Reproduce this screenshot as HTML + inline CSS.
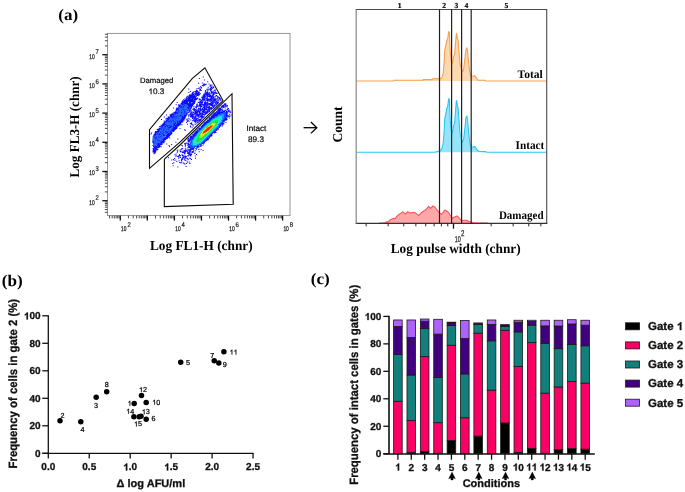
<!DOCTYPE html>
<html><head><meta charset="utf-8"><style>
html,body{margin:0;padding:0;background:#fff;}
svg{display:block;will-change:transform;}
</style></head><body>
<svg width="685" height="492" viewBox="0 0 685 492" text-rendering="geometricPrecision">
<rect width="685" height="492" fill="#fff"/>
<text x="58.30" y="19.50" font-family="'Liberation Serif', serif" font-size="16" font-weight="bold" text-anchor="start" fill="#000"  textLength="19.8" lengthAdjust="spacingAndGlyphs">(a)</text>
<path d="M156.6 141.0h1.0v1.0h-1.0zM170.7 125.2h1.0v1.0h-1.0zM188.2 105.3h1.0v1.0h-1.0zM160.8 135.8h1.0v1.0h-1.0zM155.7 140.1h1.0v1.0h-1.0zM159.4 141.3h1.0v1.0h-1.0zM179.9 121.7h1.0v1.0h-1.0zM153.4 149.3h1.0v1.0h-1.0zM172.5 115.2h1.0v1.0h-1.0zM153.6 150.4h1.0v1.0h-1.0zM168.9 132.6h1.0v1.0h-1.0zM164.2 125.7h1.0v1.0h-1.0zM169.4 130.5h1.0v1.0h-1.0zM183.1 115.5h1.0v1.0h-1.0zM177.7 122.8h1.0v1.0h-1.0zM166.9 122.9h1.0v1.0h-1.0zM182.1 103.7h1.0v1.0h-1.0zM157.8 129.8h1.0v1.0h-1.0zM169.6 129.5h1.0v1.0h-1.0zM153.9 143.6h1.0v1.0h-1.0zM156.3 138.9h1.0v1.0h-1.0zM191.0 97.1h1.0v1.0h-1.0zM171.8 123.7h1.0v1.0h-1.0zM190.0 99.3h1.0v1.0h-1.0zM188.6 105.3h1.0v1.0h-1.0zM176.0 108.6h1.0v1.0h-1.0zM171.1 129.0h1.0v1.0h-1.0zM192.8 100.6h1.0v1.0h-1.0zM152.5 145.1h1.0v1.0h-1.0zM181.2 119.6h1.0v1.0h-1.0zM155.3 144.2h1.0v1.0h-1.0zM179.8 114.5h1.0v1.0h-1.0zM170.6 119.2h1.0v1.0h-1.0zM172.7 119.0h1.0v1.0h-1.0zM193.5 101.9h1.0v1.0h-1.0zM175.8 125.4h1.0v1.0h-1.0zM155.7 145.2h1.0v1.0h-1.0zM187.2 104.0h1.0v1.0h-1.0zM169.6 129.5h1.0v1.0h-1.0zM168.5 119.7h1.0v1.0h-1.0zM178.6 114.0h1.0v1.0h-1.0zM189.6 100.9h1.0v1.0h-1.0zM175.8 124.3h1.0v1.0h-1.0zM157.5 130.2h1.0v1.0h-1.0zM199.3 89.5h1.0v1.0h-1.0zM165.8 126.9h1.0v1.0h-1.0zM170.7 126.9h1.0v1.0h-1.0zM175.3 124.3h1.0v1.0h-1.0zM165.9 135.1h1.0v1.0h-1.0zM195.4 93.0h1.0v1.0h-1.0zM165.9 128.1h1.0v1.0h-1.0zM166.3 132.8h1.0v1.0h-1.0zM196.3 98.1h1.0v1.0h-1.0zM190.2 104.0h1.0v1.0h-1.0zM182.1 111.0h1.0v1.0h-1.0zM174.5 125.6h1.0v1.0h-1.0zM169.5 129.5h1.0v1.0h-1.0zM173.9 127.7h1.0v1.0h-1.0zM167.9 135.1h1.0v1.0h-1.0zM154.4 135.3h1.0v1.0h-1.0zM170.6 126.1h1.0v1.0h-1.0zM162.3 127.5h1.0v1.0h-1.0zM187.7 109.2h1.0v1.0h-1.0zM193.6 95.1h1.0v1.0h-1.0zM191.4 105.5h1.0v1.0h-1.0zM177.1 117.8h1.0v1.0h-1.0zM178.2 110.2h1.0v1.0h-1.0zM192.3 101.4h1.0v1.0h-1.0zM164.1 139.0h1.0v1.0h-1.0zM170.3 116.0h1.0v1.0h-1.0zM187.2 100.0h1.0v1.0h-1.0zM154.1 134.6h1.0v1.0h-1.0zM185.2 105.2h1.0v1.0h-1.0zM188.1 99.6h1.0v1.0h-1.0zM172.6 127.6h1.0v1.0h-1.0zM182.4 112.2h1.0v1.0h-1.0zM185.5 99.6h1.0v1.0h-1.0zM153.3 134.7h1.0v1.0h-1.0zM164.9 129.6h1.0v1.0h-1.0zM155.5 142.2h1.0v1.0h-1.0zM177.1 117.7h1.0v1.0h-1.0zM173.3 127.0h1.0v1.0h-1.0zM187.1 101.2h1.0v1.0h-1.0zM187.8 100.5h1.0v1.0h-1.0zM195.1 91.2h1.0v1.0h-1.0zM173.3 118.2h1.0v1.0h-1.0zM174.7 126.3h1.0v1.0h-1.0zM184.1 108.5h1.0v1.0h-1.0zM161.0 133.9h1.0v1.0h-1.0zM159.7 133.1h1.0v1.0h-1.0zM160.4 135.9h1.0v1.0h-1.0zM194.0 101.4h1.0v1.0h-1.0zM164.9 134.6h1.0v1.0h-1.0zM169.5 118.2h1.0v1.0h-1.0zM191.2 97.0h1.0v1.0h-1.0zM171.8 114.0h1.0v1.0h-1.0zM154.4 147.6h1.0v1.0h-1.0zM179.9 116.4h1.0v1.0h-1.0zM162.0 135.8h1.0v1.0h-1.0zM160.9 132.9h1.0v1.0h-1.0zM182.8 109.2h1.0v1.0h-1.0zM186.6 101.6h1.0v1.0h-1.0zM183.0 108.0h1.0v1.0h-1.0zM181.3 104.6h1.0v1.0h-1.0zM188.3 104.4h1.0v1.0h-1.0zM177.3 108.2h1.0v1.0h-1.0zM157.1 142.9h1.0v1.0h-1.0zM162.5 132.2h1.0v1.0h-1.0zM187.9 103.8h1.0v1.0h-1.0zM184.5 101.8h1.0v1.0h-1.0zM176.6 123.5h1.0v1.0h-1.0zM163.5 123.4h1.0v1.0h-1.0zM176.8 109.7h1.0v1.0h-1.0zM164.8 131.7h1.0v1.0h-1.0zM178.6 111.7h1.0v1.0h-1.0zM190.5 99.8h1.0v1.0h-1.0zM172.2 121.7h1.0v1.0h-1.0zM155.9 145.7h1.0v1.0h-1.0zM180.7 120.3h1.0v1.0h-1.0zM191.1 100.2h1.0v1.0h-1.0zM170.3 126.5h1.0v1.0h-1.0zM193.4 103.3h1.0v1.0h-1.0zM184.1 114.3h1.0v1.0h-1.0zM187.0 98.2h1.0v1.0h-1.0zM153.8 139.3h1.0v1.0h-1.0zM175.0 128.5h1.0v1.0h-1.0zM171.0 127.2h1.0v1.0h-1.0zM182.6 110.7h1.0v1.0h-1.0zM164.5 127.5h1.0v1.0h-1.0zM171.9 120.9h1.0v1.0h-1.0zM173.4 129.3h1.0v1.0h-1.0zM181.8 118.5h1.0v1.0h-1.0zM160.8 132.0h1.0v1.0h-1.0zM154.4 140.7h1.0v1.0h-1.0zM165.6 136.2h1.0v1.0h-1.0zM172.2 118.5h1.0v1.0h-1.0zM167.3 131.9h1.0v1.0h-1.0zM170.2 118.8h1.0v1.0h-1.0zM182.8 114.0h1.0v1.0h-1.0zM163.3 132.5h1.0v1.0h-1.0zM160.1 142.2h1.0v1.0h-1.0zM169.6 129.6h1.0v1.0h-1.0zM169.2 118.0h1.0v1.0h-1.0zM197.1 97.6h1.0v1.0h-1.0zM175.3 126.3h1.0v1.0h-1.0zM160.5 131.6h1.0v1.0h-1.0zM168.5 131.6h1.0v1.0h-1.0zM181.4 104.6h1.0v1.0h-1.0zM165.8 131.5h1.0v1.0h-1.0zM158.0 140.6h1.0v1.0h-1.0zM186.8 106.7h1.0v1.0h-1.0zM175.6 117.1h1.0v1.0h-1.0zM199.0 91.7h1.0v1.0h-1.0zM171.8 115.0h1.0v1.0h-1.0zM162.1 125.4h1.0v1.0h-1.0zM160.6 133.6h1.0v1.0h-1.0zM176.2 110.1h1.0v1.0h-1.0zM174.6 115.2h1.0v1.0h-1.0zM186.4 101.6h1.0v1.0h-1.0zM185.4 107.4h1.0v1.0h-1.0zM158.8 138.6h1.0v1.0h-1.0zM184.1 115.2h1.0v1.0h-1.0zM153.1 137.8h1.0v1.0h-1.0zM155.1 151.5h1.0v1.0h-1.0zM177.3 121.0h1.0v1.0h-1.0zM176.9 122.1h1.0v1.0h-1.0zM172.5 117.6h1.0v1.0h-1.0zM154.2 150.8h1.0v1.0h-1.0zM170.8 116.8h1.0v1.0h-1.0zM160.7 142.0h1.0v1.0h-1.0zM161.1 139.2h1.0v1.0h-1.0zM185.4 105.6h1.0v1.0h-1.0zM156.2 141.9h1.0v1.0h-1.0zM164.3 125.4h1.0v1.0h-1.0zM162.9 142.2h1.0v1.0h-1.0zM194.6 92.9h1.0v1.0h-1.0zM165.4 126.4h1.0v1.0h-1.0zM156.7 142.6h1.0v1.0h-1.0zM179.1 121.8h1.0v1.0h-1.0zM172.9 117.5h1.0v1.0h-1.0zM154.7 142.6h1.0v1.0h-1.0zM193.8 93.6h1.0v1.0h-1.0zM154.2 150.2h1.0v1.0h-1.0zM188.6 101.2h1.0v1.0h-1.0zM186.6 110.3h1.0v1.0h-1.0zM181.9 109.1h1.0v1.0h-1.0zM167.5 124.3h1.0v1.0h-1.0zM177.7 125.0h1.0v1.0h-1.0zM186.5 107.9h1.0v1.0h-1.0zM185.7 102.5h1.0v1.0h-1.0zM163.5 139.3h1.0v1.0h-1.0zM166.4 127.0h1.0v1.0h-1.0zM180.7 103.4h1.0v1.0h-1.0zM177.5 111.6h1.0v1.0h-1.0zM186.4 99.4h1.0v1.0h-1.0zM157.4 128.7h1.0v1.0h-1.0zM153.1 143.2h1.0v1.0h-1.0zM186.1 102.2h1.0v1.0h-1.0zM154.7 151.7h1.0v1.0h-1.0zM190.2 102.6h1.0v1.0h-1.0zM195.2 96.7h1.0v1.0h-1.0zM170.6 131.0h1.0v1.0h-1.0zM153.2 147.6h1.0v1.0h-1.0zM155.8 147.7h1.0v1.0h-1.0zM168.6 125.7h1.0v1.0h-1.0zM157.0 130.9h1.0v1.0h-1.0zM170.6 118.8h1.0v1.0h-1.0zM188.5 99.3h1.0v1.0h-1.0zM157.0 138.1h1.0v1.0h-1.0zM153.6 151.5h1.0v1.0h-1.0zM191.2 100.6h1.0v1.0h-1.0zM176.6 120.5h1.0v1.0h-1.0zM197.9 94.2h1.0v1.0h-1.0zM168.5 131.8h1.0v1.0h-1.0zM157.4 140.6h1.0v1.0h-1.0zM184.7 108.8h1.0v1.0h-1.0zM194.3 95.2h1.0v1.0h-1.0zM194.3 96.8h1.0v1.0h-1.0zM179.2 121.1h1.0v1.0h-1.0zM160.4 130.2h1.0v1.0h-1.0zM157.6 140.2h1.0v1.0h-1.0zM168.3 125.8h1.0v1.0h-1.0zM172.8 128.1h1.0v1.0h-1.0zM181.2 106.7h1.0v1.0h-1.0zM155.7 131.0h1.0v1.0h-1.0zM190.5 108.1h1.0v1.0h-1.0zM163.1 127.0h1.0v1.0h-1.0zM158.8 127.7h1.0v1.0h-1.0zM173.6 116.8h1.0v1.0h-1.0zM175.2 127.6h1.0v1.0h-1.0zM158.7 146.0h1.0v1.0h-1.0zM173.5 114.9h1.0v1.0h-1.0zM152.1 140.5h1.0v1.0h-1.0zM192.9 100.3h1.0v1.0h-1.0zM191.1 100.9h1.0v1.0h-1.0zM186.0 112.1h1.0v1.0h-1.0zM157.1 135.5h1.0v1.0h-1.0zM190.9 99.3h1.0v1.0h-1.0zM191.1 96.0h1.0v1.0h-1.0zM167.5 133.8h1.0v1.0h-1.0zM191.0 97.2h1.0v1.0h-1.0zM183.1 99.2h1.0v1.0h-1.0zM188.0 99.5h1.0v1.0h-1.0zM173.3 122.9h1.0v1.0h-1.0zM154.7 132.3h1.0v1.0h-1.0zM163.1 125.4h1.0v1.0h-1.0zM162.8 126.0h1.0v1.0h-1.0zM158.1 142.7h1.0v1.0h-1.0zM188.8 99.6h1.0v1.0h-1.0zM169.6 116.0h1.0v1.0h-1.0zM154.7 143.5h1.0v1.0h-1.0zM186.4 100.6h1.0v1.0h-1.0zM166.8 137.7h1.0v1.0h-1.0zM190.2 101.5h1.0v1.0h-1.0zM156.7 148.5h1.0v1.0h-1.0zM157.3 131.0h1.0v1.0h-1.0zM166.5 124.7h1.0v1.0h-1.0zM184.7 116.4h1.0v1.0h-1.0zM164.1 126.5h1.0v1.0h-1.0zM162.4 126.7h1.0v1.0h-1.0zM181.6 107.6h1.0v1.0h-1.0zM174.6 123.3h1.0v1.0h-1.0zM188.3 109.8h1.0v1.0h-1.0zM170.9 124.0h1.0v1.0h-1.0zM178.7 110.7h1.0v1.0h-1.0zM162.8 129.4h1.0v1.0h-1.0zM174.3 120.3h1.0v1.0h-1.0zM158.1 141.6h1.0v1.0h-1.0zM162.8 131.0h1.0v1.0h-1.0zM203.9 84.7h1.0v1.0h-1.0zM180.0 115.8h1.0v1.0h-1.0zM155.1 131.1h1.0v1.0h-1.0zM179.0 123.6h1.0v1.0h-1.0zM171.7 119.4h1.0v1.0h-1.0zM157.3 144.7h1.0v1.0h-1.0zM172.3 117.9h1.0v1.0h-1.0zM182.2 116.3h1.0v1.0h-1.0zM182.3 115.3h1.0v1.0h-1.0zM155.2 145.9h1.0v1.0h-1.0zM164.1 123.1h1.0v1.0h-1.0zM163.2 125.4h1.0v1.0h-1.0zM190.9 100.7h1.0v1.0h-1.0zM176.0 122.4h1.0v1.0h-1.0zM187.2 112.4h1.0v1.0h-1.0zM154.5 135.2h1.0v1.0h-1.0zM153.3 141.5h1.0v1.0h-1.0zM184.6 102.8h1.0v1.0h-1.0zM154.5 147.5h1.0v1.0h-1.0zM185.7 99.1h1.0v1.0h-1.0zM160.6 146.2h1.0v1.0h-1.0zM180.7 119.6h1.0v1.0h-1.0zM167.2 123.1h1.0v1.0h-1.0zM185.0 100.9h1.0v1.0h-1.0zM158.5 128.5h1.0v1.0h-1.0zM196.5 91.7h1.0v1.0h-1.0zM188.6 110.5h1.0v1.0h-1.0zM168.4 127.8h1.0v1.0h-1.0zM170.9 117.8h1.0v1.0h-1.0zM152.7 150.4h1.0v1.0h-1.0zM192.0 94.9h1.0v1.0h-1.0zM156.9 149.3h1.0v1.0h-1.0zM161.6 130.0h1.0v1.0h-1.0zM154.4 147.8h1.0v1.0h-1.0zM183.5 106.6h1.0v1.0h-1.0zM163.9 122.3h1.0v1.0h-1.0zM155.3 136.7h1.0v1.0h-1.0zM195.9 92.2h1.0v1.0h-1.0zM175.4 113.1h1.0v1.0h-1.0zM164.2 134.3h1.0v1.0h-1.0zM158.7 135.8h1.0v1.0h-1.0zM175.7 127.9h1.0v1.0h-1.0zM170.3 116.4h1.0v1.0h-1.0zM166.7 121.2h1.0v1.0h-1.0zM182.3 107.6h1.0v1.0h-1.0zM165.9 136.8h1.0v1.0h-1.0zM185.3 104.1h1.0v1.0h-1.0zM160.5 125.9h1.0v1.0h-1.0zM191.5 93.4h1.0v1.0h-1.0zM184.2 102.8h1.0v1.0h-1.0zM161.5 132.4h1.0v1.0h-1.0zM177.6 114.9h1.0v1.0h-1.0zM191.8 104.0h1.0v1.0h-1.0zM155.0 147.0h1.0v1.0h-1.0zM159.1 128.5h1.0v1.0h-1.0zM165.8 120.1h1.0v1.0h-1.0zM154.7 133.6h1.0v1.0h-1.0zM173.3 113.5h1.0v1.0h-1.0zM170.4 121.2h1.0v1.0h-1.0zM164.2 126.1h1.0v1.0h-1.0zM174.8 128.4h1.0v1.0h-1.0zM177.3 118.5h1.0v1.0h-1.0zM179.5 107.4h1.0v1.0h-1.0zM174.5 118.4h1.0v1.0h-1.0zM172.4 129.5h1.0v1.0h-1.0zM170.2 127.1h1.0v1.0h-1.0zM155.4 149.8h1.0v1.0h-1.0zM181.5 115.5h1.0v1.0h-1.0zM170.4 121.0h1.0v1.0h-1.0zM186.4 110.9h1.0v1.0h-1.0zM172.6 121.3h1.0v1.0h-1.0zM191.6 92.7h1.0v1.0h-1.0zM176.7 123.9h1.0v1.0h-1.0zM189.5 102.2h1.0v1.0h-1.0zM171.2 132.7h1.0v1.0h-1.0zM184.2 116.3h1.0v1.0h-1.0zM180.2 108.9h1.0v1.0h-1.0zM170.3 126.3h1.0v1.0h-1.0zM153.2 151.1h1.0v1.0h-1.0zM186.0 109.1h1.0v1.0h-1.0zM156.2 134.5h1.0v1.0h-1.0zM183.1 105.9h1.0v1.0h-1.0zM156.7 140.2h1.0v1.0h-1.0zM182.0 110.4h1.0v1.0h-1.0zM184.4 109.8h1.0v1.0h-1.0zM163.2 125.3h1.0v1.0h-1.0zM159.6 132.2h1.0v1.0h-1.0zM155.0 151.2h1.0v1.0h-1.0zM159.2 139.3h1.0v1.0h-1.0zM158.1 136.2h1.0v1.0h-1.0zM157.1 142.7h1.0v1.0h-1.0zM194.6 99.2h1.0v1.0h-1.0zM174.0 123.8h1.0v1.0h-1.0zM158.8 129.0h1.0v1.0h-1.0zM175.9 123.3h1.0v1.0h-1.0zM181.8 111.4h1.0v1.0h-1.0zM185.6 114.3h1.0v1.0h-1.0zM193.8 96.5h1.0v1.0h-1.0zM156.4 136.8h1.0v1.0h-1.0zM169.7 134.6h1.0v1.0h-1.0zM176.2 113.7h1.0v1.0h-1.0zM177.3 111.4h1.0v1.0h-1.0zM167.4 131.3h1.0v1.0h-1.0zM159.8 139.0h1.0v1.0h-1.0zM180.8 110.7h1.0v1.0h-1.0zM180.2 116.9h1.0v1.0h-1.0zM163.5 123.2h1.0v1.0h-1.0zM179.7 108.1h1.0v1.0h-1.0zM160.7 133.1h1.0v1.0h-1.0zM167.8 136.8h1.0v1.0h-1.0zM182.1 115.2h1.0v1.0h-1.0zM193.4 97.3h1.0v1.0h-1.0zM176.7 125.2h1.0v1.0h-1.0zM160.3 139.7h1.0v1.0h-1.0zM166.0 137.5h1.0v1.0h-1.0zM158.2 137.2h1.0v1.0h-1.0zM167.4 121.5h1.0v1.0h-1.0zM167.8 122.8h1.0v1.0h-1.0zM162.1 141.0h1.0v1.0h-1.0zM185.8 102.9h1.0v1.0h-1.0zM172.7 123.5h1.0v1.0h-1.0zM193.2 98.5h1.0v1.0h-1.0zM178.8 122.7h1.0v1.0h-1.0zM176.1 118.6h1.0v1.0h-1.0zM195.3 97.3h1.0v1.0h-1.0zM158.7 136.8h1.0v1.0h-1.0zM178.8 114.7h1.0v1.0h-1.0zM162.4 132.4h1.0v1.0h-1.0zM165.4 121.0h1.0v1.0h-1.0zM161.6 131.5h1.0v1.0h-1.0zM184.1 104.4h1.0v1.0h-1.0zM159.0 141.5h1.0v1.0h-1.0zM182.8 101.8h1.0v1.0h-1.0zM165.4 125.5h1.0v1.0h-1.0zM181.3 110.0h1.0v1.0h-1.0zM181.4 109.8h1.0v1.0h-1.0zM183.2 105.8h1.0v1.0h-1.0zM197.0 94.1h1.0v1.0h-1.0zM161.3 143.9h1.0v1.0h-1.0zM168.8 133.9h1.0v1.0h-1.0zM160.2 139.3h1.0v1.0h-1.0zM189.9 104.6h1.0v1.0h-1.0zM156.2 132.0h1.0v1.0h-1.0zM165.4 126.0h1.0v1.0h-1.0zM170.5 119.2h1.0v1.0h-1.0zM169.7 114.0h1.0v1.0h-1.0zM173.2 119.6h1.0v1.0h-1.0zM179.5 123.2h1.0v1.0h-1.0zM182.2 109.4h1.0v1.0h-1.0zM176.6 125.4h1.0v1.0h-1.0zM165.9 125.4h1.0v1.0h-1.0zM184.6 105.4h1.0v1.0h-1.0zM178.9 110.1h1.0v1.0h-1.0zM153.5 138.0h1.0v1.0h-1.0zM175.2 120.0h1.0v1.0h-1.0zM156.3 145.1h1.0v1.0h-1.0zM185.2 106.7h1.0v1.0h-1.0zM163.8 132.4h1.0v1.0h-1.0zM161.5 142.6h1.0v1.0h-1.0zM167.8 134.0h1.0v1.0h-1.0zM177.7 107.5h1.0v1.0h-1.0zM179.6 109.9h1.0v1.0h-1.0zM182.5 114.3h1.0v1.0h-1.0zM170.1 119.0h1.0v1.0h-1.0zM155.9 144.0h1.0v1.0h-1.0zM160.5 142.8h1.0v1.0h-1.0zM173.5 119.5h1.0v1.0h-1.0zM153.7 138.0h1.0v1.0h-1.0zM170.4 122.9h1.0v1.0h-1.0zM152.3 141.7h1.0v1.0h-1.0zM185.8 108.3h1.0v1.0h-1.0zM177.3 124.6h1.0v1.0h-1.0zM166.2 122.3h1.0v1.0h-1.0zM196.4 93.0h1.0v1.0h-1.0zM156.7 143.9h1.0v1.0h-1.0zM183.8 111.6h1.0v1.0h-1.0zM174.7 126.6h1.0v1.0h-1.0zM179.1 114.3h1.0v1.0h-1.0zM184.7 103.8h1.0v1.0h-1.0zM157.1 142.5h1.0v1.0h-1.0zM170.4 119.4h1.0v1.0h-1.0zM177.8 123.4h1.0v1.0h-1.0zM157.6 135.5h1.0v1.0h-1.0zM188.0 99.8h1.0v1.0h-1.0zM199.4 87.9h1.0v1.0h-1.0zM153.7 135.7h1.0v1.0h-1.0zM178.9 113.9h1.0v1.0h-1.0zM172.0 129.2h1.0v1.0h-1.0zM161.6 131.8h1.0v1.0h-1.0zM176.9 125.1h1.0v1.0h-1.0zM178.3 112.7h1.0v1.0h-1.0zM179.1 111.5h1.0v1.0h-1.0zM182.0 100.8h1.0v1.0h-1.0zM192.2 102.9h1.0v1.0h-1.0zM153.6 153.2h1.0v1.0h-1.0zM158.7 136.5h1.0v1.0h-1.0zM183.9 115.4h1.0v1.0h-1.0zM182.8 107.8h1.0v1.0h-1.0zM168.8 121.6h1.0v1.0h-1.0zM166.6 128.4h1.0v1.0h-1.0zM170.1 118.6h1.0v1.0h-1.0zM173.4 129.6h1.0v1.0h-1.0zM173.1 121.9h1.0v1.0h-1.0zM157.8 145.7h1.0v1.0h-1.0zM189.5 100.6h1.0v1.0h-1.0zM179.7 110.9h1.0v1.0h-1.0zM170.2 121.7h1.0v1.0h-1.0zM184.3 105.0h1.0v1.0h-1.0zM168.4 123.9h1.0v1.0h-1.0zM166.9 134.2h1.0v1.0h-1.0zM161.2 133.6h1.0v1.0h-1.0zM169.0 134.6h1.0v1.0h-1.0zM191.9 103.1h1.0v1.0h-1.0zM178.5 115.9h1.0v1.0h-1.0zM183.7 111.3h1.0v1.0h-1.0zM158.0 141.7h1.0v1.0h-1.0zM184.7 115.2h1.0v1.0h-1.0zM159.2 132.3h1.0v1.0h-1.0zM171.2 116.1h1.0v1.0h-1.0zM195.5 91.8h1.0v1.0h-1.0zM186.7 105.3h1.0v1.0h-1.0zM203.1 84.2h1.0v1.0h-1.0zM182.8 114.4h1.0v1.0h-1.0zM176.8 117.2h1.0v1.0h-1.0zM157.4 148.7h1.0v1.0h-1.0zM181.5 108.8h1.0v1.0h-1.0zM192.6 102.0h1.0v1.0h-1.0zM194.2 95.5h1.0v1.0h-1.0zM178.0 125.2h1.0v1.0h-1.0zM177.2 108.6h1.0v1.0h-1.0zM188.4 108.1h1.0v1.0h-1.0zM173.6 126.3h1.0v1.0h-1.0zM160.7 129.3h1.0v1.0h-1.0zM173.5 125.5h1.0v1.0h-1.0zM179.5 117.4h1.0v1.0h-1.0zM156.1 141.8h1.0v1.0h-1.0zM153.3 138.9h1.0v1.0h-1.0zM176.3 127.4h1.0v1.0h-1.0zM173.3 119.2h1.0v1.0h-1.0zM156.1 138.9h1.0v1.0h-1.0zM179.3 115.3h1.0v1.0h-1.0zM162.5 135.7h1.0v1.0h-1.0zM161.0 139.0h1.0v1.0h-1.0zM158.4 144.5h1.0v1.0h-1.0zM185.1 110.3h1.0v1.0h-1.0zM181.5 115.8h1.0v1.0h-1.0zM186.5 102.8h1.0v1.0h-1.0zM166.3 126.5h1.0v1.0h-1.0zM194.7 94.0h1.0v1.0h-1.0zM168.5 131.5h1.0v1.0h-1.0zM164.7 134.5h1.0v1.0h-1.0zM180.6 102.9h1.0v1.0h-1.0zM160.6 137.3h1.0v1.0h-1.0zM173.2 115.9h1.0v1.0h-1.0zM166.3 133.0h1.0v1.0h-1.0zM173.2 124.1h1.0v1.0h-1.0zM173.6 120.6h1.0v1.0h-1.0zM166.6 129.3h1.0v1.0h-1.0zM184.8 100.8h1.0v1.0h-1.0zM192.0 94.2h1.0v1.0h-1.0zM153.5 135.4h1.0v1.0h-1.0zM153.6 138.5h1.0v1.0h-1.0zM176.1 110.7h1.0v1.0h-1.0zM180.4 121.9h1.0v1.0h-1.0zM177.2 113.2h1.0v1.0h-1.0zM178.6 118.6h1.0v1.0h-1.0zM185.9 111.6h1.0v1.0h-1.0zM155.0 131.2h1.0v1.0h-1.0zM166.1 131.0h1.0v1.0h-1.0zM180.0 120.3h1.0v1.0h-1.0zM192.8 97.0h1.0v1.0h-1.0zM166.2 133.3h1.0v1.0h-1.0zM157.5 135.0h1.0v1.0h-1.0zM181.6 119.6h1.0v1.0h-1.0zM170.8 123.6h1.0v1.0h-1.0zM165.3 137.0h1.0v1.0h-1.0zM171.3 130.3h1.0v1.0h-1.0zM178.5 111.2h1.0v1.0h-1.0zM163.0 138.7h1.0v1.0h-1.0zM189.3 108.9h1.0v1.0h-1.0zM187.1 104.6h1.0v1.0h-1.0zM179.2 111.4h1.0v1.0h-1.0zM170.9 115.1h1.0v1.0h-1.0zM183.8 113.6h1.0v1.0h-1.0zM190.2 105.7h1.0v1.0h-1.0zM176.3 123.9h1.0v1.0h-1.0zM170.2 134.0h1.0v1.0h-1.0zM155.7 132.8h1.0v1.0h-1.0zM189.8 98.0h1.0v1.0h-1.0zM183.2 110.8h1.0v1.0h-1.0zM187.2 100.0h1.0v1.0h-1.0zM176.0 126.4h1.0v1.0h-1.0zM163.5 136.7h1.0v1.0h-1.0zM159.9 135.2h1.0v1.0h-1.0zM179.9 121.5h1.0v1.0h-1.0zM175.8 113.8h1.0v1.0h-1.0zM161.6 134.4h1.0v1.0h-1.0zM156.2 134.4h1.0v1.0h-1.0zM184.2 106.7h1.0v1.0h-1.0zM190.3 99.4h1.0v1.0h-1.0zM164.2 126.4h1.0v1.0h-1.0zM180.7 118.7h1.0v1.0h-1.0zM176.9 116.0h1.0v1.0h-1.0zM186.1 111.6h1.0v1.0h-1.0zM160.5 135.9h1.0v1.0h-1.0zM160.9 142.7h1.0v1.0h-1.0zM179.5 123.5h1.0v1.0h-1.0zM186.4 106.0h1.0v1.0h-1.0zM165.1 130.0h1.0v1.0h-1.0zM153.8 137.8h1.0v1.0h-1.0zM156.7 138.0h1.0v1.0h-1.0zM172.6 117.6h1.0v1.0h-1.0zM154.7 142.5h1.0v1.0h-1.0zM162.0 129.7h1.0v1.0h-1.0zM180.2 110.0h1.0v1.0h-1.0zM170.5 118.1h1.0v1.0h-1.0zM179.8 121.3h1.0v1.0h-1.0zM173.4 117.1h1.0v1.0h-1.0zM168.2 121.5h1.0v1.0h-1.0zM175.3 119.2h1.0v1.0h-1.0zM156.0 136.6h1.0v1.0h-1.0zM182.3 120.4h1.0v1.0h-1.0zM186.3 100.2h1.0v1.0h-1.0zM157.7 144.6h1.0v1.0h-1.0zM176.3 119.3h1.0v1.0h-1.0zM167.2 134.5h1.0v1.0h-1.0zM168.9 122.1h1.0v1.0h-1.0zM170.8 116.1h1.0v1.0h-1.0zM180.0 109.7h1.0v1.0h-1.0zM181.8 107.5h1.0v1.0h-1.0zM163.8 127.5h1.0v1.0h-1.0zM167.1 131.1h1.0v1.0h-1.0zM173.1 125.0h1.0v1.0h-1.0zM162.4 131.3h1.0v1.0h-1.0zM184.0 99.9h1.0v1.0h-1.0zM167.1 119.5h1.0v1.0h-1.0zM174.9 121.8h1.0v1.0h-1.0zM174.2 128.7h1.0v1.0h-1.0zM176.0 125.0h1.0v1.0h-1.0zM161.8 126.1h1.0v1.0h-1.0zM159.8 127.3h1.0v1.0h-1.0zM152.9 148.9h1.0v1.0h-1.0zM180.7 120.1h1.0v1.0h-1.0zM169.9 131.4h1.0v1.0h-1.0zM160.1 141.2h1.0v1.0h-1.0zM162.8 139.2h1.0v1.0h-1.0zM170.6 129.2h1.0v1.0h-1.0zM154.6 136.8h1.0v1.0h-1.0zM153.5 145.0h1.0v1.0h-1.0zM157.2 138.3h1.0v1.0h-1.0zM168.1 118.8h1.0v1.0h-1.0zM166.1 129.8h1.0v1.0h-1.0zM178.5 115.6h1.0v1.0h-1.0zM161.0 135.3h1.0v1.0h-1.0zM189.9 95.9h1.0v1.0h-1.0zM153.7 137.7h1.0v1.0h-1.0zM195.2 98.5h1.0v1.0h-1.0zM183.6 102.2h1.0v1.0h-1.0zM198.4 93.2h1.0v1.0h-1.0zM180.9 121.7h1.0v1.0h-1.0zM175.3 110.5h1.0v1.0h-1.0zM163.7 141.3h1.0v1.0h-1.0zM173.1 119.6h1.0v1.0h-1.0zM184.0 103.8h1.0v1.0h-1.0zM172.7 124.5h1.0v1.0h-1.0zM188.6 104.9h1.0v1.0h-1.0zM166.4 130.4h1.0v1.0h-1.0zM156.1 142.1h1.0v1.0h-1.0zM192.6 97.8h1.0v1.0h-1.0zM177.6 123.4h1.0v1.0h-1.0zM159.8 140.4h1.0v1.0h-1.0zM160.6 142.4h1.0v1.0h-1.0zM176.0 116.4h1.0v1.0h-1.0zM184.2 105.1h1.0v1.0h-1.0zM185.2 112.7h1.0v1.0h-1.0zM159.3 140.3h1.0v1.0h-1.0zM164.1 122.8h1.0v1.0h-1.0zM199.1 94.0h1.0v1.0h-1.0zM190.5 96.3h1.0v1.0h-1.0zM181.4 120.7h1.0v1.0h-1.0zM169.7 127.0h1.0v1.0h-1.0zM170.2 132.3h1.0v1.0h-1.0zM188.2 98.8h1.0v1.0h-1.0zM177.2 116.1h1.0v1.0h-1.0zM161.3 131.5h1.0v1.0h-1.0zM185.7 99.0h1.0v1.0h-1.0zM199.7 93.0h1.0v1.0h-1.0zM170.6 132.9h1.0v1.0h-1.0zM158.6 135.9h1.0v1.0h-1.0zM164.7 125.0h1.0v1.0h-1.0zM181.0 112.6h1.0v1.0h-1.0zM183.4 107.0h1.0v1.0h-1.0zM168.9 123.4h1.0v1.0h-1.0zM179.4 106.5h1.0v1.0h-1.0zM157.2 136.4h1.0v1.0h-1.0zM189.0 98.6h1.0v1.0h-1.0zM165.5 131.5h1.0v1.0h-1.0zM191.8 93.6h1.0v1.0h-1.0zM157.1 132.3h1.0v1.0h-1.0zM170.1 132.1h1.0v1.0h-1.0zM168.0 136.0h1.0v1.0h-1.0zM187.8 104.8h1.0v1.0h-1.0zM155.7 144.4h1.0v1.0h-1.0zM172.7 128.0h1.0v1.0h-1.0zM172.4 123.7h1.0v1.0h-1.0zM180.0 107.8h1.0v1.0h-1.0zM164.2 122.7h1.0v1.0h-1.0zM190.2 95.0h1.0v1.0h-1.0zM154.6 141.0h1.0v1.0h-1.0zM181.1 110.4h1.0v1.0h-1.0zM163.7 124.0h1.0v1.0h-1.0zM170.2 118.2h1.0v1.0h-1.0zM171.7 128.1h1.0v1.0h-1.0zM165.7 135.9h1.0v1.0h-1.0zM162.5 132.0h1.0v1.0h-1.0zM181.3 121.1h1.0v1.0h-1.0zM154.3 143.9h1.0v1.0h-1.0zM164.9 139.0h1.0v1.0h-1.0zM167.7 132.8h1.0v1.0h-1.0zM170.8 130.7h1.0v1.0h-1.0zM167.8 136.8h1.0v1.0h-1.0zM190.3 101.8h1.0v1.0h-1.0zM154.7 150.5h1.0v1.0h-1.0zM182.1 119.9h1.0v1.0h-1.0zM176.9 118.4h1.0v1.0h-1.0zM165.8 123.2h1.0v1.0h-1.0zM178.3 114.0h1.0v1.0h-1.0zM201.9 85.0h1.0v1.0h-1.0zM179.1 113.2h1.0v1.0h-1.0zM184.2 109.8h1.0v1.0h-1.0zM170.9 124.7h1.0v1.0h-1.0zM177.1 124.8h1.0v1.0h-1.0zM155.6 143.6h1.0v1.0h-1.0zM174.3 115.4h1.0v1.0h-1.0zM185.2 110.9h1.0v1.0h-1.0zM186.7 100.1h1.0v1.0h-1.0zM187.3 107.5h1.0v1.0h-1.0zM160.3 132.6h1.0v1.0h-1.0zM163.0 126.6h1.0v1.0h-1.0zM168.9 134.5h1.0v1.0h-1.0zM173.2 123.4h1.0v1.0h-1.0zM169.1 130.1h1.0v1.0h-1.0zM183.0 104.6h1.0v1.0h-1.0zM158.0 135.0h1.0v1.0h-1.0zM165.6 136.2h1.0v1.0h-1.0zM174.1 115.4h1.0v1.0h-1.0zM170.2 120.2h1.0v1.0h-1.0zM166.3 129.6h1.0v1.0h-1.0zM168.9 132.7h1.0v1.0h-1.0zM178.1 125.0h1.0v1.0h-1.0zM183.8 117.2h1.0v1.0h-1.0zM170.2 130.8h1.0v1.0h-1.0zM164.5 133.1h1.0v1.0h-1.0zM172.0 114.0h1.0v1.0h-1.0zM187.2 101.1h1.0v1.0h-1.0zM171.5 118.1h1.0v1.0h-1.0zM154.6 133.3h1.0v1.0h-1.0zM159.0 144.7h1.0v1.0h-1.0zM181.0 103.2h1.0v1.0h-1.0zM170.0 125.9h1.0v1.0h-1.0zM169.5 128.1h1.0v1.0h-1.0zM159.8 127.7h1.0v1.0h-1.0zM188.1 108.6h1.0v1.0h-1.0zM158.0 141.9h1.0v1.0h-1.0zM181.3 106.1h1.0v1.0h-1.0zM167.7 118.9h1.0v1.0h-1.0zM163.4 142.2h1.0v1.0h-1.0zM178.2 117.1h1.0v1.0h-1.0zM160.4 138.0h1.0v1.0h-1.0zM172.8 113.2h1.0v1.0h-1.0zM153.6 149.7h1.0v1.0h-1.0zM180.6 104.3h1.0v1.0h-1.0zM173.4 126.2h1.0v1.0h-1.0zM164.0 132.0h1.0v1.0h-1.0zM188.5 98.9h1.0v1.0h-1.0zM163.1 139.3h1.0v1.0h-1.0zM169.3 119.8h1.0v1.0h-1.0zM174.5 128.7h1.0v1.0h-1.0zM161.0 129.5h1.0v1.0h-1.0zM170.6 116.2h1.0v1.0h-1.0zM172.8 121.7h1.0v1.0h-1.0zM175.8 125.3h1.0v1.0h-1.0zM156.3 140.7h1.0v1.0h-1.0zM175.4 120.0h1.0v1.0h-1.0zM155.6 137.7h1.0v1.0h-1.0zM183.9 107.4h1.0v1.0h-1.0zM189.9 94.8h1.0v1.0h-1.0zM163.1 131.9h1.0v1.0h-1.0zM175.6 125.2h1.0v1.0h-1.0zM180.4 108.5h1.0v1.0h-1.0zM161.9 141.4h1.0v1.0h-1.0zM162.1 129.5h1.0v1.0h-1.0zM169.0 130.7h1.0v1.0h-1.0zM157.9 129.6h1.0v1.0h-1.0zM174.3 114.4h1.0v1.0h-1.0zM181.7 121.7h1.0v1.0h-1.0zM176.1 127.9h1.0v1.0h-1.0zM186.7 107.7h1.0v1.0h-1.0zM173.2 124.0h1.0v1.0h-1.0zM189.3 98.3h1.0v1.0h-1.0zM174.5 122.9h1.0v1.0h-1.0zM170.5 120.9h1.0v1.0h-1.0zM181.8 114.0h1.0v1.0h-1.0zM173.8 120.4h1.0v1.0h-1.0zM174.3 125.3h1.0v1.0h-1.0zM152.9 143.6h1.0v1.0h-1.0zM165.6 128.0h1.0v1.0h-1.0zM188.2 103.8h1.0v1.0h-1.0zM172.6 128.5h1.0v1.0h-1.0zM184.4 104.0h1.0v1.0h-1.0zM155.1 136.0h1.0v1.0h-1.0zM161.5 131.3h1.0v1.0h-1.0zM161.7 131.7h1.0v1.0h-1.0zM166.0 123.7h1.0v1.0h-1.0zM161.2 136.7h1.0v1.0h-1.0zM175.1 118.3h1.0v1.0h-1.0zM177.9 115.1h1.0v1.0h-1.0zM165.8 127.3h1.0v1.0h-1.0zM174.7 121.3h1.0v1.0h-1.0zM177.9 109.9h1.0v1.0h-1.0zM167.5 128.4h1.0v1.0h-1.0zM186.4 97.7h1.0v1.0h-1.0zM155.0 147.7h1.0v1.0h-1.0zM187.0 98.4h1.0v1.0h-1.0zM168.4 130.8h1.0v1.0h-1.0zM174.8 116.9h1.0v1.0h-1.0zM158.1 137.2h1.0v1.0h-1.0zM167.5 120.4h1.0v1.0h-1.0zM160.7 133.8h1.0v1.0h-1.0zM156.1 140.1h1.0v1.0h-1.0zM167.0 124.4h1.0v1.0h-1.0zM187.6 103.9h1.0v1.0h-1.0zM189.7 104.6h1.0v1.0h-1.0zM183.5 116.2h1.0v1.0h-1.0zM154.5 144.3h1.0v1.0h-1.0zM183.0 101.3h1.0v1.0h-1.0zM169.5 122.3h1.0v1.0h-1.0zM192.3 96.0h1.0v1.0h-1.0zM159.0 130.6h1.0v1.0h-1.0zM175.5 115.3h1.0v1.0h-1.0zM171.6 117.9h1.0v1.0h-1.0zM187.1 106.8h1.0v1.0h-1.0zM170.2 116.3h1.0v1.0h-1.0zM158.3 135.9h1.0v1.0h-1.0zM173.4 128.2h1.0v1.0h-1.0zM181.9 117.2h1.0v1.0h-1.0zM177.1 120.3h1.0v1.0h-1.0zM162.2 139.4h1.0v1.0h-1.0zM183.4 102.4h1.0v1.0h-1.0zM154.8 133.6h1.0v1.0h-1.0zM181.2 112.7h1.0v1.0h-1.0zM175.1 126.9h1.0v1.0h-1.0zM193.7 95.5h1.0v1.0h-1.0zM185.4 98.6h1.0v1.0h-1.0zM159.7 132.7h1.0v1.0h-1.0zM171.3 129.3h1.0v1.0h-1.0zM159.1 131.3h1.0v1.0h-1.0zM176.8 109.7h1.0v1.0h-1.0zM162.8 138.0h1.0v1.0h-1.0zM175.7 118.1h1.0v1.0h-1.0zM182.6 110.6h1.0v1.0h-1.0zM173.2 129.6h1.0v1.0h-1.0zM192.1 95.1h1.0v1.0h-1.0zM157.2 147.1h1.0v1.0h-1.0zM192.2 99.5h1.0v1.0h-1.0zM165.1 124.8h1.0v1.0h-1.0zM183.0 114.9h1.0v1.0h-1.0zM176.4 127.3h1.0v1.0h-1.0zM172.3 129.7h1.0v1.0h-1.0zM191.2 96.4h1.0v1.0h-1.0zM158.5 141.1h1.0v1.0h-1.0zM178.6 118.6h1.0v1.0h-1.0zM173.9 128.3h1.0v1.0h-1.0zM190.4 98.9h1.0v1.0h-1.0zM159.0 134.1h1.0v1.0h-1.0zM181.8 103.0h1.0v1.0h-1.0zM161.9 125.0h1.0v1.0h-1.0zM185.0 110.5h1.0v1.0h-1.0zM157.2 143.9h1.0v1.0h-1.0zM193.9 99.3h1.0v1.0h-1.0zM165.0 137.8h1.0v1.0h-1.0zM171.8 119.4h1.0v1.0h-1.0zM176.4 123.6h1.0v1.0h-1.0zM188.1 105.7h1.0v1.0h-1.0zM188.2 109.2h1.0v1.0h-1.0zM169.9 129.6h1.0v1.0h-1.0zM175.5 118.3h1.0v1.0h-1.0zM165.4 138.4h1.0v1.0h-1.0zM185.3 110.1h1.0v1.0h-1.0zM192.2 101.8h1.0v1.0h-1.0zM161.8 136.9h1.0v1.0h-1.0zM160.7 132.1h1.0v1.0h-1.0zM157.2 137.5h1.0v1.0h-1.0zM190.3 97.2h1.0v1.0h-1.0zM166.3 130.7h1.0v1.0h-1.0zM166.5 125.3h1.0v1.0h-1.0zM180.0 109.1h1.0v1.0h-1.0zM161.4 129.2h1.0v1.0h-1.0zM175.9 116.9h1.0v1.0h-1.0zM159.4 134.6h1.0v1.0h-1.0zM182.4 120.4h1.0v1.0h-1.0zM182.4 106.0h1.0v1.0h-1.0zM162.6 137.3h1.0v1.0h-1.0zM168.2 133.2h1.0v1.0h-1.0zM181.6 108.8h1.0v1.0h-1.0zM178.6 121.1h1.0v1.0h-1.0zM191.7 100.8h1.0v1.0h-1.0zM171.3 128.3h1.0v1.0h-1.0zM158.1 131.0h1.0v1.0h-1.0zM164.3 126.3h1.0v1.0h-1.0zM188.7 107.1h1.0v1.0h-1.0zM174.4 117.5h1.0v1.0h-1.0zM169.1 126.1h1.0v1.0h-1.0zM171.5 119.8h1.0v1.0h-1.0zM155.0 137.4h1.0v1.0h-1.0zM156.6 139.4h1.0v1.0h-1.0zM204.4 84.4h1.0v1.0h-1.0zM194.3 99.6h1.0v1.0h-1.0zM193.3 95.8h1.0v1.0h-1.0zM195.9 90.6h1.0v1.0h-1.0zM166.0 120.2h1.0v1.0h-1.0zM179.6 124.3h1.0v1.0h-1.0zM167.1 131.0h1.0v1.0h-1.0zM178.6 114.8h1.0v1.0h-1.0zM155.0 132.5h1.0v1.0h-1.0zM187.6 104.8h1.0v1.0h-1.0zM157.1 139.5h1.0v1.0h-1.0zM190.3 99.5h1.0v1.0h-1.0zM157.6 143.6h1.0v1.0h-1.0zM165.1 121.4h1.0v1.0h-1.0zM168.5 128.2h1.0v1.0h-1.0zM152.8 140.8h1.0v1.0h-1.0zM179.7 111.4h1.0v1.0h-1.0zM165.9 130.1h1.0v1.0h-1.0zM172.8 119.7h1.0v1.0h-1.0zM181.9 104.8h1.0v1.0h-1.0zM154.6 138.6h1.0v1.0h-1.0zM183.2 101.3h1.0v1.0h-1.0zM180.2 106.9h1.0v1.0h-1.0zM176.9 116.8h1.0v1.0h-1.0zM189.0 99.4h1.0v1.0h-1.0zM153.4 136.4h1.0v1.0h-1.0zM171.8 129.9h1.0v1.0h-1.0zM191.2 95.5h1.0v1.0h-1.0zM158.9 136.8h1.0v1.0h-1.0zM161.5 134.6h1.0v1.0h-1.0zM178.4 115.5h1.0v1.0h-1.0zM176.4 123.0h1.0v1.0h-1.0zM168.4 128.4h1.0v1.0h-1.0zM168.1 123.0h1.0v1.0h-1.0zM181.1 119.0h1.0v1.0h-1.0zM181.3 108.4h1.0v1.0h-1.0zM173.3 113.1h1.0v1.0h-1.0zM175.2 117.5h1.0v1.0h-1.0zM157.9 138.8h1.0v1.0h-1.0zM152.6 149.7h1.0v1.0h-1.0zM186.3 107.8h1.0v1.0h-1.0zM193.5 101.2h1.0v1.0h-1.0zM180.0 120.8h1.0v1.0h-1.0zM163.5 137.1h1.0v1.0h-1.0zM167.5 132.7h1.0v1.0h-1.0zM178.9 109.4h1.0v1.0h-1.0zM164.5 124.3h1.0v1.0h-1.0zM168.4 136.5h1.0v1.0h-1.0zM159.4 145.9h1.0v1.0h-1.0zM185.5 110.6h1.0v1.0h-1.0zM163.0 124.9h1.0v1.0h-1.0zM156.9 137.1h1.0v1.0h-1.0zM157.8 135.5h1.0v1.0h-1.0zM156.2 142.9h1.0v1.0h-1.0zM192.8 104.0h1.0v1.0h-1.0zM170.5 128.5h1.0v1.0h-1.0zM187.9 98.4h1.0v1.0h-1.0zM183.3 113.0h1.0v1.0h-1.0zM181.0 106.2h1.0v1.0h-1.0zM192.9 98.2h1.0v1.0h-1.0zM166.9 121.5h1.0v1.0h-1.0zM165.3 128.5h1.0v1.0h-1.0zM171.3 132.9h1.0v1.0h-1.0zM156.8 144.7h1.0v1.0h-1.0zM155.1 139.9h1.0v1.0h-1.0zM184.2 115.1h1.0v1.0h-1.0zM170.2 131.6h1.0v1.0h-1.0zM191.9 95.9h1.0v1.0h-1.0zM170.1 130.0h1.0v1.0h-1.0zM174.6 127.8h1.0v1.0h-1.0zM158.2 143.3h1.0v1.0h-1.0zM167.0 118.1h1.0v1.0h-1.0zM172.9 124.5h1.0v1.0h-1.0zM154.1 144.7h1.0v1.0h-1.0zM178.2 108.7h1.0v1.0h-1.0zM156.5 140.8h1.0v1.0h-1.0zM190.1 108.7h1.0v1.0h-1.0zM164.6 137.4h1.0v1.0h-1.0zM161.6 143.4h1.0v1.0h-1.0zM181.7 118.0h1.0v1.0h-1.0zM179.0 107.3h1.0v1.0h-1.0zM178.0 112.3h1.0v1.0h-1.0zM169.1 119.3h1.0v1.0h-1.0zM176.6 110.8h1.0v1.0h-1.0zM185.9 99.4h1.0v1.0h-1.0zM176.6 110.2h1.0v1.0h-1.0zM189.2 107.5h1.0v1.0h-1.0zM154.9 148.3h1.0v1.0h-1.0zM184.9 103.3h1.0v1.0h-1.0zM184.2 108.6h1.0v1.0h-1.0zM163.4 139.7h1.0v1.0h-1.0zM185.0 100.2h1.0v1.0h-1.0zM167.9 120.8h1.0v1.0h-1.0zM158.9 129.6h1.0v1.0h-1.0zM159.2 126.0h1.0v1.0h-1.0zM190.1 101.4h1.0v1.0h-1.0zM161.7 128.5h1.0v1.0h-1.0zM154.9 145.0h1.0v1.0h-1.0zM196.0 92.4h1.0v1.0h-1.0zM178.8 124.6h1.0v1.0h-1.0zM188.8 99.1h1.0v1.0h-1.0zM163.4 137.4h1.0v1.0h-1.0zM188.5 98.5h1.0v1.0h-1.0zM193.2 93.4h1.0v1.0h-1.0zM153.7 134.5h1.0v1.0h-1.0zM186.5 99.1h1.0v1.0h-1.0zM165.0 126.1h1.0v1.0h-1.0zM190.9 105.2h1.0v1.0h-1.0zM169.4 129.5h1.0v1.0h-1.0zM187.8 105.4h1.0v1.0h-1.0zM155.6 148.6h1.0v1.0h-1.0zM184.8 111.2h1.0v1.0h-1.0zM156.5 140.3h1.0v1.0h-1.0zM164.4 132.3h1.0v1.0h-1.0zM172.6 117.6h1.0v1.0h-1.0zM160.8 142.8h1.0v1.0h-1.0zM193.0 96.6h1.0v1.0h-1.0zM177.8 123.7h1.0v1.0h-1.0zM190.3 105.9h1.0v1.0h-1.0zM172.2 126.6h1.0v1.0h-1.0zM197.8 93.2h1.0v1.0h-1.0zM184.4 102.5h1.0v1.0h-1.0zM175.5 119.1h1.0v1.0h-1.0zM181.2 119.0h1.0v1.0h-1.0zM177.0 120.8h1.0v1.0h-1.0zM169.6 123.3h1.0v1.0h-1.0zM155.0 144.7h1.0v1.0h-1.0zM191.8 97.4h1.0v1.0h-1.0zM177.3 123.8h1.0v1.0h-1.0zM164.6 137.6h1.0v1.0h-1.0zM165.5 125.1h1.0v1.0h-1.0zM174.1 129.4h1.0v1.0h-1.0zM162.9 129.3h1.0v1.0h-1.0zM163.8 138.7h1.0v1.0h-1.0zM199.6 90.0h1.0v1.0h-1.0zM162.4 124.2h1.0v1.0h-1.0zM176.2 122.6h1.0v1.0h-1.0zM172.7 128.6h1.0v1.0h-1.0zM155.6 146.9h1.0v1.0h-1.0zM153.8 134.2h1.0v1.0h-1.0zM177.6 112.2h1.0v1.0h-1.0zM180.9 121.8h1.0v1.0h-1.0zM190.7 105.3h1.0v1.0h-1.0zM179.5 115.0h1.0v1.0h-1.0zM163.2 128.0h1.0v1.0h-1.0zM172.3 120.7h1.0v1.0h-1.0zM184.8 107.6h1.0v1.0h-1.0zM184.4 116.0h1.0v1.0h-1.0zM180.4 117.8h1.0v1.0h-1.0zM167.1 135.3h1.0v1.0h-1.0zM202.8 84.7h1.0v1.0h-1.0zM174.7 126.7h1.0v1.0h-1.0zM183.3 111.7h1.0v1.0h-1.0zM160.2 138.1h1.0v1.0h-1.0zM172.9 120.0h1.0v1.0h-1.0zM192.1 105.2h1.0v1.0h-1.0zM165.8 118.3h1.0v1.0h-1.0zM158.0 145.0h1.0v1.0h-1.0zM161.3 134.4h1.0v1.0h-1.0zM165.7 138.5h1.0v1.0h-1.0zM156.9 128.9h1.0v1.0h-1.0zM153.8 137.0h1.0v1.0h-1.0zM188.3 95.6h1.0v1.0h-1.0zM172.4 113.1h1.0v1.0h-1.0zM189.9 95.4h1.0v1.0h-1.0zM182.2 111.7h1.0v1.0h-1.0zM162.1 137.6h1.0v1.0h-1.0zM185.5 98.7h1.0v1.0h-1.0zM178.0 112.9h1.0v1.0h-1.0zM161.1 127.9h1.0v1.0h-1.0zM155.0 143.8h1.0v1.0h-1.0zM166.9 126.1h1.0v1.0h-1.0zM178.0 114.2h1.0v1.0h-1.0zM159.7 127.4h1.0v1.0h-1.0zM167.6 127.5h1.0v1.0h-1.0zM165.1 123.4h1.0v1.0h-1.0zM172.1 126.6h1.0v1.0h-1.0zM159.1 136.3h1.0v1.0h-1.0zM171.3 121.1h1.0v1.0h-1.0zM185.5 104.6h1.0v1.0h-1.0zM179.8 111.9h1.0v1.0h-1.0zM156.6 136.4h1.0v1.0h-1.0zM176.3 112.5h1.0v1.0h-1.0zM184.0 108.0h1.0v1.0h-1.0zM189.5 94.2h1.0v1.0h-1.0zM190.0 107.6h1.0v1.0h-1.0zM161.1 135.6h1.0v1.0h-1.0zM166.3 128.7h1.0v1.0h-1.0zM189.8 96.7h1.0v1.0h-1.0zM185.7 113.8h1.0v1.0h-1.0zM188.5 103.4h1.0v1.0h-1.0zM158.6 137.7h1.0v1.0h-1.0zM173.0 129.0h1.0v1.0h-1.0zM170.4 117.1h1.0v1.0h-1.0zM169.1 132.4h1.0v1.0h-1.0zM176.1 117.7h1.0v1.0h-1.0zM173.4 127.9h1.0v1.0h-1.0zM153.9 143.1h1.0v1.0h-1.0zM173.6 114.7h1.0v1.0h-1.0zM172.6 120.3h1.0v1.0h-1.0zM182.6 119.9h1.0v1.0h-1.0zM164.3 133.0h1.0v1.0h-1.0zM158.7 131.5h1.0v1.0h-1.0zM168.9 130.8h1.0v1.0h-1.0zM154.3 140.5h1.0v1.0h-1.0zM172.7 121.7h1.0v1.0h-1.0zM168.6 133.9h1.0v1.0h-1.0zM171.1 126.1h1.0v1.0h-1.0zM158.2 131.8h1.0v1.0h-1.0zM184.5 106.6h1.0v1.0h-1.0zM203.1 84.0h1.0v1.0h-1.0zM161.3 141.3h1.0v1.0h-1.0zM159.4 143.8h1.0v1.0h-1.0zM164.6 127.0h1.0v1.0h-1.0zM153.6 143.5h1.0v1.0h-1.0zM163.0 126.2h1.0v1.0h-1.0zM189.7 102.0h1.0v1.0h-1.0zM192.1 104.7h1.0v1.0h-1.0zM167.4 136.6h1.0v1.0h-1.0zM192.4 99.4h1.0v1.0h-1.0zM173.6 121.3h1.0v1.0h-1.0zM175.7 126.7h1.0v1.0h-1.0zM172.6 130.3h1.0v1.0h-1.0zM178.5 121.2h1.0v1.0h-1.0zM165.0 138.1h1.0v1.0h-1.0zM190.5 104.0h1.0v1.0h-1.0zM157.1 132.9h1.0v1.0h-1.0zM159.6 131.4h1.0v1.0h-1.0zM159.4 142.7h1.0v1.0h-1.0zM171.9 121.9h1.0v1.0h-1.0zM159.1 146.2h1.0v1.0h-1.0zM165.4 127.4h1.0v1.0h-1.0zM155.4 140.3h1.0v1.0h-1.0zM185.4 106.3h1.0v1.0h-1.0zM161.7 128.7h1.0v1.0h-1.0zM159.0 141.1h1.0v1.0h-1.0zM176.0 122.3h1.0v1.0h-1.0zM194.8 97.3h1.0v1.0h-1.0zM155.0 148.1h1.0v1.0h-1.0zM183.7 101.0h1.0v1.0h-1.0zM156.7 142.6h1.0v1.0h-1.0zM160.6 134.1h1.0v1.0h-1.0zM182.5 112.7h1.0v1.0h-1.0zM168.1 126.5h1.0v1.0h-1.0zM171.2 113.4h1.0v1.0h-1.0zM174.6 119.5h1.0v1.0h-1.0zM176.1 109.4h1.0v1.0h-1.0zM184.8 100.3h1.0v1.0h-1.0zM168.0 119.8h1.0v1.0h-1.0zM159.0 131.6h1.0v1.0h-1.0zM154.6 152.4h1.0v1.0h-1.0zM186.2 103.3h1.0v1.0h-1.0zM153.5 143.2h1.0v1.0h-1.0zM161.4 126.8h1.0v1.0h-1.0zM175.5 127.4h1.0v1.0h-1.0zM178.0 122.0h1.0v1.0h-1.0zM190.0 101.8h1.0v1.0h-1.0zM173.1 123.5h1.0v1.0h-1.0zM169.8 114.4h1.0v1.0h-1.0zM160.2 141.6h1.0v1.0h-1.0zM171.5 115.2h1.0v1.0h-1.0zM175.2 126.4h1.0v1.0h-1.0zM186.2 99.6h1.0v1.0h-1.0zM158.3 132.6h1.0v1.0h-1.0zM159.2 128.1h1.0v1.0h-1.0zM160.1 136.0h1.0v1.0h-1.0zM160.7 139.0h1.0v1.0h-1.0zM180.5 107.8h1.0v1.0h-1.0zM180.6 104.8h1.0v1.0h-1.0zM185.6 106.1h1.0v1.0h-1.0zM158.4 141.1h1.0v1.0h-1.0zM153.4 149.8h1.0v1.0h-1.0zM183.8 100.9h1.0v1.0h-1.0zM176.4 108.7h1.0v1.0h-1.0zM172.7 114.6h1.0v1.0h-1.0zM169.0 132.0h1.0v1.0h-1.0zM155.2 141.7h1.0v1.0h-1.0zM159.7 128.7h1.0v1.0h-1.0zM154.0 150.5h1.0v1.0h-1.0zM158.3 146.3h1.0v1.0h-1.0zM183.7 112.5h1.0v1.0h-1.0zM177.2 119.0h1.0v1.0h-1.0zM182.4 102.9h1.0v1.0h-1.0zM161.6 141.7h1.0v1.0h-1.0zM186.7 102.9h1.0v1.0h-1.0zM188.7 99.4h1.0v1.0h-1.0zM155.8 133.9h1.0v1.0h-1.0zM158.5 146.0h1.0v1.0h-1.0zM186.3 110.5h1.0v1.0h-1.0zM153.6 136.2h1.0v1.0h-1.0zM157.0 146.9h1.0v1.0h-1.0zM163.0 123.5h1.0v1.0h-1.0zM189.1 104.2h1.0v1.0h-1.0zM178.4 105.9h1.0v1.0h-1.0zM162.7 139.1h1.0v1.0h-1.0zM182.8 102.0h1.0v1.0h-1.0zM193.8 95.3h1.0v1.0h-1.0zM162.2 141.5h1.0v1.0h-1.0zM187.3 105.7h1.0v1.0h-1.0zM160.7 140.2h1.0v1.0h-1.0zM181.1 108.8h1.0v1.0h-1.0zM186.5 114.0h1.0v1.0h-1.0zM191.6 97.1h1.0v1.0h-1.0zM179.6 109.1h1.0v1.0h-1.0zM173.9 122.5h1.0v1.0h-1.0zM176.4 123.9h1.0v1.0h-1.0zM168.0 135.9h1.0v1.0h-1.0zM168.2 123.7h1.0v1.0h-1.0zM158.4 147.0h1.0v1.0h-1.0zM184.9 114.5h1.0v1.0h-1.0zM175.0 122.7h1.0v1.0h-1.0zM156.7 141.4h1.0v1.0h-1.0zM168.3 122.6h1.0v1.0h-1.0zM177.9 124.8h1.0v1.0h-1.0zM164.1 125.6h1.0v1.0h-1.0zM168.6 123.2h1.0v1.0h-1.0zM180.4 120.8h1.0v1.0h-1.0zM167.2 124.7h1.0v1.0h-1.0zM179.5 115.8h1.0v1.0h-1.0zM168.4 133.5h1.0v1.0h-1.0zM158.7 129.2h1.0v1.0h-1.0zM185.6 115.0h1.0v1.0h-1.0zM159.9 141.5h1.0v1.0h-1.0zM175.9 124.2h1.0v1.0h-1.0zM177.5 111.0h1.0v1.0h-1.0zM180.6 105.8h1.0v1.0h-1.0zM191.5 98.6h1.0v1.0h-1.0zM179.7 117.6h1.0v1.0h-1.0zM170.1 124.8h1.0v1.0h-1.0zM184.7 117.2h1.0v1.0h-1.0zM160.3 142.2h1.0v1.0h-1.0zM176.7 118.4h1.0v1.0h-1.0zM153.8 138.8h1.0v1.0h-1.0zM186.8 98.8h1.0v1.0h-1.0zM182.7 102.6h1.0v1.0h-1.0zM173.6 130.0h1.0v1.0h-1.0zM182.5 115.1h1.0v1.0h-1.0zM166.4 123.1h1.0v1.0h-1.0zM191.2 99.4h1.0v1.0h-1.0zM172.7 125.4h1.0v1.0h-1.0zM158.7 134.4h1.0v1.0h-1.0zM173.0 122.3h1.0v1.0h-1.0zM199.7 89.5h1.0v1.0h-1.0zM169.2 130.2h1.0v1.0h-1.0zM162.7 138.5h1.0v1.0h-1.0zM161.2 138.1h1.0v1.0h-1.0zM179.5 117.9h1.0v1.0h-1.0zM184.9 110.6h1.0v1.0h-1.0zM157.7 145.9h1.0v1.0h-1.0zM163.1 131.5h1.0v1.0h-1.0zM155.3 131.5h1.0v1.0h-1.0zM172.5 124.5h1.0v1.0h-1.0zM181.8 120.5h1.0v1.0h-1.0zM162.8 125.1h1.0v1.0h-1.0zM189.6 105.2h1.0v1.0h-1.0zM154.2 142.4h1.0v1.0h-1.0zM179.6 111.4h1.0v1.0h-1.0zM157.3 134.8h1.0v1.0h-1.0zM157.4 147.0h1.0v1.0h-1.0zM160.8 138.2h1.0v1.0h-1.0zM165.5 125.6h1.0v1.0h-1.0zM165.9 135.0h1.0v1.0h-1.0zM185.4 103.9h1.0v1.0h-1.0zM163.9 129.9h1.0v1.0h-1.0zM162.4 130.6h1.0v1.0h-1.0zM163.4 141.5h1.0v1.0h-1.0zM179.1 107.9h1.0v1.0h-1.0zM170.7 123.4h1.0v1.0h-1.0zM203.5 84.2h1.0v1.0h-1.0zM168.8 134.4h1.0v1.0h-1.0zM164.0 135.0h1.0v1.0h-1.0zM187.5 107.3h1.0v1.0h-1.0zM193.6 95.3h1.0v1.0h-1.0zM167.7 118.8h1.0v1.0h-1.0zM175.9 109.7h1.0v1.0h-1.0zM183.4 107.3h1.0v1.0h-1.0zM157.4 129.7h1.0v1.0h-1.0zM195.4 98.5h1.0v1.0h-1.0zM191.9 104.3h1.0v1.0h-1.0zM157.4 138.9h1.0v1.0h-1.0zM178.7 118.9h1.0v1.0h-1.0zM172.0 130.8h1.0v1.0h-1.0zM156.3 149.2h1.0v1.0h-1.0zM173.0 118.5h1.0v1.0h-1.0zM189.4 94.3h1.0v1.0h-1.0zM153.8 134.3h1.0v1.0h-1.0zM169.1 135.2h1.0v1.0h-1.0zM194.1 98.8h1.0v1.0h-1.0zM167.0 119.4h1.0v1.0h-1.0zM163.6 121.9h1.0v1.0h-1.0zM164.8 131.8h1.0v1.0h-1.0zM195.6 95.9h1.0v1.0h-1.0zM179.0 116.5h1.0v1.0h-1.0zM176.8 117.9h1.0v1.0h-1.0zM153.0 140.3h1.0v1.0h-1.0zM176.9 110.5h1.0v1.0h-1.0zM184.8 110.5h1.0v1.0h-1.0zM166.0 127.1h1.0v1.0h-1.0zM192.2 96.7h1.0v1.0h-1.0zM171.6 114.7h1.0v1.0h-1.0zM166.6 124.9h1.0v1.0h-1.0zM168.8 121.7h1.0v1.0h-1.0zM160.1 132.2h1.0v1.0h-1.0zM176.1 121.9h1.0v1.0h-1.0zM168.8 119.3h1.0v1.0h-1.0zM173.3 115.9h1.0v1.0h-1.0zM184.0 105.0h1.0v1.0h-1.0zM164.3 131.6h1.0v1.0h-1.0zM165.3 126.6h1.0v1.0h-1.0zM166.6 121.8h1.0v1.0h-1.0zM180.3 113.1h1.0v1.0h-1.0zM159.3 135.2h1.0v1.0h-1.0zM182.5 111.0h1.0v1.0h-1.0zM163.9 129.2h1.0v1.0h-1.0zM169.3 123.4h1.0v1.0h-1.0zM175.0 120.3h1.0v1.0h-1.0zM178.2 117.3h1.0v1.0h-1.0zM190.4 105.0h1.0v1.0h-1.0zM179.5 104.5h1.0v1.0h-1.0zM153.7 138.0h1.0v1.0h-1.0zM164.3 139.2h1.0v1.0h-1.0zM155.5 133.5h1.0v1.0h-1.0zM185.4 106.9h1.0v1.0h-1.0zM187.4 104.7h1.0v1.0h-1.0zM160.4 133.7h1.0v1.0h-1.0zM191.8 103.7h1.0v1.0h-1.0zM186.9 105.9h1.0v1.0h-1.0zM198.3 91.5h1.0v1.0h-1.0zM165.9 122.0h1.0v1.0h-1.0zM191.4 97.2h1.0v1.0h-1.0zM163.7 123.1h1.0v1.0h-1.0zM159.5 133.0h1.0v1.0h-1.0zM167.8 122.6h1.0v1.0h-1.0zM159.1 134.9h1.0v1.0h-1.0zM162.5 134.1h1.0v1.0h-1.0zM158.6 143.7h1.0v1.0h-1.0zM168.3 135.4h1.0v1.0h-1.0zM168.3 122.8h1.0v1.0h-1.0zM157.4 142.3h1.0v1.0h-1.0zM184.1 110.5h1.0v1.0h-1.0zM153.6 136.2h1.0v1.0h-1.0zM185.6 103.4h1.0v1.0h-1.0zM169.0 120.0h1.0v1.0h-1.0zM163.8 138.1h1.0v1.0h-1.0zM173.9 113.5h1.0v1.0h-1.0zM158.0 140.7h1.0v1.0h-1.0zM185.7 106.9h1.0v1.0h-1.0zM166.1 131.4h1.0v1.0h-1.0zM155.0 136.5h1.0v1.0h-1.0zM155.6 144.8h1.0v1.0h-1.0zM179.4 115.7h1.0v1.0h-1.0zM156.4 131.1h1.0v1.0h-1.0zM170.3 127.4h1.0v1.0h-1.0zM178.5 122.9h1.0v1.0h-1.0zM171.3 121.5h1.0v1.0h-1.0zM192.2 93.6h1.0v1.0h-1.0zM174.1 120.3h1.0v1.0h-1.0zM153.1 142.8h1.0v1.0h-1.0zM191.4 100.4h1.0v1.0h-1.0zM170.7 133.5h1.0v1.0h-1.0zM173.3 130.9h1.0v1.0h-1.0zM160.3 132.6h1.0v1.0h-1.0zM182.1 117.0h1.0v1.0h-1.0zM178.2 110.0h1.0v1.0h-1.0zM170.7 127.9h1.0v1.0h-1.0zM157.3 132.4h1.0v1.0h-1.0zM166.2 135.7h1.0v1.0h-1.0zM177.2 108.5h1.0v1.0h-1.0zM180.5 119.6h1.0v1.0h-1.0zM171.3 132.0h1.0v1.0h-1.0zM182.4 111.7h1.0v1.0h-1.0zM185.7 103.2h1.0v1.0h-1.0zM181.6 114.0h1.0v1.0h-1.0zM153.5 142.3h1.0v1.0h-1.0zM166.5 136.1h1.0v1.0h-1.0zM188.1 111.7h1.0v1.0h-1.0zM188.8 96.2h1.0v1.0h-1.0zM157.3 133.0h1.0v1.0h-1.0zM172.2 130.5h1.0v1.0h-1.0zM157.6 129.8h1.0v1.0h-1.0zM160.7 128.1h1.0v1.0h-1.0zM161.0 127.1h1.0v1.0h-1.0zM191.2 100.4h1.0v1.0h-1.0zM181.5 116.9h1.0v1.0h-1.0zM181.6 109.2h1.0v1.0h-1.0zM169.2 123.4h1.0v1.0h-1.0zM181.7 105.4h1.0v1.0h-1.0zM187.5 96.5h1.0v1.0h-1.0zM171.3 127.1h1.0v1.0h-1.0zM156.6 135.0h1.0v1.0h-1.0zM165.6 121.2h1.0v1.0h-1.0zM165.7 130.4h1.0v1.0h-1.0zM185.5 108.7h1.0v1.0h-1.0zM182.1 100.9h1.0v1.0h-1.0zM164.3 129.1h1.0v1.0h-1.0zM172.4 125.6h1.0v1.0h-1.0zM172.5 127.2h1.0v1.0h-1.0zM189.8 94.8h1.0v1.0h-1.0zM194.5 98.2h1.0v1.0h-1.0zM161.2 138.8h1.0v1.0h-1.0zM180.1 109.9h1.0v1.0h-1.0zM188.3 106.4h1.0v1.0h-1.0zM155.1 140.8h1.0v1.0h-1.0zM161.7 138.1h1.0v1.0h-1.0zM173.4 116.9h1.0v1.0h-1.0zM167.1 133.5h1.0v1.0h-1.0zM161.2 129.1h1.0v1.0h-1.0zM168.6 132.8h1.0v1.0h-1.0zM166.4 136.6h1.0v1.0h-1.0zM184.7 106.7h1.0v1.0h-1.0zM154.6 132.7h1.0v1.0h-1.0zM173.1 121.2h1.0v1.0h-1.0zM179.7 114.6h1.0v1.0h-1.0zM188.8 109.1h1.0v1.0h-1.0zM186.2 97.8h1.0v1.0h-1.0zM176.8 107.8h1.0v1.0h-1.0zM185.5 109.3h1.0v1.0h-1.0zM179.7 109.9h1.0v1.0h-1.0zM182.0 112.3h1.0v1.0h-1.0zM162.6 124.5h1.0v1.0h-1.0zM156.8 143.2h1.0v1.0h-1.0zM189.7 102.9h1.0v1.0h-1.0zM190.3 100.1h1.0v1.0h-1.0zM171.7 124.1h1.0v1.0h-1.0zM187.7 102.9h1.0v1.0h-1.0zM187.3 107.8h1.0v1.0h-1.0zM191.2 96.4h1.0v1.0h-1.0zM166.3 133.6h1.0v1.0h-1.0zM171.3 126.0h1.0v1.0h-1.0zM171.0 118.1h1.0v1.0h-1.0zM168.4 128.4h1.0v1.0h-1.0zM155.4 139.7h1.0v1.0h-1.0zM180.4 115.5h1.0v1.0h-1.0zM170.2 130.3h1.0v1.0h-1.0zM173.1 115.3h1.0v1.0h-1.0zM166.1 120.6h1.0v1.0h-1.0zM175.5 112.6h1.0v1.0h-1.0zM156.0 139.1h1.0v1.0h-1.0zM181.2 107.1h1.0v1.0h-1.0zM155.0 141.1h1.0v1.0h-1.0zM162.4 133.2h1.0v1.0h-1.0zM188.7 101.3h1.0v1.0h-1.0zM164.0 124.1h1.0v1.0h-1.0zM179.1 116.6h1.0v1.0h-1.0zM186.2 113.1h1.0v1.0h-1.0zM154.7 140.0h1.0v1.0h-1.0zM170.9 130.3h1.0v1.0h-1.0zM180.6 107.0h1.0v1.0h-1.0zM171.5 117.0h1.0v1.0h-1.0zM155.5 144.1h1.0v1.0h-1.0zM184.3 101.2h1.0v1.0h-1.0zM156.7 139.2h1.0v1.0h-1.0zM169.6 129.0h1.0v1.0h-1.0zM178.5 107.0h1.0v1.0h-1.0zM176.8 115.8h1.0v1.0h-1.0zM171.6 128.3h1.0v1.0h-1.0zM169.7 127.9h1.0v1.0h-1.0zM175.4 113.6h1.0v1.0h-1.0zM185.8 110.8h1.0v1.0h-1.0zM158.0 144.5h1.0v1.0h-1.0zM180.2 114.6h1.0v1.0h-1.0zM157.2 131.6h1.0v1.0h-1.0zM164.2 129.9h1.0v1.0h-1.0zM157.0 133.1h1.0v1.0h-1.0zM158.5 135.1h1.0v1.0h-1.0zM202.8 85.5h1.0v1.0h-1.0zM155.4 133.1h1.0v1.0h-1.0zM172.6 113.9h1.0v1.0h-1.0zM173.6 114.7h1.0v1.0h-1.0zM154.4 143.3h1.0v1.0h-1.0zM158.1 145.2h1.0v1.0h-1.0zM180.2 112.0h1.0v1.0h-1.0zM191.3 103.6h1.0v1.0h-1.0zM178.4 107.8h1.0v1.0h-1.0zM175.2 115.5h1.0v1.0h-1.0zM159.1 141.7h1.0v1.0h-1.0zM167.3 128.1h1.0v1.0h-1.0zM180.1 119.4h1.0v1.0h-1.0zM157.3 140.9h1.0v1.0h-1.0zM173.7 127.1h1.0v1.0h-1.0zM185.5 102.1h1.0v1.0h-1.0zM168.8 122.1h1.0v1.0h-1.0zM190.1 99.4h1.0v1.0h-1.0zM189.6 106.3h1.0v1.0h-1.0zM162.8 140.8h1.0v1.0h-1.0zM184.7 102.8h1.0v1.0h-1.0zM168.7 132.9h1.0v1.0h-1.0zM180.1 108.3h1.0v1.0h-1.0zM169.4 134.2h1.0v1.0h-1.0zM179.9 119.1h1.0v1.0h-1.0zM191.9 104.6h1.0v1.0h-1.0zM177.0 119.4h1.0v1.0h-1.0zM180.5 119.9h1.0v1.0h-1.0zM169.7 134.3h1.0v1.0h-1.0zM176.5 113.7h1.0v1.0h-1.0zM186.3 100.3h1.0v1.0h-1.0zM153.5 150.0h1.0v1.0h-1.0zM188.3 95.6h1.0v1.0h-1.0zM185.8 105.3h1.0v1.0h-1.0zM172.7 112.5h1.0v1.0h-1.0zM186.1 96.7h1.0v1.0h-1.0zM186.4 107.4h1.0v1.0h-1.0zM180.1 122.9h1.0v1.0h-1.0zM195.2 98.9h1.0v1.0h-1.0zM190.1 103.8h1.0v1.0h-1.0zM193.3 91.6h1.0v1.0h-1.0zM189.2 102.7h1.0v1.0h-1.0zM175.7 121.7h1.0v1.0h-1.0zM161.9 134.7h1.0v1.0h-1.0zM197.2 98.1h1.0v1.0h-1.0zM161.3 142.9h1.0v1.0h-1.0zM170.8 120.5h1.0v1.0h-1.0zM193.1 97.7h1.0v1.0h-1.0zM180.1 119.3h1.0v1.0h-1.0zM177.6 108.4h1.0v1.0h-1.0zM164.4 126.7h1.0v1.0h-1.0zM167.8 133.9h1.0v1.0h-1.0zM160.0 130.2h1.0v1.0h-1.0zM188.9 109.7h1.0v1.0h-1.0zM172.0 118.1h1.0v1.0h-1.0zM172.7 128.9h1.0v1.0h-1.0zM157.4 142.6h1.0v1.0h-1.0zM170.2 123.8h1.0v1.0h-1.0zM185.1 115.7h1.0v1.0h-1.0zM181.3 118.3h1.0v1.0h-1.0zM170.6 133.1h1.0v1.0h-1.0zM163.2 136.4h1.0v1.0h-1.0zM176.9 120.2h1.0v1.0h-1.0zM194.4 101.3h1.0v1.0h-1.0zM170.5 128.1h1.0v1.0h-1.0zM167.9 135.4h1.0v1.0h-1.0zM180.8 121.9h1.0v1.0h-1.0zM193.7 96.5h1.0v1.0h-1.0zM175.5 128.2h1.0v1.0h-1.0zM172.2 124.4h1.0v1.0h-1.0zM192.4 92.0h1.0v1.0h-1.0zM185.3 112.3h1.0v1.0h-1.0zM184.9 107.0h1.0v1.0h-1.0zM188.7 106.6h1.0v1.0h-1.0zM162.6 135.8h1.0v1.0h-1.0zM157.9 146.9h1.0v1.0h-1.0zM195.1 98.1h1.0v1.0h-1.0zM163.4 124.2h1.0v1.0h-1.0zM154.9 135.0h1.0v1.0h-1.0zM159.8 128.0h1.0v1.0h-1.0zM181.0 120.4h1.0v1.0h-1.0zM190.1 104.1h1.0v1.0h-1.0zM153.7 143.5h1.0v1.0h-1.0zM159.3 140.5h1.0v1.0h-1.0zM162.7 126.5h1.0v1.0h-1.0zM187.7 112.0h1.0v1.0h-1.0zM192.4 102.7h1.0v1.0h-1.0zM159.6 127.5h1.0v1.0h-1.0zM183.1 108.7h1.0v1.0h-1.0zM159.0 145.7h1.0v1.0h-1.0zM190.7 99.3h1.0v1.0h-1.0zM193.7 102.9h1.0v1.0h-1.0zM160.7 139.2h1.0v1.0h-1.0zM170.2 124.1h1.0v1.0h-1.0zM190.7 100.5h1.0v1.0h-1.0zM189.2 107.7h1.0v1.0h-1.0zM197.8 91.6h1.0v1.0h-1.0zM189.6 100.7h1.0v1.0h-1.0zM175.6 122.1h1.0v1.0h-1.0zM192.0 100.9h1.0v1.0h-1.0zM179.9 123.4h1.0v1.0h-1.0zM167.3 125.9h1.0v1.0h-1.0zM170.6 124.9h1.0v1.0h-1.0zM186.6 98.4h1.0v1.0h-1.0zM153.1 146.0h1.0v1.0h-1.0zM182.0 102.8h1.0v1.0h-1.0zM162.4 135.5h1.0v1.0h-1.0zM157.9 134.2h1.0v1.0h-1.0zM168.7 128.5h1.0v1.0h-1.0zM154.8 143.2h1.0v1.0h-1.0zM179.1 116.8h1.0v1.0h-1.0zM157.6 131.1h1.0v1.0h-1.0zM156.3 139.5h1.0v1.0h-1.0zM180.0 123.6h1.0v1.0h-1.0zM183.9 101.5h1.0v1.0h-1.0zM186.6 100.8h1.0v1.0h-1.0zM166.3 132.0h1.0v1.0h-1.0zM158.5 145.2h1.0v1.0h-1.0zM187.3 103.8h1.0v1.0h-1.0zM157.3 149.2h1.0v1.0h-1.0zM156.3 140.5h1.0v1.0h-1.0zM176.5 111.1h1.0v1.0h-1.0zM153.9 145.9h1.0v1.0h-1.0zM184.9 105.1h1.0v1.0h-1.0zM154.7 142.1h1.0v1.0h-1.0zM166.6 117.6h1.0v1.0h-1.0zM170.8 128.3h1.0v1.0h-1.0zM155.9 140.2h1.0v1.0h-1.0zM176.7 119.9h1.0v1.0h-1.0zM187.0 109.7h1.0v1.0h-1.0zM164.0 123.2h1.0v1.0h-1.0zM183.2 107.6h1.0v1.0h-1.0zM157.8 130.4h1.0v1.0h-1.0zM155.4 144.7h1.0v1.0h-1.0zM175.2 119.1h1.0v1.0h-1.0zM161.8 126.7h1.0v1.0h-1.0zM154.2 146.5h1.0v1.0h-1.0zM161.6 142.7h1.0v1.0h-1.0zM168.8 121.6h1.0v1.0h-1.0zM155.5 142.1h1.0v1.0h-1.0zM165.6 127.4h1.0v1.0h-1.0zM183.2 114.9h1.0v1.0h-1.0zM172.3 128.3h1.0v1.0h-1.0zM186.9 112.8h1.0v1.0h-1.0zM176.8 114.8h1.0v1.0h-1.0zM169.1 121.1h1.0v1.0h-1.0zM165.4 118.6h1.0v1.0h-1.0zM182.4 104.3h1.0v1.0h-1.0zM177.8 109.6h1.0v1.0h-1.0zM179.5 107.2h1.0v1.0h-1.0zM160.2 128.9h1.0v1.0h-1.0zM177.3 112.7h1.0v1.0h-1.0zM173.9 113.6h1.0v1.0h-1.0zM193.9 99.7h1.0v1.0h-1.0zM159.3 144.5h1.0v1.0h-1.0zM184.7 105.1h1.0v1.0h-1.0zM163.9 124.3h1.0v1.0h-1.0zM170.5 131.9h1.0v1.0h-1.0zM173.7 118.3h1.0v1.0h-1.0zM159.3 145.5h1.0v1.0h-1.0zM156.7 145.3h1.0v1.0h-1.0zM176.2 126.9h1.0v1.0h-1.0zM157.9 144.7h1.0v1.0h-1.0zM175.4 112.6h1.0v1.0h-1.0zM183.7 119.5h1.0v1.0h-1.0zM159.5 138.1h1.0v1.0h-1.0zM163.9 138.9h1.0v1.0h-1.0zM164.1 130.0h1.0v1.0h-1.0zM169.8 114.9h1.0v1.0h-1.0zM154.4 133.5h1.0v1.0h-1.0zM180.8 112.9h1.0v1.0h-1.0zM186.7 102.7h1.0v1.0h-1.0zM153.9 142.1h1.0v1.0h-1.0zM171.0 119.4h1.0v1.0h-1.0zM178.8 117.8h1.0v1.0h-1.0zM180.3 123.5h1.0v1.0h-1.0zM196.8 91.3h1.0v1.0h-1.0zM176.5 115.0h1.0v1.0h-1.0zM154.9 139.9h1.0v1.0h-1.0zM193.0 94.0h1.0v1.0h-1.0zM182.4 120.3h1.0v1.0h-1.0zM184.1 117.0h1.0v1.0h-1.0zM174.6 123.5h1.0v1.0h-1.0zM163.0 141.2h1.0v1.0h-1.0zM161.6 128.0h1.0v1.0h-1.0zM171.9 126.3h1.0v1.0h-1.0zM164.3 124.4h1.0v1.0h-1.0zM164.1 125.6h1.0v1.0h-1.0zM161.1 130.8h1.0v1.0h-1.0zM162.6 139.8h1.0v1.0h-1.0zM182.3 102.3h1.0v1.0h-1.0zM181.1 112.2h1.0v1.0h-1.0zM174.4 127.4h1.0v1.0h-1.0zM187.4 109.7h1.0v1.0h-1.0zM158.7 143.6h1.0v1.0h-1.0zM184.1 107.3h1.0v1.0h-1.0zM167.8 134.6h1.0v1.0h-1.0zM179.1 105.5h1.0v1.0h-1.0zM160.6 124.7h1.0v1.0h-1.0zM173.4 122.8h1.0v1.0h-1.0zM160.5 137.4h1.0v1.0h-1.0zM162.9 135.6h1.0v1.0h-1.0zM173.6 122.6h1.0v1.0h-1.0zM182.9 106.6h1.0v1.0h-1.0zM175.1 128.6h1.0v1.0h-1.0zM180.7 111.3h1.0v1.0h-1.0zM203.6 83.3h1.0v1.0h-1.0zM164.4 129.5h1.0v1.0h-1.0zM176.4 121.7h1.0v1.0h-1.0zM158.7 132.1h1.0v1.0h-1.0zM171.8 127.3h1.0v1.0h-1.0zM175.1 126.9h1.0v1.0h-1.0zM167.9 117.9h1.0v1.0h-1.0zM156.1 139.4h1.0v1.0h-1.0zM176.6 109.1h1.0v1.0h-1.0zM169.3 129.1h1.0v1.0h-1.0zM172.7 128.2h1.0v1.0h-1.0zM178.8 120.8h1.0v1.0h-1.0zM175.0 115.3h1.0v1.0h-1.0zM164.8 131.1h1.0v1.0h-1.0zM172.7 130.2h1.0v1.0h-1.0zM165.8 129.3h1.0v1.0h-1.0zM170.0 124.7h1.0v1.0h-1.0zM182.6 105.9h1.0v1.0h-1.0zM164.0 138.2h1.0v1.0h-1.0zM159.8 136.8h1.0v1.0h-1.0zM182.6 118.5h1.0v1.0h-1.0zM157.7 137.7h1.0v1.0h-1.0zM184.0 113.4h1.0v1.0h-1.0zM159.9 140.2h1.0v1.0h-1.0zM192.9 101.5h1.0v1.0h-1.0zM191.6 104.8h1.0v1.0h-1.0zM156.7 147.1h1.0v1.0h-1.0zM154.5 134.4h1.0v1.0h-1.0zM166.2 129.2h1.0v1.0h-1.0zM168.5 135.3h1.0v1.0h-1.0zM163.0 131.2h1.0v1.0h-1.0zM188.6 100.3h1.0v1.0h-1.0zM159.5 128.3h1.0v1.0h-1.0zM182.0 117.3h1.0v1.0h-1.0zM164.3 125.8h1.0v1.0h-1.0zM167.4 124.9h1.0v1.0h-1.0zM167.5 121.2h1.0v1.0h-1.0zM174.9 111.6h1.0v1.0h-1.0zM196.8 95.1h1.0v1.0h-1.0zM157.2 138.5h1.0v1.0h-1.0zM164.8 121.7h1.0v1.0h-1.0zM177.9 124.7h1.0v1.0h-1.0zM159.5 135.9h1.0v1.0h-1.0zM192.8 91.5h1.0v1.0h-1.0zM189.4 103.7h1.0v1.0h-1.0zM159.7 140.8h1.0v1.0h-1.0zM164.0 121.4h1.0v1.0h-1.0zM190.9 107.1h1.0v1.0h-1.0zM170.4 129.0h1.0v1.0h-1.0zM159.3 143.7h1.0v1.0h-1.0zM171.2 118.1h1.0v1.0h-1.0zM160.3 142.6h1.0v1.0h-1.0zM166.7 120.5h1.0v1.0h-1.0zM178.2 114.9h1.0v1.0h-1.0zM162.3 125.9h1.0v1.0h-1.0zM156.0 149.0h1.0v1.0h-1.0zM163.2 133.4h1.0v1.0h-1.0zM180.0 117.6h1.0v1.0h-1.0zM187.1 108.6h1.0v1.0h-1.0zM158.2 144.0h1.0v1.0h-1.0zM200.8 90.0h1.0v1.0h-1.0zM183.5 106.3h1.0v1.0h-1.0zM178.6 112.3h1.0v1.0h-1.0zM172.3 114.4h1.0v1.0h-1.0zM188.0 104.2h1.0v1.0h-1.0zM166.2 127.8h1.0v1.0h-1.0zM165.6 128.0h1.0v1.0h-1.0zM165.2 129.4h1.0v1.0h-1.0zM182.2 118.3h1.0v1.0h-1.0zM162.2 123.7h1.0v1.0h-1.0zM180.9 118.0h1.0v1.0h-1.0zM189.4 106.4h1.0v1.0h-1.0zM154.7 134.1h1.0v1.0h-1.0zM192.5 99.8h1.0v1.0h-1.0zM167.2 122.0h1.0v1.0h-1.0zM168.8 128.1h1.0v1.0h-1.0zM163.2 138.3h1.0v1.0h-1.0zM184.2 108.6h1.0v1.0h-1.0zM173.2 114.0h1.0v1.0h-1.0zM156.8 134.8h1.0v1.0h-1.0zM185.0 115.2h1.0v1.0h-1.0zM187.0 101.9h1.0v1.0h-1.0zM177.6 120.8h1.0v1.0h-1.0zM155.4 144.8h1.0v1.0h-1.0zM175.3 125.1h1.0v1.0h-1.0zM190.2 105.3h1.0v1.0h-1.0zM169.2 131.0h1.0v1.0h-1.0zM169.9 131.8h1.0v1.0h-1.0zM154.7 150.2h1.0v1.0h-1.0zM157.7 141.1h1.0v1.0h-1.0zM180.1 121.1h1.0v1.0h-1.0zM164.5 130.2h1.0v1.0h-1.0zM178.9 109.0h1.0v1.0h-1.0zM171.1 122.9h1.0v1.0h-1.0zM158.8 141.3h1.0v1.0h-1.0zM193.3 100.5h1.0v1.0h-1.0zM181.4 101.7h1.0v1.0h-1.0zM155.3 132.8h1.0v1.0h-1.0zM175.5 116.0h1.0v1.0h-1.0zM183.3 101.8h1.0v1.0h-1.0zM183.0 119.0h1.0v1.0h-1.0zM177.3 120.0h1.0v1.0h-1.0zM185.8 110.7h1.0v1.0h-1.0zM186.2 99.2h1.0v1.0h-1.0zM169.6 127.2h1.0v1.0h-1.0zM179.1 107.7h1.0v1.0h-1.0zM167.8 131.2h1.0v1.0h-1.0zM158.0 129.9h1.0v1.0h-1.0zM167.2 120.2h1.0v1.0h-1.0zM185.0 107.0h1.0v1.0h-1.0zM169.9 133.9h1.0v1.0h-1.0zM154.6 141.7h1.0v1.0h-1.0zM165.6 137.7h1.0v1.0h-1.0zM170.8 120.6h1.0v1.0h-1.0zM162.1 141.7h1.0v1.0h-1.0zM174.7 113.7h1.0v1.0h-1.0zM165.2 128.7h1.0v1.0h-1.0zM160.4 144.0h1.0v1.0h-1.0zM191.8 95.2h1.0v1.0h-1.0zM173.1 117.0h1.0v1.0h-1.0zM189.7 110.4h1.0v1.0h-1.0zM174.4 116.5h1.0v1.0h-1.0zM169.1 121.4h1.0v1.0h-1.0zM184.7 108.4h1.0v1.0h-1.0zM168.6 134.5h1.0v1.0h-1.0zM185.0 100.1h1.0v1.0h-1.0zM180.4 107.6h1.0v1.0h-1.0zM157.4 138.6h1.0v1.0h-1.0zM182.7 114.3h1.0v1.0h-1.0zM153.9 137.0h1.0v1.0h-1.0zM170.7 126.5h1.0v1.0h-1.0zM187.3 109.8h1.0v1.0h-1.0zM172.3 130.3h1.0v1.0h-1.0zM170.2 125.6h1.0v1.0h-1.0zM176.4 120.2h1.0v1.0h-1.0zM170.1 123.9h1.0v1.0h-1.0zM154.2 151.0h1.0v1.0h-1.0zM181.9 114.0h1.0v1.0h-1.0zM157.8 144.8h1.0v1.0h-1.0zM183.5 105.8h1.0v1.0h-1.0zM157.8 132.8h1.0v1.0h-1.0zM176.4 115.4h1.0v1.0h-1.0zM179.7 107.0h1.0v1.0h-1.0zM192.8 98.5h1.0v1.0h-1.0zM175.5 121.4h1.0v1.0h-1.0zM174.2 116.1h1.0v1.0h-1.0zM195.4 91.0h1.0v1.0h-1.0zM176.1 120.9h1.0v1.0h-1.0zM161.2 131.1h1.0v1.0h-1.0zM166.6 120.1h1.0v1.0h-1.0zM188.9 94.7h1.0v1.0h-1.0zM172.1 124.5h1.0v1.0h-1.0zM159.8 141.4h1.0v1.0h-1.0zM194.5 97.6h1.0v1.0h-1.0zM167.6 133.1h1.0v1.0h-1.0zM159.9 131.3h1.0v1.0h-1.0zM186.3 103.3h1.0v1.0h-1.0zM173.0 124.1h1.0v1.0h-1.0zM163.2 139.7h1.0v1.0h-1.0zM160.5 133.7h1.0v1.0h-1.0zM204.7 84.0h1.0v1.0h-1.0zM165.7 124.4h1.0v1.0h-1.0zM166.7 131.1h1.0v1.0h-1.0zM170.4 131.5h1.0v1.0h-1.0zM175.2 120.8h1.0v1.0h-1.0zM189.7 104.9h1.0v1.0h-1.0zM180.0 114.3h1.0v1.0h-1.0zM195.8 89.6h1.0v1.0h-1.0zM158.6 141.0h1.0v1.0h-1.0zM177.5 124.8h1.0v1.0h-1.0zM178.8 109.9h1.0v1.0h-1.0zM183.2 102.7h1.0v1.0h-1.0zM157.9 138.7h1.0v1.0h-1.0zM170.4 128.0h1.0v1.0h-1.0zM172.2 116.2h1.0v1.0h-1.0zM154.3 141.0h1.0v1.0h-1.0zM193.8 101.7h1.0v1.0h-1.0zM168.4 119.8h1.0v1.0h-1.0zM166.4 124.2h1.0v1.0h-1.0zM161.0 141.6h1.0v1.0h-1.0zM163.8 122.7h1.0v1.0h-1.0zM172.3 115.1h1.0v1.0h-1.0zM158.6 143.0h1.0v1.0h-1.0zM156.0 138.3h1.0v1.0h-1.0zM194.6 93.1h1.0v1.0h-1.0zM191.0 97.3h1.0v1.0h-1.0zM169.1 116.8h1.0v1.0h-1.0zM156.2 135.9h1.0v1.0h-1.0zM166.4 133.2h1.0v1.0h-1.0zM185.5 110.5h1.0v1.0h-1.0zM161.4 136.1h1.0v1.0h-1.0zM168.1 132.9h1.0v1.0h-1.0zM164.1 138.9h1.0v1.0h-1.0zM171.6 122.6h1.0v1.0h-1.0zM169.4 126.8h1.0v1.0h-1.0zM152.5 151.4h1.0v1.0h-1.0zM167.3 123.7h1.0v1.0h-1.0zM160.5 128.9h1.0v1.0h-1.0zM178.6 111.8h1.0v1.0h-1.0zM160.8 140.4h1.0v1.0h-1.0zM177.8 118.3h1.0v1.0h-1.0zM173.5 122.5h1.0v1.0h-1.0zM178.3 114.4h1.0v1.0h-1.0zM180.3 121.4h1.0v1.0h-1.0zM179.0 121.9h1.0v1.0h-1.0zM188.3 97.5h1.0v1.0h-1.0zM158.9 131.2h1.0v1.0h-1.0zM169.1 121.8h1.0v1.0h-1.0zM163.1 134.2h1.0v1.0h-1.0zM159.3 132.9h1.0v1.0h-1.0zM161.2 139.2h1.0v1.0h-1.0zM167.8 124.8h1.0v1.0h-1.0zM178.3 108.3h1.0v1.0h-1.0zM177.0 116.0h1.0v1.0h-1.0zM179.0 109.6h1.0v1.0h-1.0zM159.7 145.5h1.0v1.0h-1.0zM182.6 109.3h1.0v1.0h-1.0zM177.5 123.4h1.0v1.0h-1.0zM176.5 126.9h1.0v1.0h-1.0zM153.8 134.8h1.0v1.0h-1.0zM175.6 121.2h1.0v1.0h-1.0zM180.4 107.1h1.0v1.0h-1.0zM192.1 104.3h1.0v1.0h-1.0zM184.6 112.7h1.0v1.0h-1.0zM159.7 132.2h1.0v1.0h-1.0zM180.6 108.9h1.0v1.0h-1.0zM155.4 142.6h1.0v1.0h-1.0zM185.6 109.1h1.0v1.0h-1.0zM168.0 136.2h1.0v1.0h-1.0zM178.1 113.3h1.0v1.0h-1.0zM191.7 104.6h1.0v1.0h-1.0zM179.3 114.6h1.0v1.0h-1.0zM158.2 132.3h1.0v1.0h-1.0zM180.2 118.5h1.0v1.0h-1.0zM190.3 104.4h1.0v1.0h-1.0zM194.8 96.7h1.0v1.0h-1.0zM196.1 98.9h1.0v1.0h-1.0zM156.5 141.9h1.0v1.0h-1.0zM158.7 132.8h1.0v1.0h-1.0zM188.9 99.9h1.0v1.0h-1.0zM168.3 133.9h1.0v1.0h-1.0zM179.0 117.6h1.0v1.0h-1.0zM188.2 108.7h1.0v1.0h-1.0zM178.2 124.6h1.0v1.0h-1.0zM157.9 130.7h1.0v1.0h-1.0zM188.3 105.0h1.0v1.0h-1.0zM157.1 144.0h1.0v1.0h-1.0zM186.1 99.2h1.0v1.0h-1.0zM169.6 131.6h1.0v1.0h-1.0zM182.6 112.4h1.0v1.0h-1.0zM187.5 100.8h1.0v1.0h-1.0zM176.9 123.3h1.0v1.0h-1.0zM177.2 121.6h1.0v1.0h-1.0zM183.9 118.2h1.0v1.0h-1.0zM179.1 119.5h1.0v1.0h-1.0zM189.2 101.4h1.0v1.0h-1.0zM169.1 132.6h1.0v1.0h-1.0zM181.4 115.6h1.0v1.0h-1.0zM164.4 123.9h1.0v1.0h-1.0zM168.6 124.1h1.0v1.0h-1.0zM157.3 138.2h1.0v1.0h-1.0zM200.0 89.1h1.0v1.0h-1.0zM183.9 102.6h1.0v1.0h-1.0zM167.4 122.7h1.0v1.0h-1.0zM182.5 109.9h1.0v1.0h-1.0zM201.0 87.5h1.0v1.0h-1.0zM178.7 105.0h1.0v1.0h-1.0zM176.4 111.6h1.0v1.0h-1.0zM175.7 123.3h1.0v1.0h-1.0zM168.3 130.6h1.0v1.0h-1.0zM181.1 114.3h1.0v1.0h-1.0zM156.5 134.4h1.0v1.0h-1.0zM168.9 130.7h1.0v1.0h-1.0zM170.7 129.3h1.0v1.0h-1.0zM175.4 117.1h1.0v1.0h-1.0zM169.0 119.2h1.0v1.0h-1.0zM182.6 107.5h1.0v1.0h-1.0zM154.6 136.8h1.0v1.0h-1.0zM172.9 116.8h1.0v1.0h-1.0zM167.8 130.2h1.0v1.0h-1.0zM172.2 124.0h1.0v1.0h-1.0zM166.9 137.3h1.0v1.0h-1.0zM189.0 97.9h1.0v1.0h-1.0zM194.1 99.4h1.0v1.0h-1.0zM167.4 126.2h1.0v1.0h-1.0zM169.2 120.2h1.0v1.0h-1.0zM177.2 124.7h1.0v1.0h-1.0zM153.2 148.6h1.0v1.0h-1.0zM168.4 120.2h1.0v1.0h-1.0zM160.4 140.9h1.0v1.0h-1.0zM172.9 114.8h1.0v1.0h-1.0zM168.3 120.6h1.0v1.0h-1.0zM154.3 141.7h1.0v1.0h-1.0zM166.3 130.3h1.0v1.0h-1.0zM183.2 110.0h1.0v1.0h-1.0zM158.6 131.9h1.0v1.0h-1.0zM180.4 113.4h1.0v1.0h-1.0zM182.1 108.1h1.0v1.0h-1.0zM164.7 124.5h1.0v1.0h-1.0zM168.0 117.1h1.0v1.0h-1.0zM179.3 106.7h1.0v1.0h-1.0zM152.6 139.1h1.0v1.0h-1.0zM191.2 95.1h1.0v1.0h-1.0zM166.9 136.5h1.0v1.0h-1.0zM186.2 109.5h1.0v1.0h-1.0zM193.4 100.2h1.0v1.0h-1.0zM172.5 119.9h1.0v1.0h-1.0zM184.3 118.2h1.0v1.0h-1.0zM182.7 112.5h1.0v1.0h-1.0zM186.7 104.5h1.0v1.0h-1.0zM157.1 144.9h1.0v1.0h-1.0zM164.7 134.5h1.0v1.0h-1.0zM178.7 112.7h1.0v1.0h-1.0zM156.3 141.9h1.0v1.0h-1.0zM176.7 117.6h1.0v1.0h-1.0zM179.9 117.7h1.0v1.0h-1.0zM160.7 131.8h1.0v1.0h-1.0zM157.0 143.6h1.0v1.0h-1.0zM158.9 143.3h1.0v1.0h-1.0zM173.2 122.6h1.0v1.0h-1.0zM163.0 128.0h1.0v1.0h-1.0zM171.6 119.3h1.0v1.0h-1.0zM163.4 133.3h1.0v1.0h-1.0zM164.4 128.6h1.0v1.0h-1.0zM181.1 109.1h1.0v1.0h-1.0zM162.4 135.1h1.0v1.0h-1.0zM199.3 87.2h1.0v1.0h-1.0zM182.4 102.0h1.0v1.0h-1.0zM183.4 109.5h1.0v1.0h-1.0zM161.9 138.3h1.0v1.0h-1.0zM171.1 113.6h1.0v1.0h-1.0zM175.0 114.5h1.0v1.0h-1.0zM171.4 125.8h1.0v1.0h-1.0zM161.4 125.3h1.0v1.0h-1.0zM181.1 121.2h1.0v1.0h-1.0zM161.8 124.4h1.0v1.0h-1.0zM182.9 111.0h1.0v1.0h-1.0zM163.5 131.8h1.0v1.0h-1.0zM156.9 131.1h1.0v1.0h-1.0zM156.9 134.5h1.0v1.0h-1.0zM163.3 124.1h1.0v1.0h-1.0zM160.4 137.8h1.0v1.0h-1.0zM195.8 94.1h1.0v1.0h-1.0zM162.6 129.8h1.0v1.0h-1.0zM174.6 122.4h1.0v1.0h-1.0zM160.4 128.5h1.0v1.0h-1.0zM193.6 101.4h1.0v1.0h-1.0zM177.4 125.8h1.0v1.0h-1.0zM167.2 124.0h1.0v1.0h-1.0zM167.2 118.4h1.0v1.0h-1.0zM174.7 112.2h1.0v1.0h-1.0zM192.8 96.6h1.0v1.0h-1.0zM181.8 107.2h1.0v1.0h-1.0zM174.2 117.9h1.0v1.0h-1.0zM170.2 128.7h1.0v1.0h-1.0zM170.5 116.8h1.0v1.0h-1.0zM165.0 127.6h1.0v1.0h-1.0zM159.3 143.7h1.0v1.0h-1.0zM168.0 129.1h1.0v1.0h-1.0zM154.2 134.0h1.0v1.0h-1.0zM183.4 104.1h1.0v1.0h-1.0zM157.8 131.3h1.0v1.0h-1.0zM179.2 112.9h1.0v1.0h-1.0zM162.1 128.0h1.0v1.0h-1.0zM161.2 138.8h1.0v1.0h-1.0zM169.3 124.1h1.0v1.0h-1.0zM176.8 119.2h1.0v1.0h-1.0zM163.0 136.7h1.0v1.0h-1.0zM170.1 118.5h1.0v1.0h-1.0zM184.8 104.0h1.0v1.0h-1.0zM184.4 114.4h1.0v1.0h-1.0zM191.9 98.6h1.0v1.0h-1.0zM188.1 98.1h1.0v1.0h-1.0zM170.5 127.7h1.0v1.0h-1.0zM169.5 118.4h1.0v1.0h-1.0zM194.5 101.6h1.0v1.0h-1.0zM164.5 134.7h1.0v1.0h-1.0zM155.7 144.7h1.0v1.0h-1.0zM192.3 103.6h1.0v1.0h-1.0zM174.3 112.4h1.0v1.0h-1.0zM185.7 103.5h1.0v1.0h-1.0zM194.6 98.4h1.0v1.0h-1.0zM156.6 134.8h1.0v1.0h-1.0zM154.8 143.0h1.0v1.0h-1.0zM181.4 110.0h1.0v1.0h-1.0zM162.3 132.9h1.0v1.0h-1.0zM180.0 115.8h1.0v1.0h-1.0zM198.2 91.9h1.0v1.0h-1.0zM182.7 108.6h1.0v1.0h-1.0zM188.1 106.3h1.0v1.0h-1.0zM172.1 129.5h1.0v1.0h-1.0zM165.2 126.4h1.0v1.0h-1.0zM177.8 113.0h1.0v1.0h-1.0zM161.7 130.8h1.0v1.0h-1.0zM155.8 131.6h1.0v1.0h-1.0zM155.3 141.9h1.0v1.0h-1.0zM179.6 122.7h1.0v1.0h-1.0zM192.0 92.5h1.0v1.0h-1.0zM185.8 110.4h1.0v1.0h-1.0zM189.1 102.1h1.0v1.0h-1.0zM191.1 101.0h1.0v1.0h-1.0zM174.6 128.9h1.0v1.0h-1.0zM173.4 114.0h1.0v1.0h-1.0zM179.4 115.6h1.0v1.0h-1.0zM175.9 109.0h1.0v1.0h-1.0zM173.8 120.4h1.0v1.0h-1.0zM169.4 128.1h1.0v1.0h-1.0zM174.9 112.3h1.0v1.0h-1.0zM193.7 96.1h1.0v1.0h-1.0zM175.7 108.8h1.0v1.0h-1.0zM159.0 142.8h1.0v1.0h-1.0zM154.6 144.4h1.0v1.0h-1.0zM168.1 131.6h1.0v1.0h-1.0zM193.6 96.7h1.0v1.0h-1.0zM176.9 112.5h1.0v1.0h-1.0zM172.6 115.7h1.0v1.0h-1.0zM166.1 123.4h1.0v1.0h-1.0zM186.5 108.1h1.0v1.0h-1.0zM161.6 129.7h1.0v1.0h-1.0zM183.5 112.3h1.0v1.0h-1.0zM176.2 119.9h1.0v1.0h-1.0zM189.8 96.5h1.0v1.0h-1.0zM169.6 126.9h1.0v1.0h-1.0zM161.3 142.6h1.0v1.0h-1.0zM161.0 131.3h1.0v1.0h-1.0zM160.6 139.7h1.0v1.0h-1.0zM185.1 106.7h1.0v1.0h-1.0zM159.4 133.4h1.0v1.0h-1.0zM156.2 136.1h1.0v1.0h-1.0zM172.1 128.5h1.0v1.0h-1.0zM176.4 124.0h1.0v1.0h-1.0zM189.3 96.0h1.0v1.0h-1.0zM199.4 88.2h1.0v1.0h-1.0zM188.4 103.3h1.0v1.0h-1.0zM159.0 138.2h1.0v1.0h-1.0zM163.7 131.4h1.0v1.0h-1.0zM156.7 131.3h1.0v1.0h-1.0zM153.7 148.0h1.0v1.0h-1.0zM159.7 128.5h1.0v1.0h-1.0zM161.4 138.1h1.0v1.0h-1.0zM155.3 150.7h1.0v1.0h-1.0zM185.1 112.6h1.0v1.0h-1.0zM181.2 117.2h1.0v1.0h-1.0zM198.0 87.7h1.0v1.0h-1.0zM197.2 95.1h1.0v1.0h-1.0zM153.7 149.9h1.0v1.0h-1.0zM189.0 103.1h1.0v1.0h-1.0zM192.5 94.6h1.0v1.0h-1.0zM169.5 128.5h1.0v1.0h-1.0zM189.7 104.1h1.0v1.0h-1.0zM173.9 112.3h1.0v1.0h-1.0zM185.3 110.7h1.0v1.0h-1.0zM157.3 141.3h1.0v1.0h-1.0zM167.8 135.1h1.0v1.0h-1.0zM177.3 109.6h1.0v1.0h-1.0zM153.7 147.8h1.0v1.0h-1.0zM171.7 124.9h1.0v1.0h-1.0zM166.7 123.3h1.0v1.0h-1.0zM154.5 150.3h1.0v1.0h-1.0zM198.2 91.4h1.0v1.0h-1.0zM167.9 127.8h1.0v1.0h-1.0zM153.5 138.5h1.0v1.0h-1.0zM166.9 135.0h1.0v1.0h-1.0zM176.7 121.3h1.0v1.0h-1.0zM186.7 101.6h1.0v1.0h-1.0zM172.2 128.9h1.0v1.0h-1.0zM166.3 119.6h1.0v1.0h-1.0zM185.0 107.8h1.0v1.0h-1.0zM188.8 107.1h1.0v1.0h-1.0zM176.8 111.6h1.0v1.0h-1.0zM177.2 116.5h1.0v1.0h-1.0zM170.8 130.2h1.0v1.0h-1.0zM162.8 139.5h1.0v1.0h-1.0zM170.7 126.4h1.0v1.0h-1.0zM157.7 129.1h1.0v1.0h-1.0zM172.1 113.9h1.0v1.0h-1.0zM155.6 141.4h1.0v1.0h-1.0zM155.4 135.9h1.0v1.0h-1.0zM156.9 134.2h1.0v1.0h-1.0zM195.7 94.4h1.0v1.0h-1.0zM175.5 126.5h1.0v1.0h-1.0zM173.0 114.0h1.0v1.0h-1.0zM169.5 124.9h1.0v1.0h-1.0zM195.8 95.7h1.0v1.0h-1.0zM168.7 135.1h1.0v1.0h-1.0zM184.7 105.9h1.0v1.0h-1.0zM174.4 111.8h1.0v1.0h-1.0zM184.4 108.5h1.0v1.0h-1.0zM172.3 123.7h1.0v1.0h-1.0zM173.9 128.9h1.0v1.0h-1.0zM156.2 141.7h1.0v1.0h-1.0zM168.0 131.3h1.0v1.0h-1.0zM175.2 118.7h1.0v1.0h-1.0zM162.2 138.4h1.0v1.0h-1.0zM166.7 134.5h1.0v1.0h-1.0zM155.9 139.0h1.0v1.0h-1.0zM160.1 141.5h1.0v1.0h-1.0zM170.3 121.5h1.0v1.0h-1.0zM167.0 128.1h1.0v1.0h-1.0zM172.7 113.4h1.0v1.0h-1.0zM170.7 123.7h1.0v1.0h-1.0zM157.9 142.1h1.0v1.0h-1.0zM167.0 124.5h1.0v1.0h-1.0zM194.5 98.5h1.0v1.0h-1.0zM173.5 114.0h1.0v1.0h-1.0zM184.9 106.7h1.0v1.0h-1.0zM181.9 113.4h1.0v1.0h-1.0zM177.4 109.9h1.0v1.0h-1.0zM189.4 96.0h1.0v1.0h-1.0zM166.0 122.4h1.0v1.0h-1.0zM170.4 125.7h1.0v1.0h-1.0zM181.6 106.1h1.0v1.0h-1.0zM167.2 132.3h1.0v1.0h-1.0zM172.6 115.2h1.0v1.0h-1.0zM184.0 109.1h1.0v1.0h-1.0zM156.1 143.9h1.0v1.0h-1.0zM194.4 97.2h1.0v1.0h-1.0zM168.4 117.1h1.0v1.0h-1.0zM190.9 103.2h1.0v1.0h-1.0zM185.7 115.1h1.0v1.0h-1.0zM160.4 140.0h1.0v1.0h-1.0zM188.6 109.3h1.0v1.0h-1.0zM165.0 121.6h1.0v1.0h-1.0zM176.3 111.8h1.0v1.0h-1.0zM163.8 130.2h1.0v1.0h-1.0zM182.7 109.9h1.0v1.0h-1.0zM154.9 148.5h1.0v1.0h-1.0zM177.7 108.7h1.0v1.0h-1.0zM172.0 130.3h1.0v1.0h-1.0zM158.9 130.3h1.0v1.0h-1.0zM173.7 125.9h1.0v1.0h-1.0zM173.1 124.4h1.0v1.0h-1.0zM166.3 123.2h1.0v1.0h-1.0zM163.8 130.6h1.0v1.0h-1.0zM182.3 106.3h1.0v1.0h-1.0zM154.0 147.0h1.0v1.0h-1.0zM164.5 138.1h1.0v1.0h-1.0zM156.4 131.8h1.0v1.0h-1.0zM186.3 105.5h1.0v1.0h-1.0zM178.1 123.6h1.0v1.0h-1.0zM185.9 106.0h1.0v1.0h-1.0zM196.4 90.1h1.0v1.0h-1.0zM183.2 101.8h1.0v1.0h-1.0zM178.2 105.5h1.0v1.0h-1.0zM164.5 131.0h1.0v1.0h-1.0zM171.0 127.1h1.0v1.0h-1.0zM158.6 135.1h1.0v1.0h-1.0zM170.6 123.5h1.0v1.0h-1.0zM190.9 94.3h1.0v1.0h-1.0zM194.8 92.8h1.0v1.0h-1.0zM158.6 131.4h1.0v1.0h-1.0zM172.0 130.2h1.0v1.0h-1.0zM161.1 137.3h1.0v1.0h-1.0zM195.5 98.6h1.0v1.0h-1.0zM178.5 109.7h1.0v1.0h-1.0zM167.9 126.5h1.0v1.0h-1.0zM187.0 107.7h1.0v1.0h-1.0zM178.9 120.6h1.0v1.0h-1.0zM182.0 105.4h1.0v1.0h-1.0zM177.5 115.3h1.0v1.0h-1.0zM182.9 109.6h1.0v1.0h-1.0zM168.3 128.5h1.0v1.0h-1.0zM192.7 92.2h1.0v1.0h-1.0zM156.9 141.3h1.0v1.0h-1.0zM157.3 138.5h1.0v1.0h-1.0zM169.8 118.1h1.0v1.0h-1.0zM159.5 127.5h1.0v1.0h-1.0zM156.9 136.8h1.0v1.0h-1.0zM179.8 105.4h1.0v1.0h-1.0zM173.9 111.7h1.0v1.0h-1.0zM181.1 115.0h1.0v1.0h-1.0zM181.2 111.8h1.0v1.0h-1.0zM177.6 114.7h1.0v1.0h-1.0zM161.6 130.3h1.0v1.0h-1.0zM189.2 100.9h1.0v1.0h-1.0zM153.6 152.3h1.0v1.0h-1.0zM159.4 137.8h1.0v1.0h-1.0zM179.0 118.3h1.0v1.0h-1.0zM170.5 125.8h1.0v1.0h-1.0zM159.9 142.5h1.0v1.0h-1.0zM179.4 119.2h1.0v1.0h-1.0zM179.4 123.1h1.0v1.0h-1.0zM160.3 126.0h1.0v1.0h-1.0zM153.7 144.7h1.0v1.0h-1.0zM162.2 128.0h1.0v1.0h-1.0zM169.3 121.5h1.0v1.0h-1.0zM176.7 113.5h1.0v1.0h-1.0zM168.7 133.6h1.0v1.0h-1.0zM167.4 123.0h1.0v1.0h-1.0zM177.4 117.9h1.0v1.0h-1.0zM158.6 138.3h1.0v1.0h-1.0zM161.4 140.5h1.0v1.0h-1.0zM177.2 110.4h1.0v1.0h-1.0zM155.1 138.5h1.0v1.0h-1.0zM169.5 125.2h1.0v1.0h-1.0zM176.3 119.6h1.0v1.0h-1.0zM177.0 121.3h1.0v1.0h-1.0zM156.3 142.5h1.0v1.0h-1.0zM185.5 99.9h1.0v1.0h-1.0zM188.4 107.4h1.0v1.0h-1.0zM170.3 114.6h1.0v1.0h-1.0zM180.9 107.0h1.0v1.0h-1.0zM185.2 104.3h1.0v1.0h-1.0zM174.0 123.0h1.0v1.0h-1.0zM181.2 111.1h1.0v1.0h-1.0zM172.2 127.5h1.0v1.0h-1.0zM179.0 116.0h1.0v1.0h-1.0zM154.7 146.3h1.0v1.0h-1.0zM172.6 125.4h1.0v1.0h-1.0zM194.5 100.2h1.0v1.0h-1.0zM189.4 100.9h1.0v1.0h-1.0zM190.4 99.8h1.0v1.0h-1.0zM166.1 138.0h1.0v1.0h-1.0zM186.0 114.3h1.0v1.0h-1.0zM171.2 129.6h1.0v1.0h-1.0zM189.1 101.7h1.0v1.0h-1.0zM158.1 131.8h1.0v1.0h-1.0zM159.3 138.8h1.0v1.0h-1.0zM154.8 150.0h1.0v1.0h-1.0zM178.0 120.3h1.0v1.0h-1.0zM179.9 116.9h1.0v1.0h-1.0zM158.8 146.5h1.0v1.0h-1.0zM179.6 108.2h1.0v1.0h-1.0zM169.2 123.7h1.0v1.0h-1.0zM185.8 109.4h1.0v1.0h-1.0zM198.4 95.3h1.0v1.0h-1.0zM173.2 117.1h1.0v1.0h-1.0zM170.9 117.0h1.0v1.0h-1.0zM181.0 120.1h1.0v1.0h-1.0zM190.7 101.4h1.0v1.0h-1.0zM165.5 120.5h1.0v1.0h-1.0zM198.2 94.1h1.0v1.0h-1.0zM165.0 125.9h1.0v1.0h-1.0zM173.9 119.6h1.0v1.0h-1.0zM185.0 104.5h1.0v1.0h-1.0zM158.4 145.8h1.0v1.0h-1.0zM161.2 132.6h1.0v1.0h-1.0zM172.4 122.6h1.0v1.0h-1.0zM186.3 110.7h1.0v1.0h-1.0zM182.4 114.4h1.0v1.0h-1.0zM173.6 115.4h1.0v1.0h-1.0zM160.0 139.8h1.0v1.0h-1.0zM159.6 141.3h1.0v1.0h-1.0zM186.0 110.9h1.0v1.0h-1.0zM174.5 119.7h1.0v1.0h-1.0zM164.3 140.6h1.0v1.0h-1.0zM183.5 104.1h1.0v1.0h-1.0zM161.2 139.0h1.0v1.0h-1.0zM194.4 91.0h1.0v1.0h-1.0zM183.0 102.5h1.0v1.0h-1.0zM169.2 131.3h1.0v1.0h-1.0zM156.9 138.5h1.0v1.0h-1.0zM188.7 96.8h1.0v1.0h-1.0zM192.1 97.9h1.0v1.0h-1.0zM179.0 117.1h1.0v1.0h-1.0zM182.6 118.7h1.0v1.0h-1.0zM175.2 118.6h1.0v1.0h-1.0zM176.8 120.9h1.0v1.0h-1.0zM173.9 127.4h1.0v1.0h-1.0zM175.0 125.5h1.0v1.0h-1.0zM183.3 107.7h1.0v1.0h-1.0zM162.6 130.7h1.0v1.0h-1.0zM155.5 148.4h1.0v1.0h-1.0zM188.7 110.3h1.0v1.0h-1.0zM185.9 106.6h1.0v1.0h-1.0zM185.6 103.7h1.0v1.0h-1.0zM172.8 130.7h1.0v1.0h-1.0zM176.8 114.0h1.0v1.0h-1.0zM187.2 103.5h1.0v1.0h-1.0zM168.6 128.8h1.0v1.0h-1.0zM183.0 115.0h1.0v1.0h-1.0zM189.6 109.3h1.0v1.0h-1.0zM168.4 124.6h1.0v1.0h-1.0zM159.7 128.2h1.0v1.0h-1.0zM171.2 132.0h1.0v1.0h-1.0zM191.6 103.4h1.0v1.0h-1.0zM191.0 106.4h1.0v1.0h-1.0zM178.2 117.7h1.0v1.0h-1.0zM171.6 121.4h1.0v1.0h-1.0zM195.4 93.4h1.0v1.0h-1.0zM176.0 121.8h1.0v1.0h-1.0zM172.7 118.6h1.0v1.0h-1.0zM181.0 117.8h1.0v1.0h-1.0zM192.6 100.4h1.0v1.0h-1.0zM179.6 118.0h1.0v1.0h-1.0zM188.8 95.5h1.0v1.0h-1.0zM174.7 113.0h1.0v1.0h-1.0zM189.0 111.5h1.0v1.0h-1.0zM153.8 148.0h1.0v1.0h-1.0zM159.2 146.2h1.0v1.0h-1.0zM198.0 92.4h1.0v1.0h-1.0zM157.8 135.1h1.0v1.0h-1.0zM186.1 111.1h1.0v1.0h-1.0zM153.7 137.4h1.0v1.0h-1.0zM189.7 98.5h1.0v1.0h-1.0zM190.7 99.4h1.0v1.0h-1.0zM177.9 116.7h1.0v1.0h-1.0zM167.1 123.8h1.0v1.0h-1.0zM163.0 137.7h1.0v1.0h-1.0zM158.6 131.5h1.0v1.0h-1.0zM177.0 123.1h1.0v1.0h-1.0zM171.1 132.6h1.0v1.0h-1.0zM173.1 115.9h1.0v1.0h-1.0zM160.0 129.5h1.0v1.0h-1.0zM171.1 121.1h1.0v1.0h-1.0zM189.3 105.6h1.0v1.0h-1.0zM178.6 123.9h1.0v1.0h-1.0zM189.8 99.5h1.0v1.0h-1.0zM181.2 107.1h1.0v1.0h-1.0zM178.2 123.8h1.0v1.0h-1.0zM168.6 126.7h1.0v1.0h-1.0zM160.9 137.5h1.0v1.0h-1.0zM179.1 104.8h1.0v1.0h-1.0zM169.7 133.8h1.0v1.0h-1.0zM176.3 107.5h1.0v1.0h-1.0zM173.7 120.5h1.0v1.0h-1.0zM173.9 126.4h1.0v1.0h-1.0zM173.8 120.3h1.0v1.0h-1.0zM158.5 143.7h1.0v1.0h-1.0zM168.0 132.0h1.0v1.0h-1.0zM184.8 104.3h1.0v1.0h-1.0zM182.5 120.7h1.0v1.0h-1.0zM185.4 108.9h1.0v1.0h-1.0zM180.4 110.0h1.0v1.0h-1.0zM158.9 137.4h1.0v1.0h-1.0zM183.2 101.6h1.0v1.0h-1.0zM169.9 121.8h1.0v1.0h-1.0zM153.1 136.7h1.0v1.0h-1.0zM157.6 130.0h1.0v1.0h-1.0zM178.4 111.9h1.0v1.0h-1.0zM162.0 126.4h1.0v1.0h-1.0zM167.7 132.9h1.0v1.0h-1.0zM187.3 106.1h1.0v1.0h-1.0zM191.0 103.6h1.0v1.0h-1.0zM153.7 144.9h1.0v1.0h-1.0zM181.2 117.6h1.0v1.0h-1.0zM165.5 137.6h1.0v1.0h-1.0zM159.8 133.0h1.0v1.0h-1.0zM172.4 119.1h1.0v1.0h-1.0zM177.0 119.5h1.0v1.0h-1.0zM163.1 128.0h1.0v1.0h-1.0zM197.3 92.7h1.0v1.0h-1.0zM196.8 90.3h1.0v1.0h-1.0zM183.6 105.6h1.0v1.0h-1.0zM178.4 112.7h1.0v1.0h-1.0zM184.0 108.9h1.0v1.0h-1.0zM178.1 120.1h1.0v1.0h-1.0zM158.2 130.2h1.0v1.0h-1.0zM184.7 106.9h1.0v1.0h-1.0zM160.2 129.7h1.0v1.0h-1.0zM187.7 97.0h1.0v1.0h-1.0zM158.1 142.1h1.0v1.0h-1.0zM190.9 97.3h1.0v1.0h-1.0zM166.5 134.4h1.0v1.0h-1.0zM163.1 123.1h1.0v1.0h-1.0zM159.8 142.5h1.0v1.0h-1.0zM168.1 132.3h1.0v1.0h-1.0zM175.9 118.5h1.0v1.0h-1.0zM167.6 120.0h1.0v1.0h-1.0zM171.7 121.0h1.0v1.0h-1.0zM173.3 126.5h1.0v1.0h-1.0zM153.2 139.3h1.0v1.0h-1.0zM160.1 129.7h1.0v1.0h-1.0zM164.1 136.2h1.0v1.0h-1.0zM166.7 135.6h1.0v1.0h-1.0zM183.5 117.5h1.0v1.0h-1.0zM169.3 124.8h1.0v1.0h-1.0zM158.2 144.3h1.0v1.0h-1.0zM163.6 122.4h1.0v1.0h-1.0zM195.4 95.6h1.0v1.0h-1.0zM178.4 106.8h1.0v1.0h-1.0zM181.4 119.8h1.0v1.0h-1.0zM183.7 115.3h1.0v1.0h-1.0zM185.3 112.7h1.0v1.0h-1.0zM189.5 100.9h1.0v1.0h-1.0zM173.1 121.3h1.0v1.0h-1.0zM176.8 125.3h1.0v1.0h-1.0zM177.0 116.9h1.0v1.0h-1.0zM170.8 133.6h1.0v1.0h-1.0zM183.6 105.6h1.0v1.0h-1.0zM188.7 99.5h1.0v1.0h-1.0zM190.0 100.9h1.0v1.0h-1.0zM172.6 117.2h1.0v1.0h-1.0zM184.3 98.6h1.0v1.0h-1.0zM159.2 136.7h1.0v1.0h-1.0zM157.4 130.0h1.0v1.0h-1.0zM163.8 139.3h1.0v1.0h-1.0zM192.5 96.3h1.0v1.0h-1.0zM185.5 111.1h1.0v1.0h-1.0zM167.5 119.2h1.0v1.0h-1.0zM161.8 131.2h1.0v1.0h-1.0zM197.4 93.5h1.0v1.0h-1.0zM178.1 108.5h1.0v1.0h-1.0zM180.2 116.1h1.0v1.0h-1.0zM157.2 138.3h1.0v1.0h-1.0zM158.3 139.6h1.0v1.0h-1.0zM160.1 143.6h1.0v1.0h-1.0zM165.4 128.1h1.0v1.0h-1.0zM196.1 90.5h1.0v1.0h-1.0zM189.8 95.8h1.0v1.0h-1.0zM169.7 134.4h1.0v1.0h-1.0zM178.1 124.6h1.0v1.0h-1.0zM187.4 105.5h1.0v1.0h-1.0zM166.5 138.0h1.0v1.0h-1.0zM157.6 130.0h1.0v1.0h-1.0zM163.3 139.7h1.0v1.0h-1.0zM162.0 139.6h1.0v1.0h-1.0zM185.7 113.9h1.0v1.0h-1.0zM154.6 145.4h1.0v1.0h-1.0zM191.3 95.8h1.0v1.0h-1.0zM167.1 119.6h1.0v1.0h-1.0zM170.2 119.7h1.0v1.0h-1.0zM163.9 135.0h1.0v1.0h-1.0zM174.3 116.3h1.0v1.0h-1.0zM163.0 129.9h1.0v1.0h-1.0zM190.8 104.0h1.0v1.0h-1.0zM168.5 117.5h1.0v1.0h-1.0zM179.7 108.4h1.0v1.0h-1.0zM188.5 103.7h1.0v1.0h-1.0zM159.3 140.6h1.0v1.0h-1.0zM155.4 133.1h1.0v1.0h-1.0zM173.3 123.2h1.0v1.0h-1.0zM171.3 114.6h1.0v1.0h-1.0zM192.8 101.1h1.0v1.0h-1.0zM152.6 138.1h1.0v1.0h-1.0zM175.6 111.8h1.0v1.0h-1.0zM162.7 128.8h1.0v1.0h-1.0zM178.7 120.0h1.0v1.0h-1.0zM200.0 86.3h1.0v1.0h-1.0zM154.1 149.3h1.0v1.0h-1.0zM169.0 124.2h1.0v1.0h-1.0zM182.1 117.1h1.0v1.0h-1.0zM185.3 115.8h1.0v1.0h-1.0zM176.7 120.4h1.0v1.0h-1.0zM183.1 116.5h1.0v1.0h-1.0zM166.6 124.0h1.0v1.0h-1.0zM162.9 133.6h1.0v1.0h-1.0zM177.7 120.0h1.0v1.0h-1.0zM170.9 126.3h1.0v1.0h-1.0zM185.3 98.7h1.0v1.0h-1.0zM191.7 100.4h1.0v1.0h-1.0zM173.7 121.3h1.0v1.0h-1.0zM165.9 125.3h1.0v1.0h-1.0zM157.1 132.7h1.0v1.0h-1.0zM167.4 133.5h1.0v1.0h-1.0zM169.9 128.7h1.0v1.0h-1.0zM173.1 119.8h1.0v1.0h-1.0zM183.6 108.5h1.0v1.0h-1.0zM163.2 134.6h1.0v1.0h-1.0zM165.4 127.1h1.0v1.0h-1.0zM156.4 146.4h1.0v1.0h-1.0zM179.5 114.6h1.0v1.0h-1.0zM188.8 101.1h1.0v1.0h-1.0zM184.5 107.7h1.0v1.0h-1.0zM152.6 147.9h1.0v1.0h-1.0zM155.1 148.9h1.0v1.0h-1.0zM173.4 119.0h1.0v1.0h-1.0zM164.5 129.8h1.0v1.0h-1.0zM164.5 128.2h1.0v1.0h-1.0zM159.2 137.0h1.0v1.0h-1.0zM171.7 117.8h1.0v1.0h-1.0zM185.6 101.2h1.0v1.0h-1.0zM168.4 130.3h1.0v1.0h-1.0zM169.9 129.8h1.0v1.0h-1.0zM155.8 139.0h1.0v1.0h-1.0zM159.6 132.3h1.0v1.0h-1.0zM156.2 139.9h1.0v1.0h-1.0zM186.8 95.8h1.0v1.0h-1.0zM194.0 102.7h1.0v1.0h-1.0zM156.7 138.2h1.0v1.0h-1.0zM161.2 133.2h1.0v1.0h-1.0zM182.2 110.3h1.0v1.0h-1.0zM189.2 106.2h1.0v1.0h-1.0zM171.9 122.5h1.0v1.0h-1.0zM190.2 96.0h1.0v1.0h-1.0zM178.8 119.8h1.0v1.0h-1.0zM156.9 145.2h1.0v1.0h-1.0zM159.8 133.2h1.0v1.0h-1.0zM179.0 110.2h1.0v1.0h-1.0zM154.4 140.8h1.0v1.0h-1.0zM180.7 110.1h1.0v1.0h-1.0zM161.3 136.6h1.0v1.0h-1.0zM189.1 95.0h1.0v1.0h-1.0zM154.9 146.7h1.0v1.0h-1.0zM191.3 104.1h1.0v1.0h-1.0zM177.9 120.3h1.0v1.0h-1.0zM193.7 97.1h1.0v1.0h-1.0zM154.0 147.0h1.0v1.0h-1.0zM155.6 134.6h1.0v1.0h-1.0zM185.7 109.5h1.0v1.0h-1.0zM167.0 127.3h1.0v1.0h-1.0zM167.0 124.2h1.0v1.0h-1.0zM174.4 117.3h1.0v1.0h-1.0zM178.8 124.0h1.0v1.0h-1.0zM175.0 114.6h1.0v1.0h-1.0zM154.8 143.3h1.0v1.0h-1.0zM182.1 111.6h1.0v1.0h-1.0zM165.6 127.8h1.0v1.0h-1.0zM154.8 138.2h1.0v1.0h-1.0zM178.9 116.0h1.0v1.0h-1.0zM157.1 131.0h1.0v1.0h-1.0zM161.4 132.9h1.0v1.0h-1.0zM168.5 133.2h1.0v1.0h-1.0zM177.5 114.9h1.0v1.0h-1.0zM160.2 138.6h1.0v1.0h-1.0zM154.8 138.5h1.0v1.0h-1.0zM185.0 112.2h1.0v1.0h-1.0zM158.6 140.0h1.0v1.0h-1.0zM152.9 135.9h1.0v1.0h-1.0zM166.5 123.8h1.0v1.0h-1.0zM177.2 113.1h1.0v1.0h-1.0zM186.2 113.6h1.0v1.0h-1.0zM165.5 131.9h1.0v1.0h-1.0zM177.5 125.0h1.0v1.0h-1.0zM165.9 137.1h1.0v1.0h-1.0zM163.3 138.5h1.0v1.0h-1.0zM156.3 132.4h1.0v1.0h-1.0zM159.9 130.2h1.0v1.0h-1.0zM171.8 122.9h1.0v1.0h-1.0zM160.5 129.3h1.0v1.0h-1.0zM188.8 101.8h1.0v1.0h-1.0zM174.5 124.3h1.0v1.0h-1.0zM181.0 113.1h1.0v1.0h-1.0zM178.2 124.9h1.0v1.0h-1.0zM161.7 128.5h1.0v1.0h-1.0zM154.8 143.5h1.0v1.0h-1.0zM183.5 108.6h1.0v1.0h-1.0zM181.5 102.5h1.0v1.0h-1.0zM170.7 132.6h1.0v1.0h-1.0zM189.6 97.6h1.0v1.0h-1.0zM176.4 122.1h1.0v1.0h-1.0zM184.9 99.9h1.0v1.0h-1.0zM188.0 99.8h1.0v1.0h-1.0zM175.1 126.4h1.0v1.0h-1.0zM172.1 116.0h1.0v1.0h-1.0zM160.5 136.3h1.0v1.0h-1.0zM167.3 130.4h1.0v1.0h-1.0zM186.3 105.9h1.0v1.0h-1.0zM185.7 100.6h1.0v1.0h-1.0zM175.5 123.4h1.0v1.0h-1.0zM169.1 130.3h1.0v1.0h-1.0zM171.2 131.9h1.0v1.0h-1.0zM156.6 134.4h1.0v1.0h-1.0zM190.0 95.4h1.0v1.0h-1.0zM181.6 121.0h1.0v1.0h-1.0zM161.3 133.5h1.0v1.0h-1.0zM160.0 139.4h1.0v1.0h-1.0zM157.8 129.8h1.0v1.0h-1.0zM168.6 123.8h1.0v1.0h-1.0zM164.7 124.3h1.0v1.0h-1.0zM186.4 104.8h1.0v1.0h-1.0zM176.9 110.4h1.0v1.0h-1.0zM198.5 93.2h1.0v1.0h-1.0zM174.3 122.5h1.0v1.0h-1.0zM156.7 137.6h1.0v1.0h-1.0zM162.4 130.2h1.0v1.0h-1.0zM184.7 112.2h1.0v1.0h-1.0zM173.4 124.8h1.0v1.0h-1.0zM182.8 118.3h1.0v1.0h-1.0zM180.0 112.2h1.0v1.0h-1.0zM188.5 99.4h1.0v1.0h-1.0zM159.9 129.2h1.0v1.0h-1.0zM167.7 133.0h1.0v1.0h-1.0zM180.6 108.1h1.0v1.0h-1.0zM193.3 97.3h1.0v1.0h-1.0zM166.3 132.0h1.0v1.0h-1.0zM195.8 91.0h1.0v1.0h-1.0zM166.8 130.3h1.0v1.0h-1.0zM191.2 106.3h1.0v1.0h-1.0zM190.4 98.4h1.0v1.0h-1.0zM161.0 129.0h1.0v1.0h-1.0zM188.8 106.2h1.0v1.0h-1.0zM167.0 127.7h1.0v1.0h-1.0zM162.6 125.0h1.0v1.0h-1.0zM191.8 96.4h1.0v1.0h-1.0zM156.7 133.6h1.0v1.0h-1.0zM183.0 107.3h1.0v1.0h-1.0zM185.0 116.0h1.0v1.0h-1.0zM157.2 131.5h1.0v1.0h-1.0zM188.8 96.9h1.0v1.0h-1.0zM172.1 126.3h1.0v1.0h-1.0zM175.4 121.9h1.0v1.0h-1.0zM176.2 121.9h1.0v1.0h-1.0zM167.6 135.6h1.0v1.0h-1.0zM182.6 117.8h1.0v1.0h-1.0zM156.7 129.1h1.0v1.0h-1.0zM179.4 112.6h1.0v1.0h-1.0zM157.3 136.2h1.0v1.0h-1.0zM165.2 132.6h1.0v1.0h-1.0zM167.8 135.1h1.0v1.0h-1.0zM153.4 138.9h1.0v1.0h-1.0zM180.8 117.0h1.0v1.0h-1.0zM180.7 119.4h1.0v1.0h-1.0zM171.8 114.3h1.0v1.0h-1.0zM180.9 121.0h1.0v1.0h-1.0zM168.3 118.3h1.0v1.0h-1.0zM156.5 139.3h1.0v1.0h-1.0zM170.3 129.9h1.0v1.0h-1.0zM156.8 148.4h1.0v1.0h-1.0zM154.1 144.4h1.0v1.0h-1.0zM191.2 98.7h1.0v1.0h-1.0zM155.4 148.2h1.0v1.0h-1.0zM176.0 118.9h1.0v1.0h-1.0zM158.9 138.8h1.0v1.0h-1.0zM156.6 131.9h1.0v1.0h-1.0zM188.1 108.7h1.0v1.0h-1.0zM157.5 141.9h1.0v1.0h-1.0zM182.7 116.9h1.0v1.0h-1.0zM162.9 130.3h1.0v1.0h-1.0zM171.2 126.1h1.0v1.0h-1.0zM165.0 137.2h1.0v1.0h-1.0zM162.3 139.2h1.0v1.0h-1.0zM169.7 134.5h1.0v1.0h-1.0zM185.3 99.9h1.0v1.0h-1.0zM163.8 129.5h1.0v1.0h-1.0zM157.5 145.7h1.0v1.0h-1.0zM173.7 129.0h1.0v1.0h-1.0zM158.4 131.8h1.0v1.0h-1.0zM154.3 144.4h1.0v1.0h-1.0zM169.0 125.2h1.0v1.0h-1.0zM180.3 119.2h1.0v1.0h-1.0zM201.0 86.7h1.0v1.0h-1.0zM177.0 117.8h1.0v1.0h-1.0zM159.0 144.1h1.0v1.0h-1.0zM182.6 115.6h1.0v1.0h-1.0zM192.2 101.4h1.0v1.0h-1.0zM191.2 96.8h1.0v1.0h-1.0zM171.0 116.0h1.0v1.0h-1.0zM161.9 137.4h1.0v1.0h-1.0zM170.2 132.7h1.0v1.0h-1.0zM153.8 145.8h1.0v1.0h-1.0zM161.3 137.7h1.0v1.0h-1.0zM179.1 120.1h1.0v1.0h-1.0zM176.2 125.4h1.0v1.0h-1.0zM182.6 118.9h1.0v1.0h-1.0zM158.3 145.4h1.0v1.0h-1.0zM185.2 100.0h1.0v1.0h-1.0zM199.4 89.1h1.0v1.0h-1.0zM193.4 95.0h1.0v1.0h-1.0zM178.0 107.4h1.0v1.0h-1.0zM195.0 99.2h1.0v1.0h-1.0zM172.9 112.5h1.0v1.0h-1.0zM178.8 117.5h1.0v1.0h-1.0zM156.9 138.4h1.0v1.0h-1.0zM192.0 113.7h1.0v1.0h-1.0zM199.1 112.0h1.0v1.0h-1.0zM200.4 102.4h1.0v1.0h-1.0zM208.9 108.2h1.0v1.0h-1.0zM195.0 113.2h1.0v1.0h-1.0zM204.4 100.2h1.0v1.0h-1.0zM206.8 100.1h1.0v1.0h-1.0zM200.0 110.3h1.0v1.0h-1.0zM196.5 119.8h1.0v1.0h-1.0zM219.6 99.3h1.0v1.0h-1.0zM202.4 96.6h1.0v1.0h-1.0zM192.7 125.5h1.0v1.0h-1.0zM211.0 89.1h1.0v1.0h-1.0zM207.4 92.2h1.0v1.0h-1.0zM186.9 121.0h1.0v1.0h-1.0zM212.3 95.4h1.0v1.0h-1.0zM207.0 104.7h1.0v1.0h-1.0zM210.3 94.3h1.0v1.0h-1.0zM196.0 113.2h1.0v1.0h-1.0zM203.0 104.5h1.0v1.0h-1.0zM207.4 107.0h1.0v1.0h-1.0zM192.0 115.5h1.0v1.0h-1.0zM209.2 109.7h1.0v1.0h-1.0zM214.9 102.1h1.0v1.0h-1.0zM192.2 116.6h1.0v1.0h-1.0zM197.2 106.0h1.0v1.0h-1.0zM203.6 106.0h1.0v1.0h-1.0zM216.5 103.0h1.0v1.0h-1.0zM198.2 101.9h1.0v1.0h-1.0zM203.2 107.3h1.0v1.0h-1.0zM202.8 106.8h1.0v1.0h-1.0zM202.2 114.2h1.0v1.0h-1.0zM215.0 90.5h1.0v1.0h-1.0zM207.8 103.0h1.0v1.0h-1.0zM209.7 98.7h1.0v1.0h-1.0zM204.5 101.9h1.0v1.0h-1.0zM201.8 104.2h1.0v1.0h-1.0zM216.4 99.1h1.0v1.0h-1.0zM206.3 103.8h1.0v1.0h-1.0zM212.8 96.9h1.0v1.0h-1.0zM194.0 109.9h1.0v1.0h-1.0zM212.9 102.6h1.0v1.0h-1.0zM196.5 112.4h1.0v1.0h-1.0zM205.2 106.6h1.0v1.0h-1.0zM198.3 114.4h1.0v1.0h-1.0zM201.6 99.7h1.0v1.0h-1.0zM207.0 111.1h1.0v1.0h-1.0zM208.7 94.5h1.0v1.0h-1.0zM193.1 111.9h1.0v1.0h-1.0zM208.6 103.8h1.0v1.0h-1.0zM199.1 103.7h1.0v1.0h-1.0zM212.0 104.7h1.0v1.0h-1.0zM207.9 95.4h1.0v1.0h-1.0zM201.7 103.4h1.0v1.0h-1.0zM201.7 108.0h1.0v1.0h-1.0zM216.0 101.4h1.0v1.0h-1.0zM198.4 113.9h1.0v1.0h-1.0zM202.3 96.9h1.0v1.0h-1.0zM195.0 119.4h1.0v1.0h-1.0zM213.6 93.9h1.0v1.0h-1.0zM213.7 104.7h1.0v1.0h-1.0zM219.7 99.6h1.0v1.0h-1.0zM212.3 99.0h1.0v1.0h-1.0zM212.7 99.3h1.0v1.0h-1.0zM203.8 106.0h1.0v1.0h-1.0zM199.4 119.0h1.0v1.0h-1.0zM206.6 92.2h1.0v1.0h-1.0zM211.2 95.9h1.0v1.0h-1.0zM211.5 84.6h1.0v1.0h-1.0zM196.5 119.4h1.0v1.0h-1.0zM217.4 101.7h1.0v1.0h-1.0zM210.7 91.3h1.0v1.0h-1.0zM201.5 104.0h1.0v1.0h-1.0zM217.4 102.8h1.0v1.0h-1.0zM199.3 106.0h1.0v1.0h-1.0zM189.9 125.8h1.0v1.0h-1.0zM200.3 104.1h1.0v1.0h-1.0zM195.8 109.9h1.0v1.0h-1.0zM198.7 112.8h1.0v1.0h-1.0zM195.9 107.4h1.0v1.0h-1.0zM208.6 93.2h1.0v1.0h-1.0zM212.7 100.5h1.0v1.0h-1.0zM204.0 95.7h1.0v1.0h-1.0zM203.5 93.4h1.0v1.0h-1.0zM213.2 106.4h1.0v1.0h-1.0zM192.5 113.4h1.0v1.0h-1.0zM214.9 101.9h1.0v1.0h-1.0zM208.4 107.0h1.0v1.0h-1.0zM196.5 118.8h1.0v1.0h-1.0zM207.2 93.2h1.0v1.0h-1.0zM196.2 105.0h1.0v1.0h-1.0zM213.0 93.2h1.0v1.0h-1.0zM210.9 108.5h1.0v1.0h-1.0zM206.3 112.7h1.0v1.0h-1.0zM198.9 111.9h1.0v1.0h-1.0zM205.8 113.0h1.0v1.0h-1.0zM205.9 105.1h1.0v1.0h-1.0zM213.1 99.2h1.0v1.0h-1.0zM207.1 93.6h1.0v1.0h-1.0zM198.2 117.2h1.0v1.0h-1.0zM204.8 100.9h1.0v1.0h-1.0zM216.1 100.5h1.0v1.0h-1.0zM217.6 96.2h1.0v1.0h-1.0zM199.0 98.4h1.0v1.0h-1.0zM196.9 115.2h1.0v1.0h-1.0zM212.9 87.1h1.0v1.0h-1.0zM200.1 110.1h1.0v1.0h-1.0zM192.6 119.7h1.0v1.0h-1.0zM211.4 92.4h1.0v1.0h-1.0zM198.7 116.7h1.0v1.0h-1.0zM196.2 121.4h1.0v1.0h-1.0zM207.2 103.9h1.0v1.0h-1.0zM196.3 121.5h1.0v1.0h-1.0zM194.9 119.3h1.0v1.0h-1.0zM197.3 114.0h1.0v1.0h-1.0zM206.2 106.4h1.0v1.0h-1.0zM206.4 94.3h1.0v1.0h-1.0zM197.9 109.7h1.0v1.0h-1.0zM193.1 119.3h1.0v1.0h-1.0zM194.9 121.1h1.0v1.0h-1.0zM209.5 85.5h1.0v1.0h-1.0zM196.2 110.4h1.0v1.0h-1.0zM212.5 101.0h1.0v1.0h-1.0zM204.3 96.2h1.0v1.0h-1.0zM201.4 117.8h1.0v1.0h-1.0zM210.2 84.6h1.0v1.0h-1.0zM202.7 104.2h1.0v1.0h-1.0zM208.5 100.8h1.0v1.0h-1.0zM202.0 113.4h1.0v1.0h-1.0zM190.2 116.2h1.0v1.0h-1.0zM200.3 105.4h1.0v1.0h-1.0zM199.3 103.4h1.0v1.0h-1.0zM204.2 98.7h1.0v1.0h-1.0zM203.2 104.4h1.0v1.0h-1.0zM210.2 102.6h1.0v1.0h-1.0zM213.8 98.3h1.0v1.0h-1.0zM203.4 104.8h1.0v1.0h-1.0zM191.3 123.7h1.0v1.0h-1.0zM200.6 101.7h1.0v1.0h-1.0zM204.3 106.9h1.0v1.0h-1.0zM192.0 113.8h1.0v1.0h-1.0zM193.8 121.0h1.0v1.0h-1.0zM220.6 99.6h1.0v1.0h-1.0zM197.4 111.6h1.0v1.0h-1.0zM210.4 85.5h1.0v1.0h-1.0zM204.4 106.4h1.0v1.0h-1.0zM193.3 116.7h1.0v1.0h-1.0zM205.3 112.2h1.0v1.0h-1.0zM200.5 116.1h1.0v1.0h-1.0zM207.5 93.8h1.0v1.0h-1.0zM201.0 100.2h1.0v1.0h-1.0zM203.7 96.1h1.0v1.0h-1.0zM210.9 101.4h1.0v1.0h-1.0zM206.0 93.4h1.0v1.0h-1.0zM207.2 95.4h1.0v1.0h-1.0zM216.2 92.9h1.0v1.0h-1.0zM213.1 102.8h1.0v1.0h-1.0zM207.2 94.8h1.0v1.0h-1.0zM202.8 104.9h1.0v1.0h-1.0zM201.1 103.0h1.0v1.0h-1.0zM199.2 101.5h1.0v1.0h-1.0zM207.7 107.1h1.0v1.0h-1.0zM214.9 102.3h1.0v1.0h-1.0zM196.2 112.3h1.0v1.0h-1.0zM194.5 109.1h1.0v1.0h-1.0zM195.0 110.6h1.0v1.0h-1.0zM199.5 109.0h1.0v1.0h-1.0zM193.8 113.0h1.0v1.0h-1.0zM200.8 100.3h1.0v1.0h-1.0zM203.1 110.9h1.0v1.0h-1.0zM206.9 97.4h1.0v1.0h-1.0zM194.7 110.6h1.0v1.0h-1.0zM205.3 108.2h1.0v1.0h-1.0zM204.0 93.9h1.0v1.0h-1.0zM205.1 90.1h1.0v1.0h-1.0zM206.5 102.2h1.0v1.0h-1.0zM206.1 98.1h1.0v1.0h-1.0zM193.7 118.6h1.0v1.0h-1.0zM198.7 110.5h1.0v1.0h-1.0zM213.2 87.3h1.0v1.0h-1.0zM203.3 116.3h1.0v1.0h-1.0zM201.5 109.2h1.0v1.0h-1.0zM210.5 107.1h1.0v1.0h-1.0zM196.8 103.6h1.0v1.0h-1.0zM195.4 107.0h1.0v1.0h-1.0zM214.9 99.2h1.0v1.0h-1.0zM201.8 101.8h1.0v1.0h-1.0zM211.8 94.8h1.0v1.0h-1.0zM200.8 117.7h1.0v1.0h-1.0zM203.4 107.1h1.0v1.0h-1.0zM200.0 100.5h1.0v1.0h-1.0zM191.2 114.8h1.0v1.0h-1.0zM192.1 120.3h1.0v1.0h-1.0zM202.1 117.4h1.0v1.0h-1.0zM190.5 114.0h1.0v1.0h-1.0zM191.1 116.6h1.0v1.0h-1.0zM200.7 118.9h1.0v1.0h-1.0zM190.5 114.2h1.0v1.0h-1.0zM195.1 111.4h1.0v1.0h-1.0zM211.6 100.6h1.0v1.0h-1.0zM199.6 112.5h1.0v1.0h-1.0zM208.3 98.2h1.0v1.0h-1.0zM192.3 118.1h1.0v1.0h-1.0zM209.9 103.0h1.0v1.0h-1.0zM212.6 97.6h1.0v1.0h-1.0zM209.1 103.1h1.0v1.0h-1.0zM202.0 102.3h1.0v1.0h-1.0zM191.7 113.3h1.0v1.0h-1.0zM206.4 97.1h1.0v1.0h-1.0zM193.1 109.4h1.0v1.0h-1.0zM192.1 114.0h1.0v1.0h-1.0zM198.0 121.5h1.0v1.0h-1.0zM204.8 108.9h1.0v1.0h-1.0zM210.1 100.7h1.0v1.0h-1.0zM198.0 107.7h1.0v1.0h-1.0zM215.2 98.5h1.0v1.0h-1.0zM206.3 106.9h1.0v1.0h-1.0zM211.1 96.6h1.0v1.0h-1.0zM207.4 100.2h1.0v1.0h-1.0zM211.9 88.0h1.0v1.0h-1.0zM202.9 99.2h1.0v1.0h-1.0zM203.0 111.1h1.0v1.0h-1.0zM198.8 120.2h1.0v1.0h-1.0zM197.1 114.2h1.0v1.0h-1.0zM211.1 100.1h1.0v1.0h-1.0zM190.0 125.5h1.0v1.0h-1.0zM207.3 111.7h1.0v1.0h-1.0zM194.7 123.9h1.0v1.0h-1.0zM190.2 113.4h1.0v1.0h-1.0zM192.6 114.8h1.0v1.0h-1.0zM196.5 113.6h1.0v1.0h-1.0zM199.2 108.5h1.0v1.0h-1.0zM199.2 112.8h1.0v1.0h-1.0zM204.0 99.5h1.0v1.0h-1.0zM208.4 110.0h1.0v1.0h-1.0zM211.1 92.0h1.0v1.0h-1.0zM203.2 94.6h1.0v1.0h-1.0zM197.9 105.6h1.0v1.0h-1.0zM219.4 98.2h1.0v1.0h-1.0zM190.4 116.4h1.0v1.0h-1.0zM209.4 103.4h1.0v1.0h-1.0zM199.7 120.2h1.0v1.0h-1.0zM209.0 110.9h1.0v1.0h-1.0zM209.3 99.1h1.0v1.0h-1.0zM188.5 120.8h1.0v1.0h-1.0zM205.6 99.3h1.0v1.0h-1.0zM188.2 115.3h1.0v1.0h-1.0zM210.5 103.9h1.0v1.0h-1.0zM204.6 93.2h1.0v1.0h-1.0zM207.0 96.3h1.0v1.0h-1.0zM198.2 119.1h1.0v1.0h-1.0zM208.1 109.2h1.0v1.0h-1.0zM194.6 110.7h1.0v1.0h-1.0zM206.9 109.3h1.0v1.0h-1.0zM204.2 103.6h1.0v1.0h-1.0zM203.2 116.8h1.0v1.0h-1.0zM192.9 116.3h1.0v1.0h-1.0zM195.8 109.3h1.0v1.0h-1.0zM199.5 111.1h1.0v1.0h-1.0zM201.7 104.2h1.0v1.0h-1.0zM211.8 100.8h1.0v1.0h-1.0zM200.5 109.2h1.0v1.0h-1.0zM205.1 103.8h1.0v1.0h-1.0zM195.8 110.2h1.0v1.0h-1.0zM206.7 103.1h1.0v1.0h-1.0zM214.7 96.2h1.0v1.0h-1.0zM206.2 106.4h1.0v1.0h-1.0zM203.5 109.8h1.0v1.0h-1.0zM194.8 116.6h1.0v1.0h-1.0zM214.2 99.6h1.0v1.0h-1.0zM211.7 103.5h1.0v1.0h-1.0zM192.1 115.1h1.0v1.0h-1.0zM190.7 123.6h1.0v1.0h-1.0zM200.6 102.5h1.0v1.0h-1.0zM206.6 102.5h1.0v1.0h-1.0zM212.6 99.3h1.0v1.0h-1.0zM189.8 123.1h1.0v1.0h-1.0zM212.7 107.1h1.0v1.0h-1.0zM195.5 111.0h1.0v1.0h-1.0zM205.2 106.2h1.0v1.0h-1.0zM199.1 112.7h1.0v1.0h-1.0zM193.8 108.9h1.0v1.0h-1.0zM193.6 114.6h1.0v1.0h-1.0zM208.3 109.9h1.0v1.0h-1.0zM196.9 110.8h1.0v1.0h-1.0zM196.1 112.3h1.0v1.0h-1.0zM217.4 96.9h1.0v1.0h-1.0zM197.8 101.7h1.0v1.0h-1.0zM209.2 95.7h1.0v1.0h-1.0zM206.0 95.5h1.0v1.0h-1.0zM204.7 92.7h1.0v1.0h-1.0zM203.2 111.6h1.0v1.0h-1.0zM214.3 93.1h1.0v1.0h-1.0zM203.5 104.1h1.0v1.0h-1.0zM194.7 116.0h1.0v1.0h-1.0zM195.7 115.4h1.0v1.0h-1.0zM200.4 117.5h1.0v1.0h-1.0zM201.9 98.0h1.0v1.0h-1.0zM203.2 95.1h1.0v1.0h-1.0zM203.0 99.0h1.0v1.0h-1.0zM197.9 114.4h1.0v1.0h-1.0zM213.2 91.3h1.0v1.0h-1.0zM194.6 122.5h1.0v1.0h-1.0zM209.1 103.6h1.0v1.0h-1.0zM199.6 103.9h1.0v1.0h-1.0zM211.3 102.6h1.0v1.0h-1.0zM197.6 111.0h1.0v1.0h-1.0zM210.2 95.5h1.0v1.0h-1.0zM204.7 91.9h1.0v1.0h-1.0zM200.6 101.1h1.0v1.0h-1.0zM208.9 106.8h1.0v1.0h-1.0zM210.9 107.1h1.0v1.0h-1.0zM198.5 119.2h1.0v1.0h-1.0zM203.2 95.9h1.0v1.0h-1.0zM209.4 107.6h1.0v1.0h-1.0zM212.6 86.0h1.0v1.0h-1.0zM210.5 97.5h1.0v1.0h-1.0zM215.3 95.2h1.0v1.0h-1.0zM215.6 92.9h1.0v1.0h-1.0zM199.7 99.1h1.0v1.0h-1.0zM198.4 110.8h1.0v1.0h-1.0zM200.1 113.4h1.0v1.0h-1.0zM196.5 112.0h1.0v1.0h-1.0zM201.1 102.7h1.0v1.0h-1.0zM199.2 105.1h1.0v1.0h-1.0zM207.6 110.9h1.0v1.0h-1.0zM206.0 108.0h1.0v1.0h-1.0zM210.1 107.8h1.0v1.0h-1.0zM201.0 116.0h1.0v1.0h-1.0zM200.1 107.8h1.0v1.0h-1.0zM207.2 110.2h1.0v1.0h-1.0zM204.0 111.5h1.0v1.0h-1.0zM200.3 105.9h1.0v1.0h-1.0zM214.5 104.5h1.0v1.0h-1.0zM213.5 104.6h1.0v1.0h-1.0zM187.7 117.8h1.0v1.0h-1.0zM206.2 93.6h1.0v1.0h-1.0zM204.6 100.2h1.0v1.0h-1.0zM201.5 113.1h1.0v1.0h-1.0zM209.1 100.5h1.0v1.0h-1.0zM192.5 124.2h1.0v1.0h-1.0zM212.5 98.6h1.0v1.0h-1.0zM201.2 116.3h1.0v1.0h-1.0zM193.8 116.7h1.0v1.0h-1.0zM206.3 111.9h1.0v1.0h-1.0zM212.1 103.3h1.0v1.0h-1.0zM199.2 103.2h1.0v1.0h-1.0zM209.6 99.2h1.0v1.0h-1.0zM210.0 99.4h1.0v1.0h-1.0zM205.1 92.4h1.0v1.0h-1.0zM204.2 102.6h1.0v1.0h-1.0zM206.0 92.5h1.0v1.0h-1.0zM195.4 114.2h1.0v1.0h-1.0zM216.6 92.9h1.0v1.0h-1.0zM206.3 102.3h1.0v1.0h-1.0zM204.7 111.3h1.0v1.0h-1.0zM204.0 108.9h1.0v1.0h-1.0zM194.2 118.6h1.0v1.0h-1.0zM200.0 110.3h1.0v1.0h-1.0zM214.8 99.9h1.0v1.0h-1.0zM198.5 114.9h1.0v1.0h-1.0zM198.6 99.6h1.0v1.0h-1.0zM195.4 116.5h1.0v1.0h-1.0zM202.5 98.4h1.0v1.0h-1.0zM193.3 107.6h1.0v1.0h-1.0zM195.0 113.1h1.0v1.0h-1.0zM211.3 97.3h1.0v1.0h-1.0zM200.1 104.8h1.0v1.0h-1.0zM204.7 96.7h1.0v1.0h-1.0zM208.0 99.6h1.0v1.0h-1.0zM204.9 92.6h1.0v1.0h-1.0zM212.3 102.0h1.0v1.0h-1.0zM206.1 92.3h1.0v1.0h-1.0zM213.7 90.1h1.0v1.0h-1.0zM204.3 96.8h1.0v1.0h-1.0zM202.0 98.0h1.0v1.0h-1.0zM206.6 99.2h1.0v1.0h-1.0zM190.6 111.3h1.0v1.0h-1.0zM199.1 114.6h1.0v1.0h-1.0zM195.5 118.0h1.0v1.0h-1.0zM205.2 94.0h1.0v1.0h-1.0zM214.6 89.2h1.0v1.0h-1.0zM204.5 104.8h1.0v1.0h-1.0zM196.0 106.7h1.0v1.0h-1.0zM188.8 118.4h1.0v1.0h-1.0zM204.3 108.3h1.0v1.0h-1.0zM204.4 98.0h1.0v1.0h-1.0zM202.9 96.9h1.0v1.0h-1.0zM203.9 95.3h1.0v1.0h-1.0zM200.9 105.6h1.0v1.0h-1.0zM197.3 109.2h1.0v1.0h-1.0zM213.9 101.7h1.0v1.0h-1.0zM208.7 96.0h1.0v1.0h-1.0zM199.5 103.6h1.0v1.0h-1.0zM204.2 112.5h1.0v1.0h-1.0zM206.3 94.3h1.0v1.0h-1.0zM197.0 120.2h1.0v1.0h-1.0zM201.8 111.2h1.0v1.0h-1.0zM197.2 121.9h1.0v1.0h-1.0zM204.9 113.0h1.0v1.0h-1.0zM202.4 95.4h1.0v1.0h-1.0zM204.4 112.4h1.0v1.0h-1.0zM217.2 96.0h1.0v1.0h-1.0zM211.2 107.7h1.0v1.0h-1.0zM203.8 102.0h1.0v1.0h-1.0zM202.7 100.2h1.0v1.0h-1.0zM199.9 113.0h1.0v1.0h-1.0zM204.0 108.9h1.0v1.0h-1.0zM193.2 115.9h1.0v1.0h-1.0zM205.4 103.1h1.0v1.0h-1.0zM201.3 114.1h1.0v1.0h-1.0zM212.7 95.5h1.0v1.0h-1.0zM194.0 118.2h1.0v1.0h-1.0zM199.7 115.9h1.0v1.0h-1.0zM201.8 101.6h1.0v1.0h-1.0zM203.1 110.4h1.0v1.0h-1.0zM187.3 119.5h1.0v1.0h-1.0zM211.0 108.6h1.0v1.0h-1.0zM193.3 108.7h1.0v1.0h-1.0zM199.6 102.1h1.0v1.0h-1.0zM199.5 119.5h1.0v1.0h-1.0zM202.6 110.2h1.0v1.0h-1.0zM219.0 97.0h1.0v1.0h-1.0zM205.7 98.1h1.0v1.0h-1.0zM210.2 88.1h1.0v1.0h-1.0zM210.8 91.1h1.0v1.0h-1.0zM210.4 103.5h1.0v1.0h-1.0zM196.9 114.9h1.0v1.0h-1.0zM207.9 93.5h1.0v1.0h-1.0zM201.9 108.1h1.0v1.0h-1.0zM204.8 104.5h1.0v1.0h-1.0zM213.3 96.2h1.0v1.0h-1.0zM202.2 116.4h1.0v1.0h-1.0zM211.3 104.8h1.0v1.0h-1.0zM205.4 110.8h1.0v1.0h-1.0zM205.6 95.4h1.0v1.0h-1.0zM207.1 93.2h1.0v1.0h-1.0zM197.1 105.5h1.0v1.0h-1.0zM211.3 98.1h1.0v1.0h-1.0zM205.3 102.3h1.0v1.0h-1.0zM206.8 98.2h1.0v1.0h-1.0zM191.6 127.3h1.0v1.0h-1.0zM212.1 105.8h1.0v1.0h-1.0zM203.4 94.9h1.0v1.0h-1.0zM196.8 118.0h1.0v1.0h-1.0zM199.1 112.6h1.0v1.0h-1.0zM210.1 98.6h1.0v1.0h-1.0zM210.6 103.8h1.0v1.0h-1.0zM199.4 102.4h1.0v1.0h-1.0zM211.5 87.1h1.0v1.0h-1.0zM197.8 108.6h1.0v1.0h-1.0zM190.0 112.6h1.0v1.0h-1.0zM201.2 96.8h1.0v1.0h-1.0zM193.1 116.8h1.0v1.0h-1.0zM200.2 113.0h1.0v1.0h-1.0zM195.8 118.9h1.0v1.0h-1.0zM209.7 95.6h1.0v1.0h-1.0zM190.7 116.4h1.0v1.0h-1.0zM213.0 93.7h1.0v1.0h-1.0zM207.4 100.1h1.0v1.0h-1.0zM202.4 97.8h1.0v1.0h-1.0zM215.3 91.9h1.0v1.0h-1.0zM217.5 97.3h1.0v1.0h-1.0zM217.1 97.7h1.0v1.0h-1.0zM210.5 95.2h1.0v1.0h-1.0zM207.5 103.8h1.0v1.0h-1.0zM208.6 104.6h1.0v1.0h-1.0zM202.4 98.9h1.0v1.0h-1.0zM189.9 116.0h1.0v1.0h-1.0zM195.2 106.5h1.0v1.0h-1.0zM194.8 109.3h1.0v1.0h-1.0zM192.1 115.1h1.0v1.0h-1.0zM209.2 104.2h1.0v1.0h-1.0zM198.6 104.7h1.0v1.0h-1.0zM201.7 114.7h1.0v1.0h-1.0zM216.3 101.5h1.0v1.0h-1.0zM199.7 110.1h1.0v1.0h-1.0zM203.8 115.6h1.0v1.0h-1.0zM206.1 106.0h1.0v1.0h-1.0zM208.3 94.1h1.0v1.0h-1.0zM211.3 93.1h1.0v1.0h-1.0zM198.8 107.7h1.0v1.0h-1.0zM195.9 119.5h1.0v1.0h-1.0zM200.2 115.8h1.0v1.0h-1.0zM214.9 103.0h1.0v1.0h-1.0zM209.1 106.0h1.0v1.0h-1.0zM210.6 102.6h1.0v1.0h-1.0zM199.2 104.7h1.0v1.0h-1.0zM216.0 95.0h1.0v1.0h-1.0zM199.6 113.9h1.0v1.0h-1.0zM202.5 113.2h1.0v1.0h-1.0zM199.8 98.7h1.0v1.0h-1.0zM196.4 104.3h1.0v1.0h-1.0zM204.9 114.0h1.0v1.0h-1.0zM200.2 112.9h1.0v1.0h-1.0zM202.1 113.0h1.0v1.0h-1.0zM206.2 112.1h1.0v1.0h-1.0zM200.6 110.1h1.0v1.0h-1.0zM201.6 117.0h1.0v1.0h-1.0zM192.4 124.8h1.0v1.0h-1.0zM212.0 107.8h1.0v1.0h-1.0zM209.5 85.3h1.0v1.0h-1.0zM217.8 99.3h1.0v1.0h-1.0zM215.4 97.8h1.0v1.0h-1.0zM194.9 110.4h1.0v1.0h-1.0zM209.2 92.0h1.0v1.0h-1.0zM195.4 111.1h1.0v1.0h-1.0zM213.9 105.7h1.0v1.0h-1.0zM190.8 122.9h1.0v1.0h-1.0zM209.1 109.3h1.0v1.0h-1.0zM191.2 122.2h1.0v1.0h-1.0zM187.0 123.8h1.0v1.0h-1.0zM194.8 111.0h1.0v1.0h-1.0zM204.8 93.9h1.0v1.0h-1.0zM202.5 114.1h1.0v1.0h-1.0zM201.6 103.7h1.0v1.0h-1.0zM218.4 100.6h1.0v1.0h-1.0zM204.9 100.6h1.0v1.0h-1.0zM211.2 92.3h1.0v1.0h-1.0zM196.4 123.2h1.0v1.0h-1.0zM192.7 116.3h1.0v1.0h-1.0zM207.6 105.6h1.0v1.0h-1.0zM193.1 114.3h1.0v1.0h-1.0zM205.9 109.0h1.0v1.0h-1.0zM200.9 114.7h1.0v1.0h-1.0zM193.2 119.7h1.0v1.0h-1.0zM214.6 99.2h1.0v1.0h-1.0zM191.8 114.4h1.0v1.0h-1.0zM210.6 86.1h1.0v1.0h-1.0zM205.2 95.3h1.0v1.0h-1.0zM217.0 103.2h1.0v1.0h-1.0zM188.2 115.8h1.0v1.0h-1.0zM194.6 112.3h1.0v1.0h-1.0zM202.4 104.5h1.0v1.0h-1.0zM210.5 88.9h1.0v1.0h-1.0zM194.9 112.0h1.0v1.0h-1.0zM208.9 94.5h1.0v1.0h-1.0zM196.8 110.9h1.0v1.0h-1.0zM200.7 99.9h1.0v1.0h-1.0zM202.5 107.3h1.0v1.0h-1.0zM203.1 104.6h1.0v1.0h-1.0zM199.8 100.4h1.0v1.0h-1.0zM217.6 102.6h1.0v1.0h-1.0zM189.4 114.6h1.0v1.0h-1.0zM201.8 108.9h1.0v1.0h-1.0zM197.8 115.9h1.0v1.0h-1.0zM195.2 112.7h1.0v1.0h-1.0zM207.3 91.6h1.0v1.0h-1.0zM217.8 97.3h1.0v1.0h-1.0zM212.3 101.1h1.0v1.0h-1.0zM207.8 99.0h1.0v1.0h-1.0zM194.5 120.1h1.0v1.0h-1.0zM196.1 107.1h1.0v1.0h-1.0zM199.6 119.1h1.0v1.0h-1.0zM201.5 99.3h1.0v1.0h-1.0zM186.5 119.8h1.0v1.0h-1.0zM212.6 92.7h1.0v1.0h-1.0zM206.8 110.9h1.0v1.0h-1.0zM190.5 114.6h1.0v1.0h-1.0zM209.9 104.5h1.0v1.0h-1.0zM216.4 102.6h1.0v1.0h-1.0zM206.7 111.0h1.0v1.0h-1.0zM190.8 110.2h1.0v1.0h-1.0zM213.1 107.2h1.0v1.0h-1.0zM203.1 111.5h1.0v1.0h-1.0zM201.7 97.0h1.0v1.0h-1.0zM203.1 98.8h1.0v1.0h-1.0zM210.5 87.2h1.0v1.0h-1.0zM195.6 112.3h1.0v1.0h-1.0zM205.6 104.5h1.0v1.0h-1.0zM197.4 110.2h1.0v1.0h-1.0zM197.5 116.0h1.0v1.0h-1.0zM196.4 105.5h1.0v1.0h-1.0zM206.6 91.9h1.0v1.0h-1.0zM210.2 90.2h1.0v1.0h-1.0zM202.2 101.2h1.0v1.0h-1.0zM195.1 121.5h1.0v1.0h-1.0zM199.6 119.7h1.0v1.0h-1.0zM209.7 109.4h1.0v1.0h-1.0zM193.4 108.1h1.0v1.0h-1.0zM210.9 108.2h1.0v1.0h-1.0zM206.8 90.6h1.0v1.0h-1.0zM200.6 112.2h1.0v1.0h-1.0zM196.5 121.1h1.0v1.0h-1.0zM204.1 114.2h1.0v1.0h-1.0zM204.8 103.5h1.0v1.0h-1.0zM199.5 116.3h1.0v1.0h-1.0zM202.4 112.4h1.0v1.0h-1.0zM206.3 110.5h1.0v1.0h-1.0zM219.0 96.9h1.0v1.0h-1.0zM213.6 97.6h1.0v1.0h-1.0zM208.6 99.4h1.0v1.0h-1.0zM215.5 92.7h1.0v1.0h-1.0zM200.4 115.1h1.0v1.0h-1.0zM211.3 107.9h1.0v1.0h-1.0zM207.1 94.7h1.0v1.0h-1.0zM189.8 113.7h1.0v1.0h-1.0zM192.2 114.6h1.0v1.0h-1.0zM196.7 104.2h1.0v1.0h-1.0zM191.2 114.6h1.0v1.0h-1.0zM211.9 103.3h1.0v1.0h-1.0zM209.0 104.5h1.0v1.0h-1.0zM203.1 109.6h1.0v1.0h-1.0zM207.7 106.1h1.0v1.0h-1.0zM195.8 109.2h1.0v1.0h-1.0zM195.2 115.2h1.0v1.0h-1.0zM195.0 116.5h1.0v1.0h-1.0zM202.8 108.9h1.0v1.0h-1.0zM199.4 102.3h1.0v1.0h-1.0zM198.8 111.2h1.0v1.0h-1.0zM190.1 126.5h1.0v1.0h-1.0zM196.4 117.6h1.0v1.0h-1.0zM197.3 112.5h1.0v1.0h-1.0zM212.6 94.1h1.0v1.0h-1.0zM216.1 104.3h1.0v1.0h-1.0zM217.9 102.3h1.0v1.0h-1.0zM214.6 104.2h1.0v1.0h-1.0zM204.3 102.5h1.0v1.0h-1.0zM205.6 106.5h1.0v1.0h-1.0zM208.1 108.2h1.0v1.0h-1.0zM193.8 113.8h1.0v1.0h-1.0zM213.9 99.2h1.0v1.0h-1.0zM198.8 111.0h1.0v1.0h-1.0zM195.1 111.5h1.0v1.0h-1.0zM210.0 102.9h1.0v1.0h-1.0zM203.5 106.9h1.0v1.0h-1.0zM213.2 105.4h1.0v1.0h-1.0zM190.6 112.9h1.0v1.0h-1.0zM203.8 107.0h1.0v1.0h-1.0zM203.6 112.3h1.0v1.0h-1.0zM204.3 110.1h1.0v1.0h-1.0zM212.2 91.5h1.0v1.0h-1.0zM213.6 99.9h1.0v1.0h-1.0zM206.4 108.3h1.0v1.0h-1.0zM193.9 108.1h1.0v1.0h-1.0zM206.2 108.1h1.0v1.0h-1.0zM210.5 99.7h1.0v1.0h-1.0zM206.4 113.3h1.0v1.0h-1.0zM209.9 95.3h1.0v1.0h-1.0zM200.4 101.3h1.0v1.0h-1.0zM206.7 89.3h1.0v1.0h-1.0zM192.0 117.8h1.0v1.0h-1.0zM201.1 117.1h1.0v1.0h-1.0zM211.1 108.8h1.0v1.0h-1.0zM217.8 102.1h1.0v1.0h-1.0zM203.8 104.1h1.0v1.0h-1.0zM210.8 104.5h1.0v1.0h-1.0zM207.5 94.3h1.0v1.0h-1.0zM214.4 99.1h1.0v1.0h-1.0zM195.3 111.9h1.0v1.0h-1.0zM193.8 119.8h1.0v1.0h-1.0zM211.7 103.6h1.0v1.0h-1.0zM211.2 99.5h1.0v1.0h-1.0zM198.7 121.1h1.0v1.0h-1.0zM197.6 109.1h1.0v1.0h-1.0zM192.2 111.6h1.0v1.0h-1.0zM207.1 111.1h1.0v1.0h-1.0zM213.6 101.2h1.0v1.0h-1.0zM205.5 104.7h1.0v1.0h-1.0zM198.0 116.0h1.0v1.0h-1.0zM201.4 106.1h1.0v1.0h-1.0zM199.9 108.7h1.0v1.0h-1.0zM206.8 99.5h1.0v1.0h-1.0zM204.7 112.6h1.0v1.0h-1.0zM214.1 104.5h1.0v1.0h-1.0zM198.2 118.5h1.0v1.0h-1.0zM217.3 100.3h1.0v1.0h-1.0zM200.9 114.9h1.0v1.0h-1.0zM194.0 108.4h1.0v1.0h-1.0zM214.3 100.2h1.0v1.0h-1.0zM211.3 90.6h1.0v1.0h-1.0zM195.4 120.0h1.0v1.0h-1.0zM206.5 112.4h1.0v1.0h-1.0zM200.5 106.3h1.0v1.0h-1.0zM214.1 104.4h1.0v1.0h-1.0zM213.3 94.0h1.0v1.0h-1.0zM191.9 117.2h1.0v1.0h-1.0zM212.5 102.4h1.0v1.0h-1.0zM214.4 105.8h1.0v1.0h-1.0zM203.7 97.6h1.0v1.0h-1.0zM216.6 101.5h1.0v1.0h-1.0zM202.2 111.0h1.0v1.0h-1.0zM191.4 115.8h1.0v1.0h-1.0zM203.1 97.6h1.0v1.0h-1.0zM193.7 109.2h1.0v1.0h-1.0zM197.3 109.3h1.0v1.0h-1.0zM210.5 103.7h1.0v1.0h-1.0zM206.5 106.8h1.0v1.0h-1.0zM217.0 102.7h1.0v1.0h-1.0zM199.2 112.8h1.0v1.0h-1.0zM195.0 119.8h1.0v1.0h-1.0zM211.4 87.8h1.0v1.0h-1.0zM210.7 98.8h1.0v1.0h-1.0zM210.4 98.6h1.0v1.0h-1.0zM205.9 99.2h1.0v1.0h-1.0zM200.3 119.7h1.0v1.0h-1.0zM200.8 102.3h1.0v1.0h-1.0zM216.0 103.4h1.0v1.0h-1.0zM211.4 96.5h1.0v1.0h-1.0zM210.5 105.1h1.0v1.0h-1.0zM210.6 87.3h1.0v1.0h-1.0zM204.2 97.3h1.0v1.0h-1.0zM218.9 97.5h1.0v1.0h-1.0zM204.3 107.7h1.0v1.0h-1.0zM207.6 92.2h1.0v1.0h-1.0zM206.3 102.4h1.0v1.0h-1.0zM216.5 103.4h1.0v1.0h-1.0zM215.1 100.4h1.0v1.0h-1.0zM210.5 108.7h1.0v1.0h-1.0zM208.3 111.4h1.0v1.0h-1.0zM213.8 90.0h1.0v1.0h-1.0zM216.5 95.4h1.0v1.0h-1.0zM186.3 118.7h1.0v1.0h-1.0zM206.4 92.0h1.0v1.0h-1.0zM212.5 101.4h1.0v1.0h-1.0zM193.4 111.5h1.0v1.0h-1.0zM210.6 95.8h1.0v1.0h-1.0zM196.5 113.0h1.0v1.0h-1.0zM205.4 103.0h1.0v1.0h-1.0zM219.7 97.9h1.0v1.0h-1.0zM209.2 107.1h1.0v1.0h-1.0zM199.3 119.7h1.0v1.0h-1.0zM202.0 108.7h1.0v1.0h-1.0zM211.8 105.9h1.0v1.0h-1.0zM207.7 86.7h1.0v1.0h-1.0zM204.2 105.5h1.0v1.0h-1.0zM205.2 91.1h1.0v1.0h-1.0zM210.0 89.7h1.0v1.0h-1.0zM208.2 89.5h1.0v1.0h-1.0zM201.5 103.9h1.0v1.0h-1.0zM205.1 95.8h1.0v1.0h-1.0zM196.0 119.4h1.0v1.0h-1.0zM197.5 110.9h1.0v1.0h-1.0zM207.4 100.2h1.0v1.0h-1.0zM211.7 102.8h1.0v1.0h-1.0zM206.2 99.8h1.0v1.0h-1.0zM195.7 112.1h1.0v1.0h-1.0zM208.5 108.1h1.0v1.0h-1.0zM190.6 112.6h1.0v1.0h-1.0zM196.2 104.3h1.0v1.0h-1.0zM193.6 117.7h1.0v1.0h-1.0zM207.6 88.6h1.0v1.0h-1.0zM213.4 92.2h1.0v1.0h-1.0zM200.3 106.9h1.0v1.0h-1.0zM211.8 91.9h1.0v1.0h-1.0zM212.8 94.9h1.0v1.0h-1.0zM196.6 114.5h1.0v1.0h-1.0zM212.2 98.5h1.0v1.0h-1.0zM201.9 110.9h1.0v1.0h-1.0zM193.7 109.7h1.0v1.0h-1.0zM208.6 99.0h1.0v1.0h-1.0zM215.0 104.4h1.0v1.0h-1.0zM199.0 112.0h1.0v1.0h-1.0zM208.8 94.1h1.0v1.0h-1.0zM213.3 97.1h1.0v1.0h-1.0zM207.7 95.9h1.0v1.0h-1.0zM202.5 112.1h1.0v1.0h-1.0zM190.4 119.6h1.0v1.0h-1.0zM207.3 101.8h1.0v1.0h-1.0zM195.2 116.6h1.0v1.0h-1.0zM199.5 102.2h1.0v1.0h-1.0zM194.4 112.4h1.0v1.0h-1.0zM200.6 119.0h1.0v1.0h-1.0zM220.1 99.7h1.0v1.0h-1.0zM213.4 100.0h1.0v1.0h-1.0zM196.9 117.9h1.0v1.0h-1.0zM209.4 93.1h1.0v1.0h-1.0zM185.9 122.1h1.0v1.0h-1.0zM199.7 119.9h1.0v1.0h-1.0zM197.4 105.5h1.0v1.0h-1.0zM209.4 97.3h1.0v1.0h-1.0zM216.4 98.8h1.0v1.0h-1.0zM210.5 96.2h1.0v1.0h-1.0zM215.1 100.7h1.0v1.0h-1.0zM200.2 106.1h1.0v1.0h-1.0zM209.2 88.8h1.0v1.0h-1.0zM204.0 96.3h1.0v1.0h-1.0zM199.2 113.4h1.0v1.0h-1.0zM212.2 104.4h1.0v1.0h-1.0zM196.1 106.9h1.0v1.0h-1.0zM193.2 109.5h1.0v1.0h-1.0zM194.9 117.6h1.0v1.0h-1.0zM195.6 114.8h1.0v1.0h-1.0zM206.5 94.9h1.0v1.0h-1.0zM214.3 91.7h1.0v1.0h-1.0zM206.8 101.2h1.0v1.0h-1.0zM203.3 113.9h1.0v1.0h-1.0zM199.3 108.9h1.0v1.0h-1.0zM219.1 98.4h1.0v1.0h-1.0zM197.5 120.1h1.0v1.0h-1.0zM191.6 115.5h1.0v1.0h-1.0zM204.8 90.4h1.0v1.0h-1.0zM217.6 97.5h1.0v1.0h-1.0zM204.0 110.2h1.0v1.0h-1.0zM215.6 104.8h1.0v1.0h-1.0zM202.3 112.3h1.0v1.0h-1.0zM207.5 99.4h1.0v1.0h-1.0zM202.8 99.3h1.0v1.0h-1.0zM211.3 103.9h1.0v1.0h-1.0zM210.5 86.8h1.0v1.0h-1.0zM168.0 126.0h1.0v1.0h-1.0zM188.4 114.2h1.0v1.0h-1.0zM198.1 82.7h1.0v1.0h-1.0zM209.6 88.2h1.0v1.0h-1.0zM206.8 94.4h1.0v1.0h-1.0zM187.7 120.2h1.0v1.0h-1.0zM157.6 133.4h1.0v1.0h-1.0zM169.1 146.1h1.0v1.0h-1.0zM186.9 108.1h1.0v1.0h-1.0zM198.9 78.0h1.0v1.0h-1.0zM176.3 115.3h1.0v1.0h-1.0zM208.5 83.5h1.0v1.0h-1.0zM211.0 91.8h1.0v1.0h-1.0zM167.9 121.2h1.0v1.0h-1.0zM188.4 92.0h1.0v1.0h-1.0zM181.1 116.6h1.0v1.0h-1.0zM204.0 94.4h1.0v1.0h-1.0zM172.1 116.0h1.0v1.0h-1.0zM176.1 116.0h1.0v1.0h-1.0zM188.1 111.7h1.0v1.0h-1.0zM178.4 113.1h1.0v1.0h-1.0zM194.4 96.4h1.0v1.0h-1.0zM211.3 105.1h1.0v1.0h-1.0zM160.4 135.1h1.0v1.0h-1.0zM186.9 121.1h1.0v1.0h-1.0zM201.6 110.8h1.0v1.0h-1.0zM196.5 98.6h1.0v1.0h-1.0zM178.1 104.3h1.0v1.0h-1.0zM161.0 118.9h1.0v1.0h-1.0zM177.0 110.6h1.0v1.0h-1.0zM206.1 102.3h1.0v1.0h-1.0zM190.4 115.4h1.0v1.0h-1.0zM178.6 113.8h1.0v1.0h-1.0zM212.1 96.6h1.0v1.0h-1.0zM150.6 133.6h1.0v1.0h-1.0zM161.9 125.2h1.0v1.0h-1.0zM191.4 112.0h1.0v1.0h-1.0zM151.1 132.5h1.0v1.0h-1.0zM182.6 100.1h1.0v1.0h-1.0zM205.1 103.6h1.0v1.0h-1.0zM216.1 92.5h1.0v1.0h-1.0zM173.1 107.4h1.0v1.0h-1.0zM178.7 120.4h1.0v1.0h-1.0zM191.3 104.5h1.0v1.0h-1.0zM159.2 130.0h1.0v1.0h-1.0zM209.2 94.8h1.0v1.0h-1.0zM163.2 124.4h1.0v1.0h-1.0zM196.6 87.9h1.0v1.0h-1.0zM192.2 108.7h1.0v1.0h-1.0zM213.6 106.4h1.0v1.0h-1.0zM197.4 114.8h1.0v1.0h-1.0zM209.8 96.0h1.0v1.0h-1.0zM206.5 88.8h1.0v1.0h-1.0zM163.8 116.6h1.0v1.0h-1.0zM162.7 129.3h1.0v1.0h-1.0zM167.7 116.3h1.0v1.0h-1.0zM175.7 104.2h1.0v1.0h-1.0zM202.8 76.5h1.0v1.0h-1.0zM209.2 109.0h1.0v1.0h-1.0zM206.5 100.1h1.0v1.0h-1.0zM181.5 124.2h1.0v1.0h-1.0zM162.1 138.8h1.0v1.0h-1.0zM163.7 120.5h1.0v1.0h-1.0zM179.5 128.0h1.0v1.0h-1.0zM197.6 114.9h1.0v1.0h-1.0zM184.4 129.0h1.0v1.0h-1.0zM166.0 114.4h1.0v1.0h-1.0zM203.7 108.1h1.0v1.0h-1.0zM205.7 83.8h1.0v1.0h-1.0zM193.4 105.9h1.0v1.0h-1.0zM189.9 90.9h1.0v1.0h-1.0zM203.9 79.4h1.0v1.0h-1.0zM170.4 125.0h1.0v1.0h-1.0zM177.3 138.6h1.0v1.0h-1.0zM206.8 112.2h1.0v1.0h-1.0zM195.6 106.2h1.0v1.0h-1.0zM169.2 137.5h1.0v1.0h-1.0zM169.0 129.5h1.0v1.0h-1.0zM202.3 115.8h1.0v1.0h-1.0zM203.9 102.9h1.0v1.0h-1.0zM188.2 88.4h1.0v1.0h-1.0zM206.1 93.6h1.0v1.0h-1.0zM184.7 130.0h1.0v1.0h-1.0zM171.1 144.1h1.0v1.0h-1.0zM175.4 141.7h1.0v1.0h-1.0zM169.6 124.5h1.0v1.0h-1.0zM166.2 143.6h1.0v1.0h-1.0zM176.7 101.9h1.0v1.0h-1.0zM191.1 122.7h1.0v1.0h-1.0zM192.8 94.5h1.0v1.0h-1.0zM200.6 104.2h1.0v1.0h-1.0zM177.4 122.7h1.0v1.0h-1.0zM172.5 125.7h1.0v1.0h-1.0zM168.6 145.0h1.0v1.0h-1.0zM202.1 82.6h1.0v1.0h-1.0zM164.6 124.4h1.0v1.0h-1.0zM188.7 105.6h1.0v1.0h-1.0zM207.2 81.3h1.0v1.0h-1.0zM178.9 114.8h1.0v1.0h-1.0zM170.7 133.4h1.0v1.0h-1.0zM178.4 109.0h1.0v1.0h-1.0zM209.5 107.8h1.0v1.0h-1.0zM176.3 125.8h1.0v1.0h-1.0zM214.3 127.0h1.0v1.0h-1.0zM218.0 118.0h1.0v1.0h-1.0zM208.1 127.1h1.0v1.0h-1.0zM199.5 135.4h1.0v1.0h-1.0zM213.8 115.6h1.0v1.0h-1.0zM204.0 133.7h1.0v1.0h-1.0zM223.1 121.1h1.0v1.0h-1.0zM208.9 126.7h1.0v1.0h-1.0zM206.0 126.8h1.0v1.0h-1.0zM203.6 127.8h1.0v1.0h-1.0zM223.7 120.2h1.0v1.0h-1.0zM203.8 130.2h1.0v1.0h-1.0zM214.5 119.5h1.0v1.0h-1.0zM219.0 124.2h1.0v1.0h-1.0zM207.6 120.2h1.0v1.0h-1.0zM212.7 123.8h1.0v1.0h-1.0zM219.4 116.3h1.0v1.0h-1.0zM213.4 126.6h1.0v1.0h-1.0zM212.2 129.3h1.0v1.0h-1.0zM219.5 115.5h1.0v1.0h-1.0zM211.0 131.3h1.0v1.0h-1.0zM200.2 132.2h1.0v1.0h-1.0zM224.1 116.3h1.0v1.0h-1.0zM203.2 125.7h1.0v1.0h-1.0zM226.3 105.8h1.0v1.0h-1.0zM206.7 130.9h1.0v1.0h-1.0zM210.0 126.3h1.0v1.0h-1.0zM197.1 136.7h1.0v1.0h-1.0zM212.1 127.1h1.0v1.0h-1.0zM201.8 127.2h1.0v1.0h-1.0zM211.8 131.0h1.0v1.0h-1.0zM214.5 119.9h1.0v1.0h-1.0zM209.6 128.6h1.0v1.0h-1.0zM201.7 130.9h1.0v1.0h-1.0zM209.9 123.5h1.0v1.0h-1.0zM214.3 119.5h1.0v1.0h-1.0zM218.5 120.3h1.0v1.0h-1.0zM202.4 132.6h1.0v1.0h-1.0zM204.6 125.7h1.0v1.0h-1.0zM206.4 131.6h1.0v1.0h-1.0zM217.5 121.1h1.0v1.0h-1.0zM207.8 131.9h1.0v1.0h-1.0zM207.1 132.8h1.0v1.0h-1.0zM217.1 119.0h1.0v1.0h-1.0zM207.4 138.2h1.0v1.0h-1.0zM211.1 125.1h1.0v1.0h-1.0zM203.3 124.5h1.0v1.0h-1.0zM226.2 111.5h1.0v1.0h-1.0zM214.6 116.6h1.0v1.0h-1.0zM207.9 124.5h1.0v1.0h-1.0zM202.4 135.2h1.0v1.0h-1.0zM205.7 130.5h1.0v1.0h-1.0zM212.7 131.0h1.0v1.0h-1.0zM214.3 129.9h1.0v1.0h-1.0zM198.1 137.6h1.0v1.0h-1.0zM211.3 120.9h1.0v1.0h-1.0zM209.1 129.4h1.0v1.0h-1.0zM200.6 129.9h1.0v1.0h-1.0zM221.3 114.8h1.0v1.0h-1.0zM211.4 127.5h1.0v1.0h-1.0zM213.1 128.3h1.0v1.0h-1.0zM226.4 112.9h1.0v1.0h-1.0zM209.4 118.5h1.0v1.0h-1.0zM208.8 125.1h1.0v1.0h-1.0zM206.6 130.7h1.0v1.0h-1.0zM212.2 122.5h1.0v1.0h-1.0zM199.5 135.9h1.0v1.0h-1.0zM210.9 128.0h1.0v1.0h-1.0zM204.7 137.5h1.0v1.0h-1.0zM215.1 122.8h1.0v1.0h-1.0zM208.6 128.0h1.0v1.0h-1.0zM202.4 130.3h1.0v1.0h-1.0zM210.9 125.0h1.0v1.0h-1.0zM204.6 126.4h1.0v1.0h-1.0zM201.7 130.6h1.0v1.0h-1.0zM205.6 131.3h1.0v1.0h-1.0zM194.3 133.1h1.0v1.0h-1.0zM214.4 126.5h1.0v1.0h-1.0zM215.2 120.7h1.0v1.0h-1.0zM204.1 139.0h1.0v1.0h-1.0zM205.0 134.5h1.0v1.0h-1.0zM203.2 130.8h1.0v1.0h-1.0zM209.8 129.2h1.0v1.0h-1.0zM216.8 123.3h1.0v1.0h-1.0zM198.5 146.1h1.0v1.0h-1.0zM208.9 126.2h1.0v1.0h-1.0zM198.4 132.8h1.0v1.0h-1.0zM212.8 127.9h1.0v1.0h-1.0zM199.6 138.8h1.0v1.0h-1.0zM204.0 133.1h1.0v1.0h-1.0zM192.3 136.6h1.0v1.0h-1.0zM202.6 136.8h1.0v1.0h-1.0zM203.9 130.9h1.0v1.0h-1.0zM214.4 121.7h1.0v1.0h-1.0zM214.6 122.4h1.0v1.0h-1.0zM209.4 117.6h1.0v1.0h-1.0zM203.2 132.4h1.0v1.0h-1.0zM206.1 137.8h1.0v1.0h-1.0zM195.4 132.0h1.0v1.0h-1.0zM204.9 136.8h1.0v1.0h-1.0zM203.5 136.6h1.0v1.0h-1.0zM198.8 137.8h1.0v1.0h-1.0zM220.9 120.8h1.0v1.0h-1.0zM201.7 133.0h1.0v1.0h-1.0zM203.5 126.3h1.0v1.0h-1.0zM199.2 138.4h1.0v1.0h-1.0zM214.4 131.9h1.0v1.0h-1.0zM207.5 129.0h1.0v1.0h-1.0zM206.0 130.0h1.0v1.0h-1.0zM205.0 131.4h1.0v1.0h-1.0zM209.6 132.9h1.0v1.0h-1.0zM210.0 118.2h1.0v1.0h-1.0zM218.9 116.2h1.0v1.0h-1.0zM192.4 142.5h1.0v1.0h-1.0zM210.8 123.5h1.0v1.0h-1.0zM203.9 136.1h1.0v1.0h-1.0zM188.0 146.5h1.0v1.0h-1.0zM208.8 126.7h1.0v1.0h-1.0zM204.3 133.6h1.0v1.0h-1.0zM209.3 131.7h1.0v1.0h-1.0zM213.6 131.1h1.0v1.0h-1.0zM208.5 124.7h1.0v1.0h-1.0zM205.7 131.5h1.0v1.0h-1.0zM212.7 128.3h1.0v1.0h-1.0zM208.8 124.9h1.0v1.0h-1.0zM192.8 139.2h1.0v1.0h-1.0zM209.3 125.6h1.0v1.0h-1.0zM196.3 139.7h1.0v1.0h-1.0zM220.0 115.4h1.0v1.0h-1.0zM211.3 130.8h1.0v1.0h-1.0zM211.4 125.5h1.0v1.0h-1.0zM192.6 141.1h1.0v1.0h-1.0zM206.6 134.7h1.0v1.0h-1.0zM213.2 126.5h1.0v1.0h-1.0zM205.6 133.5h1.0v1.0h-1.0zM211.2 129.1h1.0v1.0h-1.0zM197.3 131.3h1.0v1.0h-1.0zM210.8 127.4h1.0v1.0h-1.0zM218.0 122.6h1.0v1.0h-1.0zM209.4 124.9h1.0v1.0h-1.0zM204.5 141.0h1.0v1.0h-1.0zM213.0 123.7h1.0v1.0h-1.0zM218.2 125.2h1.0v1.0h-1.0zM210.8 132.7h1.0v1.0h-1.0zM205.0 125.5h1.0v1.0h-1.0zM206.1 125.0h1.0v1.0h-1.0zM208.5 124.8h1.0v1.0h-1.0zM218.3 122.3h1.0v1.0h-1.0zM198.1 140.7h1.0v1.0h-1.0zM213.6 119.8h1.0v1.0h-1.0zM213.6 124.5h1.0v1.0h-1.0zM220.3 122.2h1.0v1.0h-1.0zM206.7 130.3h1.0v1.0h-1.0zM215.9 125.9h1.0v1.0h-1.0zM219.0 117.8h1.0v1.0h-1.0zM210.0 123.7h1.0v1.0h-1.0zM218.9 119.1h1.0v1.0h-1.0zM219.5 117.6h1.0v1.0h-1.0zM207.0 132.4h1.0v1.0h-1.0zM201.9 141.1h1.0v1.0h-1.0zM203.2 140.7h1.0v1.0h-1.0zM205.9 130.4h1.0v1.0h-1.0zM213.8 127.3h1.0v1.0h-1.0zM195.9 142.4h1.0v1.0h-1.0zM209.0 128.9h1.0v1.0h-1.0zM200.5 130.8h1.0v1.0h-1.0zM211.5 129.2h1.0v1.0h-1.0zM202.9 127.4h1.0v1.0h-1.0zM199.8 139.2h1.0v1.0h-1.0zM203.9 122.4h1.0v1.0h-1.0zM206.2 134.5h1.0v1.0h-1.0zM212.8 125.8h1.0v1.0h-1.0zM210.2 125.4h1.0v1.0h-1.0zM195.2 137.8h1.0v1.0h-1.0zM203.9 131.1h1.0v1.0h-1.0zM202.1 125.5h1.0v1.0h-1.0zM225.1 104.8h1.0v1.0h-1.0zM200.7 136.6h1.0v1.0h-1.0zM216.0 125.6h1.0v1.0h-1.0zM222.0 112.2h1.0v1.0h-1.0zM216.8 112.7h1.0v1.0h-1.0zM200.2 138.4h1.0v1.0h-1.0zM196.0 142.0h1.0v1.0h-1.0zM216.5 112.1h1.0v1.0h-1.0zM204.6 131.3h1.0v1.0h-1.0zM200.8 135.8h1.0v1.0h-1.0zM206.8 136.7h1.0v1.0h-1.0zM204.4 131.1h1.0v1.0h-1.0zM200.1 134.0h1.0v1.0h-1.0zM222.1 119.2h1.0v1.0h-1.0zM198.3 136.2h1.0v1.0h-1.0zM196.5 136.8h1.0v1.0h-1.0zM219.8 120.9h1.0v1.0h-1.0zM198.2 138.4h1.0v1.0h-1.0zM216.0 124.2h1.0v1.0h-1.0zM216.7 123.5h1.0v1.0h-1.0zM212.4 123.9h1.0v1.0h-1.0zM211.3 118.3h1.0v1.0h-1.0zM211.5 128.8h1.0v1.0h-1.0zM211.2 119.3h1.0v1.0h-1.0zM218.1 116.4h1.0v1.0h-1.0zM210.4 132.6h1.0v1.0h-1.0zM207.9 122.2h1.0v1.0h-1.0zM217.0 126.2h1.0v1.0h-1.0zM202.1 125.4h1.0v1.0h-1.0zM204.3 124.6h1.0v1.0h-1.0zM218.5 120.2h1.0v1.0h-1.0zM204.9 131.4h1.0v1.0h-1.0zM229.1 115.6h1.0v1.0h-1.0zM199.0 138.1h1.0v1.0h-1.0zM208.0 135.6h1.0v1.0h-1.0zM218.1 116.6h1.0v1.0h-1.0zM217.5 121.1h1.0v1.0h-1.0zM198.3 139.5h1.0v1.0h-1.0zM209.1 128.5h1.0v1.0h-1.0zM212.6 125.3h1.0v1.0h-1.0zM208.9 128.6h1.0v1.0h-1.0zM209.4 131.6h1.0v1.0h-1.0zM205.8 133.6h1.0v1.0h-1.0zM202.9 127.4h1.0v1.0h-1.0zM200.2 137.5h1.0v1.0h-1.0zM227.5 116.6h1.0v1.0h-1.0zM209.4 129.9h1.0v1.0h-1.0zM218.8 118.4h1.0v1.0h-1.0zM206.1 134.3h1.0v1.0h-1.0zM222.5 122.9h1.0v1.0h-1.0zM211.8 132.9h1.0v1.0h-1.0zM221.8 118.0h1.0v1.0h-1.0zM206.7 125.2h1.0v1.0h-1.0zM202.4 133.2h1.0v1.0h-1.0zM210.1 122.5h1.0v1.0h-1.0zM204.8 130.8h1.0v1.0h-1.0zM206.4 125.5h1.0v1.0h-1.0zM225.9 112.5h1.0v1.0h-1.0zM214.0 126.2h1.0v1.0h-1.0zM212.2 129.3h1.0v1.0h-1.0zM201.4 141.6h1.0v1.0h-1.0zM214.5 120.6h1.0v1.0h-1.0zM197.7 143.4h1.0v1.0h-1.0zM204.2 124.0h1.0v1.0h-1.0zM218.4 118.7h1.0v1.0h-1.0zM203.5 133.6h1.0v1.0h-1.0zM222.4 121.6h1.0v1.0h-1.0zM222.0 123.8h1.0v1.0h-1.0zM223.3 120.4h1.0v1.0h-1.0zM202.5 138.0h1.0v1.0h-1.0zM226.7 115.3h1.0v1.0h-1.0zM206.0 131.1h1.0v1.0h-1.0zM207.0 130.7h1.0v1.0h-1.0zM219.0 122.2h1.0v1.0h-1.0zM214.8 118.4h1.0v1.0h-1.0zM206.6 130.1h1.0v1.0h-1.0zM208.4 121.4h1.0v1.0h-1.0zM207.3 127.6h1.0v1.0h-1.0zM202.9 133.3h1.0v1.0h-1.0zM218.2 115.6h1.0v1.0h-1.0zM202.7 131.3h1.0v1.0h-1.0zM195.6 133.1h1.0v1.0h-1.0zM199.3 135.2h1.0v1.0h-1.0zM213.8 129.2h1.0v1.0h-1.0zM207.9 136.0h1.0v1.0h-1.0zM212.3 131.2h1.0v1.0h-1.0zM202.0 132.2h1.0v1.0h-1.0zM209.6 132.2h1.0v1.0h-1.0zM205.6 130.3h1.0v1.0h-1.0zM207.2 126.7h1.0v1.0h-1.0zM199.0 132.2h1.0v1.0h-1.0zM222.4 116.6h1.0v1.0h-1.0zM202.7 130.3h1.0v1.0h-1.0zM188.8 144.5h1.0v1.0h-1.0zM205.3 123.2h1.0v1.0h-1.0zM201.4 126.9h1.0v1.0h-1.0zM220.1 116.2h1.0v1.0h-1.0zM199.7 140.9h1.0v1.0h-1.0zM210.1 126.6h1.0v1.0h-1.0zM212.3 126.0h1.0v1.0h-1.0zM193.8 143.2h1.0v1.0h-1.0zM212.8 122.3h1.0v1.0h-1.0zM213.9 122.6h1.0v1.0h-1.0zM213.2 115.3h1.0v1.0h-1.0zM199.3 143.9h1.0v1.0h-1.0zM211.3 124.8h1.0v1.0h-1.0zM206.3 137.4h1.0v1.0h-1.0zM191.8 144.5h1.0v1.0h-1.0zM214.0 121.0h1.0v1.0h-1.0zM213.5 131.2h1.0v1.0h-1.0zM206.3 137.3h1.0v1.0h-1.0zM211.1 120.0h1.0v1.0h-1.0zM205.3 135.9h1.0v1.0h-1.0zM211.3 120.0h1.0v1.0h-1.0zM215.8 119.5h1.0v1.0h-1.0zM198.8 135.9h1.0v1.0h-1.0zM209.7 129.1h1.0v1.0h-1.0zM202.6 136.4h1.0v1.0h-1.0zM208.4 132.3h1.0v1.0h-1.0zM212.0 125.7h1.0v1.0h-1.0zM207.6 122.5h1.0v1.0h-1.0zM193.3 150.4h1.0v1.0h-1.0zM218.6 121.8h1.0v1.0h-1.0zM197.2 140.0h1.0v1.0h-1.0zM207.3 129.7h1.0v1.0h-1.0zM225.6 115.3h1.0v1.0h-1.0zM202.6 131.1h1.0v1.0h-1.0zM207.5 139.0h1.0v1.0h-1.0zM204.3 125.2h1.0v1.0h-1.0zM212.0 126.1h1.0v1.0h-1.0zM204.7 130.5h1.0v1.0h-1.0zM197.4 139.5h1.0v1.0h-1.0zM208.5 129.5h1.0v1.0h-1.0zM191.3 136.3h1.0v1.0h-1.0zM215.6 124.7h1.0v1.0h-1.0zM200.7 144.8h1.0v1.0h-1.0zM206.7 136.3h1.0v1.0h-1.0zM204.8 132.6h1.0v1.0h-1.0zM209.2 121.0h1.0v1.0h-1.0zM203.9 126.4h1.0v1.0h-1.0zM211.3 128.2h1.0v1.0h-1.0zM202.0 129.9h1.0v1.0h-1.0zM204.4 124.0h1.0v1.0h-1.0zM194.2 139.3h1.0v1.0h-1.0zM221.2 123.2h1.0v1.0h-1.0zM206.0 134.3h1.0v1.0h-1.0zM218.6 121.2h1.0v1.0h-1.0zM202.4 131.3h1.0v1.0h-1.0zM223.1 113.2h1.0v1.0h-1.0zM212.7 125.3h1.0v1.0h-1.0zM206.1 131.5h1.0v1.0h-1.0zM193.3 140.4h1.0v1.0h-1.0zM220.2 116.7h1.0v1.0h-1.0zM216.4 125.6h1.0v1.0h-1.0zM204.5 131.1h1.0v1.0h-1.0zM205.9 133.1h1.0v1.0h-1.0zM213.6 123.0h1.0v1.0h-1.0zM202.4 130.3h1.0v1.0h-1.0zM205.4 123.9h1.0v1.0h-1.0zM215.7 122.5h1.0v1.0h-1.0zM209.8 132.3h1.0v1.0h-1.0zM213.4 124.4h1.0v1.0h-1.0zM206.0 131.4h1.0v1.0h-1.0zM207.3 129.0h1.0v1.0h-1.0zM200.2 141.3h1.0v1.0h-1.0zM210.9 123.6h1.0v1.0h-1.0zM219.1 113.1h1.0v1.0h-1.0zM217.3 122.1h1.0v1.0h-1.0zM204.7 139.8h1.0v1.0h-1.0zM202.5 131.9h1.0v1.0h-1.0zM203.2 127.1h1.0v1.0h-1.0zM217.4 120.3h1.0v1.0h-1.0zM195.5 135.2h1.0v1.0h-1.0zM214.2 122.0h1.0v1.0h-1.0zM199.1 137.0h1.0v1.0h-1.0zM201.2 133.4h1.0v1.0h-1.0zM211.2 120.7h1.0v1.0h-1.0zM213.4 128.6h1.0v1.0h-1.0zM205.8 131.6h1.0v1.0h-1.0zM205.4 129.0h1.0v1.0h-1.0zM210.5 125.4h1.0v1.0h-1.0zM216.5 115.2h1.0v1.0h-1.0zM211.9 127.7h1.0v1.0h-1.0zM226.0 105.6h1.0v1.0h-1.0zM202.5 137.7h1.0v1.0h-1.0zM212.9 125.9h1.0v1.0h-1.0zM208.4 130.8h1.0v1.0h-1.0zM204.5 129.2h1.0v1.0h-1.0zM230.5 114.4h1.0v1.0h-1.0zM205.8 126.6h1.0v1.0h-1.0zM202.8 127.6h1.0v1.0h-1.0zM219.6 121.1h1.0v1.0h-1.0zM207.9 128.8h1.0v1.0h-1.0zM198.8 139.0h1.0v1.0h-1.0zM199.4 135.4h1.0v1.0h-1.0zM207.0 128.5h1.0v1.0h-1.0zM194.6 140.4h1.0v1.0h-1.0zM213.8 123.2h1.0v1.0h-1.0zM204.2 133.9h1.0v1.0h-1.0zM211.4 121.8h1.0v1.0h-1.0zM219.0 117.8h1.0v1.0h-1.0zM199.3 136.4h1.0v1.0h-1.0zM214.9 130.9h1.0v1.0h-1.0zM202.1 128.0h1.0v1.0h-1.0zM206.3 130.2h1.0v1.0h-1.0zM206.5 127.8h1.0v1.0h-1.0zM218.2 120.5h1.0v1.0h-1.0zM221.0 119.2h1.0v1.0h-1.0zM203.1 130.1h1.0v1.0h-1.0zM214.5 122.6h1.0v1.0h-1.0zM201.4 134.6h1.0v1.0h-1.0zM198.7 127.6h1.0v1.0h-1.0zM202.2 134.5h1.0v1.0h-1.0zM208.2 126.4h1.0v1.0h-1.0zM205.9 128.7h1.0v1.0h-1.0zM204.3 134.0h1.0v1.0h-1.0zM205.7 126.0h1.0v1.0h-1.0zM219.4 118.4h1.0v1.0h-1.0zM217.6 120.3h1.0v1.0h-1.0zM203.4 135.0h1.0v1.0h-1.0zM208.6 130.0h1.0v1.0h-1.0zM201.3 133.6h1.0v1.0h-1.0zM206.7 135.1h1.0v1.0h-1.0zM191.6 143.0h1.0v1.0h-1.0zM205.5 129.8h1.0v1.0h-1.0zM213.4 121.5h1.0v1.0h-1.0zM218.2 109.6h1.0v1.0h-1.0zM205.5 133.2h1.0v1.0h-1.0zM213.3 116.0h1.0v1.0h-1.0zM211.4 127.7h1.0v1.0h-1.0zM224.4 115.8h1.0v1.0h-1.0zM205.6 135.3h1.0v1.0h-1.0zM193.8 143.9h1.0v1.0h-1.0zM211.9 117.2h1.0v1.0h-1.0zM203.1 133.2h1.0v1.0h-1.0zM208.8 123.3h1.0v1.0h-1.0zM196.6 140.6h1.0v1.0h-1.0zM218.3 119.6h1.0v1.0h-1.0zM229.8 110.7h1.0v1.0h-1.0zM197.5 140.3h1.0v1.0h-1.0zM222.1 119.3h1.0v1.0h-1.0zM213.5 125.4h1.0v1.0h-1.0zM193.4 143.8h1.0v1.0h-1.0zM216.7 114.3h1.0v1.0h-1.0zM207.1 128.3h1.0v1.0h-1.0zM212.4 129.7h1.0v1.0h-1.0zM222.7 119.5h1.0v1.0h-1.0zM195.3 137.4h1.0v1.0h-1.0zM211.4 123.6h1.0v1.0h-1.0zM195.7 135.5h1.0v1.0h-1.0zM189.5 145.5h1.0v1.0h-1.0zM201.8 137.5h1.0v1.0h-1.0zM216.9 118.0h1.0v1.0h-1.0zM195.4 145.1h1.0v1.0h-1.0zM214.0 120.6h1.0v1.0h-1.0zM200.6 131.3h1.0v1.0h-1.0zM218.8 126.9h1.0v1.0h-1.0zM208.3 129.2h1.0v1.0h-1.0zM205.3 140.5h1.0v1.0h-1.0zM217.1 116.2h1.0v1.0h-1.0zM215.7 117.7h1.0v1.0h-1.0zM206.1 134.7h1.0v1.0h-1.0zM205.5 128.9h1.0v1.0h-1.0zM202.7 129.2h1.0v1.0h-1.0zM202.0 125.3h1.0v1.0h-1.0zM203.1 132.7h1.0v1.0h-1.0zM197.9 138.1h1.0v1.0h-1.0zM218.7 116.0h1.0v1.0h-1.0zM225.8 111.5h1.0v1.0h-1.0zM215.3 112.8h1.0v1.0h-1.0zM204.7 125.6h1.0v1.0h-1.0zM211.0 120.2h1.0v1.0h-1.0zM207.1 135.1h1.0v1.0h-1.0zM214.6 126.2h1.0v1.0h-1.0zM215.9 121.5h1.0v1.0h-1.0zM214.4 118.6h1.0v1.0h-1.0zM198.4 133.7h1.0v1.0h-1.0zM205.4 125.7h1.0v1.0h-1.0zM211.2 120.0h1.0v1.0h-1.0zM208.5 127.2h1.0v1.0h-1.0zM210.8 126.3h1.0v1.0h-1.0zM214.0 114.3h1.0v1.0h-1.0zM205.3 126.0h1.0v1.0h-1.0zM204.1 132.0h1.0v1.0h-1.0zM207.3 130.3h1.0v1.0h-1.0zM215.7 127.3h1.0v1.0h-1.0zM208.5 122.2h1.0v1.0h-1.0zM199.5 137.3h1.0v1.0h-1.0zM209.7 131.5h1.0v1.0h-1.0zM200.4 144.8h1.0v1.0h-1.0zM193.6 144.9h1.0v1.0h-1.0zM196.6 134.5h1.0v1.0h-1.0zM224.4 115.8h1.0v1.0h-1.0zM197.8 144.4h1.0v1.0h-1.0zM207.9 134.9h1.0v1.0h-1.0zM207.9 130.3h1.0v1.0h-1.0zM206.7 126.5h1.0v1.0h-1.0zM210.2 121.4h1.0v1.0h-1.0zM214.6 128.8h1.0v1.0h-1.0zM199.6 136.1h1.0v1.0h-1.0zM211.6 122.0h1.0v1.0h-1.0zM193.2 149.6h1.0v1.0h-1.0zM214.3 117.5h1.0v1.0h-1.0zM205.7 133.9h1.0v1.0h-1.0zM223.8 117.9h1.0v1.0h-1.0zM205.6 137.2h1.0v1.0h-1.0zM213.5 125.8h1.0v1.0h-1.0zM195.8 141.3h1.0v1.0h-1.0zM205.3 135.2h1.0v1.0h-1.0zM208.8 130.9h1.0v1.0h-1.0zM205.5 132.6h1.0v1.0h-1.0zM200.9 133.8h1.0v1.0h-1.0zM209.6 125.6h1.0v1.0h-1.0zM207.7 122.9h1.0v1.0h-1.0zM203.7 131.3h1.0v1.0h-1.0zM192.7 147.6h1.0v1.0h-1.0zM196.7 143.4h1.0v1.0h-1.0zM201.7 133.7h1.0v1.0h-1.0zM206.0 127.0h1.0v1.0h-1.0zM201.0 127.1h1.0v1.0h-1.0zM211.4 132.9h1.0v1.0h-1.0zM199.1 133.1h1.0v1.0h-1.0zM204.5 132.4h1.0v1.0h-1.0zM214.7 116.6h1.0v1.0h-1.0zM206.8 132.1h1.0v1.0h-1.0zM208.9 126.2h1.0v1.0h-1.0zM202.6 135.5h1.0v1.0h-1.0zM208.1 127.9h1.0v1.0h-1.0zM207.0 138.2h1.0v1.0h-1.0zM203.4 133.9h1.0v1.0h-1.0zM194.7 136.3h1.0v1.0h-1.0zM206.7 130.0h1.0v1.0h-1.0zM205.1 132.6h1.0v1.0h-1.0zM204.4 135.8h1.0v1.0h-1.0zM218.6 118.7h1.0v1.0h-1.0zM208.3 132.4h1.0v1.0h-1.0zM208.3 132.2h1.0v1.0h-1.0zM214.8 123.4h1.0v1.0h-1.0zM207.7 129.1h1.0v1.0h-1.0zM202.2 133.1h1.0v1.0h-1.0zM203.5 131.6h1.0v1.0h-1.0zM207.7 129.1h1.0v1.0h-1.0zM211.4 126.1h1.0v1.0h-1.0zM210.0 135.1h1.0v1.0h-1.0zM192.9 144.6h1.0v1.0h-1.0zM208.1 138.2h1.0v1.0h-1.0zM207.2 135.5h1.0v1.0h-1.0zM205.7 134.8h1.0v1.0h-1.0zM211.1 116.5h1.0v1.0h-1.0zM217.1 125.8h1.0v1.0h-1.0zM203.5 134.1h1.0v1.0h-1.0zM218.7 120.6h1.0v1.0h-1.0zM202.5 130.1h1.0v1.0h-1.0zM214.6 119.7h1.0v1.0h-1.0zM203.4 131.9h1.0v1.0h-1.0zM203.0 132.9h1.0v1.0h-1.0zM213.3 120.0h1.0v1.0h-1.0zM208.4 120.0h1.0v1.0h-1.0zM203.8 131.6h1.0v1.0h-1.0zM207.4 135.5h1.0v1.0h-1.0zM194.1 137.4h1.0v1.0h-1.0zM204.9 133.7h1.0v1.0h-1.0zM202.5 131.5h1.0v1.0h-1.0zM212.9 127.2h1.0v1.0h-1.0zM193.0 142.8h1.0v1.0h-1.0zM223.6 118.1h1.0v1.0h-1.0zM205.4 126.9h1.0v1.0h-1.0zM224.1 119.6h1.0v1.0h-1.0zM195.2 140.7h1.0v1.0h-1.0zM207.3 135.6h1.0v1.0h-1.0zM206.3 121.5h1.0v1.0h-1.0zM201.9 134.6h1.0v1.0h-1.0zM204.9 128.7h1.0v1.0h-1.0zM205.0 133.7h1.0v1.0h-1.0zM204.8 136.5h1.0v1.0h-1.0zM201.8 131.0h1.0v1.0h-1.0zM220.5 109.7h1.0v1.0h-1.0zM209.4 126.0h1.0v1.0h-1.0zM215.7 117.9h1.0v1.0h-1.0zM203.0 134.0h1.0v1.0h-1.0zM201.0 129.9h1.0v1.0h-1.0zM214.7 121.4h1.0v1.0h-1.0zM198.4 140.4h1.0v1.0h-1.0zM192.7 147.6h1.0v1.0h-1.0zM207.7 130.9h1.0v1.0h-1.0zM212.8 131.7h1.0v1.0h-1.0zM195.5 141.0h1.0v1.0h-1.0zM222.1 106.2h1.0v1.0h-1.0zM201.1 141.6h1.0v1.0h-1.0zM201.2 139.3h1.0v1.0h-1.0zM207.8 131.4h1.0v1.0h-1.0zM192.6 141.8h1.0v1.0h-1.0zM209.0 120.6h1.0v1.0h-1.0zM218.3 122.4h1.0v1.0h-1.0zM200.8 138.2h1.0v1.0h-1.0zM210.5 117.0h1.0v1.0h-1.0zM193.5 133.9h1.0v1.0h-1.0zM214.6 118.6h1.0v1.0h-1.0zM202.9 124.4h1.0v1.0h-1.0zM204.3 140.1h1.0v1.0h-1.0zM218.6 121.7h1.0v1.0h-1.0zM206.3 137.1h1.0v1.0h-1.0zM198.2 142.4h1.0v1.0h-1.0zM208.6 126.2h1.0v1.0h-1.0zM210.5 126.2h1.0v1.0h-1.0zM206.5 127.9h1.0v1.0h-1.0zM199.8 133.7h1.0v1.0h-1.0zM214.6 120.0h1.0v1.0h-1.0zM209.4 128.5h1.0v1.0h-1.0zM213.6 114.1h1.0v1.0h-1.0zM218.4 122.5h1.0v1.0h-1.0zM222.2 116.5h1.0v1.0h-1.0zM216.1 124.8h1.0v1.0h-1.0zM218.3 120.6h1.0v1.0h-1.0zM200.8 139.6h1.0v1.0h-1.0zM200.5 135.2h1.0v1.0h-1.0zM205.1 136.0h1.0v1.0h-1.0zM216.5 117.2h1.0v1.0h-1.0zM214.4 120.4h1.0v1.0h-1.0zM207.2 123.5h1.0v1.0h-1.0zM213.2 126.5h1.0v1.0h-1.0zM203.8 140.3h1.0v1.0h-1.0zM205.9 127.7h1.0v1.0h-1.0zM199.9 145.8h1.0v1.0h-1.0zM219.7 125.0h1.0v1.0h-1.0zM209.4 130.6h1.0v1.0h-1.0zM193.3 142.3h1.0v1.0h-1.0zM214.3 113.9h1.0v1.0h-1.0zM223.5 117.4h1.0v1.0h-1.0zM221.8 122.4h1.0v1.0h-1.0zM202.5 137.5h1.0v1.0h-1.0zM209.8 129.8h1.0v1.0h-1.0zM205.2 135.0h1.0v1.0h-1.0zM210.8 123.7h1.0v1.0h-1.0zM218.6 121.8h1.0v1.0h-1.0zM208.7 131.4h1.0v1.0h-1.0zM214.3 127.1h1.0v1.0h-1.0zM217.0 124.8h1.0v1.0h-1.0zM207.7 132.3h1.0v1.0h-1.0zM200.6 130.5h1.0v1.0h-1.0zM213.9 115.7h1.0v1.0h-1.0zM205.1 128.3h1.0v1.0h-1.0zM209.0 132.9h1.0v1.0h-1.0zM214.2 121.4h1.0v1.0h-1.0zM211.5 127.1h1.0v1.0h-1.0zM218.9 121.8h1.0v1.0h-1.0zM202.9 140.2h1.0v1.0h-1.0zM207.9 136.4h1.0v1.0h-1.0zM210.4 132.2h1.0v1.0h-1.0zM196.8 143.2h1.0v1.0h-1.0zM200.6 140.7h1.0v1.0h-1.0zM208.7 131.6h1.0v1.0h-1.0zM203.1 135.9h1.0v1.0h-1.0zM214.6 125.2h1.0v1.0h-1.0zM207.6 127.1h1.0v1.0h-1.0zM216.8 113.3h1.0v1.0h-1.0zM212.0 129.4h1.0v1.0h-1.0zM200.1 138.0h1.0v1.0h-1.0zM212.1 128.6h1.0v1.0h-1.0zM206.3 130.6h1.0v1.0h-1.0zM209.9 133.0h1.0v1.0h-1.0zM204.5 129.8h1.0v1.0h-1.0zM207.6 134.4h1.0v1.0h-1.0zM206.0 122.7h1.0v1.0h-1.0zM212.7 120.1h1.0v1.0h-1.0zM202.2 134.9h1.0v1.0h-1.0zM213.0 126.3h1.0v1.0h-1.0zM222.4 119.4h1.0v1.0h-1.0zM217.9 116.3h1.0v1.0h-1.0zM219.0 121.4h1.0v1.0h-1.0zM201.8 134.8h1.0v1.0h-1.0zM195.6 141.0h1.0v1.0h-1.0zM207.4 135.3h1.0v1.0h-1.0zM196.5 136.2h1.0v1.0h-1.0zM209.3 134.6h1.0v1.0h-1.0zM208.0 135.3h1.0v1.0h-1.0zM204.6 131.9h1.0v1.0h-1.0zM217.0 115.9h1.0v1.0h-1.0zM215.3 122.6h1.0v1.0h-1.0zM200.6 140.3h1.0v1.0h-1.0zM211.3 124.2h1.0v1.0h-1.0zM203.6 132.3h1.0v1.0h-1.0zM209.8 124.2h1.0v1.0h-1.0zM205.1 124.5h1.0v1.0h-1.0zM219.9 119.4h1.0v1.0h-1.0zM212.0 123.2h1.0v1.0h-1.0zM205.2 136.6h1.0v1.0h-1.0zM204.9 132.6h1.0v1.0h-1.0zM218.9 116.1h1.0v1.0h-1.0zM200.9 140.0h1.0v1.0h-1.0zM206.6 127.4h1.0v1.0h-1.0zM206.8 122.4h1.0v1.0h-1.0zM192.7 137.6h1.0v1.0h-1.0zM214.1 126.2h1.0v1.0h-1.0zM211.5 124.2h1.0v1.0h-1.0zM216.7 124.7h1.0v1.0h-1.0zM205.3 122.6h1.0v1.0h-1.0zM203.8 141.6h1.0v1.0h-1.0zM215.7 124.4h1.0v1.0h-1.0zM204.3 129.0h1.0v1.0h-1.0zM222.5 110.3h1.0v1.0h-1.0zM189.7 144.3h1.0v1.0h-1.0zM221.8 114.5h1.0v1.0h-1.0zM220.0 119.8h1.0v1.0h-1.0zM207.1 128.2h1.0v1.0h-1.0zM204.5 131.0h1.0v1.0h-1.0zM218.9 118.2h1.0v1.0h-1.0zM198.6 141.7h1.0v1.0h-1.0zM202.3 126.0h1.0v1.0h-1.0zM209.9 128.1h1.0v1.0h-1.0zM217.4 120.8h1.0v1.0h-1.0zM216.8 115.4h1.0v1.0h-1.0zM208.2 121.0h1.0v1.0h-1.0zM201.6 129.4h1.0v1.0h-1.0zM208.4 131.0h1.0v1.0h-1.0zM206.9 129.4h1.0v1.0h-1.0zM220.6 120.9h1.0v1.0h-1.0zM202.9 124.9h1.0v1.0h-1.0zM206.1 124.2h1.0v1.0h-1.0zM204.9 132.6h1.0v1.0h-1.0zM213.7 121.8h1.0v1.0h-1.0zM192.9 141.9h1.0v1.0h-1.0zM215.7 112.2h1.0v1.0h-1.0zM195.8 149.0h1.0v1.0h-1.0zM201.6 142.7h1.0v1.0h-1.0zM198.9 144.0h1.0v1.0h-1.0zM218.4 121.2h1.0v1.0h-1.0zM208.2 130.7h1.0v1.0h-1.0zM220.6 118.5h1.0v1.0h-1.0zM214.5 126.3h1.0v1.0h-1.0zM203.6 133.0h1.0v1.0h-1.0zM209.0 126.6h1.0v1.0h-1.0zM208.5 126.0h1.0v1.0h-1.0zM204.2 130.4h1.0v1.0h-1.0zM197.7 143.9h1.0v1.0h-1.0zM216.1 121.8h1.0v1.0h-1.0zM202.4 129.2h1.0v1.0h-1.0zM199.5 134.6h1.0v1.0h-1.0zM219.8 121.4h1.0v1.0h-1.0zM212.1 126.5h1.0v1.0h-1.0zM214.2 123.1h1.0v1.0h-1.0zM196.5 136.4h1.0v1.0h-1.0zM209.6 125.4h1.0v1.0h-1.0zM204.6 132.3h1.0v1.0h-1.0zM204.8 135.7h1.0v1.0h-1.0zM207.7 127.5h1.0v1.0h-1.0zM194.4 144.8h1.0v1.0h-1.0zM210.9 116.3h1.0v1.0h-1.0zM201.0 137.4h1.0v1.0h-1.0zM198.7 135.7h1.0v1.0h-1.0zM222.7 115.0h1.0v1.0h-1.0zM201.3 134.1h1.0v1.0h-1.0zM204.5 136.9h1.0v1.0h-1.0zM214.9 122.8h1.0v1.0h-1.0zM215.0 127.8h1.0v1.0h-1.0zM213.5 129.5h1.0v1.0h-1.0zM214.6 123.8h1.0v1.0h-1.0zM190.9 144.6h1.0v1.0h-1.0zM218.7 111.7h1.0v1.0h-1.0zM212.0 128.5h1.0v1.0h-1.0zM203.8 129.8h1.0v1.0h-1.0zM202.2 133.1h1.0v1.0h-1.0zM196.1 146.6h1.0v1.0h-1.0zM209.7 126.2h1.0v1.0h-1.0zM220.7 118.0h1.0v1.0h-1.0zM209.5 127.4h1.0v1.0h-1.0zM205.1 123.2h1.0v1.0h-1.0zM229.2 111.6h1.0v1.0h-1.0zM207.0 120.8h1.0v1.0h-1.0zM229.9 112.1h1.0v1.0h-1.0zM221.6 111.0h1.0v1.0h-1.0zM209.9 125.2h1.0v1.0h-1.0zM200.1 142.7h1.0v1.0h-1.0zM194.5 137.2h1.0v1.0h-1.0zM199.3 138.2h1.0v1.0h-1.0zM204.1 130.4h1.0v1.0h-1.0zM203.2 133.2h1.0v1.0h-1.0zM213.8 113.3h1.0v1.0h-1.0zM211.1 129.1h1.0v1.0h-1.0zM202.7 138.8h1.0v1.0h-1.0zM215.0 123.8h1.0v1.0h-1.0zM219.1 111.3h1.0v1.0h-1.0zM212.0 127.7h1.0v1.0h-1.0zM203.2 130.4h1.0v1.0h-1.0zM216.3 120.6h1.0v1.0h-1.0zM198.3 142.6h1.0v1.0h-1.0zM222.5 116.9h1.0v1.0h-1.0zM211.6 128.8h1.0v1.0h-1.0zM210.1 133.4h1.0v1.0h-1.0zM207.9 130.1h1.0v1.0h-1.0zM204.7 138.0h1.0v1.0h-1.0zM206.7 126.4h1.0v1.0h-1.0zM218.8 112.1h1.0v1.0h-1.0zM201.7 129.1h1.0v1.0h-1.0zM211.5 127.6h1.0v1.0h-1.0zM213.5 128.3h1.0v1.0h-1.0zM211.4 126.0h1.0v1.0h-1.0zM204.4 132.4h1.0v1.0h-1.0zM216.1 118.1h1.0v1.0h-1.0zM205.6 134.9h1.0v1.0h-1.0zM219.8 119.3h1.0v1.0h-1.0zM198.7 135.6h1.0v1.0h-1.0zM214.1 124.9h1.0v1.0h-1.0zM205.9 134.6h1.0v1.0h-1.0zM210.7 123.1h1.0v1.0h-1.0zM213.0 130.7h1.0v1.0h-1.0zM195.6 133.9h1.0v1.0h-1.0zM210.8 123.6h1.0v1.0h-1.0zM222.1 112.4h1.0v1.0h-1.0zM213.0 126.2h1.0v1.0h-1.0zM206.7 129.1h1.0v1.0h-1.0zM218.3 114.0h1.0v1.0h-1.0zM190.2 143.6h1.0v1.0h-1.0zM201.9 136.7h1.0v1.0h-1.0zM208.7 128.0h1.0v1.0h-1.0zM215.1 121.3h1.0v1.0h-1.0zM218.3 119.2h1.0v1.0h-1.0zM207.8 131.0h1.0v1.0h-1.0zM210.7 131.7h1.0v1.0h-1.0zM227.5 115.9h1.0v1.0h-1.0zM214.2 130.9h1.0v1.0h-1.0zM224.0 110.6h1.0v1.0h-1.0zM206.9 130.6h1.0v1.0h-1.0zM218.2 120.9h1.0v1.0h-1.0zM206.9 131.8h1.0v1.0h-1.0zM211.7 126.5h1.0v1.0h-1.0zM207.7 138.7h1.0v1.0h-1.0zM209.5 128.4h1.0v1.0h-1.0zM203.5 131.7h1.0v1.0h-1.0zM214.1 114.5h1.0v1.0h-1.0zM217.8 123.0h1.0v1.0h-1.0zM208.9 130.6h1.0v1.0h-1.0zM214.0 129.8h1.0v1.0h-1.0zM218.7 121.2h1.0v1.0h-1.0zM208.7 125.0h1.0v1.0h-1.0zM202.2 131.1h1.0v1.0h-1.0zM203.7 131.3h1.0v1.0h-1.0zM201.0 137.3h1.0v1.0h-1.0zM221.8 115.4h1.0v1.0h-1.0zM208.8 132.1h1.0v1.0h-1.0zM211.8 118.9h1.0v1.0h-1.0zM212.5 115.9h1.0v1.0h-1.0zM211.9 123.8h1.0v1.0h-1.0zM209.1 131.0h1.0v1.0h-1.0zM203.2 135.5h1.0v1.0h-1.0zM201.7 133.4h1.0v1.0h-1.0zM198.7 142.5h1.0v1.0h-1.0zM204.3 139.3h1.0v1.0h-1.0zM203.8 135.7h1.0v1.0h-1.0zM201.8 136.6h1.0v1.0h-1.0zM216.5 113.9h1.0v1.0h-1.0zM199.2 137.5h1.0v1.0h-1.0zM213.1 131.7h1.0v1.0h-1.0zM207.8 131.5h1.0v1.0h-1.0zM200.6 127.4h1.0v1.0h-1.0zM209.7 119.6h1.0v1.0h-1.0zM192.1 139.7h1.0v1.0h-1.0zM204.2 125.6h1.0v1.0h-1.0zM207.3 132.2h1.0v1.0h-1.0zM208.2 130.8h1.0v1.0h-1.0zM200.4 129.2h1.0v1.0h-1.0zM195.9 138.6h1.0v1.0h-1.0zM199.1 136.9h1.0v1.0h-1.0zM212.8 123.8h1.0v1.0h-1.0zM213.6 126.3h1.0v1.0h-1.0zM218.2 118.2h1.0v1.0h-1.0zM213.6 118.8h1.0v1.0h-1.0zM216.7 127.1h1.0v1.0h-1.0zM214.0 125.0h1.0v1.0h-1.0zM215.7 116.4h1.0v1.0h-1.0zM216.4 117.3h1.0v1.0h-1.0zM212.0 124.9h1.0v1.0h-1.0zM204.8 129.0h1.0v1.0h-1.0zM214.5 128.1h1.0v1.0h-1.0zM216.1 125.2h1.0v1.0h-1.0zM220.4 115.4h1.0v1.0h-1.0zM214.4 125.2h1.0v1.0h-1.0zM205.7 135.5h1.0v1.0h-1.0zM210.7 124.2h1.0v1.0h-1.0zM204.4 135.8h1.0v1.0h-1.0zM194.9 136.6h1.0v1.0h-1.0zM211.7 131.1h1.0v1.0h-1.0zM210.6 124.5h1.0v1.0h-1.0zM206.8 130.1h1.0v1.0h-1.0zM216.2 120.7h1.0v1.0h-1.0zM201.8 138.0h1.0v1.0h-1.0zM213.6 128.3h1.0v1.0h-1.0zM213.3 123.1h1.0v1.0h-1.0zM227.5 111.1h1.0v1.0h-1.0zM200.7 142.1h1.0v1.0h-1.0zM202.9 140.7h1.0v1.0h-1.0zM214.0 116.1h1.0v1.0h-1.0zM207.2 136.3h1.0v1.0h-1.0zM205.9 137.7h1.0v1.0h-1.0zM214.3 122.1h1.0v1.0h-1.0zM209.1 129.5h1.0v1.0h-1.0zM214.0 129.0h1.0v1.0h-1.0zM210.4 127.7h1.0v1.0h-1.0zM221.2 111.7h1.0v1.0h-1.0zM211.6 130.2h1.0v1.0h-1.0zM198.0 140.5h1.0v1.0h-1.0zM207.8 134.7h1.0v1.0h-1.0zM221.9 117.3h1.0v1.0h-1.0zM201.1 138.2h1.0v1.0h-1.0zM206.5 132.4h1.0v1.0h-1.0zM215.2 124.3h1.0v1.0h-1.0zM200.1 131.1h1.0v1.0h-1.0zM207.7 133.1h1.0v1.0h-1.0zM215.9 111.0h1.0v1.0h-1.0zM227.0 108.4h1.0v1.0h-1.0zM213.4 124.0h1.0v1.0h-1.0zM207.9 123.2h1.0v1.0h-1.0zM213.3 124.7h1.0v1.0h-1.0zM211.4 118.7h1.0v1.0h-1.0zM212.7 119.3h1.0v1.0h-1.0zM205.1 129.6h1.0v1.0h-1.0zM208.3 121.1h1.0v1.0h-1.0zM200.8 141.2h1.0v1.0h-1.0zM208.1 127.5h1.0v1.0h-1.0zM209.6 129.2h1.0v1.0h-1.0zM201.7 129.6h1.0v1.0h-1.0zM200.6 125.7h1.0v1.0h-1.0zM214.6 125.4h1.0v1.0h-1.0zM217.4 121.6h1.0v1.0h-1.0zM202.9 143.4h1.0v1.0h-1.0zM210.7 123.6h1.0v1.0h-1.0zM199.6 131.6h1.0v1.0h-1.0zM208.6 128.4h1.0v1.0h-1.0zM219.3 112.4h1.0v1.0h-1.0zM210.2 132.2h1.0v1.0h-1.0zM206.9 129.6h1.0v1.0h-1.0zM198.0 136.4h1.0v1.0h-1.0zM210.1 123.8h1.0v1.0h-1.0zM200.0 132.5h1.0v1.0h-1.0zM211.6 118.9h1.0v1.0h-1.0zM215.0 117.7h1.0v1.0h-1.0zM197.8 146.0h1.0v1.0h-1.0zM209.2 131.0h1.0v1.0h-1.0zM212.6 125.0h1.0v1.0h-1.0zM212.7 128.4h1.0v1.0h-1.0zM199.1 133.2h1.0v1.0h-1.0zM201.0 134.0h1.0v1.0h-1.0zM213.3 121.2h1.0v1.0h-1.0zM226.2 115.3h1.0v1.0h-1.0zM203.0 135.9h1.0v1.0h-1.0zM224.2 118.1h1.0v1.0h-1.0zM222.0 110.3h1.0v1.0h-1.0zM214.5 128.1h1.0v1.0h-1.0zM224.7 105.9h1.0v1.0h-1.0zM206.0 128.6h1.0v1.0h-1.0zM211.2 120.6h1.0v1.0h-1.0zM225.4 121.9h1.0v1.0h-1.0zM214.4 123.7h1.0v1.0h-1.0zM207.4 133.2h1.0v1.0h-1.0zM224.5 109.8h1.0v1.0h-1.0zM207.3 125.9h1.0v1.0h-1.0zM207.9 132.1h1.0v1.0h-1.0zM200.2 131.8h1.0v1.0h-1.0zM213.2 119.1h1.0v1.0h-1.0zM217.7 123.0h1.0v1.0h-1.0zM208.5 125.6h1.0v1.0h-1.0zM203.6 137.7h1.0v1.0h-1.0zM211.0 124.4h1.0v1.0h-1.0zM209.4 126.0h1.0v1.0h-1.0zM212.2 123.4h1.0v1.0h-1.0zM212.5 130.1h1.0v1.0h-1.0zM211.0 117.2h1.0v1.0h-1.0zM195.8 136.1h1.0v1.0h-1.0zM218.5 123.8h1.0v1.0h-1.0zM204.2 133.0h1.0v1.0h-1.0zM206.0 132.5h1.0v1.0h-1.0zM211.4 125.6h1.0v1.0h-1.0zM214.3 116.6h1.0v1.0h-1.0zM200.9 133.9h1.0v1.0h-1.0zM191.5 148.1h1.0v1.0h-1.0zM213.4 121.1h1.0v1.0h-1.0zM226.5 105.7h1.0v1.0h-1.0zM217.7 119.0h1.0v1.0h-1.0zM210.0 121.5h1.0v1.0h-1.0zM211.5 122.8h1.0v1.0h-1.0zM200.5 132.1h1.0v1.0h-1.0zM224.3 114.2h1.0v1.0h-1.0zM211.3 130.5h1.0v1.0h-1.0zM201.5 125.5h1.0v1.0h-1.0zM211.4 129.6h1.0v1.0h-1.0zM217.6 121.8h1.0v1.0h-1.0zM188.7 143.7h1.0v1.0h-1.0zM213.4 125.3h1.0v1.0h-1.0zM212.3 126.8h1.0v1.0h-1.0zM217.6 118.9h1.0v1.0h-1.0zM199.2 138.9h1.0v1.0h-1.0zM203.9 133.9h1.0v1.0h-1.0zM202.1 125.3h1.0v1.0h-1.0zM202.5 132.6h1.0v1.0h-1.0zM216.3 125.6h1.0v1.0h-1.0zM208.0 136.4h1.0v1.0h-1.0zM207.6 132.4h1.0v1.0h-1.0zM201.2 136.3h1.0v1.0h-1.0zM206.9 131.2h1.0v1.0h-1.0zM221.9 125.5h1.0v1.0h-1.0zM200.4 127.6h1.0v1.0h-1.0zM199.2 140.3h1.0v1.0h-1.0zM212.4 126.1h1.0v1.0h-1.0zM213.6 123.9h1.0v1.0h-1.0zM212.7 132.3h1.0v1.0h-1.0zM203.9 138.8h1.0v1.0h-1.0zM191.9 136.9h1.0v1.0h-1.0zM219.2 114.5h1.0v1.0h-1.0zM215.6 118.2h1.0v1.0h-1.0zM203.8 130.3h1.0v1.0h-1.0zM204.3 127.5h1.0v1.0h-1.0zM204.0 131.4h1.0v1.0h-1.0zM228.7 109.6h1.0v1.0h-1.0zM217.0 115.2h1.0v1.0h-1.0zM200.2 134.6h1.0v1.0h-1.0zM219.5 123.5h1.0v1.0h-1.0zM204.9 138.2h1.0v1.0h-1.0zM205.7 128.8h1.0v1.0h-1.0zM197.4 143.3h1.0v1.0h-1.0zM209.9 129.4h1.0v1.0h-1.0zM214.4 121.0h1.0v1.0h-1.0zM215.9 120.2h1.0v1.0h-1.0zM218.9 118.2h1.0v1.0h-1.0zM223.1 114.0h1.0v1.0h-1.0zM206.4 130.6h1.0v1.0h-1.0zM199.6 130.4h1.0v1.0h-1.0zM208.0 128.2h1.0v1.0h-1.0zM205.0 137.7h1.0v1.0h-1.0zM201.6 130.6h1.0v1.0h-1.0zM202.2 130.3h1.0v1.0h-1.0zM194.9 138.5h1.0v1.0h-1.0zM202.5 134.1h1.0v1.0h-1.0zM197.7 137.7h1.0v1.0h-1.0zM211.8 125.0h1.0v1.0h-1.0zM219.8 108.9h1.0v1.0h-1.0zM202.6 132.3h1.0v1.0h-1.0zM208.4 126.0h1.0v1.0h-1.0zM197.0 138.3h1.0v1.0h-1.0zM211.8 132.2h1.0v1.0h-1.0zM208.9 127.7h1.0v1.0h-1.0zM195.0 140.4h1.0v1.0h-1.0zM225.2 113.0h1.0v1.0h-1.0zM216.7 120.7h1.0v1.0h-1.0zM214.7 130.2h1.0v1.0h-1.0zM190.0 142.9h1.0v1.0h-1.0zM211.4 127.3h1.0v1.0h-1.0zM223.0 115.5h1.0v1.0h-1.0zM209.3 127.7h1.0v1.0h-1.0zM215.7 120.0h1.0v1.0h-1.0zM197.8 139.5h1.0v1.0h-1.0zM205.6 136.9h1.0v1.0h-1.0zM207.9 129.8h1.0v1.0h-1.0zM191.8 146.9h1.0v1.0h-1.0zM207.3 129.7h1.0v1.0h-1.0zM204.5 122.3h1.0v1.0h-1.0zM208.3 126.4h1.0v1.0h-1.0zM201.4 131.1h1.0v1.0h-1.0zM209.2 125.6h1.0v1.0h-1.0zM202.5 126.0h1.0v1.0h-1.0zM217.1 119.3h1.0v1.0h-1.0zM213.4 122.0h1.0v1.0h-1.0zM223.3 115.6h1.0v1.0h-1.0zM214.1 132.4h1.0v1.0h-1.0zM205.7 125.0h1.0v1.0h-1.0zM215.1 124.8h1.0v1.0h-1.0zM203.4 133.2h1.0v1.0h-1.0zM215.7 123.1h1.0v1.0h-1.0zM211.8 132.0h1.0v1.0h-1.0zM204.2 126.6h1.0v1.0h-1.0zM214.5 121.8h1.0v1.0h-1.0zM216.4 116.8h1.0v1.0h-1.0zM215.0 119.4h1.0v1.0h-1.0zM200.5 134.5h1.0v1.0h-1.0zM204.0 127.2h1.0v1.0h-1.0zM217.2 119.4h1.0v1.0h-1.0zM225.1 115.2h1.0v1.0h-1.0zM218.8 125.4h1.0v1.0h-1.0zM205.5 136.2h1.0v1.0h-1.0zM217.7 119.3h1.0v1.0h-1.0zM203.2 142.0h1.0v1.0h-1.0zM200.8 132.4h1.0v1.0h-1.0zM201.7 135.4h1.0v1.0h-1.0zM199.3 138.0h1.0v1.0h-1.0zM218.3 120.6h1.0v1.0h-1.0zM218.2 108.3h1.0v1.0h-1.0zM214.7 124.5h1.0v1.0h-1.0zM206.3 123.2h1.0v1.0h-1.0zM213.3 129.0h1.0v1.0h-1.0zM206.6 132.5h1.0v1.0h-1.0zM211.0 122.5h1.0v1.0h-1.0zM199.7 133.5h1.0v1.0h-1.0zM208.4 120.8h1.0v1.0h-1.0zM213.7 126.3h1.0v1.0h-1.0zM193.6 143.9h1.0v1.0h-1.0zM225.7 114.5h1.0v1.0h-1.0zM196.9 144.6h1.0v1.0h-1.0zM206.9 127.7h1.0v1.0h-1.0zM212.4 123.7h1.0v1.0h-1.0zM205.9 126.8h1.0v1.0h-1.0zM203.8 138.8h1.0v1.0h-1.0zM210.9 118.3h1.0v1.0h-1.0zM205.1 128.2h1.0v1.0h-1.0zM203.0 141.3h1.0v1.0h-1.0zM205.1 122.9h1.0v1.0h-1.0zM222.0 117.0h1.0v1.0h-1.0zM201.2 142.5h1.0v1.0h-1.0zM188.1 146.6h1.0v1.0h-1.0zM219.3 120.6h1.0v1.0h-1.0zM194.1 137.1h1.0v1.0h-1.0zM206.4 129.8h1.0v1.0h-1.0zM208.2 122.1h1.0v1.0h-1.0zM205.4 135.7h1.0v1.0h-1.0zM211.4 125.0h1.0v1.0h-1.0zM209.4 127.6h1.0v1.0h-1.0zM209.0 125.9h1.0v1.0h-1.0zM216.9 124.7h1.0v1.0h-1.0zM209.9 130.3h1.0v1.0h-1.0zM208.2 122.3h1.0v1.0h-1.0zM202.1 133.7h1.0v1.0h-1.0zM199.2 136.5h1.0v1.0h-1.0zM207.1 131.8h1.0v1.0h-1.0zM196.5 133.5h1.0v1.0h-1.0zM198.6 128.4h1.0v1.0h-1.0zM203.5 127.5h1.0v1.0h-1.0zM225.6 116.3h1.0v1.0h-1.0zM190.1 144.7h1.0v1.0h-1.0zM211.6 130.1h1.0v1.0h-1.0zM211.9 131.5h1.0v1.0h-1.0zM209.9 120.9h1.0v1.0h-1.0zM213.8 121.5h1.0v1.0h-1.0zM206.6 122.2h1.0v1.0h-1.0zM209.7 127.1h1.0v1.0h-1.0zM203.7 136.4h1.0v1.0h-1.0zM208.0 125.3h1.0v1.0h-1.0zM213.1 128.9h1.0v1.0h-1.0zM206.5 127.2h1.0v1.0h-1.0zM199.8 136.4h1.0v1.0h-1.0zM207.4 134.3h1.0v1.0h-1.0zM212.4 117.2h1.0v1.0h-1.0zM201.7 134.0h1.0v1.0h-1.0zM206.3 129.1h1.0v1.0h-1.0zM219.8 121.9h1.0v1.0h-1.0zM201.3 126.9h1.0v1.0h-1.0zM200.3 136.0h1.0v1.0h-1.0zM207.5 120.3h1.0v1.0h-1.0zM201.2 136.6h1.0v1.0h-1.0zM197.9 137.5h1.0v1.0h-1.0zM212.3 125.6h1.0v1.0h-1.0zM208.1 126.6h1.0v1.0h-1.0zM209.6 131.1h1.0v1.0h-1.0zM201.6 131.0h1.0v1.0h-1.0zM208.6 123.6h1.0v1.0h-1.0zM196.5 134.2h1.0v1.0h-1.0zM210.6 130.5h1.0v1.0h-1.0zM216.4 128.7h1.0v1.0h-1.0zM204.6 129.9h1.0v1.0h-1.0zM201.5 134.0h1.0v1.0h-1.0zM219.6 109.3h1.0v1.0h-1.0zM212.0 120.8h1.0v1.0h-1.0zM201.7 142.0h1.0v1.0h-1.0zM209.3 133.8h1.0v1.0h-1.0zM207.1 137.7h1.0v1.0h-1.0zM211.3 131.1h1.0v1.0h-1.0zM206.6 130.7h1.0v1.0h-1.0zM205.5 136.1h1.0v1.0h-1.0zM208.3 120.4h1.0v1.0h-1.0zM215.5 131.9h1.0v1.0h-1.0zM195.3 137.8h1.0v1.0h-1.0zM206.4 128.4h1.0v1.0h-1.0zM198.9 128.8h1.0v1.0h-1.0zM222.5 110.6h1.0v1.0h-1.0zM219.4 124.1h1.0v1.0h-1.0zM211.6 124.6h1.0v1.0h-1.0zM202.9 131.7h1.0v1.0h-1.0zM203.9 130.4h1.0v1.0h-1.0zM219.1 123.9h1.0v1.0h-1.0zM221.0 114.3h1.0v1.0h-1.0zM203.3 129.5h1.0v1.0h-1.0zM200.7 141.6h1.0v1.0h-1.0zM206.3 131.7h1.0v1.0h-1.0zM214.9 118.5h1.0v1.0h-1.0zM210.9 117.3h1.0v1.0h-1.0zM205.0 128.6h1.0v1.0h-1.0zM218.2 121.3h1.0v1.0h-1.0zM202.2 131.7h1.0v1.0h-1.0zM197.6 131.5h1.0v1.0h-1.0zM215.2 121.9h1.0v1.0h-1.0zM219.0 112.4h1.0v1.0h-1.0zM211.3 125.6h1.0v1.0h-1.0zM214.3 115.8h1.0v1.0h-1.0zM208.3 126.9h1.0v1.0h-1.0zM208.8 130.4h1.0v1.0h-1.0zM202.5 133.3h1.0v1.0h-1.0zM211.4 127.4h1.0v1.0h-1.0zM189.9 142.4h1.0v1.0h-1.0zM202.0 131.6h1.0v1.0h-1.0zM212.6 118.1h1.0v1.0h-1.0zM197.6 140.1h1.0v1.0h-1.0zM214.3 122.5h1.0v1.0h-1.0zM197.6 137.4h1.0v1.0h-1.0zM218.4 114.9h1.0v1.0h-1.0zM205.5 129.1h1.0v1.0h-1.0zM207.7 136.2h1.0v1.0h-1.0zM208.3 129.6h1.0v1.0h-1.0zM194.8 135.4h1.0v1.0h-1.0zM211.0 125.2h1.0v1.0h-1.0zM212.2 125.0h1.0v1.0h-1.0zM218.3 122.4h1.0v1.0h-1.0zM202.6 137.6h1.0v1.0h-1.0zM199.5 142.4h1.0v1.0h-1.0zM202.8 136.4h1.0v1.0h-1.0zM208.8 135.5h1.0v1.0h-1.0zM216.8 126.4h1.0v1.0h-1.0zM203.0 134.2h1.0v1.0h-1.0zM210.7 128.2h1.0v1.0h-1.0zM202.7 142.5h1.0v1.0h-1.0zM203.6 132.0h1.0v1.0h-1.0zM206.8 129.5h1.0v1.0h-1.0zM211.4 122.1h1.0v1.0h-1.0zM215.3 123.6h1.0v1.0h-1.0zM192.9 141.1h1.0v1.0h-1.0zM209.5 131.1h1.0v1.0h-1.0zM209.4 133.7h1.0v1.0h-1.0zM212.5 119.5h1.0v1.0h-1.0zM213.6 123.0h1.0v1.0h-1.0zM214.3 113.8h1.0v1.0h-1.0zM220.0 113.2h1.0v1.0h-1.0zM217.3 123.4h1.0v1.0h-1.0zM211.6 121.5h1.0v1.0h-1.0zM200.6 138.1h1.0v1.0h-1.0zM224.0 114.9h1.0v1.0h-1.0zM215.1 121.7h1.0v1.0h-1.0zM201.8 130.5h1.0v1.0h-1.0zM203.6 133.2h1.0v1.0h-1.0zM200.0 136.9h1.0v1.0h-1.0zM202.6 126.2h1.0v1.0h-1.0zM212.2 119.2h1.0v1.0h-1.0zM210.5 133.2h1.0v1.0h-1.0zM212.5 123.7h1.0v1.0h-1.0zM202.2 130.2h1.0v1.0h-1.0zM209.5 124.9h1.0v1.0h-1.0zM205.8 127.8h1.0v1.0h-1.0zM214.9 117.7h1.0v1.0h-1.0zM208.6 130.8h1.0v1.0h-1.0zM213.0 127.6h1.0v1.0h-1.0zM209.9 119.2h1.0v1.0h-1.0zM202.0 139.9h1.0v1.0h-1.0zM221.8 117.8h1.0v1.0h-1.0zM205.3 132.9h1.0v1.0h-1.0zM203.9 134.4h1.0v1.0h-1.0zM208.4 129.5h1.0v1.0h-1.0zM203.6 132.3h1.0v1.0h-1.0zM217.9 118.3h1.0v1.0h-1.0zM204.1 129.3h1.0v1.0h-1.0zM218.2 113.6h1.0v1.0h-1.0zM191.9 142.7h1.0v1.0h-1.0zM202.0 129.5h1.0v1.0h-1.0zM209.5 124.9h1.0v1.0h-1.0zM189.5 145.9h1.0v1.0h-1.0zM209.4 129.9h1.0v1.0h-1.0zM222.7 115.4h1.0v1.0h-1.0zM199.9 130.8h1.0v1.0h-1.0zM196.7 135.9h1.0v1.0h-1.0zM206.3 127.4h1.0v1.0h-1.0zM197.4 141.5h1.0v1.0h-1.0zM207.3 134.5h1.0v1.0h-1.0zM188.7 141.0h1.0v1.0h-1.0zM211.9 121.1h1.0v1.0h-1.0zM212.6 122.0h1.0v1.0h-1.0zM209.0 130.0h1.0v1.0h-1.0zM203.9 137.7h1.0v1.0h-1.0zM202.2 131.5h1.0v1.0h-1.0zM209.4 131.3h1.0v1.0h-1.0zM209.9 127.8h1.0v1.0h-1.0zM207.6 132.5h1.0v1.0h-1.0zM201.2 133.0h1.0v1.0h-1.0zM210.9 127.3h1.0v1.0h-1.0zM194.3 134.6h1.0v1.0h-1.0zM195.5 133.5h1.0v1.0h-1.0zM194.3 133.6h1.0v1.0h-1.0zM206.2 129.6h1.0v1.0h-1.0zM221.9 115.4h1.0v1.0h-1.0zM195.9 137.2h1.0v1.0h-1.0zM201.6 135.3h1.0v1.0h-1.0zM215.4 123.4h1.0v1.0h-1.0zM206.4 135.5h1.0v1.0h-1.0zM218.4 117.2h1.0v1.0h-1.0zM207.1 135.8h1.0v1.0h-1.0zM205.8 122.8h1.0v1.0h-1.0zM201.8 128.3h1.0v1.0h-1.0zM216.0 127.5h1.0v1.0h-1.0zM200.6 139.9h1.0v1.0h-1.0zM192.4 141.7h1.0v1.0h-1.0zM211.3 122.6h1.0v1.0h-1.0zM209.0 131.0h1.0v1.0h-1.0zM196.3 130.7h1.0v1.0h-1.0zM213.7 119.8h1.0v1.0h-1.0zM213.1 123.7h1.0v1.0h-1.0zM203.6 130.4h1.0v1.0h-1.0zM202.0 137.7h1.0v1.0h-1.0zM198.7 135.2h1.0v1.0h-1.0zM207.4 124.5h1.0v1.0h-1.0zM199.8 128.1h1.0v1.0h-1.0zM212.3 131.6h1.0v1.0h-1.0zM221.9 114.6h1.0v1.0h-1.0zM204.8 138.5h1.0v1.0h-1.0zM216.1 118.2h1.0v1.0h-1.0zM197.4 137.4h1.0v1.0h-1.0zM222.7 118.5h1.0v1.0h-1.0zM197.0 146.1h1.0v1.0h-1.0zM202.7 127.2h1.0v1.0h-1.0zM201.1 132.4h1.0v1.0h-1.0zM203.8 126.0h1.0v1.0h-1.0zM207.2 126.3h1.0v1.0h-1.0zM207.1 120.7h1.0v1.0h-1.0zM202.9 127.3h1.0v1.0h-1.0zM203.0 134.9h1.0v1.0h-1.0zM201.0 130.9h1.0v1.0h-1.0zM208.6 133.4h1.0v1.0h-1.0zM209.3 127.0h1.0v1.0h-1.0zM194.3 146.5h1.0v1.0h-1.0zM223.5 123.2h1.0v1.0h-1.0zM192.2 145.0h1.0v1.0h-1.0zM201.0 129.4h1.0v1.0h-1.0zM208.5 132.2h1.0v1.0h-1.0zM211.2 128.2h1.0v1.0h-1.0zM222.0 116.6h1.0v1.0h-1.0zM200.8 137.4h1.0v1.0h-1.0zM215.0 123.3h1.0v1.0h-1.0zM215.8 122.4h1.0v1.0h-1.0zM201.0 138.4h1.0v1.0h-1.0zM200.5 138.6h1.0v1.0h-1.0zM216.8 122.3h1.0v1.0h-1.0zM193.8 140.9h1.0v1.0h-1.0zM205.9 126.1h1.0v1.0h-1.0zM205.9 126.7h1.0v1.0h-1.0zM217.0 113.9h1.0v1.0h-1.0zM213.7 122.1h1.0v1.0h-1.0zM202.6 124.9h1.0v1.0h-1.0zM220.8 119.2h1.0v1.0h-1.0zM216.4 120.2h1.0v1.0h-1.0zM218.3 113.3h1.0v1.0h-1.0zM195.1 143.2h1.0v1.0h-1.0zM210.7 126.1h1.0v1.0h-1.0zM203.0 128.0h1.0v1.0h-1.0zM209.3 122.0h1.0v1.0h-1.0zM211.4 126.8h1.0v1.0h-1.0zM213.5 121.1h1.0v1.0h-1.0zM213.6 125.4h1.0v1.0h-1.0zM198.6 142.4h1.0v1.0h-1.0zM210.3 135.4h1.0v1.0h-1.0zM209.9 131.3h1.0v1.0h-1.0zM217.1 117.5h1.0v1.0h-1.0zM204.1 131.2h1.0v1.0h-1.0zM211.2 126.9h1.0v1.0h-1.0zM207.6 122.4h1.0v1.0h-1.0zM210.6 116.7h1.0v1.0h-1.0zM199.6 135.5h1.0v1.0h-1.0zM218.0 122.5h1.0v1.0h-1.0zM210.1 129.7h1.0v1.0h-1.0zM201.1 133.3h1.0v1.0h-1.0zM190.0 139.4h1.0v1.0h-1.0zM221.5 116.6h1.0v1.0h-1.0zM211.7 124.1h1.0v1.0h-1.0zM212.9 122.8h1.0v1.0h-1.0zM203.7 135.3h1.0v1.0h-1.0zM208.7 126.5h1.0v1.0h-1.0zM204.0 131.1h1.0v1.0h-1.0zM196.1 143.8h1.0v1.0h-1.0zM214.9 124.9h1.0v1.0h-1.0zM202.4 142.0h1.0v1.0h-1.0zM222.5 122.5h1.0v1.0h-1.0zM208.9 125.0h1.0v1.0h-1.0zM206.1 131.8h1.0v1.0h-1.0zM213.1 128.2h1.0v1.0h-1.0zM205.1 135.4h1.0v1.0h-1.0zM218.5 121.1h1.0v1.0h-1.0zM208.2 129.9h1.0v1.0h-1.0zM204.0 129.9h1.0v1.0h-1.0zM209.9 127.8h1.0v1.0h-1.0zM211.5 130.2h1.0v1.0h-1.0zM214.2 114.7h1.0v1.0h-1.0zM211.6 128.7h1.0v1.0h-1.0zM206.9 129.9h1.0v1.0h-1.0zM195.0 135.6h1.0v1.0h-1.0zM209.5 131.9h1.0v1.0h-1.0zM213.9 122.9h1.0v1.0h-1.0zM224.6 113.8h1.0v1.0h-1.0zM215.7 124.4h1.0v1.0h-1.0zM208.8 129.1h1.0v1.0h-1.0zM213.8 117.3h1.0v1.0h-1.0zM193.0 145.0h1.0v1.0h-1.0zM197.7 141.1h1.0v1.0h-1.0zM221.9 120.2h1.0v1.0h-1.0zM220.6 114.7h1.0v1.0h-1.0zM210.7 125.7h1.0v1.0h-1.0zM206.6 130.5h1.0v1.0h-1.0zM210.4 129.1h1.0v1.0h-1.0zM197.2 143.4h1.0v1.0h-1.0zM201.4 133.5h1.0v1.0h-1.0zM206.3 130.0h1.0v1.0h-1.0zM201.6 140.0h1.0v1.0h-1.0zM190.2 139.8h1.0v1.0h-1.0zM200.0 133.2h1.0v1.0h-1.0zM214.3 122.7h1.0v1.0h-1.0zM208.2 126.5h1.0v1.0h-1.0zM206.9 130.8h1.0v1.0h-1.0zM205.1 133.4h1.0v1.0h-1.0zM212.3 119.4h1.0v1.0h-1.0zM217.4 121.1h1.0v1.0h-1.0zM211.7 134.5h1.0v1.0h-1.0zM211.6 122.3h1.0v1.0h-1.0zM211.0 123.3h1.0v1.0h-1.0zM211.4 116.3h1.0v1.0h-1.0zM228.0 109.9h1.0v1.0h-1.0zM224.5 113.3h1.0v1.0h-1.0zM208.4 128.1h1.0v1.0h-1.0zM210.3 125.6h1.0v1.0h-1.0zM204.4 134.5h1.0v1.0h-1.0zM210.6 129.0h1.0v1.0h-1.0zM211.9 128.1h1.0v1.0h-1.0zM212.4 128.9h1.0v1.0h-1.0zM210.2 133.3h1.0v1.0h-1.0zM197.8 140.8h1.0v1.0h-1.0zM211.2 127.1h1.0v1.0h-1.0zM195.2 131.6h1.0v1.0h-1.0zM190.6 147.6h1.0v1.0h-1.0zM203.9 128.0h1.0v1.0h-1.0zM210.2 128.9h1.0v1.0h-1.0zM193.1 137.7h1.0v1.0h-1.0zM207.3 137.1h1.0v1.0h-1.0zM210.6 131.8h1.0v1.0h-1.0zM202.2 131.5h1.0v1.0h-1.0zM208.4 123.7h1.0v1.0h-1.0zM204.0 125.9h1.0v1.0h-1.0zM218.2 121.5h1.0v1.0h-1.0zM209.6 132.4h1.0v1.0h-1.0zM209.1 130.4h1.0v1.0h-1.0zM198.9 140.2h1.0v1.0h-1.0zM199.9 133.3h1.0v1.0h-1.0zM201.4 132.1h1.0v1.0h-1.0zM211.8 123.0h1.0v1.0h-1.0zM213.5 131.0h1.0v1.0h-1.0zM204.5 126.8h1.0v1.0h-1.0zM212.3 128.2h1.0v1.0h-1.0zM212.5 125.6h1.0v1.0h-1.0zM217.0 120.3h1.0v1.0h-1.0zM207.8 132.9h1.0v1.0h-1.0zM206.7 134.2h1.0v1.0h-1.0zM226.1 111.1h1.0v1.0h-1.0zM207.8 129.5h1.0v1.0h-1.0zM221.6 120.4h1.0v1.0h-1.0zM217.1 120.2h1.0v1.0h-1.0zM211.9 125.9h1.0v1.0h-1.0zM206.1 125.0h1.0v1.0h-1.0zM211.4 130.5h1.0v1.0h-1.0zM202.6 132.7h1.0v1.0h-1.0zM222.6 119.9h1.0v1.0h-1.0zM205.8 138.4h1.0v1.0h-1.0zM207.0 133.1h1.0v1.0h-1.0zM202.7 130.5h1.0v1.0h-1.0zM208.1 121.8h1.0v1.0h-1.0zM193.9 140.9h1.0v1.0h-1.0zM216.5 120.6h1.0v1.0h-1.0zM205.7 125.8h1.0v1.0h-1.0zM197.6 143.5h1.0v1.0h-1.0zM211.2 121.9h1.0v1.0h-1.0zM215.1 120.7h1.0v1.0h-1.0zM201.6 132.7h1.0v1.0h-1.0zM201.8 135.9h1.0v1.0h-1.0zM203.2 130.7h1.0v1.0h-1.0zM219.5 123.6h1.0v1.0h-1.0zM213.3 121.9h1.0v1.0h-1.0zM207.6 130.5h1.0v1.0h-1.0zM199.3 139.5h1.0v1.0h-1.0zM193.2 135.7h1.0v1.0h-1.0zM202.5 134.5h1.0v1.0h-1.0zM210.9 119.0h1.0v1.0h-1.0zM197.6 141.6h1.0v1.0h-1.0zM199.7 141.6h1.0v1.0h-1.0zM199.2 138.0h1.0v1.0h-1.0zM208.2 126.4h1.0v1.0h-1.0zM216.8 117.2h1.0v1.0h-1.0zM214.0 120.8h1.0v1.0h-1.0zM215.0 122.2h1.0v1.0h-1.0zM201.4 138.3h1.0v1.0h-1.0zM213.3 114.9h1.0v1.0h-1.0zM201.6 136.0h1.0v1.0h-1.0zM219.0 123.7h1.0v1.0h-1.0zM217.2 119.9h1.0v1.0h-1.0zM208.6 134.3h1.0v1.0h-1.0zM213.8 125.9h1.0v1.0h-1.0zM212.2 120.3h1.0v1.0h-1.0zM206.2 136.8h1.0v1.0h-1.0zM219.6 111.9h1.0v1.0h-1.0zM208.4 126.5h1.0v1.0h-1.0zM204.5 126.4h1.0v1.0h-1.0zM210.5 124.3h1.0v1.0h-1.0zM220.5 118.6h1.0v1.0h-1.0zM205.9 137.9h1.0v1.0h-1.0zM194.5 135.1h1.0v1.0h-1.0zM213.1 126.9h1.0v1.0h-1.0zM208.2 132.9h1.0v1.0h-1.0zM220.0 125.2h1.0v1.0h-1.0zM215.1 122.8h1.0v1.0h-1.0zM198.0 140.5h1.0v1.0h-1.0zM211.5 116.8h1.0v1.0h-1.0zM204.4 135.2h1.0v1.0h-1.0zM213.4 119.2h1.0v1.0h-1.0zM206.6 129.3h1.0v1.0h-1.0zM203.6 133.8h1.0v1.0h-1.0zM216.1 118.8h1.0v1.0h-1.0zM211.1 122.0h1.0v1.0h-1.0zM205.5 127.3h1.0v1.0h-1.0zM205.4 131.8h1.0v1.0h-1.0zM210.6 129.4h1.0v1.0h-1.0zM217.5 117.9h1.0v1.0h-1.0zM214.4 128.5h1.0v1.0h-1.0zM208.1 122.1h1.0v1.0h-1.0zM199.7 133.4h1.0v1.0h-1.0zM200.8 134.0h1.0v1.0h-1.0zM201.6 135.7h1.0v1.0h-1.0zM196.7 138.2h1.0v1.0h-1.0zM200.5 138.7h1.0v1.0h-1.0zM202.9 130.7h1.0v1.0h-1.0zM202.1 135.8h1.0v1.0h-1.0zM204.0 142.2h1.0v1.0h-1.0zM217.9 117.6h1.0v1.0h-1.0zM220.0 115.0h1.0v1.0h-1.0zM205.4 136.8h1.0v1.0h-1.0zM201.2 138.5h1.0v1.0h-1.0zM214.7 112.4h1.0v1.0h-1.0zM213.8 115.6h1.0v1.0h-1.0zM203.8 123.7h1.0v1.0h-1.0zM208.5 135.0h1.0v1.0h-1.0zM203.8 131.3h1.0v1.0h-1.0zM194.9 139.8h1.0v1.0h-1.0zM214.5 125.1h1.0v1.0h-1.0zM207.1 121.9h1.0v1.0h-1.0zM200.1 137.8h1.0v1.0h-1.0zM218.4 115.8h1.0v1.0h-1.0zM202.2 137.1h1.0v1.0h-1.0zM203.7 139.4h1.0v1.0h-1.0zM215.0 117.4h1.0v1.0h-1.0zM204.8 128.7h1.0v1.0h-1.0zM208.2 128.4h1.0v1.0h-1.0zM211.9 117.2h1.0v1.0h-1.0zM213.6 127.6h1.0v1.0h-1.0zM214.3 124.1h1.0v1.0h-1.0zM203.3 125.0h1.0v1.0h-1.0zM224.9 115.9h1.0v1.0h-1.0zM202.4 129.9h1.0v1.0h-1.0zM209.4 128.4h1.0v1.0h-1.0zM213.9 123.9h1.0v1.0h-1.0zM197.6 136.8h1.0v1.0h-1.0zM227.4 109.3h1.0v1.0h-1.0zM214.5 122.7h1.0v1.0h-1.0zM193.4 140.1h1.0v1.0h-1.0zM199.6 135.2h1.0v1.0h-1.0zM210.7 126.6h1.0v1.0h-1.0zM200.4 134.8h1.0v1.0h-1.0zM213.6 128.8h1.0v1.0h-1.0zM200.3 136.2h1.0v1.0h-1.0zM197.5 137.3h1.0v1.0h-1.0zM209.5 119.8h1.0v1.0h-1.0zM207.8 127.5h1.0v1.0h-1.0zM207.4 120.1h1.0v1.0h-1.0zM223.8 111.6h1.0v1.0h-1.0zM206.4 130.9h1.0v1.0h-1.0zM215.3 114.7h1.0v1.0h-1.0zM205.0 121.7h1.0v1.0h-1.0zM200.8 133.5h1.0v1.0h-1.0zM199.5 138.6h1.0v1.0h-1.0zM214.2 130.8h1.0v1.0h-1.0zM207.5 132.9h1.0v1.0h-1.0zM202.1 131.8h1.0v1.0h-1.0zM199.3 129.2h1.0v1.0h-1.0zM214.1 124.8h1.0v1.0h-1.0zM206.3 126.8h1.0v1.0h-1.0zM199.4 130.9h1.0v1.0h-1.0zM205.6 123.7h1.0v1.0h-1.0zM204.6 138.6h1.0v1.0h-1.0zM212.1 124.3h1.0v1.0h-1.0zM203.6 137.4h1.0v1.0h-1.0zM209.9 126.6h1.0v1.0h-1.0zM214.0 128.0h1.0v1.0h-1.0zM194.1 139.1h1.0v1.0h-1.0zM218.0 110.2h1.0v1.0h-1.0zM209.6 131.5h1.0v1.0h-1.0zM214.0 130.2h1.0v1.0h-1.0zM210.4 128.6h1.0v1.0h-1.0zM203.5 133.1h1.0v1.0h-1.0zM209.6 125.0h1.0v1.0h-1.0zM215.4 127.5h1.0v1.0h-1.0zM217.9 113.6h1.0v1.0h-1.0zM215.2 122.8h1.0v1.0h-1.0zM214.8 125.5h1.0v1.0h-1.0zM190.7 141.4h1.0v1.0h-1.0zM221.2 124.4h1.0v1.0h-1.0zM204.3 132.5h1.0v1.0h-1.0zM217.8 122.2h1.0v1.0h-1.0zM210.9 130.0h1.0v1.0h-1.0zM210.7 117.1h1.0v1.0h-1.0zM199.6 140.7h1.0v1.0h-1.0zM210.5 124.9h1.0v1.0h-1.0zM206.7 129.2h1.0v1.0h-1.0zM223.8 119.6h1.0v1.0h-1.0zM202.3 135.2h1.0v1.0h-1.0zM211.9 123.4h1.0v1.0h-1.0zM202.3 134.8h1.0v1.0h-1.0zM207.5 133.5h1.0v1.0h-1.0zM201.8 133.0h1.0v1.0h-1.0zM222.5 122.8h1.0v1.0h-1.0zM215.2 124.9h1.0v1.0h-1.0zM204.8 132.8h1.0v1.0h-1.0zM223.9 119.4h1.0v1.0h-1.0zM200.0 130.5h1.0v1.0h-1.0zM202.3 131.0h1.0v1.0h-1.0zM202.2 132.3h1.0v1.0h-1.0zM213.9 128.1h1.0v1.0h-1.0zM218.9 124.1h1.0v1.0h-1.0zM203.3 132.3h1.0v1.0h-1.0zM218.2 124.7h1.0v1.0h-1.0zM212.2 128.4h1.0v1.0h-1.0zM202.7 127.8h1.0v1.0h-1.0zM216.8 122.7h1.0v1.0h-1.0zM206.5 132.2h1.0v1.0h-1.0zM217.6 114.0h1.0v1.0h-1.0zM209.5 126.2h1.0v1.0h-1.0zM204.2 135.2h1.0v1.0h-1.0zM201.4 129.9h1.0v1.0h-1.0zM192.6 144.9h1.0v1.0h-1.0zM199.6 131.0h1.0v1.0h-1.0zM213.8 129.9h1.0v1.0h-1.0zM206.2 132.3h1.0v1.0h-1.0zM200.6 135.9h1.0v1.0h-1.0zM214.1 119.8h1.0v1.0h-1.0zM209.1 117.3h1.0v1.0h-1.0zM223.9 115.1h1.0v1.0h-1.0zM225.1 119.6h1.0v1.0h-1.0zM206.2 126.8h1.0v1.0h-1.0zM203.8 131.2h1.0v1.0h-1.0zM206.4 137.8h1.0v1.0h-1.0zM193.1 139.5h1.0v1.0h-1.0zM205.2 123.2h1.0v1.0h-1.0zM201.8 134.6h1.0v1.0h-1.0zM205.5 134.7h1.0v1.0h-1.0zM211.7 123.0h1.0v1.0h-1.0zM208.0 126.4h1.0v1.0h-1.0zM227.7 115.3h1.0v1.0h-1.0zM200.6 143.5h1.0v1.0h-1.0zM216.6 127.9h1.0v1.0h-1.0zM206.9 127.2h1.0v1.0h-1.0zM217.0 122.3h1.0v1.0h-1.0zM202.1 128.0h1.0v1.0h-1.0zM210.0 124.2h1.0v1.0h-1.0zM214.5 119.0h1.0v1.0h-1.0zM212.9 126.0h1.0v1.0h-1.0zM219.0 122.1h1.0v1.0h-1.0zM207.9 124.5h1.0v1.0h-1.0zM190.9 145.4h1.0v1.0h-1.0zM195.0 136.6h1.0v1.0h-1.0zM204.1 124.3h1.0v1.0h-1.0zM201.1 131.5h1.0v1.0h-1.0zM218.4 118.8h1.0v1.0h-1.0zM212.9 125.7h1.0v1.0h-1.0zM217.4 123.1h1.0v1.0h-1.0zM207.0 130.0h1.0v1.0h-1.0zM206.1 127.0h1.0v1.0h-1.0zM209.5 123.0h1.0v1.0h-1.0zM199.8 135.7h1.0v1.0h-1.0zM219.8 120.6h1.0v1.0h-1.0zM222.1 115.6h1.0v1.0h-1.0zM215.8 124.6h1.0v1.0h-1.0zM203.1 140.5h1.0v1.0h-1.0zM211.0 122.3h1.0v1.0h-1.0zM204.8 130.8h1.0v1.0h-1.0zM194.7 145.0h1.0v1.0h-1.0zM206.2 133.5h1.0v1.0h-1.0zM201.6 135.0h1.0v1.0h-1.0zM198.7 142.6h1.0v1.0h-1.0zM205.8 130.4h1.0v1.0h-1.0zM215.1 124.7h1.0v1.0h-1.0zM204.9 122.7h1.0v1.0h-1.0zM214.1 121.3h1.0v1.0h-1.0zM190.8 141.7h1.0v1.0h-1.0zM211.8 123.9h1.0v1.0h-1.0zM208.0 128.0h1.0v1.0h-1.0zM208.1 126.2h1.0v1.0h-1.0zM210.3 123.5h1.0v1.0h-1.0zM204.7 133.4h1.0v1.0h-1.0zM210.6 127.1h1.0v1.0h-1.0zM198.7 134.1h1.0v1.0h-1.0zM223.8 115.6h1.0v1.0h-1.0zM198.6 135.6h1.0v1.0h-1.0zM205.7 126.4h1.0v1.0h-1.0zM196.9 133.1h1.0v1.0h-1.0zM211.5 127.1h1.0v1.0h-1.0zM207.1 131.8h1.0v1.0h-1.0zM222.5 113.4h1.0v1.0h-1.0zM203.4 133.1h1.0v1.0h-1.0zM205.5 131.5h1.0v1.0h-1.0zM212.0 124.9h1.0v1.0h-1.0zM206.3 124.1h1.0v1.0h-1.0zM205.3 130.8h1.0v1.0h-1.0zM191.7 144.0h1.0v1.0h-1.0zM205.4 130.4h1.0v1.0h-1.0zM223.0 111.1h1.0v1.0h-1.0zM216.2 119.2h1.0v1.0h-1.0zM199.6 131.2h1.0v1.0h-1.0zM211.9 125.6h1.0v1.0h-1.0zM226.5 118.9h1.0v1.0h-1.0zM212.1 130.1h1.0v1.0h-1.0zM198.3 133.5h1.0v1.0h-1.0zM207.2 122.7h1.0v1.0h-1.0zM202.6 135.4h1.0v1.0h-1.0zM208.7 125.1h1.0v1.0h-1.0zM225.5 114.5h1.0v1.0h-1.0zM193.3 142.3h1.0v1.0h-1.0zM208.6 128.9h1.0v1.0h-1.0zM215.3 116.5h1.0v1.0h-1.0zM209.2 126.7h1.0v1.0h-1.0zM207.9 125.6h1.0v1.0h-1.0zM219.0 117.4h1.0v1.0h-1.0zM210.3 127.1h1.0v1.0h-1.0zM197.9 138.6h1.0v1.0h-1.0zM209.7 133.0h1.0v1.0h-1.0zM198.9 136.8h1.0v1.0h-1.0zM213.5 123.7h1.0v1.0h-1.0zM197.2 140.6h1.0v1.0h-1.0zM208.1 126.4h1.0v1.0h-1.0zM198.2 134.7h1.0v1.0h-1.0zM211.2 123.5h1.0v1.0h-1.0zM204.9 123.1h1.0v1.0h-1.0zM218.0 115.3h1.0v1.0h-1.0zM204.8 131.0h1.0v1.0h-1.0zM208.6 129.1h1.0v1.0h-1.0zM196.3 139.1h1.0v1.0h-1.0zM222.8 112.7h1.0v1.0h-1.0zM223.0 112.3h1.0v1.0h-1.0zM213.1 132.0h1.0v1.0h-1.0zM214.7 114.1h1.0v1.0h-1.0zM204.5 132.7h1.0v1.0h-1.0zM196.5 145.7h1.0v1.0h-1.0zM204.3 130.8h1.0v1.0h-1.0zM210.0 125.1h1.0v1.0h-1.0zM219.5 115.1h1.0v1.0h-1.0zM207.8 124.6h1.0v1.0h-1.0zM213.3 113.1h1.0v1.0h-1.0zM220.1 114.7h1.0v1.0h-1.0zM198.4 140.8h1.0v1.0h-1.0zM199.7 138.9h1.0v1.0h-1.0zM202.2 138.3h1.0v1.0h-1.0zM209.9 118.5h1.0v1.0h-1.0zM199.5 134.0h1.0v1.0h-1.0zM213.7 120.9h1.0v1.0h-1.0zM220.1 121.0h1.0v1.0h-1.0zM201.4 134.6h1.0v1.0h-1.0zM202.4 130.1h1.0v1.0h-1.0zM219.8 119.7h1.0v1.0h-1.0zM209.0 126.4h1.0v1.0h-1.0zM203.1 137.7h1.0v1.0h-1.0zM205.1 126.8h1.0v1.0h-1.0zM212.0 128.2h1.0v1.0h-1.0zM196.7 135.5h1.0v1.0h-1.0zM201.1 135.1h1.0v1.0h-1.0zM210.0 127.0h1.0v1.0h-1.0zM204.9 138.8h1.0v1.0h-1.0zM209.1 135.7h1.0v1.0h-1.0zM224.6 119.6h1.0v1.0h-1.0zM202.8 131.5h1.0v1.0h-1.0zM207.8 129.8h1.0v1.0h-1.0zM208.4 125.3h1.0v1.0h-1.0zM212.3 117.3h1.0v1.0h-1.0zM206.9 127.5h1.0v1.0h-1.0zM206.4 129.8h1.0v1.0h-1.0zM206.1 139.6h1.0v1.0h-1.0zM212.6 132.1h1.0v1.0h-1.0zM202.7 124.0h1.0v1.0h-1.0zM199.2 133.6h1.0v1.0h-1.0zM209.9 127.8h1.0v1.0h-1.0zM213.4 125.6h1.0v1.0h-1.0zM200.7 138.8h1.0v1.0h-1.0zM209.5 123.2h1.0v1.0h-1.0zM206.8 123.1h1.0v1.0h-1.0zM207.3 131.3h1.0v1.0h-1.0zM202.3 128.0h1.0v1.0h-1.0zM199.6 135.3h1.0v1.0h-1.0zM192.9 138.8h1.0v1.0h-1.0zM209.8 134.4h1.0v1.0h-1.0zM206.5 129.2h1.0v1.0h-1.0zM205.0 137.7h1.0v1.0h-1.0zM214.2 117.2h1.0v1.0h-1.0zM210.4 132.9h1.0v1.0h-1.0zM212.0 128.4h1.0v1.0h-1.0zM201.2 138.6h1.0v1.0h-1.0zM210.6 131.0h1.0v1.0h-1.0zM214.2 125.2h1.0v1.0h-1.0zM211.0 122.8h1.0v1.0h-1.0zM200.2 135.9h1.0v1.0h-1.0zM228.2 110.7h1.0v1.0h-1.0zM195.0 142.3h1.0v1.0h-1.0zM209.8 130.4h1.0v1.0h-1.0zM211.6 125.8h1.0v1.0h-1.0zM205.4 134.0h1.0v1.0h-1.0zM207.4 139.6h1.0v1.0h-1.0zM217.6 118.7h1.0v1.0h-1.0zM213.6 118.5h1.0v1.0h-1.0zM210.4 132.2h1.0v1.0h-1.0zM198.7 138.5h1.0v1.0h-1.0zM201.6 139.3h1.0v1.0h-1.0zM197.1 138.6h1.0v1.0h-1.0zM212.8 115.4h1.0v1.0h-1.0zM214.0 116.3h1.0v1.0h-1.0zM217.7 118.0h1.0v1.0h-1.0zM201.0 140.0h1.0v1.0h-1.0zM208.5 130.7h1.0v1.0h-1.0zM211.1 124.5h1.0v1.0h-1.0zM208.0 129.8h1.0v1.0h-1.0zM198.9 132.5h1.0v1.0h-1.0zM217.6 118.6h1.0v1.0h-1.0zM219.2 118.6h1.0v1.0h-1.0zM217.3 120.5h1.0v1.0h-1.0zM214.9 124.7h1.0v1.0h-1.0zM203.1 130.9h1.0v1.0h-1.0zM209.1 124.8h1.0v1.0h-1.0zM214.9 117.3h1.0v1.0h-1.0zM195.3 139.0h1.0v1.0h-1.0zM214.6 124.3h1.0v1.0h-1.0zM216.6 121.6h1.0v1.0h-1.0zM218.5 114.1h1.0v1.0h-1.0zM203.0 130.7h1.0v1.0h-1.0zM188.2 143.3h1.0v1.0h-1.0zM209.5 118.7h1.0v1.0h-1.0zM203.4 131.4h1.0v1.0h-1.0zM206.3 127.1h1.0v1.0h-1.0zM198.4 142.8h1.0v1.0h-1.0zM216.4 124.4h1.0v1.0h-1.0zM202.5 133.2h1.0v1.0h-1.0zM201.9 132.5h1.0v1.0h-1.0zM203.1 137.5h1.0v1.0h-1.0zM209.3 124.8h1.0v1.0h-1.0zM210.1 125.9h1.0v1.0h-1.0zM199.7 127.9h1.0v1.0h-1.0zM207.1 130.1h1.0v1.0h-1.0zM203.7 139.3h1.0v1.0h-1.0zM200.5 129.8h1.0v1.0h-1.0zM216.6 121.6h1.0v1.0h-1.0zM192.1 144.9h1.0v1.0h-1.0zM211.4 128.8h1.0v1.0h-1.0zM222.3 112.7h1.0v1.0h-1.0zM202.9 136.1h1.0v1.0h-1.0zM210.6 129.9h1.0v1.0h-1.0zM205.4 130.3h1.0v1.0h-1.0zM212.3 114.3h1.0v1.0h-1.0zM189.3 146.5h1.0v1.0h-1.0zM216.1 120.3h1.0v1.0h-1.0zM200.6 128.7h1.0v1.0h-1.0zM206.7 124.9h1.0v1.0h-1.0zM208.7 132.2h1.0v1.0h-1.0zM209.5 130.2h1.0v1.0h-1.0zM201.5 140.0h1.0v1.0h-1.0zM208.7 123.6h1.0v1.0h-1.0zM209.2 124.9h1.0v1.0h-1.0zM222.6 124.2h1.0v1.0h-1.0zM216.1 121.6h1.0v1.0h-1.0zM202.5 130.7h1.0v1.0h-1.0zM211.5 122.9h1.0v1.0h-1.0zM206.5 126.0h1.0v1.0h-1.0zM208.0 127.2h1.0v1.0h-1.0zM217.0 128.2h1.0v1.0h-1.0zM218.1 123.7h1.0v1.0h-1.0zM198.9 136.4h1.0v1.0h-1.0zM203.4 132.2h1.0v1.0h-1.0zM198.5 138.0h1.0v1.0h-1.0zM203.1 133.9h1.0v1.0h-1.0zM199.2 137.6h1.0v1.0h-1.0zM216.7 124.6h1.0v1.0h-1.0zM208.8 126.5h1.0v1.0h-1.0zM189.6 147.2h1.0v1.0h-1.0zM212.9 123.4h1.0v1.0h-1.0zM210.0 131.5h1.0v1.0h-1.0zM204.1 126.2h1.0v1.0h-1.0zM208.4 124.5h1.0v1.0h-1.0zM220.8 118.9h1.0v1.0h-1.0zM210.3 126.2h1.0v1.0h-1.0zM209.5 126.1h1.0v1.0h-1.0zM212.0 128.7h1.0v1.0h-1.0zM192.7 139.7h1.0v1.0h-1.0zM200.0 133.4h1.0v1.0h-1.0zM209.9 122.6h1.0v1.0h-1.0zM218.1 121.0h1.0v1.0h-1.0zM207.6 131.5h1.0v1.0h-1.0zM216.0 113.4h1.0v1.0h-1.0zM196.4 136.2h1.0v1.0h-1.0zM213.2 125.6h1.0v1.0h-1.0zM208.7 127.7h1.0v1.0h-1.0zM208.4 137.9h1.0v1.0h-1.0zM207.9 125.3h1.0v1.0h-1.0zM203.5 127.3h1.0v1.0h-1.0zM201.7 136.7h1.0v1.0h-1.0zM200.3 136.3h1.0v1.0h-1.0zM217.6 122.5h1.0v1.0h-1.0zM210.4 123.6h1.0v1.0h-1.0zM210.4 119.3h1.0v1.0h-1.0zM212.6 126.8h1.0v1.0h-1.0zM217.4 125.2h1.0v1.0h-1.0zM226.3 116.2h1.0v1.0h-1.0zM220.2 121.7h1.0v1.0h-1.0zM212.8 114.5h1.0v1.0h-1.0zM206.0 135.4h1.0v1.0h-1.0zM213.5 120.3h1.0v1.0h-1.0zM204.3 133.5h1.0v1.0h-1.0zM210.4 122.7h1.0v1.0h-1.0zM210.3 128.1h1.0v1.0h-1.0zM219.6 120.2h1.0v1.0h-1.0zM206.4 129.0h1.0v1.0h-1.0zM204.4 129.6h1.0v1.0h-1.0zM225.6 115.1h1.0v1.0h-1.0zM206.8 137.3h1.0v1.0h-1.0zM213.5 124.6h1.0v1.0h-1.0zM205.2 125.9h1.0v1.0h-1.0zM215.4 129.5h1.0v1.0h-1.0zM212.9 124.4h1.0v1.0h-1.0zM213.9 119.3h1.0v1.0h-1.0zM198.2 134.7h1.0v1.0h-1.0zM207.1 126.9h1.0v1.0h-1.0zM204.3 131.6h1.0v1.0h-1.0zM195.0 139.5h1.0v1.0h-1.0zM202.3 136.4h1.0v1.0h-1.0zM220.6 123.6h1.0v1.0h-1.0zM192.1 136.9h1.0v1.0h-1.0zM205.4 131.0h1.0v1.0h-1.0zM222.3 119.6h1.0v1.0h-1.0zM206.5 129.6h1.0v1.0h-1.0zM215.9 121.9h1.0v1.0h-1.0zM208.2 125.6h1.0v1.0h-1.0zM204.1 134.0h1.0v1.0h-1.0zM219.2 122.4h1.0v1.0h-1.0zM210.7 127.4h1.0v1.0h-1.0zM215.7 125.8h1.0v1.0h-1.0zM215.2 124.0h1.0v1.0h-1.0zM203.7 138.3h1.0v1.0h-1.0zM195.7 136.8h1.0v1.0h-1.0zM226.9 111.7h1.0v1.0h-1.0zM209.8 126.8h1.0v1.0h-1.0zM204.6 132.4h1.0v1.0h-1.0zM215.1 126.6h1.0v1.0h-1.0zM210.5 132.2h1.0v1.0h-1.0zM213.4 126.1h1.0v1.0h-1.0zM199.6 136.3h1.0v1.0h-1.0zM197.6 144.7h1.0v1.0h-1.0zM205.7 135.5h1.0v1.0h-1.0zM189.6 136.7h1.0v1.0h-1.0zM207.9 131.9h1.0v1.0h-1.0zM198.5 133.6h1.0v1.0h-1.0zM197.3 146.9h1.0v1.0h-1.0zM198.0 144.8h1.0v1.0h-1.0zM207.8 136.3h1.0v1.0h-1.0zM215.1 122.5h1.0v1.0h-1.0zM210.2 126.8h1.0v1.0h-1.0zM200.0 139.5h1.0v1.0h-1.0zM209.8 127.5h1.0v1.0h-1.0zM226.8 105.0h1.0v1.0h-1.0zM209.8 121.7h1.0v1.0h-1.0zM199.8 135.7h1.0v1.0h-1.0zM208.7 127.3h1.0v1.0h-1.0zM195.8 143.5h1.0v1.0h-1.0zM214.8 128.8h1.0v1.0h-1.0zM211.3 131.0h1.0v1.0h-1.0zM192.0 143.6h1.0v1.0h-1.0zM201.7 130.0h1.0v1.0h-1.0zM208.7 125.3h1.0v1.0h-1.0zM215.7 113.9h1.0v1.0h-1.0zM203.0 129.6h1.0v1.0h-1.0zM218.4 118.9h1.0v1.0h-1.0zM213.3 113.6h1.0v1.0h-1.0zM211.8 127.6h1.0v1.0h-1.0zM226.4 117.6h1.0v1.0h-1.0zM212.2 118.2h1.0v1.0h-1.0zM200.9 127.2h1.0v1.0h-1.0zM202.6 130.6h1.0v1.0h-1.0zM217.6 114.6h1.0v1.0h-1.0zM205.9 129.8h1.0v1.0h-1.0zM206.6 123.5h1.0v1.0h-1.0zM210.2 124.8h1.0v1.0h-1.0zM191.3 137.5h1.0v1.0h-1.0zM211.6 124.0h1.0v1.0h-1.0zM196.3 142.1h1.0v1.0h-1.0zM201.6 137.4h1.0v1.0h-1.0zM212.8 119.0h1.0v1.0h-1.0zM214.1 121.0h1.0v1.0h-1.0zM206.0 129.5h1.0v1.0h-1.0zM214.9 128.9h1.0v1.0h-1.0zM201.9 129.2h1.0v1.0h-1.0zM206.0 126.8h1.0v1.0h-1.0zM216.1 121.7h1.0v1.0h-1.0zM203.8 124.6h1.0v1.0h-1.0zM208.8 134.4h1.0v1.0h-1.0zM212.5 123.0h1.0v1.0h-1.0zM211.2 124.1h1.0v1.0h-1.0zM229.4 116.0h1.0v1.0h-1.0zM213.2 122.2h1.0v1.0h-1.0zM218.7 125.7h1.0v1.0h-1.0zM199.4 142.0h1.0v1.0h-1.0zM220.4 115.8h1.0v1.0h-1.0zM203.2 137.6h1.0v1.0h-1.0zM212.6 117.8h1.0v1.0h-1.0zM216.7 121.2h1.0v1.0h-1.0zM198.6 135.9h1.0v1.0h-1.0zM206.8 131.9h1.0v1.0h-1.0zM206.9 125.5h1.0v1.0h-1.0zM200.7 140.2h1.0v1.0h-1.0zM214.4 120.8h1.0v1.0h-1.0zM207.8 129.3h1.0v1.0h-1.0zM221.4 114.2h1.0v1.0h-1.0zM217.4 114.3h1.0v1.0h-1.0zM193.5 142.1h1.0v1.0h-1.0zM210.1 117.5h1.0v1.0h-1.0zM211.4 131.2h1.0v1.0h-1.0zM205.1 135.1h1.0v1.0h-1.0zM210.2 132.5h1.0v1.0h-1.0zM212.9 124.4h1.0v1.0h-1.0zM202.4 127.3h1.0v1.0h-1.0zM208.9 119.6h1.0v1.0h-1.0zM200.1 138.7h1.0v1.0h-1.0zM209.3 131.3h1.0v1.0h-1.0zM213.7 116.6h1.0v1.0h-1.0zM213.6 121.2h1.0v1.0h-1.0zM202.1 136.7h1.0v1.0h-1.0zM209.5 121.9h1.0v1.0h-1.0zM219.8 119.2h1.0v1.0h-1.0zM212.4 121.8h1.0v1.0h-1.0zM201.5 142.1h1.0v1.0h-1.0zM213.0 127.1h1.0v1.0h-1.0zM195.8 132.0h1.0v1.0h-1.0zM195.9 134.6h1.0v1.0h-1.0zM208.7 124.5h1.0v1.0h-1.0zM223.7 117.6h1.0v1.0h-1.0zM218.4 123.4h1.0v1.0h-1.0zM208.3 128.6h1.0v1.0h-1.0zM213.5 117.2h1.0v1.0h-1.0zM212.6 129.6h1.0v1.0h-1.0zM206.1 132.2h1.0v1.0h-1.0zM204.3 133.8h1.0v1.0h-1.0zM206.6 132.1h1.0v1.0h-1.0zM208.6 127.1h1.0v1.0h-1.0zM211.8 120.7h1.0v1.0h-1.0zM212.4 128.5h1.0v1.0h-1.0zM208.1 130.1h1.0v1.0h-1.0zM198.7 134.1h1.0v1.0h-1.0zM223.8 121.2h1.0v1.0h-1.0zM207.4 132.3h1.0v1.0h-1.0zM204.8 126.2h1.0v1.0h-1.0zM209.0 131.0h1.0v1.0h-1.0zM187.4 144.9h1.0v1.0h-1.0zM212.1 122.5h1.0v1.0h-1.0zM204.6 134.4h1.0v1.0h-1.0zM199.5 138.1h1.0v1.0h-1.0zM196.7 131.7h1.0v1.0h-1.0zM212.2 128.9h1.0v1.0h-1.0zM219.3 112.6h1.0v1.0h-1.0zM207.9 125.5h1.0v1.0h-1.0zM213.0 122.8h1.0v1.0h-1.0zM215.3 121.0h1.0v1.0h-1.0zM214.4 121.0h1.0v1.0h-1.0zM215.6 126.9h1.0v1.0h-1.0zM200.6 137.4h1.0v1.0h-1.0zM210.3 126.8h1.0v1.0h-1.0zM209.4 127.8h1.0v1.0h-1.0zM219.2 123.2h1.0v1.0h-1.0zM208.6 128.8h1.0v1.0h-1.0zM200.6 136.9h1.0v1.0h-1.0zM191.1 141.9h1.0v1.0h-1.0zM210.0 126.3h1.0v1.0h-1.0zM202.4 130.5h1.0v1.0h-1.0zM202.2 138.9h1.0v1.0h-1.0zM222.4 109.7h1.0v1.0h-1.0zM218.6 122.4h1.0v1.0h-1.0zM216.2 116.0h1.0v1.0h-1.0zM218.6 114.9h1.0v1.0h-1.0zM205.0 129.7h1.0v1.0h-1.0zM224.7 116.4h1.0v1.0h-1.0zM218.4 118.1h1.0v1.0h-1.0zM211.0 123.8h1.0v1.0h-1.0zM202.4 141.8h1.0v1.0h-1.0zM201.5 136.0h1.0v1.0h-1.0zM204.2 127.4h1.0v1.0h-1.0zM206.3 138.9h1.0v1.0h-1.0zM198.8 135.6h1.0v1.0h-1.0zM203.6 124.2h1.0v1.0h-1.0zM216.9 124.5h1.0v1.0h-1.0zM216.8 125.0h1.0v1.0h-1.0zM200.7 129.5h1.0v1.0h-1.0zM218.4 119.4h1.0v1.0h-1.0zM212.3 124.9h1.0v1.0h-1.0zM211.9 130.5h1.0v1.0h-1.0zM206.4 123.2h1.0v1.0h-1.0zM219.3 117.3h1.0v1.0h-1.0zM208.4 124.1h1.0v1.0h-1.0zM211.7 123.8h1.0v1.0h-1.0zM211.4 124.6h1.0v1.0h-1.0zM203.4 133.5h1.0v1.0h-1.0zM190.7 143.5h1.0v1.0h-1.0zM205.1 123.3h1.0v1.0h-1.0zM201.7 134.9h1.0v1.0h-1.0zM192.9 135.0h1.0v1.0h-1.0zM200.9 133.4h1.0v1.0h-1.0zM207.2 126.4h1.0v1.0h-1.0zM223.5 121.0h1.0v1.0h-1.0zM212.4 120.4h1.0v1.0h-1.0zM210.8 130.3h1.0v1.0h-1.0zM203.4 127.6h1.0v1.0h-1.0zM212.8 132.2h1.0v1.0h-1.0zM220.3 116.2h1.0v1.0h-1.0zM213.4 124.8h1.0v1.0h-1.0zM191.5 135.4h1.0v1.0h-1.0zM212.3 127.6h1.0v1.0h-1.0zM226.7 114.2h1.0v1.0h-1.0zM226.9 108.8h1.0v1.0h-1.0zM213.0 119.5h1.0v1.0h-1.0zM222.4 104.9h1.0v1.0h-1.0zM207.2 130.1h1.0v1.0h-1.0zM211.2 127.8h1.0v1.0h-1.0zM220.4 110.5h1.0v1.0h-1.0zM203.7 130.6h1.0v1.0h-1.0zM206.6 127.7h1.0v1.0h-1.0zM199.5 133.3h1.0v1.0h-1.0zM207.8 131.4h1.0v1.0h-1.0zM208.9 129.5h1.0v1.0h-1.0zM199.8 135.8h1.0v1.0h-1.0zM215.6 129.0h1.0v1.0h-1.0zM215.6 125.3h1.0v1.0h-1.0zM228.8 117.6h1.0v1.0h-1.0zM214.8 122.0h1.0v1.0h-1.0zM203.8 126.5h1.0v1.0h-1.0zM225.1 117.5h1.0v1.0h-1.0zM209.2 124.2h1.0v1.0h-1.0zM202.5 132.3h1.0v1.0h-1.0zM206.4 131.2h1.0v1.0h-1.0zM202.5 132.0h1.0v1.0h-1.0zM209.8 129.1h1.0v1.0h-1.0zM214.7 124.1h1.0v1.0h-1.0zM196.2 131.2h1.0v1.0h-1.0zM207.5 127.8h1.0v1.0h-1.0zM214.6 121.0h1.0v1.0h-1.0zM216.4 118.9h1.0v1.0h-1.0zM207.3 136.6h1.0v1.0h-1.0zM210.2 124.6h1.0v1.0h-1.0zM212.5 126.2h1.0v1.0h-1.0zM203.9 126.8h1.0v1.0h-1.0zM211.4 132.2h1.0v1.0h-1.0zM216.9 114.3h1.0v1.0h-1.0zM228.5 110.5h1.0v1.0h-1.0zM209.8 132.3h1.0v1.0h-1.0zM193.4 140.6h1.0v1.0h-1.0zM207.5 132.3h1.0v1.0h-1.0zM210.4 131.8h1.0v1.0h-1.0zM220.2 125.8h1.0v1.0h-1.0zM212.4 123.7h1.0v1.0h-1.0zM200.0 132.2h1.0v1.0h-1.0zM218.6 121.1h1.0v1.0h-1.0zM208.5 128.7h1.0v1.0h-1.0zM206.0 128.1h1.0v1.0h-1.0zM207.5 132.6h1.0v1.0h-1.0zM206.1 131.9h1.0v1.0h-1.0zM213.5 123.8h1.0v1.0h-1.0zM197.7 143.2h1.0v1.0h-1.0zM211.0 125.2h1.0v1.0h-1.0zM217.2 123.2h1.0v1.0h-1.0zM216.7 126.9h1.0v1.0h-1.0zM200.0 129.7h1.0v1.0h-1.0zM206.2 133.1h1.0v1.0h-1.0zM215.9 124.4h1.0v1.0h-1.0zM207.6 132.8h1.0v1.0h-1.0zM214.5 125.1h1.0v1.0h-1.0zM222.5 112.9h1.0v1.0h-1.0zM220.6 113.4h1.0v1.0h-1.0zM219.3 119.6h1.0v1.0h-1.0zM195.8 138.7h1.0v1.0h-1.0zM219.0 119.5h1.0v1.0h-1.0zM211.6 130.3h1.0v1.0h-1.0zM224.5 112.2h1.0v1.0h-1.0zM201.7 126.3h1.0v1.0h-1.0zM212.3 118.2h1.0v1.0h-1.0zM217.9 128.7h1.0v1.0h-1.0zM204.4 127.0h1.0v1.0h-1.0zM204.6 128.7h1.0v1.0h-1.0zM226.2 111.9h1.0v1.0h-1.0zM211.1 130.1h1.0v1.0h-1.0zM214.8 124.9h1.0v1.0h-1.0zM215.6 126.4h1.0v1.0h-1.0zM201.9 126.5h1.0v1.0h-1.0zM211.2 116.3h1.0v1.0h-1.0zM221.6 115.6h1.0v1.0h-1.0zM214.3 124.0h1.0v1.0h-1.0zM208.0 120.0h1.0v1.0h-1.0zM213.1 129.1h1.0v1.0h-1.0zM216.8 122.9h1.0v1.0h-1.0zM198.9 133.5h1.0v1.0h-1.0zM200.3 144.7h1.0v1.0h-1.0zM206.2 140.0h1.0v1.0h-1.0zM208.3 124.4h1.0v1.0h-1.0zM198.0 135.1h1.0v1.0h-1.0zM206.0 129.0h1.0v1.0h-1.0zM199.3 133.4h1.0v1.0h-1.0zM202.0 139.7h1.0v1.0h-1.0zM200.0 133.1h1.0v1.0h-1.0zM210.5 135.0h1.0v1.0h-1.0zM217.5 124.8h1.0v1.0h-1.0zM213.3 122.5h1.0v1.0h-1.0zM206.2 132.8h1.0v1.0h-1.0zM213.8 124.4h1.0v1.0h-1.0zM217.4 122.1h1.0v1.0h-1.0zM203.6 133.7h1.0v1.0h-1.0zM206.1 127.7h1.0v1.0h-1.0zM208.9 127.8h1.0v1.0h-1.0zM195.4 139.8h1.0v1.0h-1.0zM206.7 131.3h1.0v1.0h-1.0zM202.4 131.2h1.0v1.0h-1.0zM209.5 122.4h1.0v1.0h-1.0zM201.4 138.0h1.0v1.0h-1.0zM214.6 125.3h1.0v1.0h-1.0zM211.8 124.4h1.0v1.0h-1.0zM198.7 130.8h1.0v1.0h-1.0zM208.8 131.9h1.0v1.0h-1.0zM206.3 132.2h1.0v1.0h-1.0zM215.5 123.5h1.0v1.0h-1.0zM204.3 138.7h1.0v1.0h-1.0zM208.6 128.4h1.0v1.0h-1.0zM213.0 125.7h1.0v1.0h-1.0zM204.2 136.4h1.0v1.0h-1.0zM217.6 120.9h1.0v1.0h-1.0zM203.5 132.1h1.0v1.0h-1.0zM213.2 126.0h1.0v1.0h-1.0zM198.8 136.3h1.0v1.0h-1.0zM216.3 122.6h1.0v1.0h-1.0zM217.4 112.6h1.0v1.0h-1.0zM220.7 116.6h1.0v1.0h-1.0zM220.4 120.3h1.0v1.0h-1.0zM215.1 117.8h1.0v1.0h-1.0zM211.0 128.4h1.0v1.0h-1.0zM216.2 120.0h1.0v1.0h-1.0zM203.7 128.7h1.0v1.0h-1.0zM204.4 132.6h1.0v1.0h-1.0zM192.7 143.5h1.0v1.0h-1.0zM217.7 122.0h1.0v1.0h-1.0zM198.5 140.1h1.0v1.0h-1.0zM205.2 125.9h1.0v1.0h-1.0zM207.1 127.6h1.0v1.0h-1.0zM201.8 131.4h1.0v1.0h-1.0zM214.8 126.6h1.0v1.0h-1.0zM204.1 129.3h1.0v1.0h-1.0zM199.3 141.4h1.0v1.0h-1.0zM199.2 137.0h1.0v1.0h-1.0zM203.4 131.8h1.0v1.0h-1.0zM216.4 114.7h1.0v1.0h-1.0zM208.7 122.1h1.0v1.0h-1.0zM197.5 139.6h1.0v1.0h-1.0zM203.9 124.1h1.0v1.0h-1.0zM219.7 121.2h1.0v1.0h-1.0zM219.1 111.0h1.0v1.0h-1.0zM212.2 120.1h1.0v1.0h-1.0zM215.0 120.1h1.0v1.0h-1.0zM197.2 133.8h1.0v1.0h-1.0zM204.4 128.0h1.0v1.0h-1.0zM221.6 116.1h1.0v1.0h-1.0zM218.9 126.2h1.0v1.0h-1.0zM209.2 125.1h1.0v1.0h-1.0zM213.0 117.0h1.0v1.0h-1.0zM210.1 119.8h1.0v1.0h-1.0zM200.8 143.2h1.0v1.0h-1.0zM223.4 115.7h1.0v1.0h-1.0zM204.1 135.7h1.0v1.0h-1.0zM209.9 129.1h1.0v1.0h-1.0zM218.4 123.1h1.0v1.0h-1.0zM204.5 130.5h1.0v1.0h-1.0zM197.3 139.3h1.0v1.0h-1.0zM210.4 127.4h1.0v1.0h-1.0zM209.5 124.5h1.0v1.0h-1.0zM194.8 138.2h1.0v1.0h-1.0zM218.5 121.3h1.0v1.0h-1.0zM218.8 120.1h1.0v1.0h-1.0zM217.5 120.2h1.0v1.0h-1.0zM199.5 136.6h1.0v1.0h-1.0zM217.9 112.6h1.0v1.0h-1.0zM205.2 130.2h1.0v1.0h-1.0zM202.0 133.7h1.0v1.0h-1.0zM215.7 127.6h1.0v1.0h-1.0zM218.6 122.7h1.0v1.0h-1.0zM210.7 124.1h1.0v1.0h-1.0zM228.0 108.1h1.0v1.0h-1.0zM208.1 123.4h1.0v1.0h-1.0zM198.1 138.6h1.0v1.0h-1.0zM214.1 119.7h1.0v1.0h-1.0zM204.3 126.7h1.0v1.0h-1.0zM221.7 115.9h1.0v1.0h-1.0zM218.1 123.9h1.0v1.0h-1.0zM204.1 136.3h1.0v1.0h-1.0zM208.3 129.4h1.0v1.0h-1.0zM208.3 121.6h1.0v1.0h-1.0zM223.1 118.9h1.0v1.0h-1.0zM202.1 133.3h1.0v1.0h-1.0zM212.4 130.4h1.0v1.0h-1.0zM200.9 136.9h1.0v1.0h-1.0zM203.2 136.2h1.0v1.0h-1.0zM211.6 117.8h1.0v1.0h-1.0zM208.2 136.1h1.0v1.0h-1.0zM208.1 129.3h1.0v1.0h-1.0zM226.1 112.5h1.0v1.0h-1.0zM219.6 114.9h1.0v1.0h-1.0zM192.9 144.0h1.0v1.0h-1.0zM201.7 133.7h1.0v1.0h-1.0zM209.9 127.8h1.0v1.0h-1.0zM220.4 121.6h1.0v1.0h-1.0zM222.4 120.2h1.0v1.0h-1.0zM223.5 120.6h1.0v1.0h-1.0zM208.8 129.6h1.0v1.0h-1.0zM226.0 118.4h1.0v1.0h-1.0zM209.4 122.7h1.0v1.0h-1.0zM220.1 112.7h1.0v1.0h-1.0zM223.8 119.7h1.0v1.0h-1.0zM188.7 141.3h1.0v1.0h-1.0zM205.5 125.7h1.0v1.0h-1.0zM216.2 125.9h1.0v1.0h-1.0zM207.8 123.1h1.0v1.0h-1.0zM202.9 132.7h1.0v1.0h-1.0zM207.9 135.0h1.0v1.0h-1.0zM210.1 121.2h1.0v1.0h-1.0zM204.4 126.1h1.0v1.0h-1.0zM218.3 114.7h1.0v1.0h-1.0zM212.0 125.5h1.0v1.0h-1.0zM213.3 125.5h1.0v1.0h-1.0zM209.7 126.2h1.0v1.0h-1.0zM197.5 143.1h1.0v1.0h-1.0zM202.3 132.7h1.0v1.0h-1.0zM203.8 125.4h1.0v1.0h-1.0zM194.9 141.9h1.0v1.0h-1.0zM214.7 129.8h1.0v1.0h-1.0zM197.4 140.5h1.0v1.0h-1.0zM204.6 134.4h1.0v1.0h-1.0zM212.0 130.1h1.0v1.0h-1.0zM207.7 125.1h1.0v1.0h-1.0zM207.9 123.9h1.0v1.0h-1.0zM209.1 126.5h1.0v1.0h-1.0zM202.6 137.1h1.0v1.0h-1.0zM194.7 139.1h1.0v1.0h-1.0zM211.4 127.6h1.0v1.0h-1.0zM206.4 134.9h1.0v1.0h-1.0zM209.2 123.9h1.0v1.0h-1.0zM208.8 124.9h1.0v1.0h-1.0zM216.6 115.6h1.0v1.0h-1.0zM214.4 124.8h1.0v1.0h-1.0zM208.9 117.8h1.0v1.0h-1.0zM205.6 127.1h1.0v1.0h-1.0zM216.1 118.9h1.0v1.0h-1.0zM197.3 140.8h1.0v1.0h-1.0zM213.8 118.4h1.0v1.0h-1.0zM211.1 119.3h1.0v1.0h-1.0zM218.3 113.6h1.0v1.0h-1.0zM220.2 109.6h1.0v1.0h-1.0zM216.4 122.0h1.0v1.0h-1.0zM191.4 136.8h1.0v1.0h-1.0zM204.1 128.3h1.0v1.0h-1.0zM212.5 128.3h1.0v1.0h-1.0zM217.5 114.7h1.0v1.0h-1.0zM211.8 123.3h1.0v1.0h-1.0zM221.5 114.0h1.0v1.0h-1.0zM212.6 127.8h1.0v1.0h-1.0zM211.1 135.4h1.0v1.0h-1.0zM209.8 125.8h1.0v1.0h-1.0zM208.8 130.0h1.0v1.0h-1.0zM205.4 134.3h1.0v1.0h-1.0zM210.9 123.1h1.0v1.0h-1.0zM215.2 124.2h1.0v1.0h-1.0zM213.4 118.3h1.0v1.0h-1.0zM200.4 143.8h1.0v1.0h-1.0zM211.4 122.0h1.0v1.0h-1.0zM208.9 132.6h1.0v1.0h-1.0zM223.5 120.2h1.0v1.0h-1.0zM209.1 136.9h1.0v1.0h-1.0zM215.9 117.1h1.0v1.0h-1.0zM202.4 137.6h1.0v1.0h-1.0zM207.5 131.0h1.0v1.0h-1.0zM203.7 134.3h1.0v1.0h-1.0zM212.6 128.9h1.0v1.0h-1.0zM215.6 121.7h1.0v1.0h-1.0zM211.9 130.5h1.0v1.0h-1.0zM210.4 123.6h1.0v1.0h-1.0zM205.7 124.7h1.0v1.0h-1.0zM211.0 129.1h1.0v1.0h-1.0zM218.0 111.9h1.0v1.0h-1.0zM199.7 135.9h1.0v1.0h-1.0zM214.4 123.5h1.0v1.0h-1.0zM212.0 116.8h1.0v1.0h-1.0zM210.0 124.6h1.0v1.0h-1.0zM197.3 132.8h1.0v1.0h-1.0zM211.0 119.4h1.0v1.0h-1.0zM212.0 126.4h1.0v1.0h-1.0zM210.3 123.8h1.0v1.0h-1.0zM202.1 130.2h1.0v1.0h-1.0zM194.1 140.8h1.0v1.0h-1.0zM210.5 132.0h1.0v1.0h-1.0zM216.0 126.6h1.0v1.0h-1.0zM190.5 145.0h1.0v1.0h-1.0zM205.0 125.4h1.0v1.0h-1.0zM222.8 112.0h1.0v1.0h-1.0zM203.1 133.2h1.0v1.0h-1.0zM201.7 134.4h1.0v1.0h-1.0zM207.4 120.5h1.0v1.0h-1.0zM199.0 130.1h1.0v1.0h-1.0zM208.6 127.5h1.0v1.0h-1.0zM208.8 124.9h1.0v1.0h-1.0zM193.4 138.1h1.0v1.0h-1.0zM218.6 123.2h1.0v1.0h-1.0zM210.5 124.9h1.0v1.0h-1.0zM204.0 136.3h1.0v1.0h-1.0zM216.5 123.3h1.0v1.0h-1.0zM225.1 114.1h1.0v1.0h-1.0zM225.1 109.8h1.0v1.0h-1.0zM205.0 130.4h1.0v1.0h-1.0zM215.9 118.5h1.0v1.0h-1.0zM200.9 130.8h1.0v1.0h-1.0zM200.2 141.2h1.0v1.0h-1.0zM209.2 130.7h1.0v1.0h-1.0zM204.8 128.7h1.0v1.0h-1.0zM213.3 121.5h1.0v1.0h-1.0zM196.4 137.1h1.0v1.0h-1.0zM216.1 125.3h1.0v1.0h-1.0zM203.6 141.7h1.0v1.0h-1.0zM203.1 138.2h1.0v1.0h-1.0zM196.4 141.0h1.0v1.0h-1.0zM224.8 107.4h1.0v1.0h-1.0zM218.5 120.5h1.0v1.0h-1.0zM210.1 129.9h1.0v1.0h-1.0zM213.0 129.5h1.0v1.0h-1.0zM218.9 115.9h1.0v1.0h-1.0zM216.5 122.1h1.0v1.0h-1.0zM219.8 118.8h1.0v1.0h-1.0zM218.1 119.9h1.0v1.0h-1.0zM206.6 121.6h1.0v1.0h-1.0zM208.4 122.9h1.0v1.0h-1.0zM211.3 128.6h1.0v1.0h-1.0zM226.0 113.8h1.0v1.0h-1.0zM206.4 132.6h1.0v1.0h-1.0zM217.2 121.4h1.0v1.0h-1.0zM211.9 126.8h1.0v1.0h-1.0zM206.5 131.7h1.0v1.0h-1.0zM212.7 128.6h1.0v1.0h-1.0zM205.0 127.7h1.0v1.0h-1.0zM213.5 127.8h1.0v1.0h-1.0zM199.9 141.6h1.0v1.0h-1.0zM208.6 130.6h1.0v1.0h-1.0zM202.8 130.8h1.0v1.0h-1.0zM211.9 123.9h1.0v1.0h-1.0zM208.9 124.9h1.0v1.0h-1.0zM199.7 132.3h1.0v1.0h-1.0zM197.3 142.5h1.0v1.0h-1.0zM204.6 134.0h1.0v1.0h-1.0zM217.0 121.6h1.0v1.0h-1.0zM202.7 127.1h1.0v1.0h-1.0zM201.5 135.7h1.0v1.0h-1.0zM214.1 124.4h1.0v1.0h-1.0zM214.4 124.7h1.0v1.0h-1.0zM216.6 114.0h1.0v1.0h-1.0zM203.9 133.5h1.0v1.0h-1.0zM206.4 127.4h1.0v1.0h-1.0zM206.8 134.4h1.0v1.0h-1.0zM193.7 140.5h1.0v1.0h-1.0zM203.2 135.7h1.0v1.0h-1.0zM215.9 121.0h1.0v1.0h-1.0zM217.6 124.0h1.0v1.0h-1.0zM216.8 122.2h1.0v1.0h-1.0zM209.5 124.6h1.0v1.0h-1.0zM220.5 115.9h1.0v1.0h-1.0zM207.1 127.1h1.0v1.0h-1.0zM213.1 128.2h1.0v1.0h-1.0zM198.5 134.6h1.0v1.0h-1.0zM208.0 127.5h1.0v1.0h-1.0zM212.8 117.3h1.0v1.0h-1.0zM219.4 119.2h1.0v1.0h-1.0zM209.4 133.3h1.0v1.0h-1.0zM217.9 123.4h1.0v1.0h-1.0zM220.4 118.2h1.0v1.0h-1.0zM205.1 133.4h1.0v1.0h-1.0zM205.0 127.6h1.0v1.0h-1.0zM214.1 122.3h1.0v1.0h-1.0zM218.5 119.5h1.0v1.0h-1.0zM205.9 126.7h1.0v1.0h-1.0zM205.6 129.8h1.0v1.0h-1.0zM193.9 137.7h1.0v1.0h-1.0zM208.7 127.8h1.0v1.0h-1.0zM206.6 129.6h1.0v1.0h-1.0zM219.1 123.4h1.0v1.0h-1.0zM191.0 147.1h1.0v1.0h-1.0zM210.1 122.1h1.0v1.0h-1.0zM204.7 129.3h1.0v1.0h-1.0zM220.9 111.7h1.0v1.0h-1.0zM199.0 143.6h1.0v1.0h-1.0zM206.2 128.1h1.0v1.0h-1.0zM217.2 127.5h1.0v1.0h-1.0zM228.9 113.8h1.0v1.0h-1.0zM212.3 129.8h1.0v1.0h-1.0zM190.1 143.3h1.0v1.0h-1.0zM213.0 116.6h1.0v1.0h-1.0zM220.3 113.3h1.0v1.0h-1.0zM210.9 132.7h1.0v1.0h-1.0zM194.8 142.6h1.0v1.0h-1.0zM202.0 140.8h1.0v1.0h-1.0zM221.0 122.3h1.0v1.0h-1.0zM220.3 122.5h1.0v1.0h-1.0zM200.6 139.2h1.0v1.0h-1.0zM204.5 132.0h1.0v1.0h-1.0zM216.2 130.1h1.0v1.0h-1.0zM204.8 134.3h1.0v1.0h-1.0zM216.8 124.5h1.0v1.0h-1.0zM210.4 125.8h1.0v1.0h-1.0zM209.6 122.4h1.0v1.0h-1.0zM201.6 134.7h1.0v1.0h-1.0zM220.0 115.8h1.0v1.0h-1.0zM202.4 134.8h1.0v1.0h-1.0zM205.5 128.7h1.0v1.0h-1.0zM219.7 123.3h1.0v1.0h-1.0zM205.0 132.9h1.0v1.0h-1.0zM205.8 130.1h1.0v1.0h-1.0zM209.3 123.5h1.0v1.0h-1.0zM210.8 124.4h1.0v1.0h-1.0zM202.2 131.7h1.0v1.0h-1.0zM213.1 120.5h1.0v1.0h-1.0zM212.7 125.2h1.0v1.0h-1.0zM193.1 147.6h1.0v1.0h-1.0zM194.8 132.4h1.0v1.0h-1.0zM200.1 142.8h1.0v1.0h-1.0zM213.5 130.2h1.0v1.0h-1.0zM197.9 137.6h1.0v1.0h-1.0zM198.1 138.4h1.0v1.0h-1.0zM203.9 130.4h1.0v1.0h-1.0zM216.4 123.4h1.0v1.0h-1.0zM204.2 137.4h1.0v1.0h-1.0zM215.1 127.1h1.0v1.0h-1.0zM195.7 139.9h1.0v1.0h-1.0zM211.5 132.9h1.0v1.0h-1.0zM197.0 137.2h1.0v1.0h-1.0zM207.0 122.0h1.0v1.0h-1.0zM193.0 136.8h1.0v1.0h-1.0zM218.5 122.2h1.0v1.0h-1.0zM198.6 134.2h1.0v1.0h-1.0zM204.5 126.7h1.0v1.0h-1.0zM193.9 141.0h1.0v1.0h-1.0zM214.2 129.0h1.0v1.0h-1.0zM214.3 126.1h1.0v1.0h-1.0zM200.8 139.3h1.0v1.0h-1.0zM219.3 117.0h1.0v1.0h-1.0zM215.0 129.0h1.0v1.0h-1.0zM224.0 113.3h1.0v1.0h-1.0zM208.2 132.8h1.0v1.0h-1.0zM219.7 120.0h1.0v1.0h-1.0zM205.0 131.6h1.0v1.0h-1.0zM198.5 144.5h1.0v1.0h-1.0zM199.6 132.1h1.0v1.0h-1.0zM220.8 117.8h1.0v1.0h-1.0zM208.9 126.0h1.0v1.0h-1.0zM200.0 138.0h1.0v1.0h-1.0zM220.4 115.7h1.0v1.0h-1.0zM199.0 137.5h1.0v1.0h-1.0zM201.9 139.2h1.0v1.0h-1.0zM203.5 134.4h1.0v1.0h-1.0zM211.4 127.5h1.0v1.0h-1.0zM225.8 118.1h1.0v1.0h-1.0zM211.0 133.3h1.0v1.0h-1.0zM211.7 125.2h1.0v1.0h-1.0zM216.8 122.3h1.0v1.0h-1.0zM211.1 119.9h1.0v1.0h-1.0zM190.2 142.1h1.0v1.0h-1.0zM218.1 110.8h1.0v1.0h-1.0zM202.8 132.0h1.0v1.0h-1.0zM195.2 137.5h1.0v1.0h-1.0zM202.0 131.0h1.0v1.0h-1.0zM195.5 135.4h1.0v1.0h-1.0zM217.2 119.9h1.0v1.0h-1.0zM214.1 120.4h1.0v1.0h-1.0zM201.1 134.8h1.0v1.0h-1.0zM217.7 123.6h1.0v1.0h-1.0zM210.1 132.8h1.0v1.0h-1.0zM206.0 127.8h1.0v1.0h-1.0zM202.6 135.0h1.0v1.0h-1.0zM213.3 118.2h1.0v1.0h-1.0zM198.7 136.2h1.0v1.0h-1.0zM206.1 125.8h1.0v1.0h-1.0zM208.4 135.4h1.0v1.0h-1.0zM219.4 120.0h1.0v1.0h-1.0zM212.8 128.6h1.0v1.0h-1.0zM202.9 135.1h1.0v1.0h-1.0zM196.0 144.0h1.0v1.0h-1.0zM196.4 137.4h1.0v1.0h-1.0zM210.6 128.7h1.0v1.0h-1.0zM209.4 120.0h1.0v1.0h-1.0zM205.1 128.0h1.0v1.0h-1.0zM220.0 123.4h1.0v1.0h-1.0zM204.7 135.0h1.0v1.0h-1.0zM218.6 126.4h1.0v1.0h-1.0zM200.8 131.6h1.0v1.0h-1.0zM204.3 133.3h1.0v1.0h-1.0zM198.4 137.0h1.0v1.0h-1.0zM211.0 121.8h1.0v1.0h-1.0zM208.7 134.4h1.0v1.0h-1.0zM212.4 125.7h1.0v1.0h-1.0zM214.6 126.3h1.0v1.0h-1.0zM211.6 128.5h1.0v1.0h-1.0zM211.7 128.5h1.0v1.0h-1.0zM201.1 134.8h1.0v1.0h-1.0zM206.8 130.7h1.0v1.0h-1.0zM206.5 137.7h1.0v1.0h-1.0zM206.8 126.8h1.0v1.0h-1.0zM220.4 117.2h1.0v1.0h-1.0zM194.0 136.8h1.0v1.0h-1.0zM222.3 115.8h1.0v1.0h-1.0zM207.2 128.6h1.0v1.0h-1.0zM204.2 135.5h1.0v1.0h-1.0zM199.1 140.9h1.0v1.0h-1.0zM218.1 125.6h1.0v1.0h-1.0zM202.3 128.5h1.0v1.0h-1.0zM207.0 125.1h1.0v1.0h-1.0zM202.4 127.1h1.0v1.0h-1.0zM223.8 114.9h1.0v1.0h-1.0zM198.4 139.0h1.0v1.0h-1.0zM218.2 119.1h1.0v1.0h-1.0zM197.0 137.1h1.0v1.0h-1.0zM205.9 129.8h1.0v1.0h-1.0zM220.5 114.1h1.0v1.0h-1.0zM213.6 121.8h1.0v1.0h-1.0zM216.5 117.3h1.0v1.0h-1.0zM192.9 144.0h1.0v1.0h-1.0zM221.7 111.4h1.0v1.0h-1.0zM214.0 121.1h1.0v1.0h-1.0zM204.7 135.7h1.0v1.0h-1.0zM206.9 128.1h1.0v1.0h-1.0zM214.8 118.5h1.0v1.0h-1.0zM213.5 119.6h1.0v1.0h-1.0zM208.3 133.9h1.0v1.0h-1.0zM200.3 145.6h1.0v1.0h-1.0zM201.3 128.9h1.0v1.0h-1.0zM209.4 129.1h1.0v1.0h-1.0zM203.9 127.4h1.0v1.0h-1.0zM203.2 137.7h1.0v1.0h-1.0zM209.9 135.8h1.0v1.0h-1.0zM219.2 120.1h1.0v1.0h-1.0zM214.1 125.2h1.0v1.0h-1.0zM217.6 119.2h1.0v1.0h-1.0zM212.9 124.2h1.0v1.0h-1.0zM195.0 136.4h1.0v1.0h-1.0zM215.3 129.0h1.0v1.0h-1.0zM209.7 120.4h1.0v1.0h-1.0zM214.8 122.5h1.0v1.0h-1.0zM199.8 136.6h1.0v1.0h-1.0zM197.2 135.6h1.0v1.0h-1.0zM198.7 131.3h1.0v1.0h-1.0zM208.5 124.1h1.0v1.0h-1.0zM211.4 124.9h1.0v1.0h-1.0zM218.5 122.2h1.0v1.0h-1.0zM215.0 127.1h1.0v1.0h-1.0zM213.1 128.8h1.0v1.0h-1.0zM211.4 119.9h1.0v1.0h-1.0zM201.1 132.0h1.0v1.0h-1.0zM223.5 115.6h1.0v1.0h-1.0zM202.7 133.0h1.0v1.0h-1.0zM198.2 139.6h1.0v1.0h-1.0zM213.2 126.2h1.0v1.0h-1.0zM207.1 131.5h1.0v1.0h-1.0zM217.7 117.2h1.0v1.0h-1.0zM202.4 137.9h1.0v1.0h-1.0zM208.4 125.8h1.0v1.0h-1.0zM211.0 121.5h1.0v1.0h-1.0zM210.3 122.6h1.0v1.0h-1.0zM198.8 141.2h1.0v1.0h-1.0zM210.2 133.8h1.0v1.0h-1.0zM195.7 143.2h1.0v1.0h-1.0zM210.3 128.4h1.0v1.0h-1.0zM208.8 130.6h1.0v1.0h-1.0zM208.6 133.5h1.0v1.0h-1.0zM195.9 140.3h1.0v1.0h-1.0zM207.6 125.2h1.0v1.0h-1.0zM199.6 133.7h1.0v1.0h-1.0zM207.4 133.8h1.0v1.0h-1.0zM217.0 114.6h1.0v1.0h-1.0zM217.9 127.6h1.0v1.0h-1.0zM199.6 134.2h1.0v1.0h-1.0zM209.2 127.6h1.0v1.0h-1.0zM195.8 136.3h1.0v1.0h-1.0zM202.8 125.0h1.0v1.0h-1.0zM203.0 133.8h1.0v1.0h-1.0zM213.8 128.4h1.0v1.0h-1.0zM207.9 129.3h1.0v1.0h-1.0zM220.0 117.1h1.0v1.0h-1.0zM197.3 136.8h1.0v1.0h-1.0zM206.0 138.6h1.0v1.0h-1.0zM224.9 118.4h1.0v1.0h-1.0zM191.9 140.3h1.0v1.0h-1.0zM205.2 136.8h1.0v1.0h-1.0zM216.3 129.6h1.0v1.0h-1.0zM207.2 127.2h1.0v1.0h-1.0zM206.8 138.5h1.0v1.0h-1.0zM219.3 120.0h1.0v1.0h-1.0zM199.7 134.1h1.0v1.0h-1.0zM203.8 133.4h1.0v1.0h-1.0zM210.8 131.6h1.0v1.0h-1.0zM216.0 120.0h1.0v1.0h-1.0zM204.6 134.0h1.0v1.0h-1.0zM199.2 127.8h1.0v1.0h-1.0zM197.4 140.9h1.0v1.0h-1.0zM223.3 116.2h1.0v1.0h-1.0zM208.1 132.6h1.0v1.0h-1.0zM201.8 138.1h1.0v1.0h-1.0zM207.2 128.8h1.0v1.0h-1.0zM199.8 135.4h1.0v1.0h-1.0zM214.7 122.9h1.0v1.0h-1.0zM214.5 119.0h1.0v1.0h-1.0zM207.6 130.8h1.0v1.0h-1.0zM219.4 119.9h1.0v1.0h-1.0zM216.0 127.1h1.0v1.0h-1.0zM220.7 117.8h1.0v1.0h-1.0zM210.4 127.5h1.0v1.0h-1.0zM218.6 121.8h1.0v1.0h-1.0zM207.5 135.7h1.0v1.0h-1.0zM221.3 118.4h1.0v1.0h-1.0zM207.2 134.7h1.0v1.0h-1.0zM206.8 130.7h1.0v1.0h-1.0zM206.7 128.1h1.0v1.0h-1.0zM220.7 121.4h1.0v1.0h-1.0zM198.5 135.5h1.0v1.0h-1.0zM216.1 124.9h1.0v1.0h-1.0zM214.1 127.7h1.0v1.0h-1.0zM198.8 132.9h1.0v1.0h-1.0zM203.1 128.0h1.0v1.0h-1.0zM206.3 133.9h1.0v1.0h-1.0zM212.6 128.8h1.0v1.0h-1.0zM211.0 134.5h1.0v1.0h-1.0zM204.9 127.5h1.0v1.0h-1.0zM208.0 129.6h1.0v1.0h-1.0zM207.7 129.9h1.0v1.0h-1.0zM210.2 123.2h1.0v1.0h-1.0zM215.1 129.4h1.0v1.0h-1.0zM196.5 129.8h1.0v1.0h-1.0zM215.1 117.3h1.0v1.0h-1.0zM201.8 127.9h1.0v1.0h-1.0zM211.4 129.7h1.0v1.0h-1.0zM210.0 133.0h1.0v1.0h-1.0zM212.6 123.8h1.0v1.0h-1.0zM210.8 128.2h1.0v1.0h-1.0zM198.3 131.6h1.0v1.0h-1.0zM208.9 127.9h1.0v1.0h-1.0zM205.3 132.6h1.0v1.0h-1.0zM203.2 129.6h1.0v1.0h-1.0zM199.5 136.3h1.0v1.0h-1.0zM220.7 112.6h1.0v1.0h-1.0zM222.8 118.4h1.0v1.0h-1.0zM210.8 122.5h1.0v1.0h-1.0zM209.2 136.3h1.0v1.0h-1.0zM221.9 123.3h1.0v1.0h-1.0zM200.7 131.6h1.0v1.0h-1.0zM207.3 124.9h1.0v1.0h-1.0zM211.0 124.7h1.0v1.0h-1.0zM213.8 128.8h1.0v1.0h-1.0zM213.6 125.1h1.0v1.0h-1.0zM203.2 126.4h1.0v1.0h-1.0zM219.2 122.2h1.0v1.0h-1.0zM214.1 122.4h1.0v1.0h-1.0zM208.6 123.3h1.0v1.0h-1.0zM219.8 123.5h1.0v1.0h-1.0zM209.0 126.4h1.0v1.0h-1.0zM207.7 123.8h1.0v1.0h-1.0zM199.4 139.6h1.0v1.0h-1.0zM208.4 123.3h1.0v1.0h-1.0zM219.2 117.8h1.0v1.0h-1.0zM212.4 122.7h1.0v1.0h-1.0zM209.2 118.5h1.0v1.0h-1.0zM203.6 125.8h1.0v1.0h-1.0zM207.5 126.6h1.0v1.0h-1.0zM222.7 115.0h1.0v1.0h-1.0zM209.8 126.7h1.0v1.0h-1.0zM215.0 127.4h1.0v1.0h-1.0zM203.0 129.3h1.0v1.0h-1.0zM210.8 127.1h1.0v1.0h-1.0zM208.3 120.1h1.0v1.0h-1.0zM208.9 135.0h1.0v1.0h-1.0zM203.7 139.9h1.0v1.0h-1.0zM208.4 123.3h1.0v1.0h-1.0zM214.8 128.6h1.0v1.0h-1.0zM211.1 133.8h1.0v1.0h-1.0zM222.7 119.7h1.0v1.0h-1.0zM215.1 125.9h1.0v1.0h-1.0zM212.0 123.8h1.0v1.0h-1.0zM208.4 128.3h1.0v1.0h-1.0zM220.5 114.2h1.0v1.0h-1.0zM205.1 132.3h1.0v1.0h-1.0zM206.0 128.4h1.0v1.0h-1.0zM202.3 135.8h1.0v1.0h-1.0zM224.8 119.8h1.0v1.0h-1.0zM212.3 121.1h1.0v1.0h-1.0zM214.3 126.7h1.0v1.0h-1.0zM203.9 124.2h1.0v1.0h-1.0zM206.2 125.0h1.0v1.0h-1.0zM192.4 136.8h1.0v1.0h-1.0zM204.1 133.6h1.0v1.0h-1.0zM210.6 126.2h1.0v1.0h-1.0zM208.9 124.8h1.0v1.0h-1.0zM218.3 114.9h1.0v1.0h-1.0zM203.5 130.1h1.0v1.0h-1.0zM201.1 133.8h1.0v1.0h-1.0zM212.4 117.0h1.0v1.0h-1.0zM201.2 128.6h1.0v1.0h-1.0zM220.2 111.8h1.0v1.0h-1.0zM214.9 121.3h1.0v1.0h-1.0zM204.9 128.9h1.0v1.0h-1.0zM213.9 124.5h1.0v1.0h-1.0zM204.4 131.2h1.0v1.0h-1.0zM201.2 129.0h1.0v1.0h-1.0zM199.3 133.2h1.0v1.0h-1.0zM207.2 136.6h1.0v1.0h-1.0zM216.8 128.5h1.0v1.0h-1.0zM200.2 136.4h1.0v1.0h-1.0zM221.4 120.2h1.0v1.0h-1.0zM210.4 129.1h1.0v1.0h-1.0zM214.0 125.0h1.0v1.0h-1.0zM214.5 121.7h1.0v1.0h-1.0zM209.7 124.6h1.0v1.0h-1.0zM203.6 133.1h1.0v1.0h-1.0zM206.1 122.6h1.0v1.0h-1.0zM193.7 134.5h1.0v1.0h-1.0zM208.4 118.6h1.0v1.0h-1.0zM207.7 128.8h1.0v1.0h-1.0zM199.9 132.5h1.0v1.0h-1.0zM212.1 130.8h1.0v1.0h-1.0zM220.7 116.1h1.0v1.0h-1.0zM208.9 117.6h1.0v1.0h-1.0zM203.7 129.4h1.0v1.0h-1.0zM222.8 122.9h1.0v1.0h-1.0zM221.1 121.7h1.0v1.0h-1.0zM199.6 137.2h1.0v1.0h-1.0zM203.0 138.2h1.0v1.0h-1.0zM202.0 142.0h1.0v1.0h-1.0zM205.8 126.0h1.0v1.0h-1.0zM210.1 125.4h1.0v1.0h-1.0zM221.3 120.4h1.0v1.0h-1.0zM217.4 121.0h1.0v1.0h-1.0zM214.9 117.2h1.0v1.0h-1.0zM199.8 133.6h1.0v1.0h-1.0zM217.1 118.3h1.0v1.0h-1.0zM209.4 123.9h1.0v1.0h-1.0zM198.9 138.1h1.0v1.0h-1.0zM207.7 123.2h1.0v1.0h-1.0zM215.2 119.3h1.0v1.0h-1.0zM212.9 122.9h1.0v1.0h-1.0zM216.9 125.9h1.0v1.0h-1.0zM198.6 130.8h1.0v1.0h-1.0zM204.1 131.7h1.0v1.0h-1.0zM192.8 147.2h1.0v1.0h-1.0zM208.5 122.6h1.0v1.0h-1.0zM210.6 123.9h1.0v1.0h-1.0zM208.6 128.6h1.0v1.0h-1.0zM222.1 117.3h1.0v1.0h-1.0zM217.7 123.9h1.0v1.0h-1.0zM226.4 109.4h1.0v1.0h-1.0zM197.6 136.5h1.0v1.0h-1.0zM195.5 142.0h1.0v1.0h-1.0zM201.3 139.1h1.0v1.0h-1.0zM208.2 124.9h1.0v1.0h-1.0zM212.9 123.4h1.0v1.0h-1.0zM196.1 133.9h1.0v1.0h-1.0zM213.1 124.3h1.0v1.0h-1.0zM210.6 128.4h1.0v1.0h-1.0zM210.9 126.0h1.0v1.0h-1.0zM203.6 135.1h1.0v1.0h-1.0zM204.6 135.4h1.0v1.0h-1.0zM218.3 117.6h1.0v1.0h-1.0zM216.1 117.4h1.0v1.0h-1.0zM193.1 139.3h1.0v1.0h-1.0zM200.4 139.8h1.0v1.0h-1.0zM224.9 116.7h1.0v1.0h-1.0zM210.6 127.9h1.0v1.0h-1.0zM210.6 129.6h1.0v1.0h-1.0zM222.4 122.0h1.0v1.0h-1.0zM214.4 116.1h1.0v1.0h-1.0zM214.5 120.1h1.0v1.0h-1.0zM204.2 132.0h1.0v1.0h-1.0zM206.4 131.9h1.0v1.0h-1.0zM213.9 116.8h1.0v1.0h-1.0zM200.0 133.5h1.0v1.0h-1.0zM207.5 134.5h1.0v1.0h-1.0zM214.2 124.0h1.0v1.0h-1.0zM215.3 115.0h1.0v1.0h-1.0zM209.6 123.7h1.0v1.0h-1.0zM209.6 133.2h1.0v1.0h-1.0zM226.0 119.4h1.0v1.0h-1.0zM215.4 123.9h1.0v1.0h-1.0zM207.2 136.4h1.0v1.0h-1.0zM208.6 128.0h1.0v1.0h-1.0zM188.3 141.6h1.0v1.0h-1.0zM214.0 117.4h1.0v1.0h-1.0zM208.5 126.1h1.0v1.0h-1.0zM218.6 122.0h1.0v1.0h-1.0zM213.1 115.4h1.0v1.0h-1.0zM216.8 121.7h1.0v1.0h-1.0zM200.9 145.6h1.0v1.0h-1.0zM199.4 135.1h1.0v1.0h-1.0zM214.4 127.6h1.0v1.0h-1.0zM228.6 115.4h1.0v1.0h-1.0zM210.7 126.0h1.0v1.0h-1.0zM204.7 129.0h1.0v1.0h-1.0zM216.6 123.4h1.0v1.0h-1.0zM198.6 137.0h1.0v1.0h-1.0zM213.8 119.8h1.0v1.0h-1.0zM208.6 123.7h1.0v1.0h-1.0zM215.5 125.9h1.0v1.0h-1.0zM221.1 119.9h1.0v1.0h-1.0zM200.1 138.8h1.0v1.0h-1.0zM211.7 126.2h1.0v1.0h-1.0zM205.4 132.0h1.0v1.0h-1.0zM206.6 132.5h1.0v1.0h-1.0zM196.1 132.9h1.0v1.0h-1.0zM224.7 106.1h1.0v1.0h-1.0zM215.4 118.7h1.0v1.0h-1.0zM220.5 120.1h1.0v1.0h-1.0zM212.0 123.2h1.0v1.0h-1.0zM217.3 113.1h1.0v1.0h-1.0zM196.9 131.6h1.0v1.0h-1.0zM207.3 131.8h1.0v1.0h-1.0zM200.0 133.4h1.0v1.0h-1.0zM216.5 116.4h1.0v1.0h-1.0zM222.3 117.3h1.0v1.0h-1.0zM220.7 119.0h1.0v1.0h-1.0zM220.4 112.4h1.0v1.0h-1.0zM211.0 122.8h1.0v1.0h-1.0zM195.9 134.2h1.0v1.0h-1.0zM213.2 125.3h1.0v1.0h-1.0zM199.0 137.3h1.0v1.0h-1.0zM226.7 106.5h1.0v1.0h-1.0zM208.3 131.0h1.0v1.0h-1.0zM206.8 129.4h1.0v1.0h-1.0zM197.7 134.6h1.0v1.0h-1.0zM200.6 136.8h1.0v1.0h-1.0zM224.2 118.8h1.0v1.0h-1.0zM207.4 131.6h1.0v1.0h-1.0zM209.2 127.9h1.0v1.0h-1.0zM216.9 118.0h1.0v1.0h-1.0zM207.5 138.4h1.0v1.0h-1.0zM201.2 139.5h1.0v1.0h-1.0zM208.6 133.4h1.0v1.0h-1.0zM210.5 120.7h1.0v1.0h-1.0zM209.7 129.9h1.0v1.0h-1.0zM204.1 123.2h1.0v1.0h-1.0zM202.9 124.3h1.0v1.0h-1.0zM209.8 134.1h1.0v1.0h-1.0zM201.8 132.2h1.0v1.0h-1.0zM225.5 113.6h1.0v1.0h-1.0zM191.8 136.5h1.0v1.0h-1.0zM222.0 121.9h1.0v1.0h-1.0zM207.4 126.5h1.0v1.0h-1.0zM199.9 139.9h1.0v1.0h-1.0zM209.1 118.5h1.0v1.0h-1.0zM200.0 132.0h1.0v1.0h-1.0zM204.3 125.6h1.0v1.0h-1.0zM215.3 120.7h1.0v1.0h-1.0zM208.5 124.7h1.0v1.0h-1.0zM210.0 128.7h1.0v1.0h-1.0zM223.3 116.1h1.0v1.0h-1.0zM205.7 125.9h1.0v1.0h-1.0zM219.3 119.4h1.0v1.0h-1.0zM218.0 119.2h1.0v1.0h-1.0zM207.3 125.8h1.0v1.0h-1.0zM215.1 118.9h1.0v1.0h-1.0zM207.9 122.8h1.0v1.0h-1.0zM216.4 117.2h1.0v1.0h-1.0zM198.4 133.4h1.0v1.0h-1.0zM210.9 130.2h1.0v1.0h-1.0zM207.7 128.0h1.0v1.0h-1.0zM203.7 131.6h1.0v1.0h-1.0zM216.5 123.0h1.0v1.0h-1.0zM217.7 123.0h1.0v1.0h-1.0zM204.6 126.8h1.0v1.0h-1.0zM221.5 112.1h1.0v1.0h-1.0zM200.2 141.0h1.0v1.0h-1.0zM202.1 142.9h1.0v1.0h-1.0zM212.7 127.6h1.0v1.0h-1.0zM227.4 112.5h1.0v1.0h-1.0zM217.6 120.9h1.0v1.0h-1.0zM202.8 130.2h1.0v1.0h-1.0zM219.2 123.1h1.0v1.0h-1.0zM194.8 137.3h1.0v1.0h-1.0zM216.3 126.4h1.0v1.0h-1.0zM206.3 129.6h1.0v1.0h-1.0zM214.2 115.7h1.0v1.0h-1.0zM205.3 135.4h1.0v1.0h-1.0zM202.6 129.4h1.0v1.0h-1.0zM224.3 111.4h1.0v1.0h-1.0zM208.5 121.1h1.0v1.0h-1.0zM213.2 117.9h1.0v1.0h-1.0zM199.2 129.3h1.0v1.0h-1.0zM199.7 140.6h1.0v1.0h-1.0zM205.5 132.3h1.0v1.0h-1.0zM212.8 127.9h1.0v1.0h-1.0zM206.7 126.3h1.0v1.0h-1.0zM207.1 128.5h1.0v1.0h-1.0zM192.4 148.3h1.0v1.0h-1.0zM218.6 117.7h1.0v1.0h-1.0zM212.8 123.1h1.0v1.0h-1.0zM207.3 126.9h1.0v1.0h-1.0zM209.1 132.5h1.0v1.0h-1.0zM217.4 122.6h1.0v1.0h-1.0zM200.0 135.0h1.0v1.0h-1.0zM202.7 133.0h1.0v1.0h-1.0zM208.0 125.1h1.0v1.0h-1.0zM212.5 123.2h1.0v1.0h-1.0zM205.9 130.0h1.0v1.0h-1.0zM202.1 135.4h1.0v1.0h-1.0zM213.9 128.2h1.0v1.0h-1.0zM208.6 132.6h1.0v1.0h-1.0zM193.6 132.8h1.0v1.0h-1.0zM208.9 125.9h1.0v1.0h-1.0zM208.2 119.8h1.0v1.0h-1.0zM207.3 125.4h1.0v1.0h-1.0zM191.2 140.4h1.0v1.0h-1.0zM206.5 130.4h1.0v1.0h-1.0zM202.7 129.1h1.0v1.0h-1.0zM217.6 119.2h1.0v1.0h-1.0zM216.6 120.5h1.0v1.0h-1.0zM211.3 116.3h1.0v1.0h-1.0zM197.3 143.6h1.0v1.0h-1.0zM195.4 136.7h1.0v1.0h-1.0zM188.4 146.1h1.0v1.0h-1.0zM207.8 131.9h1.0v1.0h-1.0zM215.5 121.1h1.0v1.0h-1.0zM195.7 136.2h1.0v1.0h-1.0zM207.6 134.3h1.0v1.0h-1.0zM208.4 128.4h1.0v1.0h-1.0zM209.3 127.2h1.0v1.0h-1.0zM215.0 119.6h1.0v1.0h-1.0zM212.8 116.1h1.0v1.0h-1.0zM206.5 128.7h1.0v1.0h-1.0zM213.0 127.4h1.0v1.0h-1.0zM202.2 138.9h1.0v1.0h-1.0zM206.5 127.8h1.0v1.0h-1.0zM213.2 125.9h1.0v1.0h-1.0zM205.1 130.3h1.0v1.0h-1.0zM213.2 122.6h1.0v1.0h-1.0zM200.8 138.5h1.0v1.0h-1.0zM207.9 126.2h1.0v1.0h-1.0zM221.7 121.7h1.0v1.0h-1.0zM201.7 135.8h1.0v1.0h-1.0zM207.7 125.5h1.0v1.0h-1.0zM198.5 135.6h1.0v1.0h-1.0zM214.3 117.8h1.0v1.0h-1.0zM203.2 134.8h1.0v1.0h-1.0zM198.9 133.2h1.0v1.0h-1.0zM213.7 113.4h1.0v1.0h-1.0zM211.1 133.9h1.0v1.0h-1.0zM214.7 116.0h1.0v1.0h-1.0zM196.0 140.7h1.0v1.0h-1.0zM195.9 140.5h1.0v1.0h-1.0zM217.5 120.1h1.0v1.0h-1.0zM208.5 129.0h1.0v1.0h-1.0zM217.7 121.3h1.0v1.0h-1.0zM208.4 131.0h1.0v1.0h-1.0zM210.3 121.7h1.0v1.0h-1.0zM218.7 121.0h1.0v1.0h-1.0zM204.6 129.7h1.0v1.0h-1.0zM206.5 131.9h1.0v1.0h-1.0zM205.3 134.0h1.0v1.0h-1.0zM194.8 137.7h1.0v1.0h-1.0zM219.8 124.2h1.0v1.0h-1.0zM211.3 129.1h1.0v1.0h-1.0zM203.4 132.1h1.0v1.0h-1.0zM202.2 128.5h1.0v1.0h-1.0zM204.4 134.2h1.0v1.0h-1.0zM216.0 121.6h1.0v1.0h-1.0zM201.4 133.6h1.0v1.0h-1.0zM212.3 128.4h1.0v1.0h-1.0zM197.6 138.3h1.0v1.0h-1.0zM218.5 118.2h1.0v1.0h-1.0zM206.5 131.7h1.0v1.0h-1.0zM203.4 125.6h1.0v1.0h-1.0zM211.7 122.3h1.0v1.0h-1.0zM216.2 114.5h1.0v1.0h-1.0zM200.8 135.5h1.0v1.0h-1.0zM195.9 144.8h1.0v1.0h-1.0zM204.9 138.7h1.0v1.0h-1.0zM202.6 134.2h1.0v1.0h-1.0zM225.3 110.3h1.0v1.0h-1.0zM217.6 119.3h1.0v1.0h-1.0zM214.4 129.6h1.0v1.0h-1.0zM200.6 129.9h1.0v1.0h-1.0zM200.0 132.9h1.0v1.0h-1.0zM207.4 129.3h1.0v1.0h-1.0zM200.6 130.2h1.0v1.0h-1.0zM197.4 137.9h1.0v1.0h-1.0zM207.8 126.9h1.0v1.0h-1.0zM200.9 130.8h1.0v1.0h-1.0zM208.0 129.2h1.0v1.0h-1.0zM210.9 119.3h1.0v1.0h-1.0zM209.6 127.3h1.0v1.0h-1.0zM211.2 125.8h1.0v1.0h-1.0zM215.4 125.6h1.0v1.0h-1.0zM212.9 119.1h1.0v1.0h-1.0zM212.6 117.7h1.0v1.0h-1.0zM213.4 127.1h1.0v1.0h-1.0zM219.3 114.4h1.0v1.0h-1.0zM217.2 120.2h1.0v1.0h-1.0zM219.0 126.5h1.0v1.0h-1.0zM220.1 110.1h1.0v1.0h-1.0zM217.9 120.2h1.0v1.0h-1.0zM215.9 118.3h1.0v1.0h-1.0zM207.1 125.7h1.0v1.0h-1.0zM194.4 135.6h1.0v1.0h-1.0zM204.5 125.8h1.0v1.0h-1.0zM220.3 109.0h1.0v1.0h-1.0zM197.4 141.5h1.0v1.0h-1.0zM207.4 134.4h1.0v1.0h-1.0zM208.3 131.0h1.0v1.0h-1.0zM203.0 130.8h1.0v1.0h-1.0zM210.3 125.7h1.0v1.0h-1.0zM199.6 135.7h1.0v1.0h-1.0zM216.7 126.1h1.0v1.0h-1.0zM200.7 133.1h1.0v1.0h-1.0zM196.0 135.2h1.0v1.0h-1.0zM209.4 118.7h1.0v1.0h-1.0zM215.5 115.0h1.0v1.0h-1.0zM192.4 133.7h1.0v1.0h-1.0zM223.3 105.0h1.0v1.0h-1.0zM218.0 111.5h1.0v1.0h-1.0zM219.6 108.3h1.0v1.0h-1.0zM211.3 115.7h1.0v1.0h-1.0zM207.3 120.2h1.0v1.0h-1.0zM189.6 137.4h1.0v1.0h-1.0zM190.1 136.0h1.0v1.0h-1.0zM211.4 118.3h1.0v1.0h-1.0zM197.9 132.3h1.0v1.0h-1.0zM204.9 122.2h1.0v1.0h-1.0zM213.9 116.4h1.0v1.0h-1.0zM187.4 138.8h1.0v1.0h-1.0zM199.2 129.6h1.0v1.0h-1.0zM195.3 131.3h1.0v1.0h-1.0zM214.3 114.0h1.0v1.0h-1.0zM202.6 124.6h1.0v1.0h-1.0zM202.0 125.8h1.0v1.0h-1.0zM194.1 134.9h1.0v1.0h-1.0zM190.3 137.3h1.0v1.0h-1.0zM221.2 106.8h1.0v1.0h-1.0zM222.9 105.1h1.0v1.0h-1.0zM208.1 121.5h1.0v1.0h-1.0zM187.7 141.0h1.0v1.0h-1.0zM205.1 124.7h1.0v1.0h-1.0zM195.0 132.6h1.0v1.0h-1.0zM220.4 110.0h1.0v1.0h-1.0zM220.8 106.8h1.0v1.0h-1.0zM224.5 105.2h1.0v1.0h-1.0zM208.1 122.1h1.0v1.0h-1.0zM203.0 127.5h1.0v1.0h-1.0zM193.5 135.2h1.0v1.0h-1.0zM188.3 139.6h1.0v1.0h-1.0zM217.8 110.9h1.0v1.0h-1.0zM191.6 138.9h1.0v1.0h-1.0zM214.6 111.9h1.0v1.0h-1.0zM218.5 109.8h1.0v1.0h-1.0zM218.7 109.9h1.0v1.0h-1.0zM215.1 115.0h1.0v1.0h-1.0zM204.5 122.1h1.0v1.0h-1.0zM219.4 109.6h1.0v1.0h-1.0zM210.4 118.9h1.0v1.0h-1.0zM197.5 131.9h1.0v1.0h-1.0zM220.6 107.4h1.0v1.0h-1.0zM224.8 103.3h1.0v1.0h-1.0zM193.4 136.0h1.0v1.0h-1.0zM221.5 105.3h1.0v1.0h-1.0zM225.4 103.6h1.0v1.0h-1.0zM213.5 116.9h1.0v1.0h-1.0zM221.9 105.6h1.0v1.0h-1.0zM198.6 129.9h1.0v1.0h-1.0zM217.8 109.8h1.0v1.0h-1.0zM219.9 108.7h1.0v1.0h-1.0zM219.3 107.4h1.0v1.0h-1.0zM203.5 125.9h1.0v1.0h-1.0zM219.4 107.6h1.0v1.0h-1.0zM219.6 109.7h1.0v1.0h-1.0zM219.3 108.4h1.0v1.0h-1.0zM209.0 117.7h1.0v1.0h-1.0zM197.6 130.4h1.0v1.0h-1.0zM206.0 120.9h1.0v1.0h-1.0zM208.2 120.0h1.0v1.0h-1.0zM218.7 109.2h1.0v1.0h-1.0zM217.9 110.5h1.0v1.0h-1.0zM188.3 137.9h1.0v1.0h-1.0zM210.7 116.8h1.0v1.0h-1.0zM213.8 114.9h1.0v1.0h-1.0zM200.4 128.8h1.0v1.0h-1.0zM211.3 116.9h1.0v1.0h-1.0zM205.9 122.0h1.0v1.0h-1.0zM206.8 121.2h1.0v1.0h-1.0zM193.7 132.6h1.0v1.0h-1.0zM218.8 110.1h1.0v1.0h-1.0zM206.9 121.9h1.0v1.0h-1.0zM222.9 105.0h1.0v1.0h-1.0zM222.8 106.9h1.0v1.0h-1.0zM213.9 112.7h1.0v1.0h-1.0zM204.1 124.3h1.0v1.0h-1.0zM211.7 118.7h1.0v1.0h-1.0zM223.9 103.5h1.0v1.0h-1.0zM194.1 135.6h1.0v1.0h-1.0zM202.4 127.8h1.0v1.0h-1.0zM209.5 117.8h1.0v1.0h-1.0zM214.4 114.3h1.0v1.0h-1.0zM214.7 115.5h1.0v1.0h-1.0zM212.3 118.0h1.0v1.0h-1.0zM212.3 115.4h1.0v1.0h-1.0zM212.6 117.7h1.0v1.0h-1.0zM207.0 119.5h1.0v1.0h-1.0zM189.7 139.0h1.0v1.0h-1.0zM190.7 137.5h1.0v1.0h-1.0zM190.1 138.6h1.0v1.0h-1.0zM217.5 108.9h1.0v1.0h-1.0zM213.1 115.4h1.0v1.0h-1.0zM190.2 136.6h1.0v1.0h-1.0zM195.8 133.8h1.0v1.0h-1.0zM219.8 108.3h1.0v1.0h-1.0zM222.8 105.6h1.0v1.0h-1.0zM204.6 122.6h1.0v1.0h-1.0zM197.7 132.4h1.0v1.0h-1.0zM224.8 104.1h1.0v1.0h-1.0zM190.2 136.6h1.0v1.0h-1.0zM195.3 134.7h1.0v1.0h-1.0zM203.6 126.3h1.0v1.0h-1.0zM211.5 114.8h1.0v1.0h-1.0zM220.0 107.9h1.0v1.0h-1.0zM216.7 110.6h1.0v1.0h-1.0zM205.5 122.9h1.0v1.0h-1.0zM191.1 137.6h1.0v1.0h-1.0zM202.5 127.7h1.0v1.0h-1.0zM214.3 113.1h1.0v1.0h-1.0zM217.5 111.5h1.0v1.0h-1.0zM220.0 109.9h1.0v1.0h-1.0zM194.0 135.6h1.0v1.0h-1.0zM187.6 140.4h1.0v1.0h-1.0zM196.3 132.8h1.0v1.0h-1.0zM189.2 139.0h1.0v1.0h-1.0zM223.1 106.5h1.0v1.0h-1.0zM222.2 106.6h1.0v1.0h-1.0zM191.7 136.4h1.0v1.0h-1.0zM198.7 131.4h1.0v1.0h-1.0zM223.0 105.3h1.0v1.0h-1.0zM201.7 126.7h1.0v1.0h-1.0zM209.7 118.0h1.0v1.0h-1.0zM200.8 126.3h1.0v1.0h-1.0zM209.8 117.7h1.0v1.0h-1.0zM201.9 127.6h1.0v1.0h-1.0zM191.7 138.1h1.0v1.0h-1.0zM201.1 128.1h1.0v1.0h-1.0zM215.7 112.2h1.0v1.0h-1.0zM199.1 127.5h1.0v1.0h-1.0zM195.0 131.8h1.0v1.0h-1.0zM215.6 113.7h1.0v1.0h-1.0zM225.4 104.4h1.0v1.0h-1.0zM223.7 103.9h1.0v1.0h-1.0zM212.5 117.4h1.0v1.0h-1.0zM214.3 112.8h1.0v1.0h-1.0zM194.4 135.7h1.0v1.0h-1.0zM193.7 135.1h1.0v1.0h-1.0zM219.0 107.8h1.0v1.0h-1.0zM188.4 139.9h1.0v1.0h-1.0zM213.9 113.2h1.0v1.0h-1.0zM188.1 140.8h1.0v1.0h-1.0zM211.4 118.4h1.0v1.0h-1.0zM215.8 113.4h1.0v1.0h-1.0zM220.0 107.9h1.0v1.0h-1.0zM201.8 128.7h1.0v1.0h-1.0zM204.5 122.2h1.0v1.0h-1.0zM205.8 122.3h1.0v1.0h-1.0zM190.2 137.5h1.0v1.0h-1.0zM193.3 135.7h1.0v1.0h-1.0zM224.1 106.4h1.0v1.0h-1.0zM194.3 134.6h1.0v1.0h-1.0zM207.1 120.3h1.0v1.0h-1.0zM202.8 123.6h1.0v1.0h-1.0zM193.7 135.5h1.0v1.0h-1.0zM193.4 134.3h1.0v1.0h-1.0zM223.7 103.8h1.0v1.0h-1.0zM208.5 118.9h1.0v1.0h-1.0zM200.5 127.3h1.0v1.0h-1.0zM217.1 111.8h1.0v1.0h-1.0zM212.0 116.3h1.0v1.0h-1.0zM221.6 105.6h1.0v1.0h-1.0zM205.8 121.3h1.0v1.0h-1.0zM199.6 129.7h1.0v1.0h-1.0zM218.1 109.6h1.0v1.0h-1.0zM196.6 131.4h1.0v1.0h-1.0zM189.2 140.7h1.0v1.0h-1.0zM204.3 124.0h1.0v1.0h-1.0zM194.3 133.9h1.0v1.0h-1.0zM204.6 122.3h1.0v1.0h-1.0zM190.9 135.4h1.0v1.0h-1.0zM206.2 120.7h1.0v1.0h-1.0zM209.1 117.7h1.0v1.0h-1.0zM214.4 114.3h1.0v1.0h-1.0zM202.1 124.9h1.0v1.0h-1.0zM187.9 138.1h1.0v1.0h-1.0zM198.7 127.7h1.0v1.0h-1.0zM200.9 128.0h1.0v1.0h-1.0zM195.6 134.4h1.0v1.0h-1.0zM205.1 124.8h1.0v1.0h-1.0zM221.9 108.4h1.0v1.0h-1.0zM189.7 139.8h1.0v1.0h-1.0zM212.5 115.4h1.0v1.0h-1.0zM192.2 137.0h1.0v1.0h-1.0zM198.1 128.2h1.0v1.0h-1.0zM201.8 128.3h1.0v1.0h-1.0zM209.4 120.4h1.0v1.0h-1.0zM198.8 129.6h1.0v1.0h-1.0zM200.6 128.2h1.0v1.0h-1.0zM211.6 116.0h1.0v1.0h-1.0zM195.0 133.0h1.0v1.0h-1.0zM211.4 118.7h1.0v1.0h-1.0zM201.0 129.5h1.0v1.0h-1.0zM201.5 125.6h1.0v1.0h-1.0zM212.5 116.4h1.0v1.0h-1.0zM191.5 137.0h1.0v1.0h-1.0zM187.6 139.8h1.0v1.0h-1.0zM194.6 132.3h1.0v1.0h-1.0zM198.6 128.4h1.0v1.0h-1.0zM210.8 115.9h1.0v1.0h-1.0zM220.1 110.3h1.0v1.0h-1.0zM210.6 116.4h1.0v1.0h-1.0zM195.8 130.9h1.0v1.0h-1.0zM220.7 106.3h1.0v1.0h-1.0zM197.2 129.3h1.0v1.0h-1.0zM217.9 108.9h1.0v1.0h-1.0zM194.2 135.6h1.0v1.0h-1.0zM218.8 109.3h1.0v1.0h-1.0zM199.8 129.4h1.0v1.0h-1.0zM217.3 109.7h1.0v1.0h-1.0zM212.6 117.8h1.0v1.0h-1.0zM224.5 103.3h1.0v1.0h-1.0zM190.2 137.5h1.0v1.0h-1.0zM210.0 118.9h1.0v1.0h-1.0zM220.9 106.5h1.0v1.0h-1.0zM219.3 107.8h1.0v1.0h-1.0zM196.4 131.7h1.0v1.0h-1.0zM208.9 119.5h1.0v1.0h-1.0zM199.6 129.3h1.0v1.0h-1.0zM192.3 134.1h1.0v1.0h-1.0zM190.7 137.7h1.0v1.0h-1.0zM192.3 135.2h1.0v1.0h-1.0zM218.0 112.4h1.0v1.0h-1.0zM190.8 139.4h1.0v1.0h-1.0zM191.6 138.1h1.0v1.0h-1.0zM189.2 139.8h1.0v1.0h-1.0zM206.4 123.0h1.0v1.0h-1.0zM221.1 109.3h1.0v1.0h-1.0zM207.3 121.6h1.0v1.0h-1.0zM201.0 128.5h1.0v1.0h-1.0zM223.5 103.7h1.0v1.0h-1.0zM200.7 129.4h1.0v1.0h-1.0zM196.9 131.1h1.0v1.0h-1.0zM196.7 132.7h1.0v1.0h-1.0zM213.1 117.2h1.0v1.0h-1.0zM205.2 123.9h1.0v1.0h-1.0zM187.5 146.9h1.0v1.0h-1.0zM196.7 139.0h1.0v1.0h-1.0zM181.9 145.5h1.0v1.0h-1.0zM194.3 152.9h1.0v1.0h-1.0zM189.5 150.8h1.0v1.0h-1.0zM197.4 139.2h1.0v1.0h-1.0zM178.0 156.0h1.0v1.0h-1.0zM187.6 158.4h1.0v1.0h-1.0zM186.7 161.3h1.0v1.0h-1.0zM184.5 151.8h1.0v1.0h-1.0zM191.3 145.7h1.0v1.0h-1.0zM190.9 145.4h1.0v1.0h-1.0zM181.0 148.3h1.0v1.0h-1.0zM189.7 148.6h1.0v1.0h-1.0zM202.9 141.1h1.0v1.0h-1.0zM192.5 141.3h1.0v1.0h-1.0zM185.6 157.3h1.0v1.0h-1.0zM190.7 148.5h1.0v1.0h-1.0zM189.9 142.5h1.0v1.0h-1.0zM178.4 157.2h1.0v1.0h-1.0zM175.7 153.4h1.0v1.0h-1.0zM195.0 157.7h1.0v1.0h-1.0zM192.9 151.6h1.0v1.0h-1.0zM193.0 140.7h1.0v1.0h-1.0zM196.6 144.6h1.0v1.0h-1.0zM187.9 146.3h1.0v1.0h-1.0zM180.9 160.4h1.0v1.0h-1.0zM172.9 159.0h1.0v1.0h-1.0zM185.8 156.0h1.0v1.0h-1.0zM196.4 146.7h1.0v1.0h-1.0zM184.6 143.9h1.0v1.0h-1.0zM176.3 161.1h1.0v1.0h-1.0zM172.2 163.1h1.0v1.0h-1.0zM180.5 150.9h1.0v1.0h-1.0zM181.0 159.4h1.0v1.0h-1.0zM185.1 143.5h1.0v1.0h-1.0zM190.1 141.8h1.0v1.0h-1.0zM187.7 142.8h1.0v1.0h-1.0zM189.4 154.1h1.0v1.0h-1.0zM184.2 159.4h1.0v1.0h-1.0zM195.8 146.2h1.0v1.0h-1.0zM198.4 146.5h1.0v1.0h-1.0zM184.3 143.3h1.0v1.0h-1.0zM192.6 148.7h1.0v1.0h-1.0zM177.1 151.2h1.0v1.0h-1.0zM197.2 142.2h1.0v1.0h-1.0zM174.4 154.2h1.0v1.0h-1.0zM175.3 159.6h1.0v1.0h-1.0zM168.0 157.3h1.0v1.0h-1.0zM184.0 153.2h1.0v1.0h-1.0zM191.0 159.1h1.0v1.0h-1.0zM175.4 156.3h1.0v1.0h-1.0zM185.1 145.0h1.0v1.0h-1.0zM193.1 147.9h1.0v1.0h-1.0zM186.0 163.0h1.0v1.0h-1.0zM179.1 162.0h1.0v1.0h-1.0zM200.3 139.1h1.0v1.0h-1.0zM190.8 153.5h1.0v1.0h-1.0zM188.9 147.0h1.0v1.0h-1.0zM187.3 155.3h1.0v1.0h-1.0zM191.1 147.4h1.0v1.0h-1.0zM190.0 155.1h1.0v1.0h-1.0zM192.5 146.0h1.0v1.0h-1.0zM190.1 158.2h1.0v1.0h-1.0zM181.4 145.0h1.0v1.0h-1.0zM186.5 157.9h1.0v1.0h-1.0zM183.1 162.6h1.0v1.0h-1.0zM192.9 146.6h1.0v1.0h-1.0zM184.6 163.4h1.0v1.0h-1.0zM187.6 159.3h1.0v1.0h-1.0zM187.8 144.6h1.0v1.0h-1.0zM186.7 142.7h1.0v1.0h-1.0zM198.3 148.9h1.0v1.0h-1.0zM191.1 144.6h1.0v1.0h-1.0zM188.0 152.2h1.0v1.0h-1.0zM182.6 152.2h1.0v1.0h-1.0zM179.0 153.9h1.0v1.0h-1.0zM182.1 155.0h1.0v1.0h-1.0zM190.9 148.3h1.0v1.0h-1.0zM180.0 149.6h1.0v1.0h-1.0zM186.8 158.3h1.0v1.0h-1.0zM184.5 154.8h1.0v1.0h-1.0zM186.9 152.6h1.0v1.0h-1.0zM194.4 144.8h1.0v1.0h-1.0zM185.3 160.1h1.0v1.0h-1.0zM173.7 159.7h1.0v1.0h-1.0zM175.6 155.0h1.0v1.0h-1.0zM190.3 155.6h1.0v1.0h-1.0zM189.8 153.6h1.0v1.0h-1.0zM188.8 149.6h1.0v1.0h-1.0zM176.7 149.8h1.0v1.0h-1.0zM186.6 148.6h1.0v1.0h-1.0zM189.3 162.9h1.0v1.0h-1.0zM182.6 157.6h1.0v1.0h-1.0zM194.7 148.0h1.0v1.0h-1.0zM183.8 163.2h1.0v1.0h-1.0zM189.2 157.6h1.0v1.0h-1.0zM187.4 152.1h1.0v1.0h-1.0zM183.2 155.7h1.0v1.0h-1.0zM177.3 149.8h1.0v1.0h-1.0zM176.8 151.7h1.0v1.0h-1.0zM190.7 146.8h1.0v1.0h-1.0zM192.3 151.7h1.0v1.0h-1.0zM181.3 162.2h1.0v1.0h-1.0zM180.0 156.7h1.0v1.0h-1.0zM182.2 152.0h1.0v1.0h-1.0zM190.0 145.9h1.0v1.0h-1.0zM195.1 150.2h1.0v1.0h-1.0zM172.6 165.3h1.0v1.0h-1.0zM188.8 150.6h1.0v1.0h-1.0zM184.8 149.4h1.0v1.0h-1.0zM181.0 162.2h1.0v1.0h-1.0zM202.4 144.8h1.0v1.0h-1.0zM182.1 157.8h1.0v1.0h-1.0zM185.6 166.0h1.0v1.0h-1.0zM189.8 144.5h1.0v1.0h-1.0zM184.8 147.8h1.0v1.0h-1.0zM182.3 157.1h1.0v1.0h-1.0zM190.1 151.6h1.0v1.0h-1.0zM183.6 163.2h1.0v1.0h-1.0zM197.2 129.9h1.0v1.0h-1.0zM190.1 149.7h1.0v1.0h-1.0zM186.2 150.3h1.0v1.0h-1.0zM188.4 152.8h1.0v1.0h-1.0zM186.0 150.5h1.0v1.0h-1.0zM193.1 146.7h1.0v1.0h-1.0zM198.3 144.9h1.0v1.0h-1.0zM171.2 159.6h1.0v1.0h-1.0zM185.2 143.2h1.0v1.0h-1.0zM195.2 143.9h1.0v1.0h-1.0zM191.9 142.3h1.0v1.0h-1.0zM192.4 142.2h1.0v1.0h-1.0zM182.4 155.8h1.0v1.0h-1.0zM181.8 154.4h1.0v1.0h-1.0zM177.1 156.1h1.0v1.0h-1.0zM187.5 150.0h1.0v1.0h-1.0zM185.1 149.2h1.0v1.0h-1.0zM193.9 145.7h1.0v1.0h-1.0zM183.9 151.1h1.0v1.0h-1.0zM189.2 152.6h1.0v1.0h-1.0zM200.6 149.0h1.0v1.0h-1.0zM183.1 156.9h1.0v1.0h-1.0zM190.9 151.6h1.0v1.0h-1.0zM182.2 159.1h1.0v1.0h-1.0zM192.0 150.9h1.0v1.0h-1.0zM189.8 148.7h1.0v1.0h-1.0zM181.8 154.2h1.0v1.0h-1.0zM187.9 155.6h1.0v1.0h-1.0zM199.7 141.3h1.0v1.0h-1.0zM188.5 153.7h1.0v1.0h-1.0zM181.4 149.2h1.0v1.0h-1.0zM189.7 150.6h1.0v1.0h-1.0zM196.1 143.9h1.0v1.0h-1.0zM196.3 148.1h1.0v1.0h-1.0zM190.0 154.9h1.0v1.0h-1.0zM192.3 148.9h1.0v1.0h-1.0zM184.5 158.6h1.0v1.0h-1.0zM184.2 152.8h1.0v1.0h-1.0zM187.8 148.8h1.0v1.0h-1.0zM190.7 153.5h1.0v1.0h-1.0zM178.5 155.1h1.0v1.0h-1.0zM191.9 152.0h1.0v1.0h-1.0zM188.5 154.7h1.0v1.0h-1.0zM184.5 151.5h1.0v1.0h-1.0zM198.5 148.7h1.0v1.0h-1.0zM184.8 151.6h1.0v1.0h-1.0zM189.0 151.0h1.0v1.0h-1.0zM188.4 153.5h1.0v1.0h-1.0zM188.8 153.3h1.0v1.0h-1.0zM180.4 151.4h1.0v1.0h-1.0zM190.0 145.7h1.0v1.0h-1.0zM191.0 153.8h1.0v1.0h-1.0zM190.5 154.5h1.0v1.0h-1.0zM178.2 157.8h1.0v1.0h-1.0zM194.1 138.2h1.0v1.0h-1.0zM196.0 153.9h1.0v1.0h-1.0zM179.8 154.9h1.0v1.0h-1.0zM184.4 156.2h1.0v1.0h-1.0zM199.5 142.7h1.0v1.0h-1.0zM183.3 152.1h1.0v1.0h-1.0zM173.3 162.3h1.0v1.0h-1.0zM189.2 149.0h1.0v1.0h-1.0zM185.6 149.8h1.0v1.0h-1.0zM181.3 160.6h1.0v1.0h-1.0zM179.6 150.8h1.0v1.0h-1.0zM184.4 158.1h1.0v1.0h-1.0zM179.8 156.9h1.0v1.0h-1.0zM194.4 152.5h1.0v1.0h-1.0zM184.8 145.7h1.0v1.0h-1.0zM184.7 152.4h1.0v1.0h-1.0zM182.5 155.0h1.0v1.0h-1.0zM194.8 155.4h1.0v1.0h-1.0zM192.7 148.3h1.0v1.0h-1.0zM182.4 151.2h1.0v1.0h-1.0zM184.2 142.9h1.0v1.0h-1.0zM198.7 144.1h1.0v1.0h-1.0zM186.7 150.9h1.0v1.0h-1.0zM184.3 158.7h1.0v1.0h-1.0zM177.3 166.4h1.0v1.0h-1.0zM202.6 149.9h1.0v1.0h-1.0zM181.5 154.4h1.0v1.0h-1.0zM183.2 150.4h1.0v1.0h-1.0zM181.0 158.4h1.0v1.0h-1.0zM189.5 163.0h1.0v1.0h-1.0zM182.1 148.1h1.0v1.0h-1.0zM180.1 162.3h1.0v1.0h-1.0zM188.8 151.8h1.0v1.0h-1.0zM188.9 154.4h1.0v1.0h-1.0zM191.4 148.7h1.0v1.0h-1.0zM187.5 144.1h1.0v1.0h-1.0zM190.6 149.4h1.0v1.0h-1.0zM185.0 150.8h1.0v1.0h-1.0zM191.3 147.9h1.0v1.0h-1.0zM189.5 157.7h1.0v1.0h-1.0zM174.1 157.9h1.0v1.0h-1.0zM185.7 142.5h1.0v1.0h-1.0zM183.9 156.8h1.0v1.0h-1.0zM198.7 151.3h1.0v1.0h-1.0zM187.5 152.9h1.0v1.0h-1.0zM185.0 156.9h1.0v1.0h-1.0zM178.9 155.0h1.0v1.0h-1.0zM184.8 156.1h1.0v1.0h-1.0zM179.2 155.5h1.0v1.0h-1.0zM189.2 161.6h1.0v1.0h-1.0zM191.1 153.9h1.0v1.0h-1.0zM178.5 160.2h1.0v1.0h-1.0zM201.4 136.4h1.0v1.0h-1.0zM181.0 158.7h1.0v1.0h-1.0zM179.7 149.4h1.0v1.0h-1.0zM195.2 140.3h1.0v1.0h-1.0zM181.9 151.7h1.0v1.0h-1.0zM187.3 161.7h1.0v1.0h-1.0zM196.4 143.1h1.0v1.0h-1.0zM189.9 145.9h1.0v1.0h-1.0zM184.2 150.0h1.0v1.0h-1.0zM182.1 158.1h1.0v1.0h-1.0zM187.3 151.2h1.0v1.0h-1.0z" fill="#0a0aff"/>
<path d="M160.2 135.0h1.0v1.0h-1.0zM159.5 141.8h1.0v1.0h-1.0zM170.4 129.7h1.0v1.0h-1.0zM183.1 115.4h1.0v1.0h-1.0zM167.2 123.9h1.0v1.0h-1.0zM169.8 128.4h1.0v1.0h-1.0zM154.3 144.1h1.0v1.0h-1.0zM172.2 124.6h1.0v1.0h-1.0zM155.8 144.5h1.0v1.0h-1.0zM180.1 114.0h1.0v1.0h-1.0zM169.5 119.3h1.0v1.0h-1.0zM173.5 119.0h1.0v1.0h-1.0zM156.1 144.9h1.0v1.0h-1.0zM169.0 129.8h1.0v1.0h-1.0zM178.7 113.2h1.0v1.0h-1.0zM175.0 124.0h1.0v1.0h-1.0zM166.2 127.9h1.0v1.0h-1.0zM182.9 111.2h1.0v1.0h-1.0zM154.3 135.6h1.0v1.0h-1.0zM170.5 124.8h1.0v1.0h-1.0zM162.7 128.1h1.0v1.0h-1.0zM187.7 108.7h1.0v1.0h-1.0zM176.6 117.3h1.0v1.0h-1.0zM185.5 106.0h1.0v1.0h-1.0zM159.8 133.0h1.0v1.0h-1.0zM165.0 134.3h1.0v1.0h-1.0zM179.5 117.1h1.0v1.0h-1.0zM161.5 134.9h1.0v1.0h-1.0zM162.1 132.5h1.0v1.0h-1.0zM182.9 108.3h1.0v1.0h-1.0zM172.0 120.9h1.0v1.0h-1.0zM182.7 113.3h1.0v1.0h-1.0zM165.2 130.1h1.0v1.0h-1.0zM174.4 115.4h1.0v1.0h-1.0zM185.2 107.6h1.0v1.0h-1.0zM153.0 138.3h1.0v1.0h-1.0zM177.9 121.5h1.0v1.0h-1.0zM161.4 140.1h1.0v1.0h-1.0zM155.1 142.2h1.0v1.0h-1.0zM170.7 118.9h1.0v1.0h-1.0zM156.7 138.1h1.0v1.0h-1.0zM168.9 131.4h1.0v1.0h-1.0zM157.0 140.8h1.0v1.0h-1.0zM185.1 108.3h1.0v1.0h-1.0zM167.6 125.5h1.0v1.0h-1.0zM173.6 115.5h1.0v1.0h-1.0zM185.9 112.6h1.0v1.0h-1.0zM156.8 136.0h1.0v1.0h-1.0zM172.7 123.0h1.0v1.0h-1.0zM162.9 125.7h1.0v1.0h-1.0zM156.7 142.2h1.0v1.0h-1.0zM154.8 143.3h1.0v1.0h-1.0zM166.8 124.3h1.0v1.0h-1.0zM188.5 110.5h1.0v1.0h-1.0zM179.0 111.2h1.0v1.0h-1.0zM163.1 131.0h1.0v1.0h-1.0zM183.0 115.5h1.0v1.0h-1.0zM167.6 122.8h1.0v1.0h-1.0zM169.0 128.2h1.0v1.0h-1.0zM161.9 130.4h1.0v1.0h-1.0zM155.2 136.5h1.0v1.0h-1.0zM158.6 135.8h1.0v1.0h-1.0zM182.3 107.2h1.0v1.0h-1.0zM185.1 104.6h1.0v1.0h-1.0zM186.0 110.4h1.0v1.0h-1.0zM180.2 108.3h1.0v1.0h-1.0zM186.1 109.6h1.0v1.0h-1.0zM156.6 134.0h1.0v1.0h-1.0zM156.7 141.2h1.0v1.0h-1.0zM182.3 110.6h1.0v1.0h-1.0zM159.3 132.0h1.0v1.0h-1.0zM156.9 136.6h1.0v1.0h-1.0zM157.4 142.0h1.0v1.0h-1.0zM175.7 123.4h1.0v1.0h-1.0zM176.7 114.4h1.0v1.0h-1.0zM167.3 131.3h1.0v1.0h-1.0zM180.8 110.5h1.0v1.0h-1.0zM180.9 116.7h1.0v1.0h-1.0zM160.0 138.9h1.0v1.0h-1.0zM167.3 120.4h1.0v1.0h-1.0zM167.6 123.0h1.0v1.0h-1.0zM171.9 123.2h1.0v1.0h-1.0zM176.3 118.7h1.0v1.0h-1.0zM178.4 114.3h1.0v1.0h-1.0zM161.6 131.4h1.0v1.0h-1.0zM161.2 138.8h1.0v1.0h-1.0zM174.1 119.3h1.0v1.0h-1.0zM179.4 109.5h1.0v1.0h-1.0zM153.9 137.8h1.0v1.0h-1.0zM185.8 107.1h1.0v1.0h-1.0zM163.4 132.8h1.0v1.0h-1.0zM179.4 109.6h1.0v1.0h-1.0zM170.4 119.1h1.0v1.0h-1.0zM154.8 144.1h1.0v1.0h-1.0zM171.3 123.3h1.0v1.0h-1.0zM152.2 141.3h1.0v1.0h-1.0zM166.4 122.7h1.0v1.0h-1.0zM156.7 143.5h1.0v1.0h-1.0zM179.1 114.1h1.0v1.0h-1.0zM156.5 142.3h1.0v1.0h-1.0zM182.1 108.1h1.0v1.0h-1.0zM169.9 121.9h1.0v1.0h-1.0zM184.2 104.3h1.0v1.0h-1.0zM168.0 123.2h1.0v1.0h-1.0zM178.8 116.4h1.0v1.0h-1.0zM158.2 141.5h1.0v1.0h-1.0zM159.4 131.2h1.0v1.0h-1.0zM185.9 105.7h1.0v1.0h-1.0zM176.6 116.9h1.0v1.0h-1.0zM181.5 108.9h1.0v1.0h-1.0zM162.0 128.9h1.0v1.0h-1.0zM174.0 125.9h1.0v1.0h-1.0zM179.8 117.3h1.0v1.0h-1.0zM153.2 139.1h1.0v1.0h-1.0zM173.5 119.4h1.0v1.0h-1.0zM162.9 136.5h1.0v1.0h-1.0zM166.8 130.1h1.0v1.0h-1.0zM166.6 133.1h1.0v1.0h-1.0zM158.3 135.7h1.0v1.0h-1.0zM182.9 110.2h1.0v1.0h-1.0zM176.0 113.4h1.0v1.0h-1.0zM184.0 106.9h1.0v1.0h-1.0zM163.8 126.2h1.0v1.0h-1.0zM185.8 111.8h1.0v1.0h-1.0zM160.9 136.4h1.0v1.0h-1.0zM186.2 106.0h1.0v1.0h-1.0zM165.3 130.2h1.0v1.0h-1.0zM157.2 137.3h1.0v1.0h-1.0zM173.8 117.5h1.0v1.0h-1.0zM170.7 118.6h1.0v1.0h-1.0zM173.4 117.3h1.0v1.0h-1.0zM168.5 121.5h1.0v1.0h-1.0zM182.0 107.9h1.0v1.0h-1.0zM167.3 131.0h1.0v1.0h-1.0zM154.3 137.3h1.0v1.0h-1.0zM152.6 145.0h1.0v1.0h-1.0zM166.0 130.1h1.0v1.0h-1.0zM154.0 138.8h1.0v1.0h-1.0zM172.6 124.9h1.0v1.0h-1.0zM167.1 130.7h1.0v1.0h-1.0zM156.0 141.3h1.0v1.0h-1.0zM175.8 115.4h1.0v1.0h-1.0zM184.7 113.3h1.0v1.0h-1.0zM159.7 140.2h1.0v1.0h-1.0zM180.9 113.2h1.0v1.0h-1.0zM165.6 131.5h1.0v1.0h-1.0zM156.2 144.3h1.0v1.0h-1.0zM172.5 124.2h1.0v1.0h-1.0zM154.2 141.0h1.0v1.0h-1.0zM181.7 110.7h1.0v1.0h-1.0zM171.3 118.1h1.0v1.0h-1.0zM162.5 132.4h1.0v1.0h-1.0zM176.7 118.9h1.0v1.0h-1.0zM166.1 122.9h1.0v1.0h-1.0zM185.2 109.7h1.0v1.0h-1.0zM174.7 115.4h1.0v1.0h-1.0zM185.0 111.0h1.0v1.0h-1.0zM160.4 133.1h1.0v1.0h-1.0zM183.1 104.9h1.0v1.0h-1.0zM158.4 135.0h1.0v1.0h-1.0zM166.1 129.8h1.0v1.0h-1.0zM164.6 133.3h1.0v1.0h-1.0zM170.9 118.2h1.0v1.0h-1.0zM169.2 128.2h1.0v1.0h-1.0zM159.2 142.5h1.0v1.0h-1.0zM181.0 105.2h1.0v1.0h-1.0zM179.0 117.2h1.0v1.0h-1.0zM159.6 138.3h1.0v1.0h-1.0zM163.9 133.0h1.0v1.0h-1.0zM173.6 122.6h1.0v1.0h-1.0zM180.0 108.6h1.0v1.0h-1.0zM186.4 107.9h1.0v1.0h-1.0zM173.6 120.8h1.0v1.0h-1.0zM174.2 125.9h1.0v1.0h-1.0zM166.4 128.5h1.0v1.0h-1.0zM155.3 136.6h1.0v1.0h-1.0zM161.4 131.5h1.0v1.0h-1.0zM160.9 131.8h1.0v1.0h-1.0zM161.6 136.4h1.0v1.0h-1.0zM175.0 118.2h1.0v1.0h-1.0zM178.4 115.0h1.0v1.0h-1.0zM176.9 110.2h1.0v1.0h-1.0zM161.0 133.7h1.0v1.0h-1.0zM154.1 144.9h1.0v1.0h-1.0zM170.2 122.1h1.0v1.0h-1.0zM159.0 130.4h1.0v1.0h-1.0zM175.9 114.9h1.0v1.0h-1.0zM187.4 106.1h1.0v1.0h-1.0zM182.4 111.4h1.0v1.0h-1.0zM159.7 131.0h1.0v1.0h-1.0zM175.1 116.9h1.0v1.0h-1.0zM182.6 110.8h1.0v1.0h-1.0zM164.6 125.0h1.0v1.0h-1.0zM158.1 140.4h1.0v1.0h-1.0zM178.1 118.8h1.0v1.0h-1.0zM185.3 110.2h1.0v1.0h-1.0zM170.9 119.7h1.0v1.0h-1.0zM170.3 129.2h1.0v1.0h-1.0zM184.9 110.1h1.0v1.0h-1.0zM159.8 135.3h1.0v1.0h-1.0zM162.0 136.5h1.0v1.0h-1.0zM164.0 126.6h1.0v1.0h-1.0zM169.0 125.4h1.0v1.0h-1.0zM171.0 120.1h1.0v1.0h-1.0zM167.6 130.5h1.0v1.0h-1.0zM178.9 114.9h1.0v1.0h-1.0zM179.7 110.9h1.0v1.0h-1.0zM181.1 104.6h1.0v1.0h-1.0zM178.9 107.2h1.0v1.0h-1.0zM177.9 116.8h1.0v1.0h-1.0zM158.3 137.5h1.0v1.0h-1.0zM161.1 134.0h1.0v1.0h-1.0zM168.0 122.9h1.0v1.0h-1.0zM180.8 107.5h1.0v1.0h-1.0zM175.5 117.5h1.0v1.0h-1.0zM157.8 138.7h1.0v1.0h-1.0zM186.1 107.7h1.0v1.0h-1.0zM186.5 111.5h1.0v1.0h-1.0zM169.8 127.7h1.0v1.0h-1.0zM184.2 113.5h1.0v1.0h-1.0zM166.6 121.9h1.0v1.0h-1.0zM154.9 140.4h1.0v1.0h-1.0zM169.1 119.2h1.0v1.0h-1.0zM166.6 120.7h1.0v1.0h-1.0zM165.1 127.3h1.0v1.0h-1.0zM163.8 131.8h1.0v1.0h-1.0zM169.6 123.0h1.0v1.0h-1.0zM163.5 127.1h1.0v1.0h-1.0zM167.4 127.3h1.0v1.0h-1.0zM171.9 122.0h1.0v1.0h-1.0zM185.7 104.3h1.0v1.0h-1.0zM180.1 112.8h1.0v1.0h-1.0zM184.2 108.2h1.0v1.0h-1.0zM161.8 135.3h1.0v1.0h-1.0zM159.4 138.1h1.0v1.0h-1.0zM154.0 143.5h1.0v1.0h-1.0zM163.8 133.4h1.0v1.0h-1.0zM159.2 131.5h1.0v1.0h-1.0zM168.8 132.2h1.0v1.0h-1.0zM154.2 140.4h1.0v1.0h-1.0zM158.5 131.9h1.0v1.0h-1.0zM184.1 106.1h1.0v1.0h-1.0zM163.0 126.3h1.0v1.0h-1.0zM165.4 127.1h1.0v1.0h-1.0zM155.9 140.5h1.0v1.0h-1.0zM161.4 127.4h1.0v1.0h-1.0zM161.6 134.2h1.0v1.0h-1.0zM167.8 127.8h1.0v1.0h-1.0zM174.8 120.0h1.0v1.0h-1.0zM159.4 136.6h1.0v1.0h-1.0zM160.8 138.9h1.0v1.0h-1.0zM158.5 140.7h1.0v1.0h-1.0zM155.5 134.5h1.0v1.0h-1.0zM186.8 111.6h1.0v1.0h-1.0zM173.2 122.5h1.0v1.0h-1.0zM168.0 123.7h1.0v1.0h-1.0zM156.4 141.3h1.0v1.0h-1.0zM167.7 122.0h1.0v1.0h-1.0zM168.3 123.6h1.0v1.0h-1.0zM179.7 118.1h1.0v1.0h-1.0zM171.9 125.6h1.0v1.0h-1.0zM169.5 130.5h1.0v1.0h-1.0zM172.6 124.9h1.0v1.0h-1.0zM153.7 141.9h1.0v1.0h-1.0zM157.0 135.5h1.0v1.0h-1.0zM160.8 137.5h1.0v1.0h-1.0zM179.6 107.4h1.0v1.0h-1.0zM177.8 115.9h1.0v1.0h-1.0zM152.8 140.0h1.0v1.0h-1.0zM165.9 127.1h1.0v1.0h-1.0zM169.5 119.8h1.0v1.0h-1.0zM164.4 131.8h1.0v1.0h-1.0zM182.1 110.1h1.0v1.0h-1.0zM163.5 129.9h1.0v1.0h-1.0zM168.9 123.7h1.0v1.0h-1.0zM185.3 106.9h1.0v1.0h-1.0zM187.1 105.0h1.0v1.0h-1.0zM167.8 122.3h1.0v1.0h-1.0zM168.9 122.9h1.0v1.0h-1.0zM157.6 142.1h1.0v1.0h-1.0zM152.8 136.2h1.0v1.0h-1.0zM173.9 113.5h1.0v1.0h-1.0zM158.9 141.9h1.0v1.0h-1.0zM155.2 136.3h1.0v1.0h-1.0zM179.9 116.3h1.0v1.0h-1.0zM174.0 120.0h1.0v1.0h-1.0zM170.9 128.3h1.0v1.0h-1.0zM157.2 132.0h1.0v1.0h-1.0zM182.7 112.0h1.0v1.0h-1.0zM160.3 127.6h1.0v1.0h-1.0zM169.9 123.6h1.0v1.0h-1.0zM164.2 128.8h1.0v1.0h-1.0zM172.3 126.7h1.0v1.0h-1.0zM161.6 138.8h1.0v1.0h-1.0zM180.2 109.8h1.0v1.0h-1.0zM162.2 136.7h1.0v1.0h-1.0zM172.3 121.5h1.0v1.0h-1.0zM179.8 113.5h1.0v1.0h-1.0zM179.7 110.0h1.0v1.0h-1.0zM182.2 112.6h1.0v1.0h-1.0zM171.4 124.5h1.0v1.0h-1.0zM187.2 108.2h1.0v1.0h-1.0zM165.1 132.8h1.0v1.0h-1.0zM168.5 129.3h1.0v1.0h-1.0zM180.9 115.4h1.0v1.0h-1.0zM173.3 115.5h1.0v1.0h-1.0zM155.9 138.9h1.0v1.0h-1.0zM155.3 140.5h1.0v1.0h-1.0zM155.4 143.9h1.0v1.0h-1.0zM157.5 137.6h1.0v1.0h-1.0zM169.8 128.7h1.0v1.0h-1.0zM171.9 128.5h1.0v1.0h-1.0zM170.4 127.7h1.0v1.0h-1.0zM176.0 114.0h1.0v1.0h-1.0zM185.5 111.0h1.0v1.0h-1.0zM163.6 129.7h1.0v1.0h-1.0zM156.0 132.8h1.0v1.0h-1.0zM153.9 142.5h1.0v1.0h-1.0zM179.7 112.3h1.0v1.0h-1.0zM175.2 115.4h1.0v1.0h-1.0zM159.6 142.4h1.0v1.0h-1.0zM180.2 119.2h1.0v1.0h-1.0zM177.2 118.7h1.0v1.0h-1.0zM176.4 114.0h1.0v1.0h-1.0zM185.5 104.9h1.0v1.0h-1.0zM175.8 121.7h1.0v1.0h-1.0zM162.3 134.7h1.0v1.0h-1.0zM160.0 130.1h1.0v1.0h-1.0zM170.6 128.1h1.0v1.0h-1.0zM185.0 112.5h1.0v1.0h-1.0zM153.9 143.8h1.0v1.0h-1.0zM162.6 126.5h1.0v1.0h-1.0zM170.0 124.2h1.0v1.0h-1.0zM189.3 107.3h1.0v1.0h-1.0zM179.0 117.4h1.0v1.0h-1.0zM156.4 140.1h1.0v1.0h-1.0zM156.1 140.0h1.0v1.0h-1.0zM175.8 110.7h1.0v1.0h-1.0zM186.6 110.3h1.0v1.0h-1.0zM183.9 108.1h1.0v1.0h-1.0zM155.2 144.7h1.0v1.0h-1.0zM155.7 143.4h1.0v1.0h-1.0zM183.1 115.1h1.0v1.0h-1.0zM173.4 113.0h1.0v1.0h-1.0zM185.0 105.1h1.0v1.0h-1.0zM163.7 130.0h1.0v1.0h-1.0zM180.4 113.7h1.0v1.0h-1.0zM178.8 118.0h1.0v1.0h-1.0zM155.1 140.2h1.0v1.0h-1.0zM164.5 124.5h1.0v1.0h-1.0zM188.5 110.5h1.0v1.0h-1.0zM184.5 107.3h1.0v1.0h-1.0zM159.7 137.2h1.0v1.0h-1.0zM162.8 136.0h1.0v1.0h-1.0zM180.6 110.7h1.0v1.0h-1.0zM158.1 132.8h1.0v1.0h-1.0zM171.4 127.1h1.0v1.0h-1.0zM174.4 114.9h1.0v1.0h-1.0zM164.4 131.4h1.0v1.0h-1.0zM181.8 105.2h1.0v1.0h-1.0zM183.1 113.6h1.0v1.0h-1.0zM159.9 139.8h1.0v1.0h-1.0zM159.1 135.5h1.0v1.0h-1.0zM170.9 117.6h1.0v1.0h-1.0zM163.2 132.7h1.0v1.0h-1.0zM178.3 111.9h1.0v1.0h-1.0zM181.0 117.5h1.0v1.0h-1.0zM166.9 122.1h1.0v1.0h-1.0zM169.9 128.4h1.0v1.0h-1.0zM156.2 134.9h1.0v1.0h-1.0zM178.2 121.8h1.0v1.0h-1.0zM179.3 109.1h1.0v1.0h-1.0zM178.6 107.9h1.0v1.0h-1.0zM168.0 131.9h1.0v1.0h-1.0zM184.6 107.0h1.0v1.0h-1.0zM155.3 142.1h1.0v1.0h-1.0zM175.4 113.9h1.0v1.0h-1.0zM165.0 128.4h1.0v1.0h-1.0zM173.2 117.7h1.0v1.0h-1.0zM174.9 115.3h1.0v1.0h-1.0zM169.3 120.8h1.0v1.0h-1.0zM157.8 138.2h1.0v1.0h-1.0zM176.6 119.7h1.0v1.0h-1.0zM181.4 113.6h1.0v1.0h-1.0zM183.5 105.8h1.0v1.0h-1.0zM175.8 121.1h1.0v1.0h-1.0zM176.0 120.6h1.0v1.0h-1.0zM158.3 140.5h1.0v1.0h-1.0zM178.9 110.1h1.0v1.0h-1.0zM154.2 140.5h1.0v1.0h-1.0zM168.1 119.8h1.0v1.0h-1.0zM157.5 138.1h1.0v1.0h-1.0zM185.2 110.6h1.0v1.0h-1.0zM172.2 122.1h1.0v1.0h-1.0zM167.2 123.0h1.0v1.0h-1.0zM159.9 129.3h1.0v1.0h-1.0zM172.9 122.5h1.0v1.0h-1.0zM177.5 114.7h1.0v1.0h-1.0zM169.7 122.1h1.0v1.0h-1.0zM160.6 139.2h1.0v1.0h-1.0zM175.4 121.3h1.0v1.0h-1.0zM185.2 112.7h1.0v1.0h-1.0zM158.9 132.4h1.0v1.0h-1.0zM179.7 118.4h1.0v1.0h-1.0zM156.5 141.3h1.0v1.0h-1.0zM159.3 132.8h1.0v1.0h-1.0zM178.9 118.4h1.0v1.0h-1.0zM156.2 143.6h1.0v1.0h-1.0zM178.7 119.6h1.0v1.0h-1.0zM166.1 124.5h1.0v1.0h-1.0zM168.2 124.3h1.0v1.0h-1.0zM157.3 138.1h1.0v1.0h-1.0zM167.6 123.0h1.0v1.0h-1.0zM176.8 111.6h1.0v1.0h-1.0zM176.0 122.5h1.0v1.0h-1.0zM181.8 114.5h1.0v1.0h-1.0zM169.3 130.3h1.0v1.0h-1.0zM175.6 117.4h1.0v1.0h-1.0zM169.3 119.2h1.0v1.0h-1.0zM182.2 108.4h1.0v1.0h-1.0zM171.7 124.2h1.0v1.0h-1.0zM166.5 126.7h1.0v1.0h-1.0zM168.9 119.6h1.0v1.0h-1.0zM165.6 129.8h1.0v1.0h-1.0zM183.8 109.6h1.0v1.0h-1.0zM158.6 132.2h1.0v1.0h-1.0zM180.4 113.3h1.0v1.0h-1.0zM165.2 125.0h1.0v1.0h-1.0zM153.1 138.9h1.0v1.0h-1.0zM183.5 112.1h1.0v1.0h-1.0zM178.2 112.0h1.0v1.0h-1.0zM177.2 118.6h1.0v1.0h-1.0zM161.1 130.8h1.0v1.0h-1.0zM173.8 122.0h1.0v1.0h-1.0zM172.3 119.6h1.0v1.0h-1.0zM164.3 128.7h1.0v1.0h-1.0zM181.0 108.7h1.0v1.0h-1.0zM171.8 125.7h1.0v1.0h-1.0zM163.6 131.0h1.0v1.0h-1.0zM157.5 134.3h1.0v1.0h-1.0zM160.5 138.1h1.0v1.0h-1.0zM167.4 123.7h1.0v1.0h-1.0zM169.6 128.5h1.0v1.0h-1.0zM178.4 112.7h1.0v1.0h-1.0zM162.1 128.0h1.0v1.0h-1.0zM176.9 118.3h1.0v1.0h-1.0zM163.4 136.3h1.0v1.0h-1.0zM169.6 118.1h1.0v1.0h-1.0zM169.8 128.0h1.0v1.0h-1.0zM169.8 117.9h1.0v1.0h-1.0zM154.8 142.6h1.0v1.0h-1.0zM178.0 113.0h1.0v1.0h-1.0zM162.0 131.4h1.0v1.0h-1.0zM174.4 120.7h1.0v1.0h-1.0zM186.7 108.3h1.0v1.0h-1.0zM160.4 138.8h1.0v1.0h-1.0zM185.3 106.9h1.0v1.0h-1.0zM155.5 135.7h1.0v1.0h-1.0zM159.1 138.1h1.0v1.0h-1.0zM184.8 113.1h1.0v1.0h-1.0zM181.0 117.6h1.0v1.0h-1.0zM157.5 141.7h1.0v1.0h-1.0zM166.5 123.2h1.0v1.0h-1.0zM176.1 120.8h1.0v1.0h-1.0zM185.2 108.1h1.0v1.0h-1.0zM177.2 111.3h1.0v1.0h-1.0zM177.2 116.2h1.0v1.0h-1.0zM184.3 106.7h1.0v1.0h-1.0zM175.5 118.9h1.0v1.0h-1.0zM162.0 138.0h1.0v1.0h-1.0zM170.5 121.6h1.0v1.0h-1.0zM166.5 127.8h1.0v1.0h-1.0zM170.6 124.5h1.0v1.0h-1.0zM157.1 142.2h1.0v1.0h-1.0zM174.0 113.7h1.0v1.0h-1.0zM181.8 114.2h1.0v1.0h-1.0zM177.6 109.4h1.0v1.0h-1.0zM166.3 122.1h1.0v1.0h-1.0zM183.7 110.3h1.0v1.0h-1.0zM182.0 110.5h1.0v1.0h-1.0zM159.2 131.6h1.0v1.0h-1.0zM182.0 105.7h1.0v1.0h-1.0zM186.3 106.6h1.0v1.0h-1.0zM177.7 110.4h1.0v1.0h-1.0zM168.4 126.0h1.0v1.0h-1.0zM177.7 115.0h1.0v1.0h-1.0zM157.3 139.0h1.0v1.0h-1.0zM169.9 118.2h1.0v1.0h-1.0zM157.0 136.2h1.0v1.0h-1.0zM181.7 113.6h1.0v1.0h-1.0zM159.3 138.5h1.0v1.0h-1.0zM154.8 139.0h1.0v1.0h-1.0zM176.3 121.9h1.0v1.0h-1.0zM180.8 107.6h1.0v1.0h-1.0zM185.3 104.0h1.0v1.0h-1.0zM181.5 110.9h1.0v1.0h-1.0zM171.6 127.0h1.0v1.0h-1.0zM178.3 115.0h1.0v1.0h-1.0zM171.7 125.2h1.0v1.0h-1.0zM159.3 138.9h1.0v1.0h-1.0zM177.7 119.9h1.0v1.0h-1.0zM180.0 117.1h1.0v1.0h-1.0zM179.0 108.3h1.0v1.0h-1.0zM173.3 117.4h1.0v1.0h-1.0zM185.3 104.2h1.0v1.0h-1.0zM172.3 123.0h1.0v1.0h-1.0zM182.5 114.9h1.0v1.0h-1.0zM174.2 115.3h1.0v1.0h-1.0zM159.7 140.7h1.0v1.0h-1.0zM186.2 110.8h1.0v1.0h-1.0zM156.7 138.1h1.0v1.0h-1.0zM178.4 117.4h1.0v1.0h-1.0zM184.4 108.0h1.0v1.0h-1.0zM161.6 130.1h1.0v1.0h-1.0zM185.3 107.0h1.0v1.0h-1.0zM177.0 113.7h1.0v1.0h-1.0zM168.5 123.6h1.0v1.0h-1.0zM170.9 122.3h1.0v1.0h-1.0zM172.6 118.2h1.0v1.0h-1.0zM180.2 117.8h1.0v1.0h-1.0zM157.3 135.3h1.0v1.0h-1.0zM152.8 137.3h1.0v1.0h-1.0zM177.9 117.1h1.0v1.0h-1.0zM162.9 137.6h1.0v1.0h-1.0zM160.4 129.6h1.0v1.0h-1.0zM170.5 121.6h1.0v1.0h-1.0zM182.3 107.8h1.0v1.0h-1.0zM161.8 137.5h1.0v1.0h-1.0zM173.9 120.4h1.0v1.0h-1.0zM179.8 109.2h1.0v1.0h-1.0zM158.7 137.8h1.0v1.0h-1.0zM152.5 136.5h1.0v1.0h-1.0zM186.8 106.1h1.0v1.0h-1.0zM154.2 145.5h1.0v1.0h-1.0zM180.7 117.3h1.0v1.0h-1.0zM160.7 132.9h1.0v1.0h-1.0zM172.2 118.5h1.0v1.0h-1.0zM164.0 129.1h1.0v1.0h-1.0zM184.7 107.5h1.0v1.0h-1.0zM154.1 139.5h1.0v1.0h-1.0zM184.9 112.6h1.0v1.0h-1.0zM172.6 117.7h1.0v1.0h-1.0zM159.7 136.7h1.0v1.0h-1.0zM157.6 138.4h1.0v1.0h-1.0zM164.3 135.6h1.0v1.0h-1.0zM163.6 129.6h1.0v1.0h-1.0zM177.8 119.3h1.0v1.0h-1.0zM157.2 132.3h1.0v1.0h-1.0zM169.9 128.6h1.0v1.0h-1.0zM183.7 108.5h1.0v1.0h-1.0zM165.9 126.3h1.0v1.0h-1.0zM178.8 113.1h1.0v1.0h-1.0zM165.3 129.4h1.0v1.0h-1.0zM170.0 129.7h1.0v1.0h-1.0zM156.1 140.1h1.0v1.0h-1.0zM156.5 137.9h1.0v1.0h-1.0zM160.1 133.2h1.0v1.0h-1.0zM179.3 119.8h1.0v1.0h-1.0zM160.9 133.4h1.0v1.0h-1.0zM186.3 109.2h1.0v1.0h-1.0zM166.3 127.6h1.0v1.0h-1.0zM167.1 123.9h1.0v1.0h-1.0zM183.0 111.1h1.0v1.0h-1.0zM165.2 128.0h1.0v1.0h-1.0zM154.2 138.9h1.0v1.0h-1.0zM167.7 123.6h1.0v1.0h-1.0zM165.2 132.7h1.0v1.0h-1.0zM171.3 123.5h1.0v1.0h-1.0zM183.5 108.6h1.0v1.0h-1.0zM171.9 115.4h1.0v1.0h-1.0zM167.7 129.9h1.0v1.0h-1.0zM167.8 123.8h1.0v1.0h-1.0zM176.4 110.8h1.0v1.0h-1.0zM180.1 111.9h1.0v1.0h-1.0zM160.6 128.7h1.0v1.0h-1.0zM180.1 107.9h1.0v1.0h-1.0zM167.6 130.1h1.0v1.0h-1.0zM180.1 112.1h1.0v1.0h-1.0zM158.0 135.5h1.0v1.0h-1.0zM153.8 137.9h1.0v1.0h-1.0zM169.3 130.3h1.0v1.0h-1.0zM158.5 138.9h1.0v1.0h-1.0zM188.4 109.0h1.0v1.0h-1.0zM171.8 126.4h1.0v1.0h-1.0zM176.6 117.9h1.0v1.0h-1.0zM182.4 114.6h1.0v1.0h-1.0z" fill="#2a6aff"/>
<defs><filter id="bl" x="-20%" y="-20%" width="140%" height="140%"><feGaussianBlur stdDeviation="0.45"/></filter></defs>
<g filter="url(#bl)"><path d="M210 126h1v1h-1zM211 126h1v1h-1zM208 127h1v1h-1zM209 127h1v1h-1zM210 127h1v1h-1zM207 128h1v1h-1zM208 128h1v1h-1zM209 128h1v1h-1zM206 129h1v1h-1zM207 129h1v1h-1zM208 129h1v1h-1zM205 130h1v1h-1zM206 130h1v1h-1zM207 130h1v1h-1zM204 131h1v1h-1zM205 131h1v1h-1zM206 131h1v1h-1zM203 132h1v1h-1zM204 132h1v1h-1z" fill="#ff2010"/><path d="M210 125h1v1h-1zM211 125h1v1h-1zM212 125h1v1h-1zM209 126h1v1h-1zM212 126h1v1h-1zM207 127h1v1h-1zM211 127h1v1h-1zM206 128h1v1h-1zM210 128h1v1h-1zM205 129h1v1h-1zM209 129h1v1h-1zM204 130h1v1h-1zM208 130h1v1h-1zM203 131h1v1h-1zM205 132h1v1h-1zM202 133h1v1h-1zM203 133h1v1h-1z" fill="#ff8c10"/><path d="M211 124h1v1h-1zM212 124h1v1h-1zM213 124h1v1h-1zM213 125h1v1h-1zM208 126h1v1h-1zM207 131h1v1h-1zM202 132h1v1h-1zM206 132h1v1h-1zM201 133h1v1h-1zM204 133h1v1h-1zM201 134h1v1h-1zM202 134h1v1h-1zM203 134h1v1h-1z" fill="#f4ee14"/><path d="M212 123h1v1h-1zM213 123h1v1h-1zM214 123h1v1h-1zM215 123h1v1h-1zM214 124h1v1h-1zM209 125h1v1h-1zM214 125h1v1h-1zM213 126h1v1h-1zM212 127h1v1h-1zM205 128h1v1h-1zM211 128h1v1h-1zM204 129h1v1h-1zM210 129h1v1h-1zM203 130h1v1h-1zM209 130h1v1h-1zM202 131h1v1h-1zM208 131h1v1h-1zM207 132h1v1h-1zM205 133h1v1h-1zM206 133h1v1h-1zM200 134h1v1h-1zM204 134h1v1h-1zM200 135h1v1h-1zM201 135h1v1h-1zM202 135h1v1h-1zM203 135h1v1h-1zM199 136h1v1h-1zM200 136h1v1h-1zM201 136h1v1h-1zM202 136h1v1h-1zM199 137h1v1h-1zM200 137h1v1h-1zM201 137h1v1h-1z" fill="#a8f030"/><path d="M215 120h1v1h-1zM216 120h1v1h-1zM217 120h1v1h-1zM213 121h1v1h-1zM214 121h1v1h-1zM215 121h1v1h-1zM216 121h1v1h-1zM217 121h1v1h-1zM212 122h1v1h-1zM213 122h1v1h-1zM214 122h1v1h-1zM215 122h1v1h-1zM216 122h1v1h-1zM217 122h1v1h-1zM210 123h1v1h-1zM211 123h1v1h-1zM216 123h1v1h-1zM209 124h1v1h-1zM210 124h1v1h-1zM215 124h1v1h-1zM216 124h1v1h-1zM208 125h1v1h-1zM215 125h1v1h-1zM207 126h1v1h-1zM214 126h1v1h-1zM206 127h1v1h-1zM213 127h1v1h-1zM212 128h1v1h-1zM203 129h1v1h-1zM211 129h1v1h-1zM202 130h1v1h-1zM210 130h1v1h-1zM209 131h1v1h-1zM201 132h1v1h-1zM208 132h1v1h-1zM200 133h1v1h-1zM207 133h1v1h-1zM199 134h1v1h-1zM205 134h1v1h-1zM206 134h1v1h-1zM198 135h1v1h-1zM199 135h1v1h-1zM204 135h1v1h-1zM205 135h1v1h-1zM198 136h1v1h-1zM203 136h1v1h-1zM204 136h1v1h-1zM197 137h1v1h-1zM198 137h1v1h-1zM202 137h1v1h-1zM203 137h1v1h-1zM197 138h1v1h-1zM198 138h1v1h-1zM199 138h1v1h-1zM200 138h1v1h-1zM201 138h1v1h-1zM202 138h1v1h-1zM196 139h1v1h-1zM197 139h1v1h-1zM198 139h1v1h-1zM199 139h1v1h-1zM200 139h1v1h-1zM201 139h1v1h-1zM196 140h1v1h-1zM197 140h1v1h-1zM198 140h1v1h-1zM199 140h1v1h-1zM196 141h1v1h-1zM197 141h1v1h-1zM198 141h1v1h-1z" fill="#22e044"/><path d="M217 118h1v1h-1zM218 118h1v1h-1zM219 118h1v1h-1zM215 119h1v1h-1zM216 119h1v1h-1zM217 119h1v1h-1zM218 119h1v1h-1zM219 119h1v1h-1zM213 120h1v1h-1zM214 120h1v1h-1zM218 120h1v1h-1zM219 120h1v1h-1zM212 121h1v1h-1zM218 121h1v1h-1zM211 122h1v1h-1zM218 122h1v1h-1zM209 123h1v1h-1zM217 123h1v1h-1zM208 124h1v1h-1zM217 124h1v1h-1zM207 125h1v1h-1zM216 125h1v1h-1zM206 126h1v1h-1zM215 126h1v1h-1zM205 127h1v1h-1zM214 127h1v1h-1zM204 128h1v1h-1zM213 128h1v1h-1zM212 129h1v1h-1zM211 130h1v1h-1zM201 131h1v1h-1zM210 131h1v1h-1zM200 132h1v1h-1zM209 132h1v1h-1zM199 133h1v1h-1zM208 133h1v1h-1zM198 134h1v1h-1zM207 134h1v1h-1zM197 135h1v1h-1zM206 135h1v1h-1zM197 136h1v1h-1zM205 136h1v1h-1zM196 137h1v1h-1zM204 137h1v1h-1zM195 138h1v1h-1zM196 138h1v1h-1zM203 138h1v1h-1zM195 139h1v1h-1zM202 139h1v1h-1zM194 140h1v1h-1zM195 140h1v1h-1zM200 140h1v1h-1zM201 140h1v1h-1zM194 141h1v1h-1zM195 141h1v1h-1zM199 141h1v1h-1zM200 141h1v1h-1zM194 142h1v1h-1zM195 142h1v1h-1zM196 142h1v1h-1zM197 142h1v1h-1zM198 142h1v1h-1zM195 143h1v1h-1zM196 143h1v1h-1z" fill="#1cf0a8"/><path d="M219 116h1v1h-1zM220 116h1v1h-1zM221 116h1v1h-1zM217 117h1v1h-1zM218 117h1v1h-1zM219 117h1v1h-1zM220 117h1v1h-1zM221 117h1v1h-1zM215 118h1v1h-1zM216 118h1v1h-1zM220 118h1v1h-1zM221 118h1v1h-1zM213 119h1v1h-1zM214 119h1v1h-1zM220 119h1v1h-1zM221 119h1v1h-1zM212 120h1v1h-1zM220 120h1v1h-1zM211 121h1v1h-1zM219 121h1v1h-1zM220 121h1v1h-1zM210 122h1v1h-1zM219 122h1v1h-1zM208 123h1v1h-1zM218 123h1v1h-1zM207 124h1v1h-1zM206 125h1v1h-1zM217 125h1v1h-1zM205 126h1v1h-1zM216 126h1v1h-1zM204 127h1v1h-1zM215 127h1v1h-1zM203 128h1v1h-1zM214 128h1v1h-1zM202 129h1v1h-1zM213 129h1v1h-1zM201 130h1v1h-1zM212 130h1v1h-1zM200 131h1v1h-1zM211 131h1v1h-1zM199 132h1v1h-1zM210 132h1v1h-1zM198 133h1v1h-1zM209 133h1v1h-1zM197 134h1v1h-1zM208 134h1v1h-1zM207 135h1v1h-1zM196 136h1v1h-1zM206 136h1v1h-1zM195 137h1v1h-1zM205 137h1v1h-1zM194 138h1v1h-1zM204 138h1v1h-1zM194 139h1v1h-1zM203 139h1v1h-1zM193 140h1v1h-1zM202 140h1v1h-1zM193 141h1v1h-1zM201 141h1v1h-1zM193 142h1v1h-1zM199 142h1v1h-1zM200 142h1v1h-1zM193 143h1v1h-1zM194 143h1v1h-1zM197 143h1v1h-1zM198 143h1v1h-1zM193 144h1v1h-1zM194 144h1v1h-1zM195 144h1v1h-1zM196 144h1v1h-1z" fill="#14dcf2"/><path d="M221 114h1v1h-1zM222 114h1v1h-1zM223 114h1v1h-1zM218 115h1v1h-1zM219 115h1v1h-1zM220 115h1v1h-1zM221 115h1v1h-1zM222 115h1v1h-1zM223 115h1v1h-1zM217 116h1v1h-1zM218 116h1v1h-1zM222 116h1v1h-1zM223 116h1v1h-1zM215 117h1v1h-1zM216 117h1v1h-1zM222 117h1v1h-1zM223 117h1v1h-1zM214 118h1v1h-1zM222 118h1v1h-1zM212 119h1v1h-1zM222 119h1v1h-1zM211 120h1v1h-1zM221 120h1v1h-1zM210 121h1v1h-1zM221 121h1v1h-1zM209 122h1v1h-1zM220 122h1v1h-1zM207 123h1v1h-1zM219 123h1v1h-1zM206 124h1v1h-1zM218 124h1v1h-1zM205 125h1v1h-1zM218 125h1v1h-1zM204 126h1v1h-1zM217 126h1v1h-1zM203 127h1v1h-1zM216 127h1v1h-1zM202 128h1v1h-1zM215 128h1v1h-1zM201 129h1v1h-1zM214 129h1v1h-1zM200 130h1v1h-1zM213 130h1v1h-1zM199 131h1v1h-1zM212 131h1v1h-1zM198 132h1v1h-1zM211 132h1v1h-1zM197 133h1v1h-1zM210 133h1v1h-1zM209 134h1v1h-1zM196 135h1v1h-1zM208 135h1v1h-1zM195 136h1v1h-1zM207 136h1v1h-1zM194 137h1v1h-1zM206 137h1v1h-1zM205 138h1v1h-1zM193 139h1v1h-1zM204 139h1v1h-1zM192 140h1v1h-1zM203 140h1v1h-1zM192 141h1v1h-1zM202 141h1v1h-1zM192 142h1v1h-1zM201 142h1v1h-1zM191 143h1v1h-1zM192 143h1v1h-1zM199 143h1v1h-1zM200 143h1v1h-1zM191 144h1v1h-1zM192 144h1v1h-1zM197 144h1v1h-1zM198 144h1v1h-1zM192 145h1v1h-1zM193 145h1v1h-1zM194 145h1v1h-1zM195 145h1v1h-1zM196 145h1v1h-1zM193 146h1v1h-1z" fill="#1496ff"/><path d="M223 112h1v1h-1zM224 112h1v1h-1zM225 112h1v1h-1zM220 113h1v1h-1zM221 113h1v1h-1zM222 113h1v1h-1zM223 113h1v1h-1zM224 113h1v1h-1zM225 113h1v1h-1zM218 114h1v1h-1zM219 114h1v1h-1zM220 114h1v1h-1zM224 114h1v1h-1zM225 114h1v1h-1zM217 115h1v1h-1zM224 115h1v1h-1zM225 115h1v1h-1zM215 116h1v1h-1zM216 116h1v1h-1zM224 116h1v1h-1zM225 116h1v1h-1zM214 117h1v1h-1zM224 117h1v1h-1zM212 118h1v1h-1zM213 118h1v1h-1zM223 118h1v1h-1zM224 118h1v1h-1zM211 119h1v1h-1zM223 119h1v1h-1zM210 120h1v1h-1zM222 120h1v1h-1zM209 121h1v1h-1zM222 121h1v1h-1zM208 122h1v1h-1zM221 122h1v1h-1zM206 123h1v1h-1zM220 123h1v1h-1zM205 124h1v1h-1zM219 124h1v1h-1zM204 125h1v1h-1zM203 126h1v1h-1zM218 126h1v1h-1zM202 127h1v1h-1zM217 127h1v1h-1zM201 128h1v1h-1zM216 128h1v1h-1zM200 129h1v1h-1zM215 129h1v1h-1zM199 130h1v1h-1zM214 130h1v1h-1zM198 131h1v1h-1zM213 131h1v1h-1zM212 132h1v1h-1zM211 133h1v1h-1zM196 134h1v1h-1zM210 134h1v1h-1zM195 135h1v1h-1zM209 135h1v1h-1zM194 136h1v1h-1zM208 136h1v1h-1zM193 137h1v1h-1zM207 137h1v1h-1zM193 138h1v1h-1zM206 138h1v1h-1zM192 139h1v1h-1zM205 139h1v1h-1zM191 140h1v1h-1zM204 140h1v1h-1zM191 141h1v1h-1zM203 141h1v1h-1zM190 142h1v1h-1zM191 142h1v1h-1zM202 142h1v1h-1zM190 143h1v1h-1zM201 143h1v1h-1zM190 144h1v1h-1zM199 144h1v1h-1zM190 145h1v1h-1zM191 145h1v1h-1zM197 145h1v1h-1zM198 145h1v1h-1zM190 146h1v1h-1zM191 146h1v1h-1zM192 146h1v1h-1zM194 146h1v1h-1zM195 146h1v1h-1zM196 146h1v1h-1zM191 147h1v1h-1zM192 147h1v1h-1zM193 147h1v1h-1zM194 147h1v1h-1z" fill="#1650ff"/></g>
<rect x="107.5" y="33.4" width="182.5" height="182.2" fill="none" stroke="#8a8a8a" stroke-width="0.9"/>
<line x1="104.90" y1="212.32" x2="107.50" y2="212.32" stroke="#333" stroke-width="0.9" />
<line x1="104.90" y1="209.49" x2="107.50" y2="209.49" stroke="#333" stroke-width="0.9" />
<line x1="104.90" y1="207.18" x2="107.50" y2="207.18" stroke="#333" stroke-width="0.9" />
<line x1="104.90" y1="205.22" x2="107.50" y2="205.22" stroke="#333" stroke-width="0.9" />
<line x1="104.90" y1="203.53" x2="107.50" y2="203.53" stroke="#333" stroke-width="0.9" />
<line x1="104.90" y1="202.04" x2="107.50" y2="202.04" stroke="#333" stroke-width="0.9" />
<line x1="102.30" y1="200.70" x2="107.50" y2="200.70" stroke="#111" stroke-width="1.3" />
<line x1="104.90" y1="191.91" x2="107.50" y2="191.91" stroke="#333" stroke-width="0.9" />
<line x1="104.90" y1="186.77" x2="107.50" y2="186.77" stroke="#333" stroke-width="0.9" />
<line x1="104.90" y1="183.12" x2="107.50" y2="183.12" stroke="#333" stroke-width="0.9" />
<line x1="104.90" y1="180.29" x2="107.50" y2="180.29" stroke="#333" stroke-width="0.9" />
<line x1="104.90" y1="177.98" x2="107.50" y2="177.98" stroke="#333" stroke-width="0.9" />
<line x1="104.90" y1="176.02" x2="107.50" y2="176.02" stroke="#333" stroke-width="0.9" />
<line x1="104.90" y1="174.33" x2="107.50" y2="174.33" stroke="#333" stroke-width="0.9" />
<line x1="104.90" y1="172.84" x2="107.50" y2="172.84" stroke="#333" stroke-width="0.9" />
<line x1="102.30" y1="171.50" x2="107.50" y2="171.50" stroke="#111" stroke-width="1.3" />
<line x1="104.90" y1="162.71" x2="107.50" y2="162.71" stroke="#333" stroke-width="0.9" />
<line x1="104.90" y1="157.57" x2="107.50" y2="157.57" stroke="#333" stroke-width="0.9" />
<line x1="104.90" y1="153.92" x2="107.50" y2="153.92" stroke="#333" stroke-width="0.9" />
<line x1="104.90" y1="151.09" x2="107.50" y2="151.09" stroke="#333" stroke-width="0.9" />
<line x1="104.90" y1="148.78" x2="107.50" y2="148.78" stroke="#333" stroke-width="0.9" />
<line x1="104.90" y1="146.82" x2="107.50" y2="146.82" stroke="#333" stroke-width="0.9" />
<line x1="104.90" y1="145.13" x2="107.50" y2="145.13" stroke="#333" stroke-width="0.9" />
<line x1="104.90" y1="143.64" x2="107.50" y2="143.64" stroke="#333" stroke-width="0.9" />
<line x1="102.30" y1="142.30" x2="107.50" y2="142.30" stroke="#111" stroke-width="1.3" />
<line x1="104.90" y1="133.51" x2="107.50" y2="133.51" stroke="#333" stroke-width="0.9" />
<line x1="104.90" y1="128.37" x2="107.50" y2="128.37" stroke="#333" stroke-width="0.9" />
<line x1="104.90" y1="124.72" x2="107.50" y2="124.72" stroke="#333" stroke-width="0.9" />
<line x1="104.90" y1="121.89" x2="107.50" y2="121.89" stroke="#333" stroke-width="0.9" />
<line x1="104.90" y1="119.58" x2="107.50" y2="119.58" stroke="#333" stroke-width="0.9" />
<line x1="104.90" y1="117.62" x2="107.50" y2="117.62" stroke="#333" stroke-width="0.9" />
<line x1="104.90" y1="115.93" x2="107.50" y2="115.93" stroke="#333" stroke-width="0.9" />
<line x1="104.90" y1="114.44" x2="107.50" y2="114.44" stroke="#333" stroke-width="0.9" />
<line x1="102.30" y1="113.10" x2="107.50" y2="113.10" stroke="#111" stroke-width="1.3" />
<line x1="104.90" y1="104.31" x2="107.50" y2="104.31" stroke="#333" stroke-width="0.9" />
<line x1="104.90" y1="99.17" x2="107.50" y2="99.17" stroke="#333" stroke-width="0.9" />
<line x1="104.90" y1="95.52" x2="107.50" y2="95.52" stroke="#333" stroke-width="0.9" />
<line x1="104.90" y1="92.69" x2="107.50" y2="92.69" stroke="#333" stroke-width="0.9" />
<line x1="104.90" y1="90.38" x2="107.50" y2="90.38" stroke="#333" stroke-width="0.9" />
<line x1="104.90" y1="88.42" x2="107.50" y2="88.42" stroke="#333" stroke-width="0.9" />
<line x1="104.90" y1="86.73" x2="107.50" y2="86.73" stroke="#333" stroke-width="0.9" />
<line x1="104.90" y1="85.24" x2="107.50" y2="85.24" stroke="#333" stroke-width="0.9" />
<line x1="102.30" y1="83.90" x2="107.50" y2="83.90" stroke="#111" stroke-width="1.3" />
<line x1="104.90" y1="75.11" x2="107.50" y2="75.11" stroke="#333" stroke-width="0.9" />
<line x1="104.90" y1="69.97" x2="107.50" y2="69.97" stroke="#333" stroke-width="0.9" />
<line x1="104.90" y1="66.32" x2="107.50" y2="66.32" stroke="#333" stroke-width="0.9" />
<line x1="104.90" y1="63.49" x2="107.50" y2="63.49" stroke="#333" stroke-width="0.9" />
<line x1="104.90" y1="61.18" x2="107.50" y2="61.18" stroke="#333" stroke-width="0.9" />
<line x1="104.90" y1="59.22" x2="107.50" y2="59.22" stroke="#333" stroke-width="0.9" />
<line x1="104.90" y1="57.53" x2="107.50" y2="57.53" stroke="#333" stroke-width="0.9" />
<line x1="104.90" y1="56.04" x2="107.50" y2="56.04" stroke="#333" stroke-width="0.9" />
<line x1="102.30" y1="54.70" x2="107.50" y2="54.70" stroke="#111" stroke-width="1.3" />
<line x1="104.90" y1="45.91" x2="107.50" y2="45.91" stroke="#333" stroke-width="0.9" />
<line x1="104.90" y1="40.77" x2="107.50" y2="40.77" stroke="#333" stroke-width="0.9" />
<line x1="104.90" y1="37.12" x2="107.50" y2="37.12" stroke="#333" stroke-width="0.9" />
<line x1="104.90" y1="34.29" x2="107.50" y2="34.29" stroke="#333" stroke-width="0.9" />
<line x1="109.54" y1="215.60" x2="109.54" y2="218.40" stroke="#333" stroke-width="0.9" />
<line x1="112.16" y1="215.60" x2="112.16" y2="218.40" stroke="#333" stroke-width="0.9" />
<line x1="114.30" y1="215.60" x2="114.30" y2="218.40" stroke="#333" stroke-width="0.9" />
<line x1="116.11" y1="215.60" x2="116.11" y2="218.40" stroke="#333" stroke-width="0.9" />
<line x1="117.68" y1="215.60" x2="117.68" y2="218.40" stroke="#333" stroke-width="0.9" />
<line x1="119.06" y1="215.60" x2="119.06" y2="218.40" stroke="#333" stroke-width="0.9" />
<line x1="120.30" y1="215.60" x2="120.30" y2="220.60" stroke="#111" stroke-width="1.3" />
<line x1="128.44" y1="215.60" x2="128.44" y2="218.40" stroke="#333" stroke-width="0.9" />
<line x1="133.21" y1="215.60" x2="133.21" y2="218.40" stroke="#333" stroke-width="0.9" />
<line x1="136.59" y1="215.60" x2="136.59" y2="218.40" stroke="#333" stroke-width="0.9" />
<line x1="139.21" y1="215.60" x2="139.21" y2="218.40" stroke="#333" stroke-width="0.9" />
<line x1="141.35" y1="215.60" x2="141.35" y2="218.40" stroke="#333" stroke-width="0.9" />
<line x1="143.16" y1="215.60" x2="143.16" y2="218.40" stroke="#333" stroke-width="0.9" />
<line x1="144.73" y1="215.60" x2="144.73" y2="218.40" stroke="#333" stroke-width="0.9" />
<line x1="146.11" y1="215.60" x2="146.11" y2="218.40" stroke="#333" stroke-width="0.9" />
<line x1="147.35" y1="215.60" x2="147.35" y2="220.60" stroke="#111" stroke-width="1.3" />
<line x1="155.49" y1="215.60" x2="155.49" y2="218.40" stroke="#333" stroke-width="0.9" />
<line x1="160.26" y1="215.60" x2="160.26" y2="218.40" stroke="#333" stroke-width="0.9" />
<line x1="163.64" y1="215.60" x2="163.64" y2="218.40" stroke="#333" stroke-width="0.9" />
<line x1="166.26" y1="215.60" x2="166.26" y2="218.40" stroke="#333" stroke-width="0.9" />
<line x1="168.40" y1="215.60" x2="168.40" y2="218.40" stroke="#333" stroke-width="0.9" />
<line x1="170.21" y1="215.60" x2="170.21" y2="218.40" stroke="#333" stroke-width="0.9" />
<line x1="171.78" y1="215.60" x2="171.78" y2="218.40" stroke="#333" stroke-width="0.9" />
<line x1="173.16" y1="215.60" x2="173.16" y2="218.40" stroke="#333" stroke-width="0.9" />
<line x1="174.40" y1="215.60" x2="174.40" y2="220.60" stroke="#111" stroke-width="1.3" />
<line x1="182.54" y1="215.60" x2="182.54" y2="218.40" stroke="#333" stroke-width="0.9" />
<line x1="187.31" y1="215.60" x2="187.31" y2="218.40" stroke="#333" stroke-width="0.9" />
<line x1="190.69" y1="215.60" x2="190.69" y2="218.40" stroke="#333" stroke-width="0.9" />
<line x1="193.31" y1="215.60" x2="193.31" y2="218.40" stroke="#333" stroke-width="0.9" />
<line x1="195.45" y1="215.60" x2="195.45" y2="218.40" stroke="#333" stroke-width="0.9" />
<line x1="197.26" y1="215.60" x2="197.26" y2="218.40" stroke="#333" stroke-width="0.9" />
<line x1="198.83" y1="215.60" x2="198.83" y2="218.40" stroke="#333" stroke-width="0.9" />
<line x1="200.21" y1="215.60" x2="200.21" y2="218.40" stroke="#333" stroke-width="0.9" />
<line x1="201.45" y1="215.60" x2="201.45" y2="220.60" stroke="#111" stroke-width="1.3" />
<line x1="209.59" y1="215.60" x2="209.59" y2="218.40" stroke="#333" stroke-width="0.9" />
<line x1="214.36" y1="215.60" x2="214.36" y2="218.40" stroke="#333" stroke-width="0.9" />
<line x1="217.74" y1="215.60" x2="217.74" y2="218.40" stroke="#333" stroke-width="0.9" />
<line x1="220.36" y1="215.60" x2="220.36" y2="218.40" stroke="#333" stroke-width="0.9" />
<line x1="222.50" y1="215.60" x2="222.50" y2="218.40" stroke="#333" stroke-width="0.9" />
<line x1="224.31" y1="215.60" x2="224.31" y2="218.40" stroke="#333" stroke-width="0.9" />
<line x1="225.88" y1="215.60" x2="225.88" y2="218.40" stroke="#333" stroke-width="0.9" />
<line x1="227.26" y1="215.60" x2="227.26" y2="218.40" stroke="#333" stroke-width="0.9" />
<line x1="228.50" y1="215.60" x2="228.50" y2="220.60" stroke="#111" stroke-width="1.3" />
<line x1="236.64" y1="215.60" x2="236.64" y2="218.40" stroke="#333" stroke-width="0.9" />
<line x1="241.41" y1="215.60" x2="241.41" y2="218.40" stroke="#333" stroke-width="0.9" />
<line x1="244.79" y1="215.60" x2="244.79" y2="218.40" stroke="#333" stroke-width="0.9" />
<line x1="247.41" y1="215.60" x2="247.41" y2="218.40" stroke="#333" stroke-width="0.9" />
<line x1="249.55" y1="215.60" x2="249.55" y2="218.40" stroke="#333" stroke-width="0.9" />
<line x1="251.36" y1="215.60" x2="251.36" y2="218.40" stroke="#333" stroke-width="0.9" />
<line x1="252.93" y1="215.60" x2="252.93" y2="218.40" stroke="#333" stroke-width="0.9" />
<line x1="254.31" y1="215.60" x2="254.31" y2="218.40" stroke="#333" stroke-width="0.9" />
<line x1="255.55" y1="215.60" x2="255.55" y2="220.60" stroke="#111" stroke-width="1.3" />
<line x1="263.69" y1="215.60" x2="263.69" y2="218.40" stroke="#333" stroke-width="0.9" />
<line x1="268.46" y1="215.60" x2="268.46" y2="218.40" stroke="#333" stroke-width="0.9" />
<line x1="271.84" y1="215.60" x2="271.84" y2="218.40" stroke="#333" stroke-width="0.9" />
<line x1="274.46" y1="215.60" x2="274.46" y2="218.40" stroke="#333" stroke-width="0.9" />
<line x1="276.60" y1="215.60" x2="276.60" y2="218.40" stroke="#333" stroke-width="0.9" />
<line x1="278.41" y1="215.60" x2="278.41" y2="218.40" stroke="#333" stroke-width="0.9" />
<line x1="279.98" y1="215.60" x2="279.98" y2="218.40" stroke="#333" stroke-width="0.9" />
<line x1="281.36" y1="215.60" x2="281.36" y2="218.40" stroke="#333" stroke-width="0.9" />
<line x1="282.60" y1="215.60" x2="282.60" y2="220.60" stroke="#111" stroke-width="1.3" />
<text x="89.20" y="204.50" font-family="'Liberation Sans', sans-serif" font-size="6.8" fill="#1a1a1a" stroke="#1a1a1a" stroke-width="0.25" textLength="5.4" lengthAdjust="spacingAndGlyphs">10</text>
<text x="95.50" y="200.30" font-family="'Liberation Sans', sans-serif" font-size="6.8" fill="#1a1a1a" stroke="#1a1a1a" stroke-width="0.2" textLength="3.3" lengthAdjust="spacingAndGlyphs">2</text>
<text x="89.20" y="175.30" font-family="'Liberation Sans', sans-serif" font-size="6.8" fill="#1a1a1a" stroke="#1a1a1a" stroke-width="0.25" textLength="5.4" lengthAdjust="spacingAndGlyphs">10</text>
<text x="95.50" y="171.10" font-family="'Liberation Sans', sans-serif" font-size="6.8" fill="#1a1a1a" stroke="#1a1a1a" stroke-width="0.2" textLength="3.3" lengthAdjust="spacingAndGlyphs">3</text>
<text x="89.20" y="146.10" font-family="'Liberation Sans', sans-serif" font-size="6.8" fill="#1a1a1a" stroke="#1a1a1a" stroke-width="0.25" textLength="5.4" lengthAdjust="spacingAndGlyphs">10</text>
<text x="95.50" y="141.90" font-family="'Liberation Sans', sans-serif" font-size="6.8" fill="#1a1a1a" stroke="#1a1a1a" stroke-width="0.2" textLength="3.3" lengthAdjust="spacingAndGlyphs">4</text>
<text x="89.20" y="116.90" font-family="'Liberation Sans', sans-serif" font-size="6.8" fill="#1a1a1a" stroke="#1a1a1a" stroke-width="0.25" textLength="5.4" lengthAdjust="spacingAndGlyphs">10</text>
<text x="95.50" y="112.70" font-family="'Liberation Sans', sans-serif" font-size="6.8" fill="#1a1a1a" stroke="#1a1a1a" stroke-width="0.2" textLength="3.3" lengthAdjust="spacingAndGlyphs">5</text>
<text x="89.20" y="87.70" font-family="'Liberation Sans', sans-serif" font-size="6.8" fill="#1a1a1a" stroke="#1a1a1a" stroke-width="0.25" textLength="5.4" lengthAdjust="spacingAndGlyphs">10</text>
<text x="95.50" y="83.50" font-family="'Liberation Sans', sans-serif" font-size="6.8" fill="#1a1a1a" stroke="#1a1a1a" stroke-width="0.2" textLength="3.3" lengthAdjust="spacingAndGlyphs">6</text>
<text x="89.20" y="58.50" font-family="'Liberation Sans', sans-serif" font-size="6.8" fill="#1a1a1a" stroke="#1a1a1a" stroke-width="0.25" textLength="5.4" lengthAdjust="spacingAndGlyphs">10</text>
<text x="95.50" y="54.30" font-family="'Liberation Sans', sans-serif" font-size="6.8" fill="#1a1a1a" stroke="#1a1a1a" stroke-width="0.2" textLength="3.3" lengthAdjust="spacingAndGlyphs">7</text>
<text x="121.10" y="231.40" font-family="'Liberation Sans', sans-serif" font-size="6.8" fill="#1a1a1a" stroke="#1a1a1a" stroke-width="0.25" textLength="5.4" lengthAdjust="spacingAndGlyphs">10</text>
<text x="127.40" y="227.20" font-family="'Liberation Sans', sans-serif" font-size="6.8" fill="#1a1a1a" stroke="#1a1a1a" stroke-width="0.2" textLength="3.3" lengthAdjust="spacingAndGlyphs">2</text>
<text x="175.20" y="231.40" font-family="'Liberation Sans', sans-serif" font-size="6.8" fill="#1a1a1a" stroke="#1a1a1a" stroke-width="0.25" textLength="5.4" lengthAdjust="spacingAndGlyphs">10</text>
<text x="181.50" y="227.20" font-family="'Liberation Sans', sans-serif" font-size="6.8" fill="#1a1a1a" stroke="#1a1a1a" stroke-width="0.2" textLength="3.3" lengthAdjust="spacingAndGlyphs">4</text>
<text x="229.30" y="231.40" font-family="'Liberation Sans', sans-serif" font-size="6.8" fill="#1a1a1a" stroke="#1a1a1a" stroke-width="0.25" textLength="5.4" lengthAdjust="spacingAndGlyphs">10</text>
<text x="235.60" y="227.20" font-family="'Liberation Sans', sans-serif" font-size="6.8" fill="#1a1a1a" stroke="#1a1a1a" stroke-width="0.2" textLength="3.3" lengthAdjust="spacingAndGlyphs">6</text>
<text x="283.40" y="231.40" font-family="'Liberation Sans', sans-serif" font-size="6.8" fill="#1a1a1a" stroke="#1a1a1a" stroke-width="0.25" textLength="5.4" lengthAdjust="spacingAndGlyphs">10</text>
<text x="289.70" y="227.20" font-family="'Liberation Sans', sans-serif" font-size="6.8" fill="#1a1a1a" stroke="#1a1a1a" stroke-width="0.2" textLength="3.3" lengthAdjust="spacingAndGlyphs">8</text>
<path d="M149.50 168.30 L149.50 129.70 L192.40 78.30 L204.90 67.80 L223.00 100.60 L180.00 142.20 Z" fill="none" stroke="#0a0a0a" stroke-width="1.1" stroke-linejoin="miter" />
<path d="M164.40 159.20 L180.00 145.00 L232.00 93.70 L233.20 204.30 L164.30 206.60 Z" fill="none" stroke="#0a0a0a" stroke-width="1.1" stroke-linejoin="miter" />
<text x="140.00" y="82.90" font-family="'Liberation Sans', sans-serif" font-size="7.7" font-weight="normal" text-anchor="start" fill="#000" stroke="#000" stroke-width="0.18">Damaged</text>
<path d="M151.45 94.20L150.73 94.20L150.73 89.80Q150.47 90.04 150.05 90.28Q149.63 90.52 149.29 90.64L149.29 89.97Q149.89 89.70 150.35 89.31Q150.80 88.92 150.99 88.56L151.45 88.56Z" fill="#000" stroke="#000" stroke-width="0.18" stroke-linejoin="round"/>
<text x="152.96" y="94.20" font-family="'Liberation Sans', sans-serif" font-size="8.2" font-weight="normal" fill="#000" stroke="#000" stroke-width="0.18">0.3</text>
<text x="246.50" y="131.00" font-family="'Liberation Sans', sans-serif" font-size="8.1" font-weight="normal" text-anchor="start" fill="#000" stroke="#000" stroke-width="0.18">Intact</text>
<text x="248.00" y="141.60" font-family="'Liberation Sans', sans-serif" font-size="8.2" font-weight="normal" text-anchor="start" fill="#000" stroke="#000" stroke-width="0.18">89.3</text>
<text x="201.30" y="249.80" font-family="'Liberation Serif', serif" font-size="13.7" font-weight="bold" text-anchor="middle" fill="#000"  textLength="102.6" lengthAdjust="spacingAndGlyphs">Log FL1-H (chnr)</text>
<text x="0" y="0" font-family="'Liberation Serif', serif" font-size="13.5" font-weight="bold" text-anchor="middle" textLength="101" lengthAdjust="spacingAndGlyphs" transform="translate(78.7 126.9) rotate(-90)">Log FL3-H (chnr)</text>
<path d="M303.60 127.70 L316.80 127.70" fill="none" stroke="#000" stroke-width="1.3" stroke-linejoin="miter" />
<path d="M310.90 122.00 L316.80 127.70 L310.90 133.40" fill="none" stroke="#000" stroke-width="1.3" stroke-linejoin="miter" />
<text x="0" y="0" font-family="'Liberation Serif', serif" font-size="13.5" font-weight="bold" text-anchor="middle" transform="translate(342.3 124.4) rotate(-90)">Count</text>
<path d="M356.20 81.00 L393.30 81.00 L393.60 80.20 L423.00 80.20 L423.30 79.60 L432.20 79.60 L432.50 78.80 L438.50 78.60 L439.90 78.80 L441.80 77.69 L443.10 73.55 L444.20 61.59 L444.70 50.73 L445.70 45.95 L446.80 40.61 L447.70 38.77 L448.70 31.60 L449.40 32.79 L449.90 45.95 L450.70 58.00 L451.60 63.34 L452.50 62.78 L453.50 56.80 L454.60 54.41 L455.50 43.56 L456.40 33.44 L456.90 34.63 L457.40 38.77 L458.10 39.97 L459.00 51.93 L460.00 62.78 L461.30 69.32 L462.40 71.71 L463.70 68.76 L465.00 58.00 L465.90 49.54 L466.80 47.79 L467.60 50.73 L468.50 61.59 L469.80 72.35 L471.10 75.94 L473.10 76.22 L474.60 75.66 L475.90 77.14 L477.60 79.53 L478.30 80.30 L485.40 80.30 L485.80 81.00 L546.70 81.00 Z" fill="#fed8b0" stroke="none"/>
<path d="M356.20 81.00 L393.30 81.00 L393.60 80.20 L423.00 80.20 L423.30 79.60 L432.20 79.60 L432.50 78.80 L438.50 78.60 L439.90 78.80 L441.80 77.69 L443.10 73.55 L444.20 61.59 L444.70 50.73 L445.70 45.95 L446.80 40.61 L447.70 38.77 L448.70 31.60 L449.40 32.79 L449.90 45.95 L450.70 58.00 L451.60 63.34 L452.50 62.78 L453.50 56.80 L454.60 54.41 L455.50 43.56 L456.40 33.44 L456.90 34.63 L457.40 38.77 L458.10 39.97 L459.00 51.93 L460.00 62.78 L461.30 69.32 L462.40 71.71 L463.70 68.76 L465.00 58.00 L465.90 49.54 L466.80 47.79 L467.60 50.73 L468.50 61.59 L469.80 72.35 L471.10 75.94 L473.10 76.22 L474.60 75.66 L475.90 77.14 L477.60 79.53 L478.30 80.30 L485.40 80.30 L485.80 81.00 L546.70 81.00" fill="none" stroke="#f7a050" stroke-width="1.1" stroke-linejoin="round"/>
<path d="M356.20 152.20 L434.00 152.20 L437.90 151.60 L439.90 150.90 L441.80 148.60 L443.10 144.10 L444.20 131.10 L444.70 119.30 L445.70 114.10 L446.80 108.30 L447.70 106.30 L448.70 98.50 L449.40 99.80 L449.90 114.10 L450.70 127.20 L451.60 133.00 L452.50 132.40 L453.50 125.90 L454.60 123.30 L455.50 111.50 L456.40 100.50 L456.90 101.80 L457.40 106.30 L458.10 107.60 L459.00 120.60 L460.00 132.40 L461.30 139.50 L462.40 142.10 L463.70 138.90 L465.00 127.20 L465.90 118.00 L466.80 116.10 L467.60 119.30 L468.50 131.10 L469.80 142.80 L471.10 146.70 L473.10 147.00 L474.60 146.40 L475.90 148.00 L477.60 150.60 L479.60 151.50 L485.40 151.60 L486.70 152.20 L546.70 152.20 Z" fill="#96e4fa" stroke="none"/>
<path d="M356.20 152.20 L434.00 152.20 L437.90 151.60 L439.90 150.90 L441.80 148.60 L443.10 144.10 L444.20 131.10 L444.70 119.30 L445.70 114.10 L446.80 108.30 L447.70 106.30 L448.70 98.50 L449.40 99.80 L449.90 114.10 L450.70 127.20 L451.60 133.00 L452.50 132.40 L453.50 125.90 L454.60 123.30 L455.50 111.50 L456.40 100.50 L456.90 101.80 L457.40 106.30 L458.10 107.60 L459.00 120.60 L460.00 132.40 L461.30 139.50 L462.40 142.10 L463.70 138.90 L465.00 127.20 L465.90 118.00 L466.80 116.10 L467.60 119.30 L468.50 131.10 L469.80 142.80 L471.10 146.70 L473.10 147.00 L474.60 146.40 L475.90 148.00 L477.60 150.60 L479.60 151.50 L485.40 151.60 L486.70 152.20 L546.70 152.20" fill="none" stroke="#2cc6f4" stroke-width="1.1" stroke-linejoin="round"/>
<path d="M356.20 223.40 L379.10 223.00 L385.00 222.80 L386.80 221.70 L388.20 221.90 L389.70 220.30 L391.50 219.20 L393.30 218.40 L394.80 218.80 L396.60 216.60 L398.80 214.40 L401.00 213.30 L402.80 211.90 L403.90 212.60 L405.40 214.20 L407.60 211.70 L409.00 212.20 L410.50 213.30 L412.00 212.60 L414.90 212.60 L417.10 214.10 L418.70 215.40 L420.70 213.30 L422.90 211.50 L425.70 209.80 L428.60 206.30 L430.60 208.30 L432.90 206.00 L434.70 206.70 L436.90 210.00 L439.10 212.30 L441.40 214.30 L443.00 212.70 L444.80 210.10 L447.90 211.80 L449.60 214.00 L451.40 217.50 L452.70 218.00 L454.40 217.10 L457.10 215.90 L458.80 217.50 L461.50 220.60 L464.10 220.30 L466.70 220.30 L468.90 221.50 L471.50 222.30 L473.30 222.80 L487.70 223.00 L546.70 223.40 Z" fill="#ffa7a9" stroke="none"/>
<path d="M379.10 223.00 L385.00 222.80 L386.80 221.70 L388.20 221.90 L389.70 220.30 L391.50 219.20 L393.30 218.40 L394.80 218.80 L396.60 216.60 L398.80 214.40 L401.00 213.30 L402.80 211.90 L403.90 212.60 L405.40 214.20 L407.60 211.70 L409.00 212.20 L410.50 213.30 L412.00 212.60 L414.90 212.60 L417.10 214.10 L418.70 215.40 L420.70 213.30 L422.90 211.50 L425.70 209.80 L428.60 206.30 L430.60 208.30 L432.90 206.00 L434.70 206.70 L436.90 210.00 L439.10 212.30 L441.40 214.30 L443.00 212.70 L444.80 210.10 L447.90 211.80 L449.60 214.00 L451.40 217.50 L452.70 218.00 L454.40 217.10 L457.10 215.90 L458.80 217.50 L461.50 220.60 L464.10 220.30 L466.70 220.30 L468.90 221.50 L471.50 222.30 L473.30 222.80 L487.70 223.00" fill="none" stroke="#ff5458" stroke-width="1.1" stroke-linejoin="round"/>
<line x1="355.70" y1="9.50" x2="547.20" y2="9.50" stroke="#4a4a4a" stroke-width="1.1" />
<line x1="546.70" y1="9.50" x2="546.70" y2="223.40" stroke="#4a4a4a" stroke-width="1.1" />
<line x1="355.60" y1="223.40" x2="547.30" y2="223.40" stroke="#333" stroke-width="1.2" />
<line x1="356.20" y1="9.50" x2="356.20" y2="223.40" stroke="#8f8f8f" stroke-width="1.3" />
<line x1="439.50" y1="9.50" x2="439.50" y2="223.40" stroke="#222" stroke-width="1.2" />
<line x1="451.60" y1="9.50" x2="451.60" y2="223.40" stroke="#222" stroke-width="1.2" />
<line x1="461.60" y1="9.50" x2="461.60" y2="223.40" stroke="#222" stroke-width="1.2" />
<line x1="471.20" y1="9.50" x2="471.20" y2="223.40" stroke="#222" stroke-width="1.2" />
<text x="399.60" y="8.00" font-family="'Liberation Serif', serif" font-size="7.6" font-weight="bold" text-anchor="middle" fill="#000" stroke="#000" stroke-width="0.2">1</text>
<text x="444.10" y="8.00" font-family="'Liberation Serif', serif" font-size="7.6" font-weight="bold" text-anchor="middle" fill="#000" stroke="#000" stroke-width="0.2">2</text>
<text x="456.30" y="8.00" font-family="'Liberation Serif', serif" font-size="7.6" font-weight="bold" text-anchor="middle" fill="#000" stroke="#000" stroke-width="0.2">3</text>
<text x="466.30" y="8.00" font-family="'Liberation Serif', serif" font-size="7.6" font-weight="bold" text-anchor="middle" fill="#000" stroke="#000" stroke-width="0.2">4</text>
<text x="506.40" y="8.00" font-family="'Liberation Serif', serif" font-size="7.6" font-weight="bold" text-anchor="middle" fill="#000" stroke="#000" stroke-width="0.2">5</text>
<text x="542.80" y="78.20" font-family="'Liberation Serif', serif" font-size="11.6" font-weight="bold" text-anchor="end" fill="#000"  textLength="25.3" lengthAdjust="spacingAndGlyphs">Total</text>
<text x="544.30" y="148.80" font-family="'Liberation Serif', serif" font-size="11.7" font-weight="bold" text-anchor="end" fill="#000"  textLength="28.8" lengthAdjust="spacingAndGlyphs">Intact</text>
<text x="543.60" y="219.10" font-family="'Liberation Serif', serif" font-size="11.6" font-weight="bold" text-anchor="end" fill="#000"  textLength="44.7" lengthAdjust="spacingAndGlyphs">Damaged</text>
<line x1="366.13" y1="223.40" x2="366.13" y2="226.30" stroke="#222" stroke-width="1.0" />
<line x1="388.14" y1="223.40" x2="388.14" y2="226.30" stroke="#222" stroke-width="1.0" />
<line x1="403.76" y1="223.40" x2="403.76" y2="226.30" stroke="#222" stroke-width="1.0" />
<line x1="415.87" y1="223.40" x2="415.87" y2="226.30" stroke="#222" stroke-width="1.0" />
<line x1="425.77" y1="223.40" x2="425.77" y2="226.30" stroke="#222" stroke-width="1.0" />
<line x1="434.14" y1="223.40" x2="434.14" y2="226.30" stroke="#222" stroke-width="1.0" />
<line x1="441.39" y1="223.40" x2="441.39" y2="226.30" stroke="#222" stroke-width="1.0" />
<line x1="447.78" y1="223.40" x2="447.78" y2="226.30" stroke="#222" stroke-width="1.0" />
<line x1="491.13" y1="223.40" x2="491.13" y2="226.30" stroke="#222" stroke-width="1.0" />
<line x1="513.14" y1="223.40" x2="513.14" y2="226.30" stroke="#222" stroke-width="1.0" />
<line x1="528.76" y1="223.40" x2="528.76" y2="226.30" stroke="#222" stroke-width="1.0" />
<line x1="540.87" y1="223.40" x2="540.87" y2="226.30" stroke="#222" stroke-width="1.0" />
<line x1="453.50" y1="223.40" x2="453.50" y2="228.70" stroke="#111" stroke-width="1.3" />
<text x="454.8" y="241.6" font-family="'Liberation Sans', sans-serif" font-size="8.3" fill="#1a1a1a" stroke="#1a1a1a" stroke-width="0.25" textLength="6.0" lengthAdjust="spacingAndGlyphs">10</text>
<text x="461.0" y="236.4" font-family="'Liberation Sans', sans-serif" font-size="8.3" fill="#1a1a1a" stroke="#1a1a1a" stroke-width="0.25" textLength="3.4" lengthAdjust="spacingAndGlyphs">2</text>
<text x="455.70" y="252.90" font-family="'Liberation Serif', serif" font-size="13.7" font-weight="bold" text-anchor="middle" fill="#000"  textLength="130.0" lengthAdjust="spacingAndGlyphs">Log pulse width (chnr)</text>
<text x="1.70" y="285.60" font-family="'Liberation Serif', serif" font-size="16.3" font-weight="bold" text-anchor="start" fill="#000"  textLength="21.0" lengthAdjust="spacingAndGlyphs">(b)</text>
<line x1="48.30" y1="315.20" x2="48.30" y2="453.30" stroke="#111" stroke-width="1.3" />
<line x1="42.30" y1="453.30" x2="253.60" y2="453.30" stroke="#111" stroke-width="1.3" />
<line x1="42.30" y1="453.30" x2="48.30" y2="453.30" stroke="#111" stroke-width="1.3" />
<text x="35.04" y="456.90" font-family="'Liberation Sans', sans-serif" font-size="10" font-weight="bold" fill="#111" stroke="#111" stroke-width="0.3">0</text>
<line x1="42.30" y1="425.80" x2="48.30" y2="425.80" stroke="#111" stroke-width="1.3" />
<text x="29.48" y="429.40" font-family="'Liberation Sans', sans-serif" font-size="10" font-weight="bold" fill="#111" stroke="#111" stroke-width="0.3">20</text>
<line x1="42.30" y1="398.30" x2="48.30" y2="398.30" stroke="#111" stroke-width="1.3" />
<text x="29.48" y="401.90" font-family="'Liberation Sans', sans-serif" font-size="10" font-weight="bold" fill="#111" stroke="#111" stroke-width="0.3">40</text>
<line x1="42.30" y1="370.80" x2="48.30" y2="370.80" stroke="#111" stroke-width="1.3" />
<text x="29.48" y="374.40" font-family="'Liberation Sans', sans-serif" font-size="10" font-weight="bold" fill="#111" stroke="#111" stroke-width="0.3">60</text>
<line x1="42.30" y1="343.30" x2="48.30" y2="343.30" stroke="#111" stroke-width="1.3" />
<text x="29.48" y="346.90" font-family="'Liberation Sans', sans-serif" font-size="10" font-weight="bold" fill="#111" stroke="#111" stroke-width="0.3">80</text>
<line x1="42.30" y1="315.80" x2="48.30" y2="315.80" stroke="#111" stroke-width="1.3" />
<path d="M27.92 319.40L26.55 319.40L26.55 314.45Q25.80 315.12 24.78 315.44L24.78 314.25Q25.32 314.09 25.95 313.61Q26.58 313.14 26.82 312.52L27.92 312.52Z" fill="#111" stroke="#111" stroke-width="0.3" stroke-linejoin="round"/>
<text x="29.48" y="319.40" font-family="'Liberation Sans', sans-serif" font-size="10" font-weight="bold" fill="#111" stroke="#111" stroke-width="0.3">00</text>
<line x1="48.30" y1="453.30" x2="48.30" y2="458.40" stroke="#111" stroke-width="1.3" />
<text x="41.35" y="470.40" font-family="'Liberation Sans', sans-serif" font-size="10" font-weight="bold" fill="#111" stroke="#111" stroke-width="0.3">0.0</text>
<line x1="89.25" y1="453.30" x2="89.25" y2="458.40" stroke="#111" stroke-width="1.3" />
<text x="82.30" y="470.40" font-family="'Liberation Sans', sans-serif" font-size="10" font-weight="bold" fill="#111" stroke="#111" stroke-width="0.3">0.5</text>
<line x1="130.20" y1="453.30" x2="130.20" y2="458.40" stroke="#111" stroke-width="1.3" />
<path d="M127.26 470.40L125.89 470.40L125.89 465.45Q125.13 466.12 124.12 466.44L124.12 465.25Q124.66 465.09 125.29 464.61Q125.92 464.14 126.15 463.52L127.26 463.52Z" fill="#111" stroke="#111" stroke-width="0.3" stroke-linejoin="round"/>
<text x="128.81" y="470.40" font-family="'Liberation Sans', sans-serif" font-size="10" font-weight="bold" fill="#111" stroke="#111" stroke-width="0.3">.0</text>
<line x1="171.15" y1="453.30" x2="171.15" y2="458.40" stroke="#111" stroke-width="1.3" />
<path d="M168.21 470.40L166.84 470.40L166.84 465.45Q166.08 466.12 165.07 466.44L165.07 465.25Q165.61 465.09 166.24 464.61Q166.87 464.14 167.10 463.52L168.21 463.52Z" fill="#111" stroke="#111" stroke-width="0.3" stroke-linejoin="round"/>
<text x="169.76" y="470.40" font-family="'Liberation Sans', sans-serif" font-size="10" font-weight="bold" fill="#111" stroke="#111" stroke-width="0.3">.5</text>
<line x1="212.10" y1="453.30" x2="212.10" y2="458.40" stroke="#111" stroke-width="1.3" />
<text x="205.15" y="470.40" font-family="'Liberation Sans', sans-serif" font-size="10" font-weight="bold" fill="#111" stroke="#111" stroke-width="0.3">2.0</text>
<line x1="253.05" y1="453.30" x2="253.05" y2="458.40" stroke="#111" stroke-width="1.3" />
<text x="246.10" y="470.40" font-family="'Liberation Sans', sans-serif" font-size="10" font-weight="bold" fill="#111" stroke="#111" stroke-width="0.3">2.5</text>
<circle cx="134.2" cy="403.4" r="2.75" fill="#000"/>
<circle cx="60" cy="420.8" r="2.75" fill="#000"/>
<circle cx="96.2" cy="397.3" r="2.75" fill="#000"/>
<circle cx="80.8" cy="421.8" r="2.75" fill="#000"/>
<circle cx="180.7" cy="362.2" r="2.75" fill="#000"/>
<circle cx="146.2" cy="419.2" r="2.75" fill="#000"/>
<circle cx="214.2" cy="360.7" r="2.75" fill="#000"/>
<circle cx="106.7" cy="391.8" r="2.75" fill="#000"/>
<circle cx="218.8" cy="363" r="2.75" fill="#000"/>
<circle cx="146.2" cy="402.5" r="2.75" fill="#000"/>
<circle cx="223.9" cy="351.8" r="2.75" fill="#000"/>
<circle cx="141.5" cy="395.6" r="2.75" fill="#000"/>
<circle cx="141" cy="416.3" r="2.75" fill="#000"/>
<circle cx="133.9" cy="416.7" r="2.75" fill="#000"/>
<circle cx="139.2" cy="416.7" r="2.75" fill="#000"/>
<path d="M130.28 405.80L129.65 405.80L129.65 401.94Q129.42 402.15 129.05 402.36Q128.68 402.57 128.38 402.67L128.38 402.08Q128.91 401.84 129.31 401.51Q129.71 401.17 129.87 400.85L130.28 400.85Z" fill="#000" stroke="#000" stroke-width="0.22" stroke-linejoin="round"/>
<text x="60.60" y="417.60" font-family="'Liberation Sans', sans-serif" font-size="7.2" font-weight="normal" fill="#000" stroke="#000" stroke-width="0.22">2</text>
<text x="94.00" y="407.90" font-family="'Liberation Sans', sans-serif" font-size="7.2" font-weight="normal" fill="#000" stroke="#000" stroke-width="0.22">3</text>
<text x="80.60" y="432.10" font-family="'Liberation Sans', sans-serif" font-size="7.2" font-weight="normal" fill="#000" stroke="#000" stroke-width="0.22">4</text>
<text x="186.10" y="364.80" font-family="'Liberation Sans', sans-serif" font-size="7.2" font-weight="normal" fill="#000" stroke="#000" stroke-width="0.22">5</text>
<text x="151.50" y="421.40" font-family="'Liberation Sans', sans-serif" font-size="7.2" font-weight="normal" fill="#000" stroke="#000" stroke-width="0.22">6</text>
<text x="210.20" y="357.50" font-family="'Liberation Sans', sans-serif" font-size="7.2" font-weight="normal" fill="#000" stroke="#000" stroke-width="0.22">7</text>
<text x="104.80" y="387.10" font-family="'Liberation Sans', sans-serif" font-size="7.2" font-weight="normal" fill="#000" stroke="#000" stroke-width="0.22">8</text>
<text x="222.70" y="367.40" font-family="'Liberation Sans', sans-serif" font-size="7.2" font-weight="normal" fill="#000" stroke="#000" stroke-width="0.22">9</text>
<path d="M154.88 404.70L154.25 404.70L154.25 400.84Q154.02 401.05 153.65 401.26Q153.28 401.47 152.98 401.57L152.98 400.98Q153.51 400.74 153.91 400.41Q154.31 400.07 154.47 399.75L154.88 399.75Z" fill="#000" stroke="#000" stroke-width="0.22" stroke-linejoin="round"/>
<text x="156.20" y="404.70" font-family="'Liberation Sans', sans-serif" font-size="7.2" font-weight="normal" fill="#000" stroke="#000" stroke-width="0.22">0</text>
<path d="M232.28 354.60L231.65 354.60L231.65 350.74Q231.42 350.95 231.05 351.16Q230.68 351.37 230.38 351.47L230.38 350.88Q230.91 350.64 231.31 350.31Q231.71 349.97 231.87 349.65L232.28 349.65Z" fill="#000" stroke="#000" stroke-width="0.22" stroke-linejoin="round"/>
<path d="M236.29 354.60L235.65 354.60L235.65 350.74Q235.43 350.95 235.05 351.16Q234.68 351.37 234.38 351.47L234.38 350.88Q234.92 350.64 235.31 350.31Q235.71 349.97 235.88 349.65L236.29 349.65Z" fill="#000" stroke="#000" stroke-width="0.22" stroke-linejoin="round"/>
<path d="M141.68 392.10L141.05 392.10L141.05 388.24Q140.82 388.45 140.45 388.66Q140.08 388.87 139.78 388.97L139.78 388.38Q140.31 388.14 140.71 387.81Q141.11 387.47 141.27 387.15L141.68 387.15Z" fill="#000" stroke="#000" stroke-width="0.22" stroke-linejoin="round"/>
<text x="143.00" y="392.10" font-family="'Liberation Sans', sans-serif" font-size="7.2" font-weight="normal" fill="#000" stroke="#000" stroke-width="0.22">2</text>
<path d="M144.48 414.30L143.85 414.30L143.85 410.44Q143.62 410.65 143.25 410.86Q142.88 411.07 142.58 411.17L142.58 410.58Q143.11 410.34 143.51 410.01Q143.91 409.67 144.07 409.35L144.48 409.35Z" fill="#000" stroke="#000" stroke-width="0.22" stroke-linejoin="round"/>
<text x="145.80" y="414.30" font-family="'Liberation Sans', sans-serif" font-size="7.2" font-weight="normal" fill="#000" stroke="#000" stroke-width="0.22">3</text>
<path d="M128.88 413.70L128.25 413.70L128.25 409.84Q128.02 410.05 127.65 410.26Q127.28 410.47 126.98 410.57L126.98 409.98Q127.51 409.74 127.91 409.41Q128.31 409.07 128.47 408.75L128.88 408.75Z" fill="#000" stroke="#000" stroke-width="0.22" stroke-linejoin="round"/>
<text x="130.20" y="413.70" font-family="'Liberation Sans', sans-serif" font-size="7.2" font-weight="normal" fill="#000" stroke="#000" stroke-width="0.22">4</text>
<path d="M136.68 426.40L136.05 426.40L136.05 422.54Q135.82 422.75 135.45 422.96Q135.08 423.17 134.78 423.27L134.78 422.68Q135.31 422.44 135.71 422.11Q136.11 421.77 136.27 421.45L136.68 421.45Z" fill="#000" stroke="#000" stroke-width="0.22" stroke-linejoin="round"/>
<text x="138.00" y="426.40" font-family="'Liberation Sans', sans-serif" font-size="7.2" font-weight="normal" fill="#000" stroke="#000" stroke-width="0.22">5</text>
<text x="150.90" y="487.40" font-family="'Liberation Sans', sans-serif" font-size="11" font-weight="bold" text-anchor="middle" fill="#111"  stroke="#111" stroke-width="0.3">&#916; log AFU/ml</text>
<text x="0" y="0" font-family="'Liberation Sans', sans-serif" font-size="12" font-weight="bold" text-anchor="middle" fill="#111" stroke="#111" stroke-width="0.3" textLength="169.5" lengthAdjust="spacingAndGlyphs" transform="translate(17.0 383.7) rotate(-90)">Frequency of cells in gate 2 (%)</text>
<text x="310.80" y="284.10" font-family="'Liberation Serif', serif" font-size="16" font-weight="bold" text-anchor="start" fill="#000"  textLength="19.0" lengthAdjust="spacingAndGlyphs">(c)</text>
<line x1="389.00" y1="315.80" x2="389.00" y2="454.00" stroke="#111" stroke-width="1.6" />
<line x1="383.30" y1="453.90" x2="594.80" y2="453.90" stroke="#111" stroke-width="1.5" />
<line x1="383.30" y1="453.70" x2="389.00" y2="453.70" stroke="#111" stroke-width="1.3" />
<text x="375.84" y="457.30" font-family="'Liberation Sans', sans-serif" font-size="10" font-weight="bold" fill="#111" stroke="#111" stroke-width="0.3">0</text>
<line x1="383.30" y1="426.24" x2="389.00" y2="426.24" stroke="#111" stroke-width="1.3" />
<text x="370.28" y="429.84" font-family="'Liberation Sans', sans-serif" font-size="10" font-weight="bold" fill="#111" stroke="#111" stroke-width="0.3">20</text>
<line x1="383.30" y1="398.78" x2="389.00" y2="398.78" stroke="#111" stroke-width="1.3" />
<text x="370.28" y="402.38" font-family="'Liberation Sans', sans-serif" font-size="10" font-weight="bold" fill="#111" stroke="#111" stroke-width="0.3">40</text>
<line x1="383.30" y1="371.32" x2="389.00" y2="371.32" stroke="#111" stroke-width="1.3" />
<text x="370.28" y="374.92" font-family="'Liberation Sans', sans-serif" font-size="10" font-weight="bold" fill="#111" stroke="#111" stroke-width="0.3">60</text>
<line x1="383.30" y1="343.86" x2="389.00" y2="343.86" stroke="#111" stroke-width="1.3" />
<text x="370.28" y="347.46" font-family="'Liberation Sans', sans-serif" font-size="10" font-weight="bold" fill="#111" stroke="#111" stroke-width="0.3">80</text>
<line x1="383.30" y1="316.40" x2="389.00" y2="316.40" stroke="#111" stroke-width="1.3" />
<path d="M368.72 320.00L367.35 320.00L367.35 315.05Q366.60 315.72 365.58 316.04L365.58 314.85Q366.12 314.69 366.75 314.21Q367.38 313.74 367.62 313.12L368.72 313.12Z" fill="#111" stroke="#111" stroke-width="0.3" stroke-linejoin="round"/>
<text x="370.28" y="320.00" font-family="'Liberation Sans', sans-serif" font-size="10" font-weight="bold" fill="#111" stroke="#111" stroke-width="0.3">00</text>
<rect x="393.60" y="401.25" width="8.60" height="52.45" fill="#fa0064" stroke="#1a1a1a" stroke-width="0.8"/>
<rect x="393.60" y="354.57" width="8.60" height="46.68" fill="#127f7c" stroke="#1a1a1a" stroke-width="0.8"/>
<rect x="393.60" y="326.42" width="8.60" height="28.15" fill="#41007f" stroke="#1a1a1a" stroke-width="0.8"/>
<rect x="393.60" y="319.97" width="8.60" height="6.45" fill="#ad62fd" stroke="#1a1a1a" stroke-width="0.8"/>
<line x1="397.90" y1="453.70" x2="397.90" y2="459.70" stroke="#111" stroke-width="1.3" />
<path d="M399.13 470.50L397.76 470.50L397.76 465.55Q397.00 466.22 395.99 466.54L395.99 465.35Q396.53 465.19 397.16 464.71Q397.79 464.24 398.02 463.62L399.13 463.62Z" fill="#111" stroke="#111" stroke-width="0.3" stroke-linejoin="round"/>
<rect x="406.98" y="452.33" width="8.60" height="1.37" fill="#000000" stroke="#1a1a1a" stroke-width="0.8"/>
<rect x="406.98" y="420.47" width="8.60" height="31.85" fill="#fa0064" stroke="#1a1a1a" stroke-width="0.8"/>
<rect x="406.98" y="375.03" width="8.60" height="45.45" fill="#127f7c" stroke="#1a1a1a" stroke-width="0.8"/>
<rect x="406.98" y="337.41" width="8.60" height="37.62" fill="#41007f" stroke="#1a1a1a" stroke-width="0.8"/>
<rect x="406.98" y="319.97" width="8.60" height="17.44" fill="#ad62fd" stroke="#1a1a1a" stroke-width="0.8"/>
<line x1="411.28" y1="453.70" x2="411.28" y2="459.70" stroke="#111" stroke-width="1.3" />
<text x="408.50" y="470.50" font-family="'Liberation Sans', sans-serif" font-size="10" font-weight="bold" fill="#111" stroke="#111" stroke-width="0.3">2</text>
<rect x="420.36" y="451.37" width="8.60" height="2.33" fill="#000000" stroke="#1a1a1a" stroke-width="0.8"/>
<rect x="420.36" y="356.63" width="8.60" height="94.74" fill="#fa0064" stroke="#1a1a1a" stroke-width="0.8"/>
<rect x="420.36" y="328.62" width="8.60" height="28.01" fill="#127f7c" stroke="#1a1a1a" stroke-width="0.8"/>
<rect x="420.36" y="321.21" width="8.60" height="7.41" fill="#41007f" stroke="#1a1a1a" stroke-width="0.8"/>
<rect x="420.36" y="319.01" width="8.60" height="2.20" fill="#ad62fd" stroke="#1a1a1a" stroke-width="0.8"/>
<line x1="424.66" y1="453.70" x2="424.66" y2="459.70" stroke="#111" stroke-width="1.3" />
<text x="421.88" y="470.50" font-family="'Liberation Sans', sans-serif" font-size="10" font-weight="bold" fill="#111" stroke="#111" stroke-width="0.3">3</text>
<rect x="433.74" y="453.29" width="8.60" height="0.41" fill="#000000" stroke="#1a1a1a" stroke-width="0.8"/>
<rect x="433.74" y="422.67" width="8.60" height="30.62" fill="#fa0064" stroke="#1a1a1a" stroke-width="0.8"/>
<rect x="433.74" y="377.50" width="8.60" height="45.17" fill="#127f7c" stroke="#1a1a1a" stroke-width="0.8"/>
<rect x="433.74" y="334.11" width="8.60" height="43.39" fill="#41007f" stroke="#1a1a1a" stroke-width="0.8"/>
<rect x="433.74" y="319.28" width="8.60" height="14.83" fill="#ad62fd" stroke="#1a1a1a" stroke-width="0.8"/>
<line x1="438.04" y1="453.70" x2="438.04" y2="459.70" stroke="#111" stroke-width="1.3" />
<text x="435.26" y="470.50" font-family="'Liberation Sans', sans-serif" font-size="10" font-weight="bold" fill="#111" stroke="#111" stroke-width="0.3">4</text>
<rect x="447.12" y="440.52" width="8.60" height="13.18" fill="#000000" stroke="#1a1a1a" stroke-width="0.8"/>
<rect x="447.12" y="345.23" width="8.60" height="95.29" fill="#fa0064" stroke="#1a1a1a" stroke-width="0.8"/>
<rect x="447.12" y="325.60" width="8.60" height="19.63" fill="#127f7c" stroke="#1a1a1a" stroke-width="0.8"/>
<rect x="447.12" y="322.72" width="8.60" height="2.88" fill="#41007f" stroke="#1a1a1a" stroke-width="0.8"/>
<rect x="447.12" y="322.17" width="8.60" height="0.55" fill="#ad62fd" stroke="#1a1a1a" stroke-width="0.8"/>
<line x1="451.42" y1="453.70" x2="451.42" y2="459.70" stroke="#111" stroke-width="1.3" />
<text x="448.64" y="470.50" font-family="'Liberation Sans', sans-serif" font-size="10" font-weight="bold" fill="#111" stroke="#111" stroke-width="0.3">5</text>
<rect x="460.50" y="453.43" width="8.60" height="0.27" fill="#000000" stroke="#1a1a1a" stroke-width="0.8"/>
<rect x="460.50" y="417.73" width="8.60" height="35.70" fill="#fa0064" stroke="#1a1a1a" stroke-width="0.8"/>
<rect x="460.50" y="373.93" width="8.60" height="43.80" fill="#127f7c" stroke="#1a1a1a" stroke-width="0.8"/>
<rect x="460.50" y="338.51" width="8.60" height="35.42" fill="#41007f" stroke="#1a1a1a" stroke-width="0.8"/>
<rect x="460.50" y="320.52" width="8.60" height="17.99" fill="#ad62fd" stroke="#1a1a1a" stroke-width="0.8"/>
<line x1="464.80" y1="453.70" x2="464.80" y2="459.70" stroke="#111" stroke-width="1.3" />
<text x="462.02" y="470.50" font-family="'Liberation Sans', sans-serif" font-size="10" font-weight="bold" fill="#111" stroke="#111" stroke-width="0.3">6</text>
<rect x="473.88" y="436.13" width="8.60" height="17.57" fill="#000000" stroke="#1a1a1a" stroke-width="0.8"/>
<rect x="473.88" y="333.15" width="8.60" height="102.97" fill="#fa0064" stroke="#1a1a1a" stroke-width="0.8"/>
<rect x="473.88" y="324.36" width="8.60" height="8.79" fill="#127f7c" stroke="#1a1a1a" stroke-width="0.8"/>
<rect x="473.88" y="323.26" width="8.60" height="1.10" fill="#41007f" stroke="#1a1a1a" stroke-width="0.8"/>
<rect x="473.88" y="322.99" width="8.60" height="0.27" fill="#ad62fd" stroke="#1a1a1a" stroke-width="0.8"/>
<line x1="478.18" y1="453.70" x2="478.18" y2="459.70" stroke="#111" stroke-width="1.3" />
<text x="475.40" y="470.50" font-family="'Liberation Sans', sans-serif" font-size="10" font-weight="bold" fill="#111" stroke="#111" stroke-width="0.3">7</text>
<rect x="487.26" y="453.43" width="8.60" height="0.27" fill="#000000" stroke="#1a1a1a" stroke-width="0.8"/>
<rect x="487.26" y="390.13" width="8.60" height="63.30" fill="#fa0064" stroke="#1a1a1a" stroke-width="0.8"/>
<rect x="487.26" y="340.84" width="8.60" height="49.29" fill="#127f7c" stroke="#1a1a1a" stroke-width="0.8"/>
<rect x="487.26" y="324.36" width="8.60" height="16.48" fill="#41007f" stroke="#1a1a1a" stroke-width="0.8"/>
<rect x="487.26" y="319.97" width="8.60" height="4.39" fill="#ad62fd" stroke="#1a1a1a" stroke-width="0.8"/>
<line x1="491.56" y1="453.70" x2="491.56" y2="459.70" stroke="#111" stroke-width="1.3" />
<text x="488.78" y="470.50" font-family="'Liberation Sans', sans-serif" font-size="10" font-weight="bold" fill="#111" stroke="#111" stroke-width="0.3">8</text>
<rect x="500.64" y="422.94" width="8.60" height="30.76" fill="#000000" stroke="#1a1a1a" stroke-width="0.8"/>
<rect x="500.64" y="330.27" width="8.60" height="92.68" fill="#fa0064" stroke="#1a1a1a" stroke-width="0.8"/>
<rect x="500.64" y="326.56" width="8.60" height="3.71" fill="#127f7c" stroke="#1a1a1a" stroke-width="0.8"/>
<rect x="500.64" y="324.91" width="8.60" height="1.65" fill="#41007f" stroke="#1a1a1a" stroke-width="0.8"/>
<rect x="500.64" y="324.78" width="8.60" height="0.14" fill="#ad62fd" stroke="#1a1a1a" stroke-width="0.8"/>
<line x1="504.94" y1="453.70" x2="504.94" y2="459.70" stroke="#111" stroke-width="1.3" />
<text x="502.16" y="470.50" font-family="'Liberation Sans', sans-serif" font-size="10" font-weight="bold" fill="#111" stroke="#111" stroke-width="0.3">9</text>
<rect x="514.02" y="452.33" width="8.60" height="1.37" fill="#000000" stroke="#1a1a1a" stroke-width="0.8"/>
<rect x="514.02" y="366.38" width="8.60" height="85.95" fill="#fa0064" stroke="#1a1a1a" stroke-width="0.8"/>
<rect x="514.02" y="331.91" width="8.60" height="34.46" fill="#127f7c" stroke="#1a1a1a" stroke-width="0.8"/>
<rect x="514.02" y="322.17" width="8.60" height="9.75" fill="#41007f" stroke="#1a1a1a" stroke-width="0.8"/>
<rect x="514.02" y="320.24" width="8.60" height="1.92" fill="#ad62fd" stroke="#1a1a1a" stroke-width="0.8"/>
<line x1="518.32" y1="453.70" x2="518.32" y2="459.70" stroke="#111" stroke-width="1.3" />
<path d="M516.77 470.50L515.40 470.50L515.40 465.55Q514.64 466.22 513.63 466.54L513.63 465.35Q514.16 465.19 514.79 464.71Q515.42 464.24 515.66 463.62L516.77 463.62Z" fill="#111" stroke="#111" stroke-width="0.3" stroke-linejoin="round"/>
<text x="518.32" y="470.50" font-family="'Liberation Sans', sans-serif" font-size="10" font-weight="bold" fill="#111" stroke="#111" stroke-width="0.3">0</text>
<rect x="527.40" y="448.35" width="8.60" height="5.35" fill="#000000" stroke="#1a1a1a" stroke-width="0.8"/>
<rect x="527.40" y="342.49" width="8.60" height="105.86" fill="#fa0064" stroke="#1a1a1a" stroke-width="0.8"/>
<rect x="527.40" y="325.19" width="8.60" height="17.30" fill="#127f7c" stroke="#1a1a1a" stroke-width="0.8"/>
<rect x="527.40" y="321.62" width="8.60" height="3.57" fill="#41007f" stroke="#1a1a1a" stroke-width="0.8"/>
<rect x="527.40" y="320.24" width="8.60" height="1.37" fill="#ad62fd" stroke="#1a1a1a" stroke-width="0.8"/>
<line x1="531.70" y1="453.70" x2="531.70" y2="459.70" stroke="#111" stroke-width="1.3" />
<path d="M530.15 470.50L528.78 470.50L528.78 465.55Q528.02 466.22 527.01 466.54L527.01 465.35Q527.54 465.19 528.17 464.71Q528.80 464.24 529.04 463.62L530.15 463.62Z" fill="#111" stroke="#111" stroke-width="0.3" stroke-linejoin="round"/>
<path d="M535.71 470.50L534.34 470.50L534.34 465.55Q533.58 466.22 532.57 466.54L532.57 465.35Q533.11 465.19 533.74 464.71Q534.37 464.24 534.60 463.62L535.71 463.62Z" fill="#111" stroke="#111" stroke-width="0.3" stroke-linejoin="round"/>
<rect x="540.78" y="453.29" width="8.60" height="0.41" fill="#000000" stroke="#1a1a1a" stroke-width="0.8"/>
<rect x="540.78" y="393.15" width="8.60" height="60.14" fill="#fa0064" stroke="#1a1a1a" stroke-width="0.8"/>
<rect x="540.78" y="343.31" width="8.60" height="49.84" fill="#127f7c" stroke="#1a1a1a" stroke-width="0.8"/>
<rect x="540.78" y="325.87" width="8.60" height="17.44" fill="#41007f" stroke="#1a1a1a" stroke-width="0.8"/>
<rect x="540.78" y="320.24" width="8.60" height="5.63" fill="#ad62fd" stroke="#1a1a1a" stroke-width="0.8"/>
<line x1="545.08" y1="453.70" x2="545.08" y2="459.70" stroke="#111" stroke-width="1.3" />
<path d="M543.53 470.50L542.16 470.50L542.16 465.55Q541.40 466.22 540.39 466.54L540.39 465.35Q540.92 465.19 541.55 464.71Q542.18 464.24 542.42 463.62L543.53 463.62Z" fill="#111" stroke="#111" stroke-width="0.3" stroke-linejoin="round"/>
<text x="545.08" y="470.50" font-family="'Liberation Sans', sans-serif" font-size="10" font-weight="bold" fill="#111" stroke="#111" stroke-width="0.3">2</text>
<rect x="554.16" y="449.72" width="8.60" height="3.98" fill="#000000" stroke="#1a1a1a" stroke-width="0.8"/>
<rect x="554.16" y="386.97" width="8.60" height="62.75" fill="#fa0064" stroke="#1a1a1a" stroke-width="0.8"/>
<rect x="554.16" y="348.67" width="8.60" height="38.31" fill="#127f7c" stroke="#1a1a1a" stroke-width="0.8"/>
<rect x="554.16" y="326.01" width="8.60" height="22.65" fill="#41007f" stroke="#1a1a1a" stroke-width="0.8"/>
<rect x="554.16" y="320.24" width="8.60" height="5.77" fill="#ad62fd" stroke="#1a1a1a" stroke-width="0.8"/>
<line x1="558.46" y1="453.70" x2="558.46" y2="459.70" stroke="#111" stroke-width="1.3" />
<path d="M556.91 470.50L555.54 470.50L555.54 465.55Q554.78 466.22 553.77 466.54L553.77 465.35Q554.30 465.19 554.93 464.71Q555.56 464.24 555.80 463.62L556.91 463.62Z" fill="#111" stroke="#111" stroke-width="0.3" stroke-linejoin="round"/>
<text x="558.46" y="470.50" font-family="'Liberation Sans', sans-serif" font-size="10" font-weight="bold" fill="#111" stroke="#111" stroke-width="0.3">3</text>
<rect x="567.54" y="448.62" width="8.60" height="5.08" fill="#000000" stroke="#1a1a1a" stroke-width="0.8"/>
<rect x="567.54" y="381.48" width="8.60" height="67.14" fill="#fa0064" stroke="#1a1a1a" stroke-width="0.8"/>
<rect x="567.54" y="344.41" width="8.60" height="37.07" fill="#127f7c" stroke="#1a1a1a" stroke-width="0.8"/>
<rect x="567.54" y="323.95" width="8.60" height="20.46" fill="#41007f" stroke="#1a1a1a" stroke-width="0.8"/>
<rect x="567.54" y="319.70" width="8.60" height="4.26" fill="#ad62fd" stroke="#1a1a1a" stroke-width="0.8"/>
<line x1="571.84" y1="453.70" x2="571.84" y2="459.70" stroke="#111" stroke-width="1.3" />
<path d="M570.29 470.50L568.92 470.50L568.92 465.55Q568.16 466.22 567.15 466.54L567.15 465.35Q567.68 465.19 568.31 464.71Q568.94 464.24 569.18 463.62L570.29 463.62Z" fill="#111" stroke="#111" stroke-width="0.3" stroke-linejoin="round"/>
<text x="571.84" y="470.50" font-family="'Liberation Sans', sans-serif" font-size="10" font-weight="bold" fill="#111" stroke="#111" stroke-width="0.3">4</text>
<rect x="580.92" y="449.17" width="8.60" height="4.53" fill="#000000" stroke="#1a1a1a" stroke-width="0.8"/>
<rect x="580.92" y="383.13" width="8.60" height="66.04" fill="#fa0064" stroke="#1a1a1a" stroke-width="0.8"/>
<rect x="580.92" y="345.78" width="8.60" height="37.35" fill="#127f7c" stroke="#1a1a1a" stroke-width="0.8"/>
<rect x="580.92" y="325.19" width="8.60" height="20.60" fill="#41007f" stroke="#1a1a1a" stroke-width="0.8"/>
<rect x="580.92" y="320.24" width="8.60" height="4.94" fill="#ad62fd" stroke="#1a1a1a" stroke-width="0.8"/>
<line x1="585.22" y1="453.70" x2="585.22" y2="459.70" stroke="#111" stroke-width="1.3" />
<path d="M583.67 470.50L582.30 470.50L582.30 465.55Q581.54 466.22 580.53 466.54L580.53 465.35Q581.06 465.19 581.69 464.71Q582.32 464.24 582.56 463.62L583.67 463.62Z" fill="#111" stroke="#111" stroke-width="0.3" stroke-linejoin="round"/>
<text x="585.22" y="470.50" font-family="'Liberation Sans', sans-serif" font-size="10" font-weight="bold" fill="#111" stroke="#111" stroke-width="0.3">5</text>
<path d="M452.02 472.1 L455.42 478.8 L453.12 478.0 L453.12 480.0 L450.92 480.0 L450.92 478.0 L448.62 478.8 Z" fill="#000" stroke="#000" stroke-width="0.3" stroke-linejoin="round"/>
<path d="M478.78 472.1 L482.18 478.8 L479.88 478.0 L479.88 480.0 L477.68 480.0 L477.68 478.0 L475.38 478.8 Z" fill="#000" stroke="#000" stroke-width="0.3" stroke-linejoin="round"/>
<path d="M505.54 472.1 L508.94 478.8 L506.64 478.0 L506.64 480.0 L504.44 480.0 L504.44 478.0 L502.14 478.8 Z" fill="#000" stroke="#000" stroke-width="0.3" stroke-linejoin="round"/>
<path d="M532.30 472.1 L535.70 478.8 L533.40 478.0 L533.40 480.0 L531.20 480.0 L531.20 478.0 L528.90 478.8 Z" fill="#000" stroke="#000" stroke-width="0.3" stroke-linejoin="round"/>
<text x="491.40" y="487.20" font-family="'Liberation Sans', sans-serif" font-size="11" font-weight="bold" text-anchor="middle" fill="#111"  stroke="#111" stroke-width="0.3">Conditions</text>
<text x="0" y="0" font-family="'Liberation Sans', sans-serif" font-size="12" font-weight="bold" text-anchor="middle" fill="#111" stroke="#111" stroke-width="0.3" textLength="200" lengthAdjust="spacingAndGlyphs" transform="translate(358.4 384.8) rotate(-90)">Frequency of intact cells in gates (%)</text>
<rect x="625.60" y="322.80" width="14.00" height="7.00" fill="#000000" stroke="#1a1a1a" stroke-width="0.8"/>
<text x="648.00" y="330.10" font-family="'Liberation Sans', sans-serif" font-size="11.5" font-weight="bold" fill="#111" stroke="#111" stroke-width="0.3">Gate </text>
<path d="M681.37 330.10L679.79 330.10L679.79 324.41Q678.93 325.18 677.76 325.55L677.76 324.18Q678.38 323.99 679.10 323.45Q679.83 322.90 680.10 322.19L681.37 322.19Z" fill="#111" stroke="#111" stroke-width="0.3" stroke-linejoin="round"/>
<rect x="625.60" y="341.90" width="14.00" height="7.00" fill="#fa0064" stroke="#1a1a1a" stroke-width="0.8"/>
<text x="648.00" y="349.20" font-family="'Liberation Sans', sans-serif" font-size="11.5" font-weight="bold" fill="#111" stroke="#111" stroke-width="0.3">Gate 2</text>
<rect x="625.60" y="361.00" width="14.00" height="7.00" fill="#127f7c" stroke="#1a1a1a" stroke-width="0.8"/>
<text x="648.00" y="368.30" font-family="'Liberation Sans', sans-serif" font-size="11.5" font-weight="bold" fill="#111" stroke="#111" stroke-width="0.3">Gate 3</text>
<rect x="625.60" y="380.10" width="14.00" height="7.00" fill="#41007f" stroke="#1a1a1a" stroke-width="0.8"/>
<text x="648.00" y="387.40" font-family="'Liberation Sans', sans-serif" font-size="11.5" font-weight="bold" fill="#111" stroke="#111" stroke-width="0.3">Gate 4</text>
<rect x="625.60" y="399.20" width="14.00" height="7.00" fill="#ad62fd" stroke="#1a1a1a" stroke-width="0.8"/>
<text x="648.00" y="406.50" font-family="'Liberation Sans', sans-serif" font-size="11.5" font-weight="bold" fill="#111" stroke="#111" stroke-width="0.3">Gate 5</text>
</svg>
</body></html>
